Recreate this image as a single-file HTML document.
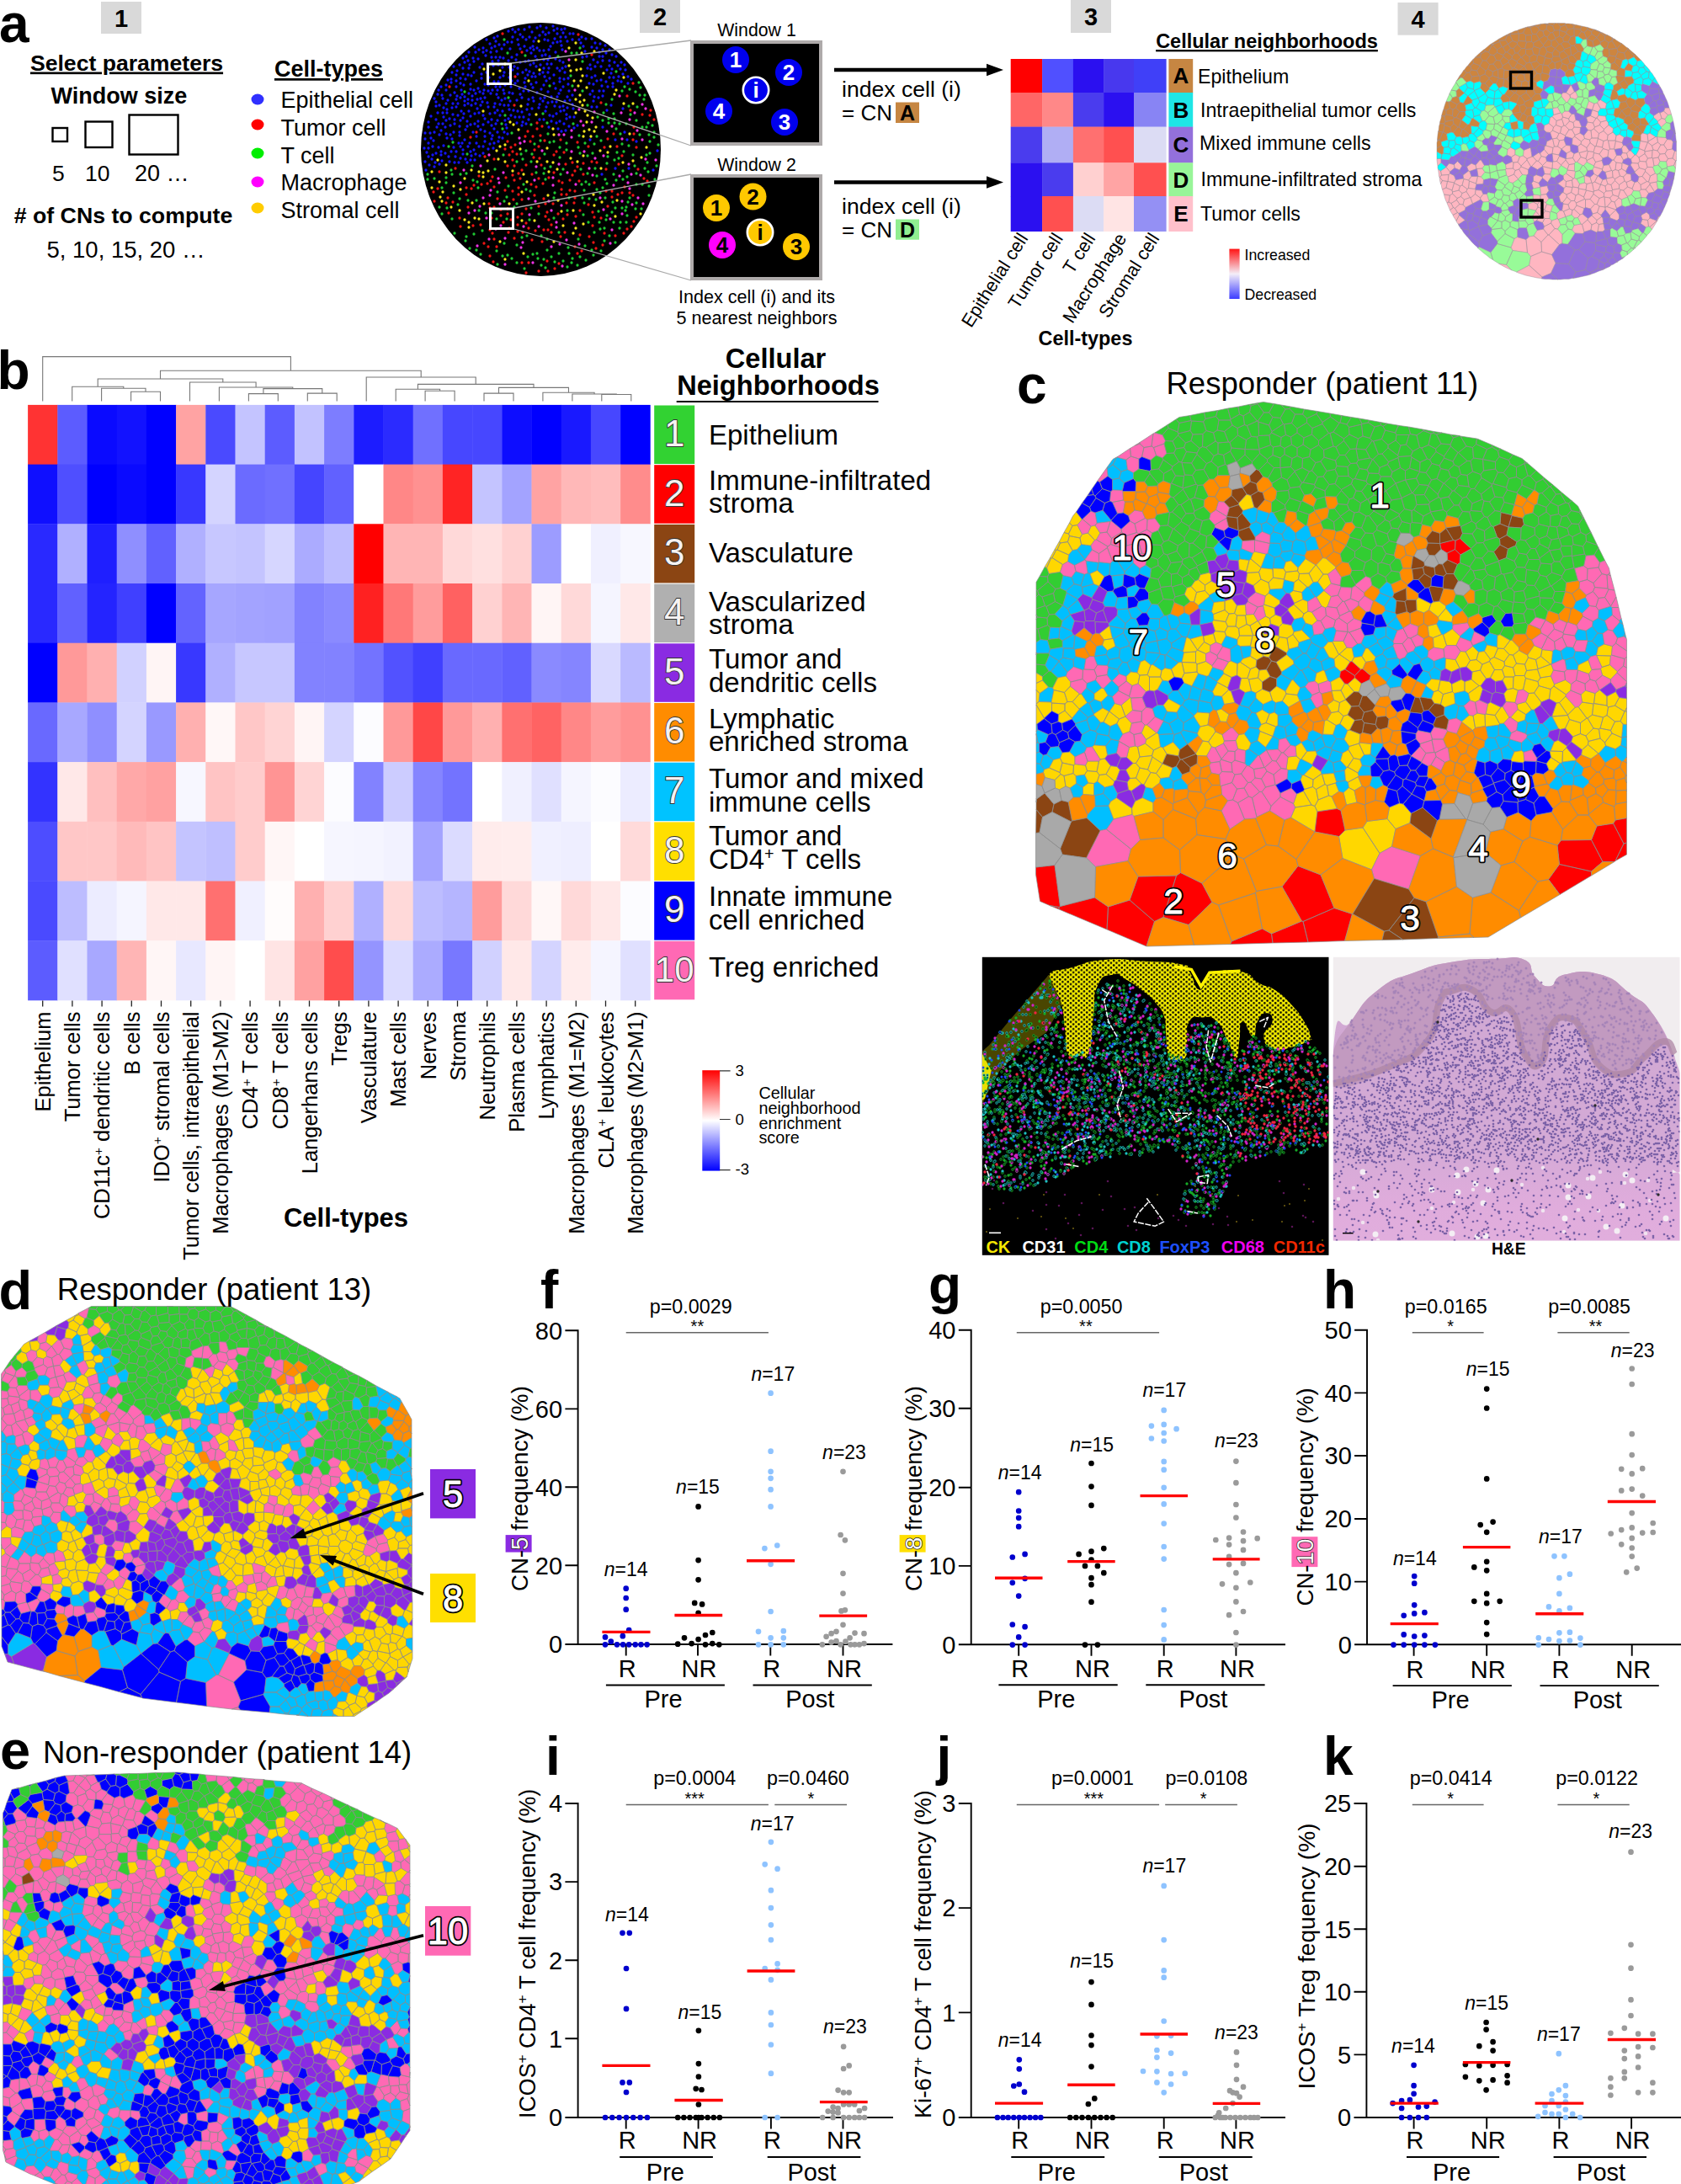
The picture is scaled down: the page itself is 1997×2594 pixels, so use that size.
<!DOCTYPE html>
<html lang="en"><head><meta charset="utf-8"><title>Figure</title>
<style>html,body{margin:0;padding:0;background:#fff}svg{display:block}text{font-family:"Liberation Sans", Arial, sans-serif}</style></head>
<body><svg width="1997" height="2594" viewBox="0 0 1997 2594">
<rect width="1997" height="2594" fill="#fff"/>
<text x="-1" y="50" font-size="64" font-weight="bold">a</text>
<rect x="120" y="2" width="48" height="38" fill="#d9d9d9"/>
<text x="144" y="31.5" font-size="29" text-anchor="middle" font-weight="bold">1</text>
<rect x="760" y="0" width="48" height="39" fill="#d9d9d9"/>
<text x="784" y="30" font-size="29" text-anchor="middle" font-weight="bold">2</text>
<rect x="1272" y="0" width="48" height="39" fill="#d9d9d9"/>
<text x="1296" y="30" font-size="29" text-anchor="middle" font-weight="bold">3</text>
<rect x="1660.5" y="3" width="48.1" height="38.7" fill="#d9d9d9"/>
<text x="1684.5" y="32.9" font-size="29" text-anchor="middle" font-weight="bold">4</text>
<text x="150.5" y="83.5" font-size="26.6" text-anchor="middle" font-weight="bold" text-decoration="underline">Select parameters</text>
<text x="141.5" y="123" font-size="27" text-anchor="middle" font-weight="bold">Window size</text>
<rect x="62.5" y="152" width="17.5" height="16" fill="none" stroke="#000" stroke-width="2.4"/>
<rect x="101.5" y="144.5" width="32" height="30.5" fill="none" stroke="#000" stroke-width="2.4"/>
<rect x="153.5" y="136.5" width="58" height="47" fill="none" stroke="#000" stroke-width="2.4"/>
<text x="62" y="215" font-size="26.5">5</text>
<text x="101" y="215" font-size="26.5">10</text>
<text x="160" y="215" font-size="27">20 …</text>
<text x="146.5" y="265" font-size="26.7" text-anchor="middle" font-weight="bold"># of CNs to compute</text>
<text x="149.5" y="306" font-size="27.5" text-anchor="middle">5, 10, 15, 20 …</text>
<text x="390.5" y="91" font-size="27" text-anchor="middle" font-weight="bold" text-decoration="underline">Cell-types</text>
<ellipse cx="306" cy="118" rx="7.5" ry="6.5" fill="#3030ff"/>
<text x="333.5" y="128" font-size="27">Epithelial cell</text>
<ellipse cx="306" cy="148" rx="7.5" ry="6.5" fill="#ff0000"/>
<text x="333.5" y="161" font-size="27">Tumor cell</text>
<ellipse cx="306" cy="182" rx="7.5" ry="6.5" fill="#00ee00"/>
<text x="333.5" y="193.5" font-size="27">T cell</text>
<ellipse cx="306" cy="216" rx="7.5" ry="6.5" fill="#ff00ff"/>
<text x="333.5" y="226" font-size="27">Macrophage</text>
<ellipse cx="306" cy="247" rx="7.5" ry="6.5" fill="#ffcc00"/>
<text x="333.5" y="258.5" font-size="27">Stromal cell</text>
<ellipse cx="642.5" cy="177.5" rx="142.5" ry="150.5" fill="#000"/>
<path d="M592 72h0M653 137h0M511 158h0M682 139h0M586 176h0M674 49h0M522 195h0M597 132h0M642 77h0M539 157h0M608 96h0M737 82h0M598 107h0M651 71h0M574 137h0M565 183h0M556 89h0M735 91h0M649 33h0M549 170h0M535 160h0M546 157h0M556 123h0M530 107h0M577 66h0M716 114h0M615 132h0M573 76h0M584 165h0M588 134h0M526 147h0M587 97h0M538 136h0M688 47h0M521 107h0M641 142h0M542 103h0M505 165h0M628 108h0M628 118h0M618 112h0M686 149h0M570 80h0M579 122h0M553 94h0M702 82h0M590 61h0M626 60h0M627 124h0M732 67h0M580 108h0M625 83h0M570 185h0M632 38h0M566 162h0M646 81h0M617 139h0M509 176h0M661 135h0M677 139h0M587 153h0M623 55h0M606 87h0M542 127h0M514 174h0M516 198h0M652 151h0M524 180h0M740 88h0M555 144h0M680 113h0M509 151h0M734 78h0M581 92h0M614 146h0M559 106h0M599 125h0M571 125h0M542 118h0M638 33h0M572 93h0M557 132h0M558 170h0M605 130h0M633 116h0M607 103h0M580 101h0M743 83h0M559 148h0M551 135h0M527 173h0M660 105h0M591 157h0M731 200h0M618 58h0M705 100h0M662 115h0M671 120h0M599 53h0M720 97h0M670 131h0M557 81h0M670 147h0M517 193h0M574 182h0M638 57h0M592 97h0M531 164h0M568 144h0M582 135h0M648 132h0M520 134h0M747 200h0M535 149h0M571 154h0M651 48h0M584 149h0M525 191h0M746 99h0M663 153h0M673 141h0M706 115h0M646 60h0M681 40h0M716 59h0M548 107h0M666 132h0M660 62h0M615 47h0M600 101h0M537 86h0M605 92h0M693 55h0M705 71h0M701 166h0M556 118h0M721 131h0M675 93h0M548 132h0M697 67h0M592 168h0M613 71h0M705 120h0M657 138h0M547 116h0M599 86h0M527 139h0M631 63h0M557 62h0M569 134h0M717 108h0M594 92h0M665 127h0M643 106h0M510 196h0M586 78h0M560 125h0M618 41h0M604 72h0M564 190h0M580 127h0M712 108h0M607 137h0M550 183h0M728 103h0M600 143h0M553 189h0M597 164h0M642 31h0M547 93h0M546 161h0M556 72h0M612 38h0M547 188h0M509 145h0M665 97h0M703 46h0M731 166h0M598 69h0M515 167h0M547 143h0M680 47h0M616 53h0M588 123h0M530 101h0M576 116h0M534 141h0M641 42h0M576 100h0M532 119h0M519 151h0M578 47h0M540 110h0M532 95h0M636 67h0M559 100h0M625 47h0M541 186h0M655 115h0M742 157h0M652 59h0M561 114h0M715 102h0M697 90h0M724 59h0M637 79h0M746 91h0M634 120h0M703 56h0M550 69h0M669 103h0M536 94h0M634 49h0M575 107h0M589 49h0M649 127h0M507 181h0M629 85h0M632 129h0M659 46h0M565 123h0M691 44h0M591 131h0M559 190h0M662 34h0M552 115h0M672 44h0M710 74h0M727 82h0M633 55h0M546 150h0M634 87h0M545 193h0M726 125h0M608 50h0M715 207h0M550 81h0M660 70h0M716 72h0M559 180h0M518 142h0M651 86h0M756 168h0M656 121h0M535 113h0M658 89h0M652 81h0M655 76h0M727 65h0M514 184h0M615 96h0M623 98h0M574 62h0M563 73h0M505 192h0M552 74h0M625 147h0M701 77h0M646 71h0M709 96h0M665 93h0M665 84h0M709 57h0M524 103h0M571 117h0M716 151h0M574 174h0M584 142h0M672 79h0M587 45h0M565 62h0M582 52h0M638 71h0M606 58h0M539 175h0M629 32h0M728 99h0M615 81h0M614 65h0M629 136h0M516 117h0M642 117h0M576 168h0M716 67h0M655 144h0M594 124h0M700 99h0M651 109h0M566 96h0M550 178h0M707 79h0M544 137h0M647 116h0M658 36h0M653 67h0M738 97h0M562 157h0M740 129h0M745 166h0M563 178h0M617 105h0M722 103h0M569 59h0M659 126h0M623 35h0M714 95h0M662 50h0M661 146h0M559 138h0M605 110h0M634 59h0M547 99h0M536 180h0M593 53h0M569 174h0M527 128h0M645 38h0M629 44h0M594 68h0M606 120h0M612 139h0M677 40h0M636 45h0M666 49h0M583 62h0M603 50h0M518 126h0M542 180h0M554 67h0M620 116h0M521 175h0M521 147h0M630 77h0M589 68h0M641 88h0M738 74h0M562 69h0M512 164h0M524 155h0M512 138h0M658 99h0M526 134h0M644 66h0M563 86h0M592 77h0M566 170h0M647 91h0M597 80h0M657 51h0M557 111h0M633 104h0M598 90h0M612 99h0M664 111h0M524 184h0M661 121h0M681 129h0M608 68h0M605 80h0M596 58h0M670 94h0M703 92h0M542 96h0M632 91h0M604 141h0M505 158h0M711 116h0M726 87h0M671 86h0M701 112h0M676 150h0M589 103h0M539 79h0M720 63h0M614 119h0M662 40h0M552 166h0M695 61h0M672 155h0M563 107h0M576 156h0M582 158h0M574 148h0M636 91h0M564 147h0M513 189h0M724 78h0M549 112h0M525 113h0M534 192h0M648 65h0M556 174h0M667 54h0M609 111h0M543 84h0M729 92h0M560 90h0M530 143h0M750 94h0M594 137h0M622 139h0M587 170h0M603 159h0M531 134h0M593 163h0M651 122h0M620 149h0M567 118h0M600 117h0M558 77h0M568 70h0M591 43h0M564 135h0M574 57h0M553 154h0M561 119h0M609 83h0M580 177h0M590 112h0M518 182h0M628 142h0M628 72h0M652 39h0M698 81h0M555 193h0M504 176h0M640 128h0M621 86h0M594 103h0M704 108h0M506 202h0M520 112h0M730 74h0M589 147h0M538 123h0M530 123h0M707 51h0M585 73h0M544 123h0M622 108h0M676 108h0M667 35h0M583 111h0M709 127h0M714 79h0M551 101h0M518 121h0M584 68h0M671 34h0M674 128h0M719 54h0M545 170h0M742 77h0M537 165h0M668 81h0M713 52h0M654 55h0M646 142h0M596 119h0M585 107h0M677 119h0M665 72h0M712 67h0M615 88h0M665 144h0M546 77h0M611 79h0M555 150h0M587 127h0M653 93h0M673 136h0M529 151h0M509 170h0M626 130h0M568 105h0M646 101h0M666 44h0M641 124h0M591 107h0M680 124h0M601 148h0M580 145h0M616 35h0M637 98h0M588 55h0M609 35h0M568 150h0M666 107h0M692 68h0M604 37h0M734 96h0M542 89h0M647 47h0M552 120h0M721 83h0M573 121h0M540 147h0M550 88h0M674 115h0M543 114h0M602 152h0M624 73h0M657 31h0M599 157h0M781 179h0M580 80h0M604 125h0M724 92h0M638 110h0M591 143h0M668 59h0M531 130h0M584 57h0M592 116h0M669 39h0M621 44h0M582 171h0M529 182h0M560 185h0M516 157h0M630 57h0M620 133h0M522 125h0M627 89h0M522 160h0M645 120h0M624 93h0M690 51h0M650 76h0M712 62h0M776 202h0M533 186h0M609 44h0M570 109h0M599 111h0M634 75h0M537 128h0M649 96h0M667 156h0M530 159h0M682 152h0M662 81h0M540 193h0M576 141h0M669 74h0M576 162h0M707 90h0M567 129h0M648 41h0M578 86h0M509 186h0M675 100h0M641 60h0M669 126h0M645 86h0M585 161h0M565 111h0M526 117h0M547 174h0M624 103h0M724 72h0M621 145h0M618 74h0M564 56h0M572 88h0M540 142h0M703 127h0M610 131h0M536 98h0M631 100h0M552 125h0M578 60h0M574 111h0M550 140h0M696 46h0" stroke="#1414ff" stroke-width="3.3" stroke-linecap="round" fill="none"/>
<path d="M621 276h0M745 114h0M763 136h0M601 211h0M652 211h0M612 172h0M652 261h0M772 137h0M646 236h0M709 193h0M748 229h0M635 178h0M611 125h0M647 167h0M595 256h0M605 271h0M684 257h0M586 311h0M612 91h0M554 223h0M670 181h0M616 223h0M671 276h0M682 241h0M597 40h0M727 227h0M556 246h0M752 166h0M741 277h0M614 183h0M722 165h0M583 215h0M604 276h0M618 212h0M581 242h0M689 250h0M720 201h0M752 99h0M700 281h0M580 293h0M683 203h0M620 237h0M562 268h0M739 229h0M591 236h0M749 131h0M703 65h0M673 231h0M603 197h0M686 169h0M595 249h0M753 159h0M587 222h0M584 259h0M625 248h0M642 161h0M541 200h0M651 273h0M582 273h0M735 195h0M538 240h0M718 277h0M637 222h0M554 231h0M603 168h0M645 218h0M616 231h0M683 227h0M686 301h0M609 227h0M752 232h0M560 224h0M758 201h0M641 188h0M691 298h0M706 217h0M636 274h0M661 180h0M731 280h0M532 235h0M686 198h0M571 267h0M689 279h0M720 227h0M605 184h0M566 157h0M742 222h0M688 215h0M722 245h0M598 264h0M704 252h0M765 212h0M704 268h0M677 226h0M632 207h0M625 265h0M579 218h0M587 246h0M683 235h0M727 234h0M607 175h0M769 215h0M627 156h0M650 252h0M533 253h0M600 177h0M640 174h0M585 210h0M673 241h0M620 202h0M620 312h0M658 205h0M733 174h0M625 324h0M674 255h0M559 163h0M643 196h0M634 187h0M659 319h0M666 166h0M582 247h0M609 208h0M620 254h0M515 228h0M569 209h0M603 248h0M714 259h0M699 174h0M729 159h0M635 232h0M750 269h0M655 267h0M522 204h0M658 184h0M520 224h0M640 212h0M611 214h0M663 254h0M705 288h0M582 304h0M576 186h0M603 254h0M644 150h0M664 313h0M664 215h0M693 207h0M615 258h0M714 122h0M587 189h0M739 185h0M530 241h0M624 162h0M734 231h0M534 103h0M572 219h0M609 180h0M625 196h0M648 257h0M699 243h0M677 214h0M706 258h0M753 151h0M600 226h0M668 217h0M669 260h0M703 192h0M680 208h0M745 272h0M633 162h0M609 190h0M650 310h0M672 195h0M590 293h0M546 259h0M753 263h0M667 225h0M628 271h0M687 41h0M657 242h0M646 273h0M638 146h0M547 269h0M610 237h0M615 267h0M648 242h0M777 142h0M683 293h0M616 206h0M718 175h0M516 239h0M655 276h0M773 131h0M680 193h0M620 62h0M640 245h0M708 295h0M666 281h0M638 153h0M585 277h0M756 258h0M716 291h0M756 175h0M563 220h0M615 275h0M667 231h0M630 168h0M611 197h0M575 289h0M640 322h0M693 194h0M644 287h0M587 284h0M607 261h0M628 312h0M611 283h0M632 285h0M651 322h0M631 219h0" stroke="#f01414" stroke-width="3.3" stroke-linecap="round" fill="none"/>
<path d="M679 312h0M588 201h0M771 232h0M533 174h0M614 312h0M760 160h0M659 311h0M544 243h0M727 252h0M719 213h0M692 235h0M566 297h0M590 260h0M614 291h0M638 301h0M577 253h0M756 143h0M651 159h0M680 102h0M765 118h0M678 90h0M721 256h0M688 161h0M732 85h0M563 278h0M637 205h0M710 139h0M755 248h0M728 240h0M669 201h0M530 211h0M706 171h0M653 169h0M599 239h0M699 264h0M622 219h0M540 277h0M547 207h0M760 113h0M698 206h0M604 221h0M731 288h0M752 184h0M530 217h0M747 173h0M633 302h0M777 157h0M539 229h0M531 247h0M650 146h0M655 305h0M772 182h0M631 192h0M711 251h0M647 183h0M740 203h0M720 124h0M590 298h0M658 168h0M771 160h0M679 63h0M556 238h0M650 297h0M744 264h0M689 182h0M721 218h0M782 172h0M597 304h0M516 212h0M621 189h0M714 167h0M698 125h0M567 216h0M689 305h0M692 73h0M761 104h0M658 259h0M525 254h0M694 241h0M608 158h0M704 182h0M522 246h0M676 235h0M768 151h0M732 153h0M552 109h0M696 309h0M687 175h0M659 229h0M603 303h0M690 201h0M729 135h0M737 264h0M568 223h0M736 271h0M603 63h0M743 250h0M673 170h0M573 274h0M630 227h0M756 206h0M747 126h0M732 214h0M695 170h0M687 284h0M693 255h0M739 247h0M646 308h0M696 216h0M778 213h0M729 264h0M719 235h0M508 207h0M602 260h0M689 57h0M724 280h0M746 240h0M597 153h0M709 225h0M625 179h0M646 206h0M608 307h0M730 190h0M727 118h0M566 238h0M708 237h0M596 147h0M692 108h0M759 98h0M648 318h0M733 181h0M525 223h0M537 207h0M736 147h0M665 187h0M611 246h0M664 301h0M713 229h0M680 307h0M762 248h0M599 47h0M624 66h0M706 276h0M650 284h0M770 146h0M748 106h0M703 297h0M602 234h0M643 315h0M771 221h0M675 294h0M716 223h0M722 186h0M741 180h0M756 219h0M640 254h0M713 272h0M666 207h0M663 67h0M756 241h0M620 282h0M654 198h0M739 108h0M777 163h0M754 197h0M698 185h0M681 147h0M721 194h0M538 169h0M700 236h0M645 135h0M707 200h0M604 116h0M614 192h0M558 295h0M569 250h0M629 261h0M729 207h0M712 264h0M775 149h0M643 280h0M626 280h0M744 246h0M555 183h0M631 247h0M705 303h0M686 315h0M766 200h0M766 113h0M546 236h0M694 226h0M674 250h0M591 228h0M536 202h0M537 260h0M571 302h0M562 214h0M664 276h0M584 253h0M731 247h0M745 256h0M554 206h0M647 200h0M740 213h0M685 63h0M757 127h0M772 168h0M717 134h0M674 317h0M619 183h0M763 151h0M755 109h0M714 298h0M591 314h0M639 307h0M769 193h0M709 209h0M723 146h0M739 171h0M716 143h0M748 235h0M669 310h0M554 281h0M768 184h0M627 305h0M695 292h0M631 148h0M648 213h0M780 197h0M730 146h0M599 289h0M745 210h0M763 219h0M614 242h0M718 286h0M770 204h0M623 319h0M653 102h0M508 213h0M598 184h0M749 136h0M709 162h0M600 137h0M720 261h0M723 141h0M658 235h0M742 103h0M700 219h0M665 175h0M635 171h0M691 219h0M625 225h0M673 178h0M737 159h0M744 147h0M676 301h0M718 271h0M642 167h0M553 286h0M730 141h0M632 183h0M561 197h0M735 188h0" stroke="#1ec832" stroke-width="3.3" stroke-linecap="round" fill="none"/>
<path d="M574 235h0M595 268h0M676 71h0M764 242h0M748 142h0M589 272h0M713 235h0M757 155h0M657 220h0M581 184h0M640 269h0M570 245h0M592 212h0M688 290h0M564 250h0M738 134h0M688 130h0M557 253h0M571 197h0M700 200h0M683 107h0M670 160h0M693 149h0M551 202h0M721 156h0M703 145h0M618 170h0M621 288h0M673 285h0M635 214h0M547 217h0M763 166h0M739 165h0M600 283h0M636 239h0M617 164h0M657 211h0M706 133h0M652 239h0M679 180h0M679 155h0M767 129h0M779 190h0M679 163h0M746 217h0M754 134h0M655 250h0M725 289h0M739 239h0M668 316h0M739 254h0M600 314h0M628 236h0M633 312h0M667 244h0M750 207h0M684 219h0M578 259h0M567 292h0M758 235h0M704 208h0M655 293h0M582 232h0M747 195h0M690 144h0M727 150h0M729 220h0M623 168h0M717 249h0M664 195h0M665 290h0M644 179h0M598 205h0M727 273h0M763 124h0M619 294h0M594 242h0M725 260h0M672 61h0M593 217h0M767 189h0M661 270h0M629 255h0M694 180h0M707 188h0M674 205h0M622 269h0M736 209h0M751 243h0M583 226h0M748 224h0M581 284h0M664 160h0M661 264h0M637 198h0M761 208h0M717 185h0M682 265h0M736 114h0" stroke="#f032e6" stroke-width="3.3" stroke-linecap="round" fill="none"/>
<path d="M694 156h0M600 192h0M569 204h0M530 196h0M658 160h0M663 238h0M574 210h0M575 82h0M560 202h0M606 145h0M691 63h0M640 49h0M684 118h0M650 192h0M684 51h0M525 239h0M702 162h0M722 181h0M539 221h0M717 87h0M594 84h0M547 225h0M687 102h0M752 191h0M730 112h0M676 78h0M609 203h0M748 159h0M622 301h0M693 185h0M695 132h0M684 134h0M523 234h0M685 83h0M725 174h0M628 96h0M694 119h0M574 205h0M650 176h0M704 140h0M690 96h0M600 172h0M600 76h0M569 260h0M557 270h0M706 244h0M530 205h0M681 250h0M669 268h0M689 121h0M616 154h0M619 126h0M590 179h0M697 145h0M651 232h0M520 190h0M698 137h0M622 207h0M678 84h0M605 242h0M586 88h0M580 203h0M620 228h0M693 162h0M552 212h0M594 287h0M657 193h0M741 123h0M682 96h0M762 187h0M697 104h0M546 250h0M700 154h0M513 223h0M626 216h0M732 107h0M714 200h0M741 92h0M761 254h0M684 71h0M686 192h0M678 188h0M708 151h0M513 204h0M667 251h0M690 82h0M574 132h0M713 179h0M752 123h0M706 61h0M637 136h0M610 148h0M689 113h0M684 271h0M692 90h0M676 57h0M561 241h0M638 192h0M552 261h0M768 175h0M592 189h0M526 228h0M658 287h0M579 191h0M731 257h0M692 125h0M564 259h0M705 231h0M657 153h0M681 277h0M575 242h0M715 240h0M740 193h0M706 156h0M693 266h0M594 174h0M652 204h0M641 83h0M662 201h0M618 177h0M522 216h0M557 264h0M536 246h0M635 262h0M600 308h0M733 238h0M620 262h0" stroke="#f5e61e" stroke-width="3.3" stroke-linecap="round" fill="none"/>
<rect x="579.5" y="76" width="27.0" height="23.5" fill="none" stroke="#fff" stroke-width="3"/>
<rect x="582.5" y="248" width="27.0" height="23.5" fill="none" stroke="#fff" stroke-width="3"/>
<path d="M608 75L821 48M608 100L821 173M611 247L821 207M611 272L821 333" stroke="#aaa" stroke-width="1.3" fill="none"/>
<rect x="822" y="50" width="153" height="121" fill="#000" stroke="#aeaaaa" stroke-width="4"/>
<text x="899" y="43" font-size="21.3" text-anchor="middle">Window 1</text>
<rect x="822" y="209" width="153" height="122" fill="#000" stroke="#aeaaaa" stroke-width="4"/>
<text x="899" y="203" font-size="21.3" text-anchor="middle">Window 2</text>
<circle cx="874" cy="71" r="16" fill="#0000ee"/><text x="874" y="80.3" font-size="26" text-anchor="middle" font-weight="bold" fill="#fff">1</text>
<circle cx="937" cy="86" r="16" fill="#0000ee"/><text x="937" y="95.3" font-size="26" text-anchor="middle" font-weight="bold" fill="#fff">2</text>
<circle cx="854" cy="132" r="16" fill="#0000ee"/><text x="854" y="141.3" font-size="26" text-anchor="middle" font-weight="bold" fill="#fff">4</text>
<circle cx="932" cy="145" r="16" fill="#0000ee"/><text x="932" y="154.3" font-size="26" text-anchor="middle" font-weight="bold" fill="#fff">3</text>
<circle cx="898" cy="107" r="15.2" fill="#0000ee" stroke="#fff" stroke-width="2.6"/><text x="898" y="116.3" font-size="26" text-anchor="middle" font-weight="bold" fill="#fff">i</text>
<circle cx="851" cy="247" r="16" fill="#ffc800"/><text x="851" y="256.3" font-size="26" text-anchor="middle" font-weight="bold" fill="#000">1</text>
<circle cx="894.5" cy="233.5" r="16" fill="#ffc800"/><text x="894.5" y="242.8" font-size="26" text-anchor="middle" font-weight="bold" fill="#000">2</text>
<circle cx="946" cy="293" r="16" fill="#ffc800"/><text x="946" y="302.3" font-size="26" text-anchor="middle" font-weight="bold" fill="#000">3</text>
<circle cx="858" cy="291" r="16" fill="#ff00ff"/><text x="858" y="300.3" font-size="26" text-anchor="middle" font-weight="bold" fill="#000">4</text>
<circle cx="903" cy="276" r="15.2" fill="#ffc800" stroke="#fff" stroke-width="2.6"/><text x="903" y="285.3" font-size="26" text-anchor="middle" font-weight="bold" fill="#000">i</text>
<text x="899" y="359.5" font-size="21.6" text-anchor="middle">Index cell (i) and its</text>
<text x="899" y="385" font-size="21.6" text-anchor="middle">5 nearest neighbors</text>
<path d="M991 83H1176" stroke="#000" stroke-width="4.4"/><path d="M1192 83L1172 75.8V90.2z"/>
<path d="M991 216.5H1176" stroke="#000" stroke-width="4.4"/><path d="M1192 216.5L1172 209.3V223.7z"/>
<text x="1000" y="115" font-size="26.6">index cell (i)</text>
<text x="1000" y="143" font-size="26">= CN</text>
<rect x="1064" y="121.5" width="28" height="24.5" fill="#c68642"/>
<text x="1078" y="142.5" font-size="25" text-anchor="middle" font-weight="bold">A</text>
<text x="1000" y="253.6" font-size="26.6">index cell (i)</text>
<text x="1000" y="281.5" font-size="26">= CN</text>
<rect x="1064" y="260.5" width="28" height="24.2" fill="#90ee90"/>
<text x="1078" y="281.5" font-size="25" text-anchor="middle" font-weight="bold">D</text>
<rect x="1200.7" y="70" width="37.7" height="40.3" fill="#ff0000"/>
<rect x="1238.1" y="70" width="37.1" height="40.3" fill="#5050ff"/>
<rect x="1274.9" y="70" width="36.5" height="40.3" fill="#2b10f0"/>
<rect x="1311.1" y="70" width="36.2" height="40.3" fill="#4838ee"/>
<rect x="1347" y="70" width="38.6" height="40.3" fill="#4040f8"/>
<rect x="1200.7" y="110" width="37.7" height="40.9" fill="#ff6666"/>
<rect x="1238.1" y="110" width="37.1" height="40.9" fill="#ff8888"/>
<rect x="1274.9" y="110" width="36.5" height="40.9" fill="#4a3cee"/>
<rect x="1311.1" y="110" width="36.2" height="40.9" fill="#2b10f0"/>
<rect x="1347" y="110" width="38.6" height="40.9" fill="#8884f4"/>
<rect x="1200.7" y="150.6" width="37.7" height="43" fill="#4a3cee"/>
<rect x="1238.1" y="150.6" width="37.1" height="43" fill="#b0aef4"/>
<rect x="1274.9" y="150.6" width="36.5" height="43" fill="#ff7070"/>
<rect x="1311.1" y="150.6" width="36.2" height="43" fill="#ff5050"/>
<rect x="1347" y="150.6" width="38.6" height="43" fill="#dcdcf4"/>
<rect x="1200.7" y="193.3" width="37.7" height="40" fill="#2b10f0"/>
<rect x="1238.1" y="193.3" width="37.1" height="40" fill="#4a3cee"/>
<rect x="1274.9" y="193.3" width="36.5" height="40" fill="#ffd0d0"/>
<rect x="1311.1" y="193.3" width="36.2" height="40" fill="#ffa4a4"/>
<rect x="1347" y="193.3" width="38.6" height="40" fill="#ff5050"/>
<rect x="1200.7" y="233" width="37.7" height="42" fill="#2b10f0"/>
<rect x="1238.1" y="233" width="37.1" height="42" fill="#ff5050"/>
<rect x="1274.9" y="233" width="36.5" height="42" fill="#dcdcf4"/>
<rect x="1311.1" y="233" width="36.2" height="42" fill="#ffe4e4"/>
<rect x="1347" y="233" width="38.6" height="42" fill="#9490f4"/>
<rect x="1388.4" y="70" width="28.8" height="40.3" fill="#c68642"/>
<text x="1402.8" y="99.3" font-size="26" text-anchor="middle" font-weight="bold">A</text>
<text x="1423" y="99.3" font-size="23.2">Epithelium</text>
<rect x="1388.4" y="110" width="28.8" height="40.9" fill="#1ee6e6"/>
<text x="1402.8" y="139.6" font-size="26" text-anchor="middle" font-weight="bold">B</text>
<text x="1426" y="139" font-size="23.2">Intraepithelial tumor cells</text>
<rect x="1388.4" y="150.6" width="28.8" height="43" fill="#9370db"/>
<text x="1402.8" y="181.2" font-size="26" text-anchor="middle" font-weight="bold">C</text>
<text x="1425" y="178" font-size="23.2">Mixed immune cells</text>
<rect x="1388.4" y="193.3" width="28.8" height="40" fill="#98f598"/>
<text x="1402.8" y="222.5" font-size="26" text-anchor="middle" font-weight="bold">D</text>
<text x="1426.5" y="220.5" font-size="23.2">Immune-infiltrated stroma</text>
<rect x="1388.4" y="233" width="28.8" height="42" fill="#ffc0cb"/>
<text x="1402.8" y="263.1" font-size="26" text-anchor="middle" font-weight="bold">E</text>
<text x="1426" y="262" font-size="23.2">Tumor cells</text>
<text x="1505" y="57" font-size="23.5" text-anchor="middle" font-weight="bold" text-decoration="underline">Cellular neighborhoods</text>
<text transform="translate(1222 283) rotate(-57.5)" font-size="21.8" text-anchor="end">Epithelial cell</text>
<text transform="translate(1263.5 283) rotate(-57.5)" font-size="21.8" text-anchor="end">Tumor cell</text>
<text transform="translate(1302 283) rotate(-57.5)" font-size="21.8" text-anchor="end">T cell</text>
<text transform="translate(1339 283) rotate(-57.5)" font-size="21.8" text-anchor="end">Macrophage</text>
<text transform="translate(1378 283) rotate(-57.5)" font-size="21.8" text-anchor="end">Stromal cell</text>
<text x="1289.5" y="410" font-size="23.4" text-anchor="middle" font-weight="bold">Cell-types</text>
<defs><linearGradient id="g1" x1="0" y1="0" x2="0" y2="1"><stop offset="0" stop-color="#ff1414"/><stop offset=".5" stop-color="#f4eef8"/><stop offset="1" stop-color="#3c3cff"/></linearGradient></defs>
<rect x="1460.4" y="295.6" width="12.2" height="59.4" fill="url(#g1)"/>
<text x="1478.6" y="308.8" font-size="17.7">Increased</text>
<text x="1478.6" y="356" font-size="17.7">Decreased</text>
<g transform="translate(1706 27) scale(0.5)" stroke="#9a8f9a" stroke-width="0.9" stroke-linejoin="round">
<path fill="#ffb6c1" d="M298 300l-9-6-8 0-3 3-2 14 16 3zM293 280l-6-6-10 2 4 18 8 0zM309 291l-5-13-11 2-4 14 9 6zM261 292l2-10 13-6 1 0 4 18-3 3zM293 317l-6 12 10 9 11-12 0-3zM257 301l1-8 3-1 17 5-2 14-9 2zM250 317l-7 12 10 10 10-10-2-9zM277 276l10-2 5-11-15-7-6 5 5 15zM308 323l0 3 8 11 13-2 2-4-6-10-16 2zM297 338l11-12 8 11-4 11-15-9zM309 291l-11 9 12 10 10-5-1-13zM293 280l-6-6 5-11 3-1 12 6 0 2-3 8zM316 254l-9 14-12-6 3-14 6-4 3 1zM277 256l-6 5-9-1-6-6 1-10 11-5 11 9zM250 317l-7 12-4-1-9-10 13-9 4 1zM277 256l15 7 3-1 3-14-13-5-6 5zM337 293l7-5 1-6-16-12-5 5-1 14zM253 341l-12 8-14-8 12-13 4 1 10 10zM324 275l-17-5 0-2 9-14 7 0 7 13-1 3zM310 310l-1 13 16-2 3-10-8-6zM358 297l8-12-1-7-12-3-8 7-1 6zM317 234l-10 11 9 9 7 0 5-6-2-11zM338 307l2 2 4 10-9 12-4 0-6-10 3-10zM342 262l-12 5-1 3 16 12 8-7-2-7zM358 331l-7 8-3 0-13-8 9-12 12 4 2 4zM340 309l4 10 12 4 5-18-2-1zM317 234l-10 11-3-1-5-15 2-5 14 4zM361 255l7 1 2 18-5 4-12-3-2-7zM208 303l15-6 2 1 3 20-12 5-9-7zM343 249l-15-1-5 6 7 13 12-5zM276 311l16 3 1 3-6 12-9 1zM277 331l-1 15 14 3 7-10 0-1-10-9-9 1zM366 285l-1-7 5-4 15 0 0 1-5 18-2 1zM338 307l2 2 19-5-1-7-14-9-7 5zM326 237l2 11 15 1 3-2-6-14-8-2zM358 331l17 9 4-9-6-11-15 7zM225 341l2 0 12-13-9-10-2 0-12 5 0 3zM361 255l7 1 7-4 2-4-4-10-13-2-5 11zM358 297l8-12 12 9-4 13-13-2-2-1zM358 327l15-7 2-11-1-2-13-2-5 18zM317 234l9 3 6-6-3-14-7 0-7 11zM385 274l-15 0-2-18 7-4 12 11zM396 322l-8-10-13-3-2 11 6 11 15-4zM408 318l2-15-13-4-9 13 8 10zM397 299l-2-3-15-3-2 1-4 13 1 2 13 3zM398 281l-13-6-5 18 15 3zM410 303l-13-4-2-3 3-15 9-3 2 2 4 20zM202 342l17 7 6-8-9-15-14 14zM394 327l-15 4-4 9 0 2 20 6 3-9zM326 370l-17-12 3-8 17 2 2 2-2 15zM407 278l1-11-10-10-11 6-2 11 0 1 13 6zM309 377l-6-5-1-9 7-5 17 12-3 4zM315 228l-14-4-2-8 7-6 9 0 7 7zM419 326l-11-8 2-15 3-3 10 0 1 1 5 14-7 11zM387 263l-12-11 2-4 12-5 10 10-1 4zM338 392l-13-2-2-16 3-4 3-1 5 2 7 12zM188 351l9-3 5-6 0-2-8-9-10 1-1 14zM253 341l5 18 13 1 5-13zM409 280l17 0 2-12-8-8-12 7-1 11zM299 229l5 15-6 4-13-5 1-10zM316 337l13-2 0 17-17-2 0-2zM324 391l-3 12-11 5-8-5 2-10 4-4zM309 377l-6-5-14 10 15 11 4-4zM199 318l8-2 9 7 0 3-14 14-8-9zM385 364l10-13 0-3-20-6-3 7 3 10 9 5zM195 371l10-10-8-13-9 3-3 9zM358 383l12-3-4-13-12-4-2 1 1 16zM277 331l-1 15 0 1-23-6 0-2 10-10zM417 351l-15 4-7-4 0-3 3-9 13-2zM377 378l7-14 1 0 11 9-5 11 0 1zM197 348l5-6 17 7 0 10-4 3-10-1zM377 378l7-14-9-5-9 8 4 13 1 1zM445 291l-4 7-17 3-1-1 4-19 15 4zM250 317l11 3 6-7-10-12-10 9zM389 243l10 10 11-10-1-6-4-5-14 4zM301 224l-2-8-3-2-17 5-3 4 10 10 13-4zM185 360l3-9-5-5-17 1-1 2 2 13 4 4zM181 330l3 2 10-1 5-13-11-5-9 6zM428 332l14 2 1-1 2-7-6-11-10 0-7 11zM445 291l6 1 8 12-6 6-10-1-2-11zM195 372l-13 9-9-3-2-12 14-6 10 11zM383 190l8 14-6 8-14-5 5-15zM371 381l-1-1-12 3-2 14 1 1 17 4 1-2zM417 351l-6-14 8-11 3 0 6 6-2 17-7 3zM265 379l9-13-3-6-13-1-6 7 1 3zM408 267l12-7 1-9-11-8-11 10-1 4zM244 381l-13-5 0-11 7-4 14 5 1 3zM168 314l2-13 7-5 11 6 0 11-9 6zM358 383l-2 14-17-3-1-2 3-9 12-3zM299 404l-7 9 4 13 5 1 10-13-1-6-8-5zM399 405l-13-8 5-12 0-1 11 4 2 12zM276 223l-5 2-3 14 11 9 6-5 1-10zM165 337l1 10 17-1 1-14-3-2zM386 185l-3 5 8 14 12 0 2-12-14-9zM355 420l11-1 8-12 0-5-17-4-6 16 2 5zM417 351l-15 4 4 15 14-3-1-15zM420 367l5 4 0 4-9 10-8-2-4-12 2-1zM357 225l3 11 13 2 7-11-13-6zM367 221l13 6 2-1 4-6-1-8-14-5zM426 349l7 2 8-4 1-13-14-2zM419 352l1 15 5 4 12-7-4-13-7-2zM437 364l-12 7 0 4 10 10 13-9-3-10zM231 394l-4-13 4-5 13 5 4 9-1 1zM376 192l-5 15-14-4 6-17zM456 321l-3-11-10-1-4 6 6 11zM442 285l5-13-11-7-8 3-2 12 1 1zM389 243l-12 5-4-10 7-11 2-1 9 10zM404 400l-2-12 6-5 8 2 3 12-1 2zM319 178l-1-6 11-8 3 0 5 12-5 6zM433 351l4 13 8 2 8-8-2-5-10-6zM418 399l1-2 16-3 3 3-5 16-13-4zM462 338l10 16 11-9-3-11-15-1zM249 409l13-2 6-8-4-12-16 3-1 1zM399 413l-11 4-14-10 0-5 1-2 11-3 13 8zM435 385l0 9-16 3-3-12 9-10zM399 413l0-8 5-5 14-1 2 10-7 7-13-2zM351 414l-13-7 1-13 17 3 1 1zM463 324l2 9 15 1 4-5-2-9-7-6-3 0zM338 392l-13-2-1 1-3 12 11 7 6-3 1-13zM448 376l4 3 3 11-10 8-7-1-3-3 0-9zM455 413l9-5 5-9-3-5-11-4-10 8zM391 236l-9-10 4-6 17 2 2 10zM248 423l13 4 7-9-6-11-13 2-1 1zM423 300l-10 0-4-20 17 0 1 1zM353 419l-20 9-4-5 3-13 6-3 13 7zM355 420l0 19-3 2-18-7-1-6 20-9zM475 314l8-15 12 5 1 2 0 5-14 9zM399 413l-11 4-6 14 6 5 14 2-2-24zM377 378l14 7-5 12-11 3-4-19zM241 431l1 7 16 6 5-13-2-4-13-4zM332 410l-3 13-8 0-10-9-1-6 11-5zM298 170l0 5 11 14 3 0 7-11-1-6-9-6-7 0zM110 346l-13 1-1 0-2-9 10-12 3 0 8 13zM329 164l-11 8-9-6 11-18 1 0zM483 299l-1-1 3-17 1 0 17 3-8 20zM456 321l7 3 9-10-9-10-4 0-6 6zM472 379l-6 15 3 5 14 1 4-4-1-11-7-8zM355 420l0 19 12 3 10-11-11-12zM434 416l7 4 1 14-13 7-5-15zM317 442l7 3 4-2 6-9-1-6-4-5-8 0-7 9zM352 441l-4 13-6 2-14-13 6-9zM497 349l5-6-3-13-15-1-4 5 3 11zM94 397l-1 10 12 9 7-9-4-9zM396 373l8-2 4 12-6 5-11-4zM472 356l0-2 11-9 14 4 0 4-7 12-8 1zM434 416l7 4 14-6 0-1-10-15-7-1-5 16zM231 426l-12 4 0 11 0 1 18 4 5-8-1-7zM259 447l-1-3 5-13 14 4-4 13-2 2zM366 419l11 12 5 0 6-14-14-10zM303 448l5 13-17 6-3-2-1-12 7-7 5 0zM445 366l3 10 4 3 12-5-1-14-10-2zM472 379l-6 15-11-4-3-11 12-5zM110 346l6 9-9 11-7-1-3-18zM270 465l1-15-12-3-6 10 5 8zM302 430l-1-3 10-13 10 9-7 9zM93 395l-16-2-3 2-2 6 9 14 1 1 11-9 1-10zM482 320l14-9 7 11-4 8-15-1zM413 416l4 8 7 2 10-10-1-3-13-4zM496 311l7 11 10-1 1-18-18 3zM479 377l7 8 15-8-11-12-8 1zM400 414l2 24 4-1 11-13-4-8zM303 448l5 13 14-5 2-11-7-3zM231 426l-1-15 2-3 16 2 0 13-7 8zM93 395l-16-2 2-17 16 6 1 2zM508 381l0 3-10 12-11 0-1-11 15-8 4 1zM273 476l9 13 7 1 7-10-5-13-3-2-13 5zM522 271l-18 11-2-17 6-3zM427 444l-21-7-4 1 0 6 11 14 14-13zM515 343l3-3-3-18-2-1-10 1-4 8 3 13zM504 282l-2-17-10-3-2 0-4 5 0 14 17 3zM296 214l-7-13-11 2-1 1 2 15zM388 436l-6-5-5 0-10 11 5 12 11-3zM513 292l3 10 10 2 8-14-7-6zM509 364l-12-11-7 12 11 12 4 1zM370 458l-9 7-1 3 10 12 11-5 1-6zM273 476l-16 8-4-9 5-10 12 0 5 5zM383 451l-11 3-2 4 12 11 11-8-1-4zM273 476l9 13-14 15-2 0-11-14 2-6zM525 360l1 16-2 2-16 3-3-3 4-14 12-6zM488 415l11 1 6-11-7-9-11 0-4 4zM82 416l-1-1-14 5-3 12 6 7 17-9zM496 306l-1-2 8-20 10 8 3 10-2 1zM59 413l8 7-3 12-8-1-7-10 1-4zM300 524l0-21-11-13-7-1-14 15 25 23zM524 378l3 16-8 7-11-17 0-3zM402 438l-14-2-5 15 9 6 10-13zM126 423l-1 2-13 1-6-6-1-4 7-9 9 0zM424 426l5 15-2 3-21-7 11-13zM522 271l-18 11-1 2 10 8 14-8-2-13zM253 457l-7 1-9-10 0-2 5-8 16 6 1 3zM441 347l1-13 1-1 15 6-7 14zM546 273l-21-2 2 13 7 6 7 0 8-13zM232 506l8-13 15-3 11 14-16 17zM107 366l-7-1-1 0-4 17 1 2 16-1 1-10zM515 322l-2-1 1-18 2-1 10 2 6 8-4 8zM70 439l-6-7-8-1-11 10 6 10 3 2 15-8zM536 227l-4-13-3-1-12 8 0 4 10 9zM325 390l-2-16-14 3-1 12 16 2zM549 277l-8 13 8 12 12-2 2-17-4-5zM324 445l4-2 14 13-5 7-8 1-7-8zM348 454l-6 2-5 7 7 15 3 1 13-11 1-3zM549 302l-8-12-7 0-8 14 6 8 12-1zM435 456l0 9-5 5-16-6-1-2 0-4 14-13zM547 237l-3-8-8-2-9 7 0 4 8 10zM105 416l-12-9-11 9 5 14 19-10zM233 473l-5-12 9-13 9 10-7 12zM567 305l-5 17-11 1-7-12 5-9 12-2zM303 448l14-6-3-10-12-2-3 16zM381 498l3-2 3-17-6-4-11 5-2 12zM518 340l-3-18 13-2 4 9-4 9zM96 347l-16 6-3-1-4-10 11-8 10 4zM521 358l-6-15-13 0-5 6 0 4 12 11zM551 323l-4 7-15-1-4-9 4-8 12-1zM562 322l7 6 0 1-4 10-16 3-2-12 4-7zM221 508l11-2 18 15 1 23-26 11-8-9-3-31zM393 461l3 2 2 14-11 2-6-4 1-6zM567 305l-5 17 7 6 2-1 0-2 0-10 0-10zM544 229l7-10-10-9-9 4 4 13zM396 496l5-4-3-14 0-1-11 2-3 17zM368 492l2-12-10-12-13 11 5 18zM214 515l-21-6-7 4-8 21 4 7 35 5zM505 405l13-3 1-1-11-17-10 12zM275 551l-24-7-1-23 16-17 2 0 25 23zM79 376l-2-2-11-3-4 15 12 9 3-2zM544 202l-3 8 10 9 8-1 0-1-3-10-2-5zM81 415l-14 5-8-7 3-8 10-4zM54 398l-15 4 0 4 11 11 9-4 3-8zM39 406l-6 4-3 16 6 3 13-8 1-4zM84 365l-7 9 2 2 16 6 4-17zM284 571l-9-20-24-7-26 11-4 21 31 28 21-9zM258 465l-5-8-7 1-7 12 14 5zM80 353l-3-1-13 10 1 8 1 1 11 3 7-9zM62 386l4-15-1-1-18 3-4 7 0 1 14 7zM30 426l3-16-14-2 1 5 3 9 3 6zM349 501l-19-1-7-8 5-11 16-3 3 1 5 18zM74 395l-12-9-5 2-3 10 8 7 10-4zM221 576l-30 16 4 2 9 3 9 3 9 2 9 2 9 2 9 1 2 1 1-4zM569 329l1 1 1-3-2 1zM167 575l-18-3 3 2 9 5 8 4 9 4 2 1zM57 388l-14-7-5 17 1 4 15-4zM38 398l-14-6-9 4 2 7 2 5 14 2 6-4 0-4zM41 439l-5-10-6-3-4 2 1 3 4 9 2 5zM569 329l-4 10 4 7 0-1 1-10 0-5zM43 381l-5 17-14-6 3-15 1 0 15 3zM487 459l3 8 13 2 5-5-1-8-7-6-11 6zM51 451l-6-10-4-2-8 6 2 4 5 8zM524 471l-16 14 5 6 5-8 5-8 2-3zM528 461l-4 9 0 1 1 1 3-6 5-8zM508 485l-3-1-2-15 5-5 16 6 0 1zM51 329l11 11-6 10-12-5-1-8zM43 380l-15-3 2-16 3-3 10 5 4 10zM490 467l13 2 2 15-6 2-13-9zM55 457l-1-4-3-2-11 6 0 1 5 8 3 5zM27 377l-12-2-4 8 1 1 2 10 1 2 9-4zM15 375l-6-8-1 0 1 8 2 8zM27 377l1 0 2-16-17 1-4 5 6 8zM44 345l-11 9-9-11 7-9 12 3zM24 343l9 11 0 4-3 3-17 1-2-10zM54 479l15-10-14-12-7 14 2 4 2 2zM9 367l4-5-2-10-6-4 1 7 1 10 1 2zM12 333l0-9 0-1-10 0 0 2 1 10 1 5zM49 421l-13 8 5 10 4 2 11-10z"/>
<path fill="#9370db" d="M267 313l9-2 2 19-1 1-14-2-2-9zM261 292l2-10-7-10-11 2-3 6 2 8 14 5zM276 276l-5-15-9-1-6 12 7 10zM309 291l-5-13 3-8 17 5-1 14-4 3zM247 310l-4-1-6-12 7-9 14 5-1 8zM310 310l-1 13-1 0-15-6-1-3 6-14zM223 297l-2-11 8-9 13 3 2 8-7 9-12 1zM319 292l4-3 14 4 1 14-10 4-8-6zM208 303l15-6-2-11-13-7-8 9 0 8zM343 249l-1 13 9 6 10-13-6-8-9 0zM245 274l11-2 6-12-6-6-14 3-1 2zM354 363l6-12 12-2 3 10-9 8zM411 337l-13 2-4-12 2-5 12-4 11 8zM256 254l-14 3-5-18 13-2 7 7zM346 247l-6-14 12-11 5 3 3 11-5 11zM225 341l2 0 14 8-3 12-7 4-12-6 0-10zM332 231l8 2 12-11-1-1-17-8-5 4zM322 217l-7-7 6-13 5 0 9 12-1 4-5 4zM253 341l-12 8-3 12 14 5 6-7zM303 372l-14 10-1 0-7-14 12-9 9 4zM228 318l-3-20 12-1 6 12-13 9zM227 381l4-5 0-11-12-6-4 3-3 21zM402 355l-7-4-10 13 11 9 8-2 2-1zM351 221l4-17 2-1 14 4-4 14-10 4-5-3zM288 382l-3 3-20 0 0-6 9-13 7 2zM229 397l-13 1-4-15 15-2 4 13zM165 337l16-7-2-11-11-5-8 5-2 11zM288 382l-3 3-1 12 15 7 3-1 2-10-15-11zM456 321l7 3 2 9-3 5-4 1-15-6 2-7zM445 291l6 1 13-8 2-4-2-6-11-4-6 2-5 13zM265 385l0-6-12-10-9 12 4 9 16-3zM386 185l-9-12 4-10 16 3 1 4-7 13zM451 353l7-14 4-1 10 16 0 2-9 4-10-2zM400 150l-13-4-9 6-1 5 4 6 16 3 4-8zM146 335l12-5 2-11-12-7-10 7-1 1zM463 360l1 14 8 5 7-2 3-11-10-10zM377 173l-15 4 1-16 14-4 4 6zM147 307l10-12-2-5-16 0-1 9zM125 275l3 9 9 2 9-13-1-1-14-5zM281 414l11-1 7-9-15-7-6 5zM193 417l-11 7 2 10 9 6 2-1 6-11-4-9zM232 408l-3-11-13 1-7 9 6 6 15-2zM299 446l-5 0-12-14 14-6 5 1 1 3zM139 406l-15-3 0-14 4-2 12 3 5 7zM137 320l1-1-13-13-7 15 9 5zM265 385l20 0-1 12-6 5-10-3-4-12zM281 414l11-1 4 13-14 6-5-14zM128 387l1-18-16 4-1 10 3 4 9 2zM127 326l-9-5-8 1-3 4 8 13 11 0 1-2zM171 444l6 9 5 1 3-1 8-13-9-6-12 4zM124 403l0-14-9-2-7 11 4 9 9 0zM124 304l1 1 13-6 1-9-2-4-9-2-7 8zM459 304l-8-12 13-8 6 12-7 8zM368 141l10 11 9-6-1-13-4-3-5 1zM140 390l-12-3 1-18 18 3 0 2zM341 158l-9 6-3 0-8-16 14-7zM281 165l17 5 4-4-4-16-16 0-2 2zM268 399l10 3 3 12-4 4-9 0-6-11zM302 166l7 0 11-18-1-1-18-1-3 4zM143 339l-16-2 0-11 10-6 9 15zM257 160l-3-1-7 10 4 12 12 0 5-12zM143 436l-5 8-12-1 0-17 16 7zM424 301l5 14 10 0 4-6-2-11zM125 306l0-1 13-6 9 8 1 5-10 7zM125 306l0-1-1-1-17 2 3 16 8-1zM307 126l-9 5-12-2 2-18 7-2 12 9zM107 326l3-4-3-16-6-5-9 15 12 10zM97 347l3 18-1 0-15 0-4-12 16-6zM355 439l12 3 5 12-2 4-9 7-13-11 4-13zM467 449l-7-15 2-2 8-3 14 6-2 7zM138 444l-12-1-6 4 8 15 3 0 9-11zM104 326l-12-10-2 1-8 9 2 8 10 4zM128 462l-5 7-17-7 5-15 9 0zM143 436l-5 8 2 7 10 3 5-3 2-4-3-8zM449 437l11-3 7 15 0 1-12 6-7-5zM107 442l-12-1-7 13 1 3 16 6 1-1 5-15zM257 484l-2 6-15 3-9-17 2-3 6-3 14 5zM115 387l-7 11-14-1-1-2 3-11 16-1zM112 289l-3-8 8-7 8 1 3 9-7 8zM193 440l-8 13 12 9 7-7-1-10-8-6zM195 439l8 6 16-4 0-11-3-2-15 0zM280 152l2-2 4-21-16-2-5 10 8 12zM123 479l9 9 1 3-2 8-20 7-10-22zM146 525l0-6-15-20-20 7-9 15 1 12 27 13zM499 416l4 5 10 3 8-16-3-6-13 3zM270 127l16 2 2-18-4-2-12 2-4 12zM429 441l-2 3 0 1 8 11 13-5 1-14-7-3zM89 457l-3 12 14 9 5-15zM70 439l17-9 8 11-7 13-12-2-7-7zM73 342l-6-3 3-17 12 4 2 8zM106 462l17 7 0 10-22 5-1-6 5-15zM101 301l-9 15-2 1-14-12 2-3 14-8 9 6zM106 420l-19 10 8 11 12 1 5-16zM90 317l-8 9-12-4 6-17zM56 308l4-4 16 1-6 17-9-2-6-12zM282 150l4-21 12 2 3 15-3 4zM197 462l0 9-1 2-15-2 1-17 3-1zM398 477l0 1 12-2 4-12-1-2-17 1zM546 273l0-15 11-5 8 4 1 5-7 16-10-1zM491 145l16 5 1 6-5 13-2 1-13-9 0-13zM512 173l-9-4-2 1-7 10 3 12 8 4 12-11zM69 445l-15 8 1 4 14 12 1 1 6-18zM418 487l-8-11 4-12 16 6 0 3zM193 491l0 18 21 6 7-7-6-21-18 0zM100 478l-14-9-11 4 2 19 2 2 22-10zM571 305l0-10 0-10 0-2-8 0-2 17 6 5zM67 339l-5 1-11-11 10-9 9 2zM509 203l-2 11 10 7 12-8-5-12zM563 283l8 0-1-7-1-10 0-3-3-1-7 16zM501 442l-5-6 7-15 10 3 2 2-3 12zM515 426l-2-2 8-16 14 6 2 6-3 6-5 3zM527 394l-8 7-1 1 3 6 14 6 6-13-3-6zM556 239l1 14 8 4 3-1-2-10-2-10-1-3zM522 186l-5-1-12 11 4 7 15-2 2-3zM435 456l0 9 14 4 5-3 1-10-7-5zM77 352l-13 10-8-8 0-4 6-10 5-1 6 3zM380 519l1-21-13-6-16 5-3 4 5 19 24 3zM414 508l0-17-13 1-5 4 8 17 2 1zM526 198l-2 3 5 12 3 1 9-4 3-8-4-8zM79 503l-6 4 6 7 6 7 7 7 7 6 0 1 4-2-1-12zM512 438l3-12 14 3-2 12-8 4zM541 387l13-1 2-13-9-5-1 0-8 10zM54 479l1 4 4 6 18 3-2-19-5-3-1-1zM522 186l9-5 10 7-1 6-14 4zM402 444l11 14 0 4-17 1-3-2-1-4zM440 485l-10-12 0-3 5-5 14 4-2 14-3 2zM531 168l0 13 10 7 7-4-2-4-4-9-1-1zM565 257l1 5 3 1-1-7zM79 494l0 9 23 18 9-15-10-22zM530 167l-18 6-9-4 5-13 21 2zM467 450l-12 6-1 10 13 8 1-1 5-13zM537 420l13 0 3-7 1-3-2-7-11-2-6 13zM449 469l-2 14 16 2 4-11-13-8zM537 420l-3 6 9 12 3-7 4-9 0-2zM418 488l-4 3-13 1-3-14 12-2 8 11zM440 485l-10-12-12 14 0 1 12 7zM315 573l15-33-17-14-13-2-7 3-18 24 9 20zM556 373l-9-5 5-16 15 4-3 14zM541 401l11 2 6-7 1-2 0-1-5-7-13 1-3 8zM467 449l15-7 7 14-2 3-14 1-6-10zM541 188l-1 6 4 8 10 0-1-4-3-9-2-5zM567 356l-3 14 1 1 1-6zM330 540l-17-14 17-26 19 1 5 19-15 19zM514 139l-7 11 1 6 21 2 3-6-2-4zM380 519l24-6-8-17-12 0-3 2zM404 532l5-5-3-13-2-1-24 6-2 4 1 4zM552 403l2 7 2-7 2-7zM65 370l-18 3-4-10 13-9 8 8zM54 479l-2-2 3 6zM430 510l-16-2-8 6 3 13 13 4 9-7zM529 158l1 9 1 1 10 2-3-8-5-9-1-1zM379 541l-8 14-10 4-22-20 15-19 24 3 1 4zM554 386l5 7 3-9 2-9 1-4-1-1-8 3zM40 318l11 11-8 8-12-3-1-8 6-9zM332 592l23-5 6-28-22-20-9 1-15 33zM522 186l-5-1-5-12 18-6 1 1 0 13zM473 460l-5 13 16 5 2-1 4-10-3-8zM489 456l11-6 1-8-5-6-11-2-1 1-2 7zM450 501l-6-16 3-2 16 2 3 8-1 4-3 2zM273 595l-21 9-1 4 8 1 9 0 9 1 10 0 2 0zM257 160l-3-1-1-1 3-18 9-3 8 12zM501 442l11-4 7 7-1 6-11 5-7-6zM421 550l3-4-2-15-13-4-5 5-1 12zM507 456l1 8 16 6 4-9-10-10zM468 473l-1 1-4 11 3 8 14-4 4-11zM442 540l-1-12-10-4-9 7 2 15 13 1zM365 594l-10-7-23 5-6 15 7-1 9-2 9-2 9-2 7-2zM430 568l-10-12-11 8-1 3 8 9 5-2 8-5 1 0zM421 550l-18-6-3 3-1 7 10 10 11-8zM59 489l2 2 5 8 6 7 1 1 6-4 0-9-2-2zM400 547l-21-6 0-14 25 5-1 12zM315 573l-31-2-11 24 16 15 7 0 9-1 10 0 9-2 2 0 6-15zM527 441l-8 4-1 6 10 10 5-3 5-9zM365 594l2 4 2-1 9-3 9-4 9-3 2-1-14-2zM44 345l12 5 0 4-13 9-10-5 0-4zM24 343l7-9-1-8-18-2 0 9zM40 318l11 11 10-9-6-12zM384 584l-19 10-10-7 6-28 10-4 16 9 1 2zM442 558l-5-11-13-1-3 4-1 6 10 12 2-1 5-3 5-3zM430 568l0 1 2-2zM408 567l-7 5-1 13 4-2 9-4 3-3zM76 452l-6 18 5 3 11-4 3-12-1-3zM490 500l-10-11 4-11 2-1 13 9-6 13zM442 558l0 3 3-2 4-4zM534 426l-5 3-2 12 11 8 4-9 1-2zM400 547l-21-6-8 14 16 9 12-10zM401 572l-13-6-4 18 14 2 2-1zM409 564l-1 3-7 5-13-6-1-2 12-10z"/>
<path fill="#98fb98" d="M329 335l2-4 4 0 13 8-7 12-10 3-2-2zM334 371l-5-2 2-15 10-3 11 13zM372 349l3-7 0-2-17-9-7 8 9 12zM297 339l15 9 0 2-3 8-7 5-9-4-3-10zM276 346l0 1-5 13 3 6 7 2 12-9-3-10zM188 313l0-11 12-6 8 7-1 13-8 2zM354 363l6-12-9-12-3 0-7 12 11 13zM306 210l-3-15 6-6 3 0 9 8-6 13zM299 216l7-6-3-15-10 0-4 6 7 13zM351 221l4-17-9-4-11 9-1 4zM184 273l0 8 16 7 8-9-1-5-5-6-16 4zM353 380l-1-16-18 7 7 12zM198 393l7-10-10-11-13 9 3 7zM171 366l-4-4-17 6-3 4 0 2 17 12 9-8zM143 339l2 12 20-2 1-2-1-10-7-7-12 5zM195 372l10 11 7 0 3-21-10-1-10 10zM179 401l6-13-3-7-9-3-9 8-1 4zM143 339l2 12-17 6-2-18 1-2zM352 179l-4-3-11 0-5 6 1 8 11 4zM168 267l-1 1-5 11 16 10 6-8 0-8zM199 398l-1-5 7-10 7 0 4 15-7 9zM319 178l13 4 1 8-7 7-5 0-9-8zM172 255l-12-7-2 1-6 12 15 7 1-1zM278 203l11-2 4-6-6-9-6-1-6 3zM368 141l10 11-1 5-14 4-7-6 0-9 5-4zM150 368l-5-17 20-2 2 13zM199 398l-12 8 6 11 4 2 12-12zM160 319l-12-7-1-5 10-12 13 6-2 13zM180 404l-6 7-14-2-4-11 7-8 16 11zM155 290l3-9 4-2 16 10-1 7-7 5-13-6zM182 216l1 0-3-7-7-4-10 1-8 11 3 5 17 1zM155 290l3-9-12-8-9 13 2 4zM363 186l-6 17-2 1-9-4-2-6 8-15 8 0zM386 185l-3 5-7 2-13-6-3-7 2-2 15-4zM145 272l1 1 12 8 4-2 5-11-15-7-1 0zM232 408l-3-11 2-3 16-3 2 18-1 1zM363 161l-1 16-2 2-8 0-4-3 0-16 8-5zM129 369l-1-12 17-6 5 17-3 4zM151 261l1 0 6-12-12-9-6 0-1 1-2 11zM293 195l10 0 6-6-11-14-11 11zM176 237l-11 1-7-9 0-7 17 1zM131 267l14 5 6-11-14-9-7 6zM193 417l-11 7-7-3-1-10 6-7 7 2zM158 222l0 7-12 11-6 0-4-16 13-9 6 2zM278 203l-3-15-6 0-11 14 2 3 17-1zM110 346l6 9 12 2-2-18-11 0zM116 233l10-12 10 3 4 16-1 1-18-1zM126 221l10 3 13-9-8-15-1-1-17 15zM156 398l-11-1-5-7 7-16 17 12-1 4zM129 369l-16 4-6-7 9-11 12 2zM275 188l6-3-4-17-9 1-5 12 6 7zM175 421l-10 8 7 9 12-4-2-10zM174 411l1 10-10 8-4-1-6-9 5-10zM118 254l3-14 18 1-2 11-7 6zM155 419l6 9-7 11-11-3-1-3 6-13zM281 165l17 5 0 5-11 11-6-1-4-17zM231 426l-12 4-3-2-1-15 15-2zM400 150l-13-4-1-13 12-4 7 14zM160 409l-5 10-7 1-9-6 0-8 6-9 11 1zM154 439l3 8 14-3 1-6-7-9-4-1zM282 432l12 14-7 7-14-5 4-13zM148 420l-6 13-16-7-1-1 1-2 13-9zM341 158l-9 6 5 12 11 0 0-16zM155 451l10 10-1 8-8 4-9-3 3-16zM117 274l-6-11 1-6 6-3 12 4 1 9-6 8zM209 407l6 6 1 15-15 0-4-9zM177 453l5 1-1 17-5 4-12-6 1-8zM139 406l-15-3-3 4 5 16 13-9zM356 155l-8 5-7-2-6-17 6-2 15 7zM176 475l0 9 17 7 4-4-1-14-15-2zM469 399l14 1 5 15-14 3-10-10zM364 120l13 11-9 10-7 1-4-17zM116 233l10-12-3-7-8-6-7 2-4 9 6 14zM275 470l13-5-1-12-14-5-2 2-1 15zM199 398l-1-5-13-5-6 13 1 3 7 2zM441 420l1 14 7 3 11-3 2-2-7-18zM396 116l-12-1-2 15 4 3 12-4 3-5zM455 413l9-5 10 10-4 11-8 3-7-18zM368 111l-4 9 13 11 5-1 2-15-2-3zM401 124l-3 5 7 14 7-1 6-13-8-7zM228 461l9-13 0-2-18-4-1 15zM131 462l16 8-15 18-9-9 0-10 5-7zM488 415l11 1 4 5-7 15-11-2zM418 129l-6 13 10 7 10-6-5-15zM176 475l0 9-12 11-8-7 0-15 8-4zM101 301l6 5 17-2-3-12-9-3-11 11zM160 248l5-10-7-9-12 11 12 9zM410 122l8 7 9-1 3-3 0-11-15-4zM204 455l10 5-2 10-15 1 0-9zM231 476l-12 4-7-10 2-10 4-3 10 4 5 12zM101 300l-9-6-1-9 7-7 11 3 3 8zM308 461l-17 6 5 13 12-1 4-8zM396 116l4-10 15 2 0 2-5 12-9 2zM115 208l3-12 19-1 3 4-17 15zM164 501l-18 18-15-20 2-8 23-3 8 7zM221 508l-6-21 4-7 12-4 9 17-8 13zM176 484l-12 11 0 6 22 12 7-4 0-18zM126 443l-6 4-9 0-4-5 5-16 13-1 1 1zM324 472l-12-1-4 8 6 11 9 2 5-11zM308 461l4 10 12 1 5-8-7-8zM146 525l0-6 18-18 22 12-8 21zM383 89l5 8-6 15-14-1-2-4 2-9 13-9zM525 360l6-2 6-10-9-10-10 2-3 3 6 15zM289 490l11 13 14-13-6-11-12 1zM525 360l6-2 15 10-8 10-12-2zM546 258l-11-7 0-3 12-11 9 2 1 14zM196 473l1-2 15-1 7 10-4 7-18 0zM531 358l6-10 11-3 4 7-5 16-1 0zM60 304l16 1 2-3-6-14-8-1-5 4zM182 541l-15 34 13 13 6 2 5 2 30-16 4-21-8-9zM528 338l9 10 11-3 1-3-2-12-15-1zM346 200l-11 9-9-12 7-7 11 4zM400 106l-4-7 11-9 9 8-1 10zM147 470l-15 18 1 3 23-3 0-15zM563 233l-1-6-3-9-8 1-7 10 3 8 9 2zM203 445l16-4 0 1-1 15-4 3-10-5zM546 273l-21-2 3-13 7-7 11 7zM117 274l-8 7-11-3-1-5 14-10zM167 575l15-34-4-7-32-9-16 21 5 17 1 1 8 5 5 3zM383 89l5 8 8 2 11-9 0-7-10-4zM396 116l-12-1-2-3 6-15 8 2 4 7zM359 55l-8 7-2 6 13 8 3-1 7-17zM300 524l0-21 14-13 9 2 7 8-17 26zM526 376l12 2 3 9-3 8-11-1-3-16zM430 510l-16-2 0-17 4-3 12 7 3 12zM488 415l-3 19-1 1-14-6 4-11zM150 454l-3 16-16-8 9-11zM358 39l-9 1-6 10 8 12 8-7zM383 89l14-10-2-11-11 0-7 13 4 8zM565 339l-16 3-1 3 4 7 15 4 1-1 1-9zM446 505l-13 2-3 3 1 14 10 4 12-5zM446 505l-13 2-3-12 10-10 4 0 6 16zM32 168l-1 3-4 9-3 7 6 1 5-2 4-8zM157 447l14-3 6 9-12 8-10-10zM384 68l-8-11 14-6 9 10-4 7zM446 505l7 18 2 1 9-10-2-15-12 2zM462 499l3-2 18 11-1 8-4 2-14-4zM455 524l9 11 4 1 2-2 8-16-14-4zM482 516l-4 2-8 16 4 1 0-1 7-6 7-7zM103 533l-4 2 7 6 7 6 8 6 7 6 7 4-5-17zM483 508l-1 8 6 5 6-7 7-8 0-1-8-6-3 1zM277 418l5 14-5 3-14-4-2-4 7-9zM39 178l10-3-1-13-12-2-1 2-3 6zM55 153l16-9 1-3-9-10-4-1-11 9-1 2zM48 162l7-6 0-3-8-12-2 4-5 8-4 7zM470 534l-2 2 1 3 5-4zM505 484l-6 2-6 13 8 6 6-6 6-8-5-6zM337 463l7 15-16 3-4-9 5-8zM377 81l-12-6 7-17 3-1 1 0 8 11zM490 500l-10-11-14 4-1 4 18 11zM442 540l-5 7 5 11 7-3 3-2 3-2-1-7zM454 544l10-9-9-11-2-1-12 5 1 12zM468 536l-4-1-10 9 1 7 5-4 7-6 2-2z"/>
<path fill="#00ffff" d="M229 277l-8 9-13-7-1-5 17-11zM245 274l-4-15-16 3-1 1 5 14 13 3zM225 262l-5-8 5-11 9-5 3 1 5 18-1 2zM225 262l-5-8-13-2-5 2 0 14 5 6 17-11zM185 254l10-3 7 3 0 14-16 4zM195 232l2 0 11 4-1 16-5 2-7-3-2-17zM420 260l8 8 8-3 4-10-7-9-1 0-11 5zM200 296l0-8-16-7-6 8-1 7 11 6zM227 202l5-3 10 5 0 14-10 6-6-4zM257 244l-7-7 3-14 8-3 10 5-3 14zM409 237l17-9 6 18-11 5-11-8zM253 223l-11-5-10 6 2 14 3 1 13-2zM195 232l-13-16-7 7 1 14 1 1 16-4zM279 219l-2-15-17 1 1 15 10 5 5-2zM260 205l1 15-8 3-11-5 0-14 12-3 4 1zM407 217l-4 5 2 10 4 5 17-9 1-3-5-6zM232 199l10 5 12-3-4-18-18 5zM185 254l1 18-2 1-16-6 4-12 7-4zM463 304l7-8 12 2 1 1-8 15-3 0zM391 183l14 9 11-8-2-5-16-9zM405 206l-2-2 2-12 11-8 1 0 6 19zM405 206l-2-2-12 0-6 8 1 8 17 2 4-5zM446 230l1 7-14 9-1 0-6-18 1-3 5-1zM440 255l13 0 0 15-6 2-11-7zM155 217l-6-2-8-15 16-6 6 12zM423 203l-6-19 13-3 8 8-4 13-9 2zM405 206l18-3 2 1-3 15-15-2zM469 258l-14-6-2 3 0 15 11 4 6-10zM357 125l-7-2-9 16 15 7 5-4zM447 237l-14 9 7 9 13 0 2-3 1-9zM258 202l-4-1-4-18 1-2 12 0 6 7zM192 194l-1-3-16-5-2 1 0 18 7 4zM419 160l-5 19-16-9-1-4 4-8zM341 139l9-16-5-5-15 4-2 4 7 15zM464 284l2-4 19 1-3 17-12-2zM345 108l-14-6-6 10 5 10 15-4zM368 111l-4 9-7 5-7-2-5-5 0-10 5-4 16 3zM281 165l-1-13-7-3-16 11 11 9 9-1zM335 141l-14 7-1 0-1-1-6-18 15-3zM112 257l-10-7-1-3 2-9 7-5 6 0 5 7-3 14zM313 129l6 18-18-1-3-15 9-5zM421 159l1-10-10-7-7 1-5 7 1 8 18 2zM176 237l-11 1-5 10 12 7 7-4-2-13zM138 181l-1 14 3 4 1 1 16-6 2-5-6-10zM112 257l-10-7-13 14 8 9 14-10zM508 262l-6 3-10-3 8-18 5-2 6 4 0 2zM138 181l-15-4-7 15 2 4 19-1zM527 234l-10-9-12 15 0 2 6 4 16-8zM366 107l-16-3-1-12 9-3 10 9zM110 233l-6-14-14 4-2 4 15 11zM349 68l-3 1-4 19 7 4 9-3 4-13zM238 142l1 8 14 8 3-18-7-4zM486 208l14 9-4 9-11 2-5-3 1-12zM98 278l-7 7-11-5-3-10 2-5 5-2 5 1 8 9zM477 165l11-4 13 9-7 10-14 0zM78 302l-6-14 8-8 11 5 1 9zM522 271l-14-9 3-14 17 10-3 13zM108 210l-13-8 9-14 12 4 2 4-3 12zM138 181l2-18 8-5 10 13-5 8zM477 165l3 15-6 4-13-6 6-13 7-2zM467 165l-13-10-5 3-1 12 7 9 6-1zM500 217l7-3 10 7 0 4-12 15-9-14zM486 208l14 9 7-3 2-11-4-7-8-4-10 10zM535 248l-8-10-16 8 0 2 17 10 7-7zM101 247l-18-2 1 18 5 1 13-14zM117 167l0 1 6 9 15 4 2-18-14-5zM126 155l10-11 6 0 7 11-1 3-8 5-14-5zM87 207l-16 1-2 3 1 8 15 9 3-1 2-4zM108 210l-13-8-3 0-5 5 3 16 14-4zM474 163l-1-17-4-3-12 6-3 6 13 10zM477 165l11-4 0-13-15-2 1 17zM56 308l4-4-1-13-12-3-5 9zM47 288l-3-9 4-8 9-1 5 3 2 14-5 4zM158 171l5-1 9-14-13-5-10 4-1 3zM345 108l-14-6-1-4 5-9 7-1 7 4 1 12zM105 155l-14 6 0 1 9 17 17-11 0-1zM487 128l5 7-1 10-3 3-15-2-4-3 1-7zM163 206l-6-12 2-5 14-2 0 18zM491 145l16 5 7-11-9-8-13 4zM381 89l-13 9-10-9 4-13 3-1 12 6zM92 202l-7-12-16 6 2 12 16-1zM429 163l13-8 7 3-1 12-15 4zM70 219l15 9-6 13-4 1-14-11zM465 128l5 8 17-8 0-3-7-8-13 2zM438 107l9 3 10-14-1-8-5-2-8 3zM464 114l4-11 8-3 7 7-3 10-13 2zM100 179l-14 5-10-10 15-12zM487 128l5 7 13-4 1-14-6-1-13 9zM487 125l13-9-7-10-10 1-3 10zM506 117l-1 14 9 8 6-8-2-3-5-8-4-4zM448 128l1-16 15 2 3 5-2 9-16 1zM108 144l-4-5-14 4-1 15 2 3 14-6zM493 106l7 10 6 1 3-1-2-4-6-7-5-5zM456 88l14-7 8 10-2 9-8 3-11-7zM117 168l-17 11 4 9 12 4 7-15zM64 287l-2-14 15-3 3 10-8 8zM57 189l-3-11 13-11 8 7-10 17zM40 318l15-10 1 0-14-11-6 3-3 12 3 5zM89 158l-14-4-8 13 8 7 1 0 15-12 0-1zM478 91l-2 9 7 7 10-1 3-6-2-3-6-7-1-1zM42 297l5-9-3-9-13 1-2 15 7 5zM36 260l-11 4 2 14 4 2 13-1 4-8-7-10zM67 167l-12-11 0-3 16-9 4 10zM89 158l-14-4-4-10 1-3 10-3 8 5zM36 317l-6 9-18-2 0-1 2-10 3-3 16 2zM514 139l16 9-2-3-5-9-3-5zM337 32l-6 1 1 17 11 0 6-10zM33 312l-16-2 1-14 11-1 7 5zM92 202l-7-12 1-6 14-5 4 9-9 14zM31 280l-4-2-15 5 1 8 5 5 11-1zM2 306l0 9 0 8 10 0 2-10zM11 352l13-9-12-10-8 7 0 5 1 3z"/>
<path fill="#cd853f" d="M214 233l11 10-5 11-13-2 1-16zM214 233l11 10 9-5-2-14-6-4-9 2zM205 216l3 0 9 6-3 11-6 3-11-4zM193 234l2 17-10 3-6-3-2-13zM422 219l5 6 5-1 9-15-7-7-9 2zM216 202l-7-8 2-6 15-7 6 7 0 11-5 3zM208 216l8-14 11 0-1 18-9 2zM421 159l8 4 4 11-3 7-13 3-1 0-2-5 5-19zM464 209l-4 11-8 2-11-13 16-9 5 3zM192 194l-12 15 3 7 17-4-2-15zM195 232l2 0 8-16-5-4-17 4-1 0zM451 187l6 13-16 9-7-7 4-13zM192 194l-1-3 7-17 3 0 10 14-2 6-11 3zM486 267l0 14-1 0-19-1-2-6 6-10zM486 208l-5 5-17-4-2-6 11-10 14 9zM446 230l1 7 9 6 11-6 1-7-8-10-8 2zM462 203l-5-3-6-13 4-8 6-1 13 6-1 9zM211 188l15-7 0-1-12-14-13 8zM198 197l11-3 7 8-8 14-3 0-5-4zM232 188l-6-7 0-1 10-11 11 0 4 12-1 2zM480 225l-12 5-1 7 10 10 2 0 7-5-1-14zM189 167l9 7 3 0 13-8 1-5-13-8-9 4zM219 156l12 2 5 11-10 11-12-14 1-5zM158 171l5-1 12 9 0 7-2 1-14 2-6-10zM464 209l-4 11 8 10 12-5 1-12zM487 202l10-10-3-12-14 0-6 4-1 9zM186 167l-11 12 0 7 16 5 7-17-9-7zM485 228l1 14 14 2 5-2 0-2-9-14zM456 243l-1 9 14 6 8-11-10-10zM479 247l11 15-4 5-16-3-1-6 8-11zM430 181l8 8 13-2 4-8-7-9-15 4zM247 169l-11 0-5-11 8-8 14 8 1 1zM227 135l-8 5 0 16 12 2 8-8-1-8zM163 170l12 9 11-12-13-11-1 0zM421 159l8 4 13-8-7-11-3-1-10 6zM479 247l11 15 2 0 8-18-14-2zM220 117l-3-1-8 7 3 14 7 3 8-5 1-1zM325 77l13-9 8 1-4 19-7 1zM249 136l7 4 9-3 5-10-2-4-16-4-4 3zM103 238l-15-11-3 1-6 13 4 4 18 2zM446 230l-14-6 9-15 11 13zM438 107l9 3 2 2-1 16-18-3 0-11 7-7zM447 135l10 14-3 6-5 3-7-3-7-11zM84 263l-5 2-14-12 10-11 4-1 4 4zM449 129l-2 6 10 14 12-6 1-7-5-8zM116 144l10 11 0 3-9 9-12-12 3-11zM318 95l12 3 5-9-10-12-4 0-6 3-1 1zM228 134l-1 1 11 7 11-6-1-14-8-2zM62 273l-5-3 5-17 3 0 14 12-2 5zM328 126l-15 3-6-3 0-8 7-7 11 1 5 10zM319 58l2 19 4 0 13-9-10-14-7 1zM186 167l-13-11 4-11 9-2 7 14-4 10zM232 111l-12 6-3-1-7-13 5-7 7-2 3 1zM159 151l3-17 6 0 9 11-4 11-1 0zM61 231l-1 0-6 17 8 5 3 0 10-11zM48 225l12 6 1 0 9-12-1-8-13 0zM318 95l12 3 1 4-6 10-11-1-2-10zM116 144l10-11 0-2-10-9-12 5 0 12 4 5zM437 107l-7 7-15-4 0-2 1-10 8-4zM312 101l2 10-7 7-12-9 5-12zM149 155l10-4 3-17-2-1-11-1-7 12zM192 135l12 5 8-3-3-14-11-3-7 10zM428 84l-1-4-15-2-5 5 0 7 9 8 8-4zM136 144l6 0 7-12-1-1-14-5-8 5 0 2zM293 80l5 9 16-8 1-1-12-13-9 4zM160 133l2-21 15 2 2 10-11 10-6 0zM252 119l2-19 1 0 11 2 6 9-4 12zM282 95l15-5 3 7-5 12-7 2-4-2zM219 156l0-16-7-3-8 3-2 13 13 8zM104 127l-2-1-17 2-3 10 8 5 14-4zM160 133l2-21-5-4-10 3 1 20 1 1zM56 211l13 0 2-3-2-12-4-5-8-2-7 5-3 8zM247 99l7 1-2 19-4 3-8-2-6-9zM123 110l12 6 11-5-10-13-9 1zM448 128l-18-3-3 3 5 15 3 1 12-9 2-6zM293 80l5 9-1 1-15 5-6-3-1-6 3-6zM179 124l12 6 7-10-1-6-11-7-5 1-4 6zM47 202l3-8-15-8-5 2 3 15 7 3zM349 68l-3 1-8-1-10-14 4-4 11 0 8 12zM177 114l4-6-9-14-14 8-1 6 5 4zM209 103l1 0 7 13-8 7-11-3-1-6zM157 108l1-6-6-12-9-1-7 9 10 13 1 0zM303 45l11 1 7 9-2 3-14 5-8-13zM438 107l5-18-15-5-4 10 13 13zM116 122l2-8 5-4 12 6-1 10-8 5zM43 226l5-1 12 6-6 17-2 0-10-8-2-9zM293 80l-15 0-2-8 7-11 11 10zM179 124l12 6 1 5-6 8-9 2-9-11zM428 84l-1-4 5-11 15 3 4 14-8 3zM173 90l-1 4-14 8-6-12 8-10zM160 77l-15-6-8 6 6 12 9 1 8-10zM209 103l1 0 5-7-12-14-1 0-10 10 1 3zM180 85l12 7 1 3-7 12-5 1-9-14 1-4zM181 79l-12-9-4 0-5 7 0 3 13 10 7-5zM432 69l-5 11-15-2-1-15 18-2 1 0zM305 63l-2 4 12 13 6-3-2-19zM116 122l2-8-14-11-7 11 5 12 2 1zM397 79l10 4 5-5-1-15-5-3-7 1-4 7zM181 79l7-7 6 0 8 10-10 10-12-7zM455 63l15 15 0 3-14 7-5-2-4-14zM382 35l-12-8-12 11 14 6zM50 194l-15-8 4-8 10-3 5 3 3 11zM411 63l18-2-11-18-8 4-4 13zM119 90l10-14 8 1 6 12-7 9-9 1zM470 78l3-3-6-5-7-6-4-4-1 3zM276 92l-1-6-16-3-4 17 11 2zM391 23l-14-7-1 0-7 5 1 6 12 8zM298 89l16-8 4 14-6 6-12-4-3-7zM294 71l9-4 2-4-8-13-5 1-9 10zM52 248l2 0 8 5-5 17-9 1-7-10zM43 226l-4-5-15-3-4 4 2 13 18-4zM104 103l0-1 7-12 8 0 8 9-4 11-5 4zM447 72l8-9 1-3-4-2-7-6-4-3-11 12 2 8zM165 70l-6-12 12-8 6 10-8 10zM116 144l10-11 10 11-10 11zM283 61l-9-6-14 4 4 10 12 3zM239 91l2-13-9-3-10 6 0 13 3 1zM209 103l-16-8-7 12 11 7zM193 157l9-4 2-13-12-5-6 8zM449 112l-2-2 10-14 11 7-4 11zM470 78l0 3 8 10 9-2-6-6-7-7-1-1zM43 226l5-1 8-14-9-9-7 4-1 15zM232 111l-12 6 8 17 12-14-6-9zM67 167l-13 11-5-3-1-13 7-6zM24 208l9-5-3-15-6-1-1 2-3 9-2 7zM202 82l-8-10 9-11 8 0 2 2 0 11-10 8zM193 47l3-4 17 1 2 2-4 15-8 0-10-10zM27 278l-15 5-4-4 8-19 1 0 8 4zM321 55l7-1 4-4-1-17-3-2-8 2-6 13zM358 38l-6-15 8-7 9 5 1 6zM239 91l2-13 3-2 14 5 1 2-4 17-1 0-7-1zM36 260l-11 4-8-4 3-17 14 5zM9 239l-2 7-1 10-1 2 11 2 1 0 3-17-1-3zM159 58l12-8-6-9-14 2 0 2 5 12zM390 51l9 10 7-1 4-13-9-6-10 5zM283 61l9-10-9-12-9 4 0 12zM419 40l-1 3 11 18 1 0 11-12-4-2-8-5-4-3zM419 40l6-1-4-2-3-2zM264 34l2 5 8 4 9-4 1-2-7-14-5 1zM227 29l0 16-12 1-2-2 0-14zM390 51l-14 6-1 0-3-13 10-9 9 11zM391 46l10-5 0-9-10-9-9 12zM97 114l-13-2-5 6 6 10 17-2zM72 141l-9-10 10-12 6-1 6 10-3 10zM358 38l-6-15-7-2-8 11 12 8 9-1zM20 222l4-4 0-10-6-3-1 2-3 10-1 4zM239 91l-14 4 7 16 2 0 13-12zM84 112l-2-9-6-2-4 4-5 7 6 7 6-1zM59 130l4 1 10-12-6-7-1 0-5 8-5 6zM401 32l0 9 9 6 8-4 1-3-1-5-5-3-6-3zM337 32l-6 1-3-2 0-17 15 2 2 5zM264 34l2 5-11 14-10-13 0-1 12-8zM391 23l10 9 6-3-3-1-8-4-5-2zM232 75l-4-13 4-6 15 5-3 15-3 2zM184 61l9-10 10 10-9 11-6 0zM104 103l0-1-15-6-7 7 2 9 13 2zM119 90l10-14-4-6-8-2-10 6-2 8 6 8zM222 81l-9-7-10 8 12 14 7-2zM40 231l2 9-8 8-14-5-1-3 3-5zM313 16l14-3 1-4-5-6-8-1-6 0-2 3zM303 45l-2-9 9-10 10 7-6 13zM89 96l-1-9-3 3-6 7-3 4 6 2zM8 279l8-19-11-2-1 8-1 10 3 3zM213 63l15-1 4-6-1-8-4-3-12 1-4 15zM39 221l1-15-7-3-9 5 0 10zM13 221l-1 6-3 9 0 3 10 1 3-5-2-13zM165 70l-6-12-3-1-11 7 0 7 15 6zM59 130l-3-4-1 2-5 8-2 3zM375 57l-3 1-13-3-1-16 0-1 14 6zM255 56l5 3 4 10-6 12-14-5 3-15zM145 64l-12-12-8 18 4 6 8 1 8-6zM391 23l0-1-4-2-9-3-1-1zM69 196l-4-5 10-17 1 0 10 10-1 6zM278 80l-3 6-16-3-1-2 6-12 12 3zM343 16l2 5 7 2 8-7 0-5-9-2-5-1zM117 68l8 2 8-18-2-2-3 2-7 6-6 5zM360 16l9 5 7-5-7-2-9-3zM255 53l11-14 8 4 0 12-14 4-5-3zM328 9l4-4-8-2-1 0zM231 48l-4-3 0-16 2-2 9 0 7 12 0 1zM276 92l-10 10 6 9 12-2-2-14zM181 79l7-7-4-11-7-1-8 10zM42 240l-8 8 2 12 5 1 11-13zM255 53l-10-13-14 8 1 8 15 5 8-5zM232 75l-4-13-15 1 0 11 9 7zM105 82l2-8-2-3-6 5-6 6zM13 291l-1-8-4-4-2 0-3 2-1 4 0 10 0 3zM293 18l-12 0-4 5 7 14 9-5zM17 310l1-14-5-5-11 7 0 7 0 1 12 7zM145 64l-12-12 18-7 5 12zM257 31l-12 8-7-12 7-10 9 3zM272 24l5-1 4-5-4-11-12-3-1 1-2 10zM234 7l-10 5 5 15 9 0 7-10-2-6zM133 52l18-7 0-2-1-5-6 4-8 5-5 3zM177 60l-6-10 11-7 11 4 0 4-9 10zM169 30l-2-1-6 3-9 5-2 1 1 5 14-2zM328 9l-1 4 1 1 15 2 3-8-4-1-9-2-1 0zM264 5l-6-3-9 1-6 8 2 6 9 3 8-5zM207 24l6 6 14-1 2-2-5-15-7-2-4 1zM89 96l15 6 7-12-6-8-12 0-1 1-4 4zM193 47l3-4 1-17-1 0-19 1-1 2 6 14zM213 30l-6-6-10 2-1 17 17 1zM234 7l9 4 6-8-9 2-6 1zM296 10l-3 8 16 5 4-7-6-11zM309 23l4-7 14-3 1 1 0 17-8 2-10-7zM196 26l1 0 10-2 6-13-9 3-9 3-1 1zM264 34l8-10-10-9-8 5 3 11zM303 45l-2-9-8-4-9 5-1 2 9 12 5-1zM182 43l-6-14-7 1-4 11 6 9zM264 5l1-1 1-2-7 0-1 0zM117 68l-2-5-2 1-7 6-1 1 2 3zM277 7l4 11 12 0 3-8-6-9-3 0-4 0zM169 30l7-1 1-2 0-3-8 4-2 1zM177 27l19-1-2-8-8 2-8 4-1 0zM6 279l-3-3 0 5zM224 12l10-5 0-1-3 1-9 2-5 1zM265 4l12 3 6-6-6 0-9 0-2 1zM296 10l11-5 2-3-4-1-9 0-6 0zM309 23l-16-5 0 14 8 4 9-10zM148 131l-1-20-1 0-11 5-1 10z"/>
</g>
<rect x="1794.5" y="85.5" width="25.0" height="19.5" fill="none" stroke="#000" stroke-width="3.4"/>
<rect x="1807" y="238" width="25" height="20" fill="none" stroke="#000" stroke-width="3.4"/>
<text x="-3.5" y="462" font-size="64" font-weight="bold">b</text>
<rect x="33.1" y="480.9" width="35.6" height="71.1" fill="#ff3333"/>
<rect x="68.3" y="480.9" width="35.6" height="71.1" fill="#5c5cff"/>
<rect x="103.5" y="480.9" width="35.6" height="71.1" fill="#0a0aff"/>
<rect x="138.7" y="480.9" width="35.6" height="71.1" fill="#1212ff"/>
<rect x="173.9" y="480.9" width="35.6" height="71.1" fill="#0000ff"/>
<rect x="209.1" y="480.9" width="35.6" height="71.1" fill="#ffa3a3"/>
<rect x="244.3" y="480.9" width="35.6" height="71.1" fill="#4a4aff"/>
<rect x="279.5" y="480.9" width="35.6" height="71.1" fill="#c4c4ff"/>
<rect x="314.7" y="480.9" width="35.6" height="71.1" fill="#5c5cff"/>
<rect x="349.9" y="480.9" width="35.6" height="71.1" fill="#c2c2ff"/>
<rect x="385.1" y="480.9" width="35.6" height="71.1" fill="#7d7dff"/>
<rect x="420.3" y="480.9" width="35.6" height="71.1" fill="#1c1cff"/>
<rect x="455.5" y="480.9" width="35.6" height="71.1" fill="#2b2bff"/>
<rect x="490.7" y="480.9" width="35.6" height="71.1" fill="#7070ff"/>
<rect x="525.9" y="480.9" width="35.6" height="71.1" fill="#4747ff"/>
<rect x="561.1" y="480.9" width="35.6" height="71.1" fill="#4747ff"/>
<rect x="596.3" y="480.9" width="35.6" height="71.1" fill="#0d0dff"/>
<rect x="631.5" y="480.9" width="35.6" height="71.1" fill="#0000ff"/>
<rect x="666.7" y="480.9" width="35.6" height="71.1" fill="#1919ff"/>
<rect x="701.9" y="480.9" width="35.6" height="71.1" fill="#4747ff"/>
<rect x="737.1" y="480.9" width="35.6" height="71.1" fill="#0000ff"/>
<rect x="33.1" y="551.6" width="35.6" height="71.1" fill="#0f0fff"/>
<rect x="68.3" y="551.6" width="35.6" height="71.1" fill="#4f4fff"/>
<rect x="103.5" y="551.6" width="35.6" height="71.1" fill="#0000ff"/>
<rect x="138.7" y="551.6" width="35.6" height="71.1" fill="#0a0aff"/>
<rect x="173.9" y="551.6" width="35.6" height="71.1" fill="#0000ff"/>
<rect x="209.1" y="551.6" width="35.6" height="71.1" fill="#3838ff"/>
<rect x="244.3" y="551.6" width="35.6" height="71.1" fill="#d4d4ff"/>
<rect x="279.5" y="551.6" width="35.6" height="71.1" fill="#6b6bff"/>
<rect x="314.7" y="551.6" width="35.6" height="71.1" fill="#7070ff"/>
<rect x="349.9" y="551.6" width="35.6" height="71.1" fill="#4545ff"/>
<rect x="385.1" y="551.6" width="35.6" height="71.1" fill="#6161ff"/>
<rect x="420.3" y="551.6" width="35.6" height="71.1" fill="#ffffff"/>
<rect x="455.5" y="551.6" width="35.6" height="71.1" fill="#ff8787"/>
<rect x="490.7" y="551.6" width="35.6" height="71.1" fill="#ff9191"/>
<rect x="525.9" y="551.6" width="35.6" height="71.1" fill="#ff2424"/>
<rect x="561.1" y="551.6" width="35.6" height="71.1" fill="#c4c4ff"/>
<rect x="596.3" y="551.6" width="35.6" height="71.1" fill="#a3a3ff"/>
<rect x="631.5" y="551.6" width="35.6" height="71.1" fill="#ffa3a3"/>
<rect x="666.7" y="551.6" width="35.6" height="71.1" fill="#ffb8b8"/>
<rect x="701.9" y="551.6" width="35.6" height="71.1" fill="#ffbdbd"/>
<rect x="737.1" y="551.6" width="35.6" height="71.1" fill="#ff8c8c"/>
<rect x="33.1" y="622.3" width="35.6" height="71.1" fill="#2929ff"/>
<rect x="68.3" y="622.3" width="35.6" height="71.1" fill="#b0b0ff"/>
<rect x="103.5" y="622.3" width="35.6" height="71.1" fill="#1f1fff"/>
<rect x="138.7" y="622.3" width="35.6" height="71.1" fill="#8f8fff"/>
<rect x="173.9" y="622.3" width="35.6" height="71.1" fill="#6161ff"/>
<rect x="209.1" y="622.3" width="35.6" height="71.1" fill="#b0b0ff"/>
<rect x="244.3" y="622.3" width="35.6" height="71.1" fill="#c7c7ff"/>
<rect x="279.5" y="622.3" width="35.6" height="71.1" fill="#c4c4ff"/>
<rect x="314.7" y="622.3" width="35.6" height="71.1" fill="#d6d6ff"/>
<rect x="349.9" y="622.3" width="35.6" height="71.1" fill="#ababff"/>
<rect x="385.1" y="622.3" width="35.6" height="71.1" fill="#bdbdff"/>
<rect x="420.3" y="622.3" width="35.6" height="71.1" fill="#ff0000"/>
<rect x="455.5" y="622.3" width="35.6" height="71.1" fill="#ffb5b5"/>
<rect x="490.7" y="622.3" width="35.6" height="71.1" fill="#ffb5b5"/>
<rect x="525.9" y="622.3" width="35.6" height="71.1" fill="#ffd9d9"/>
<rect x="561.1" y="622.3" width="35.6" height="71.1" fill="#ffe0e0"/>
<rect x="596.3" y="622.3" width="35.6" height="71.1" fill="#ffd1d1"/>
<rect x="631.5" y="622.3" width="35.6" height="71.1" fill="#9c9cff"/>
<rect x="666.7" y="622.3" width="35.6" height="71.1" fill="#ffffff"/>
<rect x="701.9" y="622.3" width="35.6" height="71.1" fill="#f0f0ff"/>
<rect x="737.1" y="622.3" width="35.6" height="71.1" fill="#f7f7ff"/>
<rect x="33.1" y="693" width="35.6" height="71.1" fill="#2929ff"/>
<rect x="68.3" y="693" width="35.6" height="71.1" fill="#6161ff"/>
<rect x="103.5" y="693" width="35.6" height="71.1" fill="#2424ff"/>
<rect x="138.7" y="693" width="35.6" height="71.1" fill="#4040ff"/>
<rect x="173.9" y="693" width="35.6" height="71.1" fill="#0000ff"/>
<rect x="209.1" y="693" width="35.6" height="71.1" fill="#6363ff"/>
<rect x="244.3" y="693" width="35.6" height="71.1" fill="#a6a6ff"/>
<rect x="279.5" y="693" width="35.6" height="71.1" fill="#a3a3ff"/>
<rect x="314.7" y="693" width="35.6" height="71.1" fill="#a1a1ff"/>
<rect x="349.9" y="693" width="35.6" height="71.1" fill="#8282ff"/>
<rect x="385.1" y="693" width="35.6" height="71.1" fill="#8a8aff"/>
<rect x="420.3" y="693" width="35.6" height="71.1" fill="#ff2121"/>
<rect x="455.5" y="693" width="35.6" height="71.1" fill="#ff7878"/>
<rect x="490.7" y="693" width="35.6" height="71.1" fill="#ff9c9c"/>
<rect x="525.9" y="693" width="35.6" height="71.1" fill="#ff6161"/>
<rect x="561.1" y="693" width="35.6" height="71.1" fill="#ffd1d1"/>
<rect x="596.3" y="693" width="35.6" height="71.1" fill="#ffb5b5"/>
<rect x="631.5" y="693" width="35.6" height="71.1" fill="#fff5f5"/>
<rect x="666.7" y="693" width="35.6" height="71.1" fill="#ffd9d9"/>
<rect x="701.9" y="693" width="35.6" height="71.1" fill="#f5f5ff"/>
<rect x="737.1" y="693" width="35.6" height="71.1" fill="#ffe8e8"/>
<rect x="33.1" y="763.7" width="35.6" height="71.1" fill="#0000ff"/>
<rect x="68.3" y="763.7" width="35.6" height="71.1" fill="#ff9999"/>
<rect x="103.5" y="763.7" width="35.6" height="71.1" fill="#ffb0b0"/>
<rect x="138.7" y="763.7" width="35.6" height="71.1" fill="#d1d1ff"/>
<rect x="173.9" y="763.7" width="35.6" height="71.1" fill="#fff5f5"/>
<rect x="209.1" y="763.7" width="35.6" height="71.1" fill="#3838ff"/>
<rect x="244.3" y="763.7" width="35.6" height="71.1" fill="#b0b0ff"/>
<rect x="279.5" y="763.7" width="35.6" height="71.1" fill="#c7c7ff"/>
<rect x="314.7" y="763.7" width="35.6" height="71.1" fill="#c7c7ff"/>
<rect x="349.9" y="763.7" width="35.6" height="71.1" fill="#8282ff"/>
<rect x="385.1" y="763.7" width="35.6" height="71.1" fill="#8282ff"/>
<rect x="420.3" y="763.7" width="35.6" height="71.1" fill="#7373ff"/>
<rect x="455.5" y="763.7" width="35.6" height="71.1" fill="#5252ff"/>
<rect x="490.7" y="763.7" width="35.6" height="71.1" fill="#4040ff"/>
<rect x="525.9" y="763.7" width="35.6" height="71.1" fill="#6969ff"/>
<rect x="561.1" y="763.7" width="35.6" height="71.1" fill="#6969ff"/>
<rect x="596.3" y="763.7" width="35.6" height="71.1" fill="#6161ff"/>
<rect x="631.5" y="763.7" width="35.6" height="71.1" fill="#8a8aff"/>
<rect x="666.7" y="763.7" width="35.6" height="71.1" fill="#8585ff"/>
<rect x="701.9" y="763.7" width="35.6" height="71.1" fill="#d9d9ff"/>
<rect x="737.1" y="763.7" width="35.6" height="71.1" fill="#babaff"/>
<rect x="33.1" y="834.4" width="35.6" height="71.1" fill="#6969ff"/>
<rect x="68.3" y="834.4" width="35.6" height="71.1" fill="#a8a8ff"/>
<rect x="103.5" y="834.4" width="35.6" height="71.1" fill="#8f8fff"/>
<rect x="138.7" y="834.4" width="35.6" height="71.1" fill="#d4d4ff"/>
<rect x="173.9" y="834.4" width="35.6" height="71.1" fill="#9999ff"/>
<rect x="209.1" y="834.4" width="35.6" height="71.1" fill="#ffb0b0"/>
<rect x="244.3" y="834.4" width="35.6" height="71.1" fill="#fff7f7"/>
<rect x="279.5" y="834.4" width="35.6" height="71.1" fill="#ffc7c7"/>
<rect x="314.7" y="834.4" width="35.6" height="71.1" fill="#ffd4d4"/>
<rect x="349.9" y="834.4" width="35.6" height="71.1" fill="#fff5f5"/>
<rect x="385.1" y="834.4" width="35.6" height="71.1" fill="#d4d4ff"/>
<rect x="420.3" y="834.4" width="35.6" height="71.1" fill="#fcfcff"/>
<rect x="455.5" y="834.4" width="35.6" height="71.1" fill="#ff9999"/>
<rect x="490.7" y="834.4" width="35.6" height="71.1" fill="#ff4747"/>
<rect x="525.9" y="834.4" width="35.6" height="71.1" fill="#ff9999"/>
<rect x="561.1" y="834.4" width="35.6" height="71.1" fill="#ffb0b0"/>
<rect x="596.3" y="834.4" width="35.6" height="71.1" fill="#ff7070"/>
<rect x="631.5" y="834.4" width="35.6" height="71.1" fill="#ff6363"/>
<rect x="666.7" y="834.4" width="35.6" height="71.1" fill="#ff8787"/>
<rect x="701.9" y="834.4" width="35.6" height="71.1" fill="#ff9c9c"/>
<rect x="737.1" y="834.4" width="35.6" height="71.1" fill="#ff9191"/>
<rect x="33.1" y="905.1" width="35.6" height="71.1" fill="#3333ff"/>
<rect x="68.3" y="905.1" width="35.6" height="71.1" fill="#ffe8e8"/>
<rect x="103.5" y="905.1" width="35.6" height="71.1" fill="#ffbfbf"/>
<rect x="138.7" y="905.1" width="35.6" height="71.1" fill="#ffa8a8"/>
<rect x="173.9" y="905.1" width="35.6" height="71.1" fill="#ffa1a1"/>
<rect x="209.1" y="905.1" width="35.6" height="71.1" fill="#f7f7ff"/>
<rect x="244.3" y="905.1" width="35.6" height="71.1" fill="#ffc4c4"/>
<rect x="279.5" y="905.1" width="35.6" height="71.1" fill="#ffcccc"/>
<rect x="314.7" y="905.1" width="35.6" height="71.1" fill="#ff9494"/>
<rect x="349.9" y="905.1" width="35.6" height="71.1" fill="#ffd4d4"/>
<rect x="385.1" y="905.1" width="35.6" height="71.1" fill="#fcfcff"/>
<rect x="420.3" y="905.1" width="35.6" height="71.1" fill="#8282ff"/>
<rect x="455.5" y="905.1" width="35.6" height="71.1" fill="#ccccff"/>
<rect x="490.7" y="905.1" width="35.6" height="71.1" fill="#8585ff"/>
<rect x="525.9" y="905.1" width="35.6" height="71.1" fill="#7373ff"/>
<rect x="561.1" y="905.1" width="35.6" height="71.1" fill="#ffffff"/>
<rect x="596.3" y="905.1" width="35.6" height="71.1" fill="#f0f0ff"/>
<rect x="631.5" y="905.1" width="35.6" height="71.1" fill="#e0e0ff"/>
<rect x="666.7" y="905.1" width="35.6" height="71.1" fill="#f5f5ff"/>
<rect x="701.9" y="905.1" width="35.6" height="71.1" fill="#fcfcff"/>
<rect x="737.1" y="905.1" width="35.6" height="71.1" fill="#ececff"/>
<rect x="33.1" y="975.8" width="35.6" height="71.1" fill="#4d4dff"/>
<rect x="68.3" y="975.8" width="35.6" height="71.1" fill="#ffc7c7"/>
<rect x="103.5" y="975.8" width="35.6" height="71.1" fill="#ffc7c7"/>
<rect x="138.7" y="975.8" width="35.6" height="71.1" fill="#ffbaba"/>
<rect x="173.9" y="975.8" width="35.6" height="71.1" fill="#ffc4c4"/>
<rect x="209.1" y="975.8" width="35.6" height="71.1" fill="#c4c4ff"/>
<rect x="244.3" y="975.8" width="35.6" height="71.1" fill="#bfbfff"/>
<rect x="279.5" y="975.8" width="35.6" height="71.1" fill="#ffcccc"/>
<rect x="314.7" y="975.8" width="35.6" height="71.1" fill="#fff6f6"/>
<rect x="349.9" y="975.8" width="35.6" height="71.1" fill="#ffffff"/>
<rect x="385.1" y="975.8" width="35.6" height="71.1" fill="#f6f6ff"/>
<rect x="420.3" y="975.8" width="35.6" height="71.1" fill="#f5f5ff"/>
<rect x="455.5" y="975.8" width="35.6" height="71.1" fill="#f2f2ff"/>
<rect x="490.7" y="975.8" width="35.6" height="71.1" fill="#a3a3ff"/>
<rect x="525.9" y="975.8" width="35.6" height="71.1" fill="#dbdbff"/>
<rect x="561.1" y="975.8" width="35.6" height="71.1" fill="#ffecec"/>
<rect x="596.3" y="975.8" width="35.6" height="71.1" fill="#ffeded"/>
<rect x="631.5" y="975.8" width="35.6" height="71.1" fill="#f0f0ff"/>
<rect x="666.7" y="975.8" width="35.6" height="71.1" fill="#eeeeff"/>
<rect x="701.9" y="975.8" width="35.6" height="71.1" fill="#ffffff"/>
<rect x="737.1" y="975.8" width="35.6" height="71.1" fill="#ffdada"/>
<rect x="33.1" y="1046.5" width="35.6" height="71.1" fill="#4a4aff"/>
<rect x="68.3" y="1046.5" width="35.6" height="71.1" fill="#bdbdff"/>
<rect x="103.5" y="1046.5" width="35.6" height="71.1" fill="#ececff"/>
<rect x="138.7" y="1046.5" width="35.6" height="71.1" fill="#f5f5ff"/>
<rect x="173.9" y="1046.5" width="35.6" height="71.1" fill="#ffe8e8"/>
<rect x="209.1" y="1046.5" width="35.6" height="71.1" fill="#ffe8e8"/>
<rect x="244.3" y="1046.5" width="35.6" height="71.1" fill="#ff7070"/>
<rect x="279.5" y="1046.5" width="35.6" height="71.1" fill="#f0f0ff"/>
<rect x="314.7" y="1046.5" width="35.6" height="71.1" fill="#fffcfc"/>
<rect x="349.9" y="1046.5" width="35.6" height="71.1" fill="#ffb0b0"/>
<rect x="385.1" y="1046.5" width="35.6" height="71.1" fill="#ffd1d1"/>
<rect x="420.3" y="1046.5" width="35.6" height="71.1" fill="#b0b0ff"/>
<rect x="455.5" y="1046.5" width="35.6" height="71.1" fill="#ffd9d9"/>
<rect x="490.7" y="1046.5" width="35.6" height="71.1" fill="#bdbdff"/>
<rect x="525.9" y="1046.5" width="35.6" height="71.1" fill="#b5b5ff"/>
<rect x="561.1" y="1046.5" width="35.6" height="71.1" fill="#ff9c9c"/>
<rect x="596.3" y="1046.5" width="35.6" height="71.1" fill="#ffd9d9"/>
<rect x="631.5" y="1046.5" width="35.6" height="71.1" fill="#fff7f7"/>
<rect x="666.7" y="1046.5" width="35.6" height="71.1" fill="#ffd9d9"/>
<rect x="701.9" y="1046.5" width="35.6" height="71.1" fill="#ffe8e8"/>
<rect x="737.1" y="1046.5" width="35.6" height="71.1" fill="#fcfcff"/>
<rect x="33.1" y="1117.2" width="35.6" height="71.1" fill="#5c5cff"/>
<rect x="68.3" y="1117.2" width="35.6" height="71.1" fill="#e0e0ff"/>
<rect x="103.5" y="1117.2" width="35.6" height="71.1" fill="#a8a8ff"/>
<rect x="138.7" y="1117.2" width="35.6" height="71.1" fill="#ffb5b5"/>
<rect x="173.9" y="1117.2" width="35.6" height="71.1" fill="#fff6f6"/>
<rect x="209.1" y="1117.2" width="35.6" height="71.1" fill="#e8e8ff"/>
<rect x="244.3" y="1117.2" width="35.6" height="71.1" fill="#fff5f5"/>
<rect x="279.5" y="1117.2" width="35.6" height="71.1" fill="#ffffff"/>
<rect x="314.7" y="1117.2" width="35.6" height="71.1" fill="#ffe4e4"/>
<rect x="349.9" y="1117.2" width="35.6" height="71.1" fill="#ffa1a1"/>
<rect x="385.1" y="1117.2" width="35.6" height="71.1" fill="#ff4d4d"/>
<rect x="420.3" y="1117.2" width="35.6" height="71.1" fill="#9494ff"/>
<rect x="455.5" y="1117.2" width="35.6" height="71.1" fill="#dbdbff"/>
<rect x="490.7" y="1117.2" width="35.6" height="71.1" fill="#ababff"/>
<rect x="525.9" y="1117.2" width="35.6" height="71.1" fill="#7878ff"/>
<rect x="561.1" y="1117.2" width="35.6" height="71.1" fill="#d1d1ff"/>
<rect x="596.3" y="1117.2" width="35.6" height="71.1" fill="#ffe8e8"/>
<rect x="631.5" y="1117.2" width="35.6" height="71.1" fill="#d4d4ff"/>
<rect x="666.7" y="1117.2" width="35.6" height="71.1" fill="#ffecec"/>
<rect x="701.9" y="1117.2" width="35.6" height="71.1" fill="#f5f5ff"/>
<rect x="737.1" y="1117.2" width="35.6" height="71.1" fill="#e0e0ff"/>
<rect x="777.2" y="481.5" width="48" height="69.5" fill="#32d232"/>
<text x="801.2" y="529.8" font-size="44" text-anchor="middle" fill="#f6f2f2" stroke="#333" stroke-width="1.8" paint-order="stroke" stroke-linejoin="round">1</text>
<rect x="777.2" y="552.2" width="48" height="69.5" fill="#ff0000"/>
<text x="801.2" y="600.5" font-size="44" text-anchor="middle" fill="#f6f2f2" stroke="#333" stroke-width="1.8" paint-order="stroke" stroke-linejoin="round">2</text>
<rect x="777.2" y="622.9" width="48" height="69.5" fill="#8b4513"/>
<text x="801.2" y="671.1" font-size="44" text-anchor="middle" fill="#f6f2f2" stroke="#333" stroke-width="1.8" paint-order="stroke" stroke-linejoin="round">3</text>
<rect x="777.2" y="693.6" width="48" height="69.5" fill="#b0b0b0"/>
<text x="801.2" y="741.9" font-size="44" text-anchor="middle" fill="#f6f2f2" stroke="#333" stroke-width="1.8" paint-order="stroke" stroke-linejoin="round">4</text>
<rect x="777.2" y="764.3" width="48" height="69.5" fill="#8a2be2"/>
<text x="801.2" y="812.6" font-size="44" text-anchor="middle" fill="#f6f2f2" stroke="#333" stroke-width="1.8" paint-order="stroke" stroke-linejoin="round">5</text>
<rect x="777.2" y="835" width="48" height="69.5" fill="#ff8c00"/>
<text x="801.2" y="883.2" font-size="44" text-anchor="middle" fill="#f6f2f2" stroke="#333" stroke-width="1.8" paint-order="stroke" stroke-linejoin="round">6</text>
<rect x="777.2" y="905.7" width="48" height="69.5" fill="#00c3ff"/>
<text x="801.2" y="954" font-size="44" text-anchor="middle" fill="#f6f2f2" stroke="#333" stroke-width="1.8" paint-order="stroke" stroke-linejoin="round">7</text>
<rect x="777.2" y="976.4" width="48" height="69.5" fill="#ffdf00"/>
<text x="801.2" y="1024.7" font-size="44" text-anchor="middle" fill="#f6f2f2" stroke="#333" stroke-width="1.8" paint-order="stroke" stroke-linejoin="round">8</text>
<rect x="777.2" y="1047.1" width="48" height="69.5" fill="#0000ff"/>
<text x="801.2" y="1095.3" font-size="44" text-anchor="middle" fill="#f6f2f2" stroke="#333" stroke-width="1.8" paint-order="stroke" stroke-linejoin="round">9</text>
<rect x="777.2" y="1117.8" width="48" height="69.5" fill="#ff69b4"/>
<text x="801.2" y="1166" font-size="42" text-anchor="middle" fill="#f6f2f2" stroke="#333" stroke-width="1.8" paint-order="stroke" stroke-linejoin="round">10</text>
<path d="M50.7 1188.6v7M85.9 1188.6v7M121.1 1188.6v7M156.3 1188.6v7M191.5 1188.6v7M226.7 1188.6v7M261.9 1188.6v7M297.1 1188.6v7M332.3 1188.6v7M367.5 1188.6v7M402.7 1188.6v7M437.9 1188.6v7M473.1 1188.6v7M508.3 1188.6v7M543.5 1188.6v7M578.7 1188.6v7M613.9 1188.6v7M649.1 1188.6v7M684.3 1188.6v7M719.5 1188.6v7M754.7 1188.6v7" stroke="#222" stroke-width="1.3"/>
<text transform="translate(59.9 1201.5) rotate(-90)" font-size="25.5" text-anchor="end">Epithelium</text>
<text transform="translate(95.1 1201.5) rotate(-90)" font-size="25.5" text-anchor="end">Tumor cells</text>
<text transform="translate(130.3 1201.5) rotate(-90)" font-size="25.5" text-anchor="end">CD11c<tspan dy="-8.7" font-size="15.3">+</tspan><tspan dy="8.7"> dendritic cells</tspan></text>
<text transform="translate(165.5 1201.5) rotate(-90)" font-size="25.5" text-anchor="end">B cells</text>
<text transform="translate(200.7 1201.5) rotate(-90)" font-size="25.5" text-anchor="end">IDO<tspan dy="-8.7" font-size="15.3">+</tspan><tspan dy="8.7"> stromal cells</tspan></text>
<text transform="translate(235.9 1201.5) rotate(-90)" font-size="25.5" text-anchor="end">Tumor cells, intraepithelial</text>
<text transform="translate(271.1 1201.5) rotate(-90)" font-size="25.5" text-anchor="end">Macrophages (M1&gt;M2)</text>
<text transform="translate(306.3 1201.5) rotate(-90)" font-size="25.5" text-anchor="end">CD4<tspan dy="-8.7" font-size="15.3">+</tspan><tspan dy="8.7"> T cells</tspan></text>
<text transform="translate(341.5 1201.5) rotate(-90)" font-size="25.5" text-anchor="end">CD8<tspan dy="-8.7" font-size="15.3">+</tspan><tspan dy="8.7"> T cells</tspan></text>
<text transform="translate(376.7 1201.5) rotate(-90)" font-size="25.5" text-anchor="end">Langerhans cells</text>
<text transform="translate(411.9 1201.5) rotate(-90)" font-size="25.5" text-anchor="end">Tregs</text>
<text transform="translate(447.1 1201.5) rotate(-90)" font-size="25.5" text-anchor="end">Vasculature</text>
<text transform="translate(482.3 1201.5) rotate(-90)" font-size="25.5" text-anchor="end">Mast cells</text>
<text transform="translate(517.5 1201.5) rotate(-90)" font-size="25.5" text-anchor="end">Nerves</text>
<text transform="translate(552.7 1201.5) rotate(-90)" font-size="25.5" text-anchor="end">Stroma</text>
<text transform="translate(587.9 1201.5) rotate(-90)" font-size="25.5" text-anchor="end">Neutrophils</text>
<text transform="translate(623.1 1201.5) rotate(-90)" font-size="25.5" text-anchor="end">Plasma cells</text>
<text transform="translate(658.3 1201.5) rotate(-90)" font-size="25.5" text-anchor="end">Lymphatics</text>
<text transform="translate(693.5 1201.5) rotate(-90)" font-size="25.5" text-anchor="end">Macrophages (M1=M2)</text>
<text transform="translate(728.7 1201.5) rotate(-90)" font-size="25.5" text-anchor="end">CLA<tspan dy="-8.7" font-size="15.3">+</tspan><tspan dy="8.7"> leukocytes</tspan></text>
<text transform="translate(763.9 1201.5) rotate(-90)" font-size="25.5" text-anchor="end">Macrophages (M2&gt;M1)</text>
<text x="411" y="1457" font-size="31" text-anchor="middle" font-weight="bold">Cell-types</text>
<path d="M155.6 476.6V465.2H190.5V476.6M120.6 476.6V461.2H173V465.2M85.7 476.6V459.3H146.8V461.2M295.4 476.6V467.6H330.3V476.6M365.3 476.6V467.1H400.2V476.6M312.9 467.6V461.6H382.8V467.1M260.4 476.6V460H347.8V461.6M225.5 476.6V454H304.1V460M116.2 459.3V450H264.8V454M505.1 476.6V464.3H540.1V476.6M470.2 476.6V462.3H522.6V464.3M575 476.6V467.1H610V476.6M714.8 476.6V468.5H749.8V476.6M679.9 476.6V468H732.3V468.5M644.9 476.6V466.2H706.1V468M592.5 467.1V460.4H675.5V466.2M496.4 462.3V456.4H634V460.4M435.2 476.6V448H565.2V456.4M190.5 450V440.2H500.2V448M50.7 476.6V423.6H345.4V440.2" stroke="#777" stroke-width="1.1" fill="none"/>
<text x="921.5" y="436.6" font-size="32.6" text-anchor="middle" font-weight="bold">Cellular</text>
<text x="924.5" y="468.6" font-size="32.6" text-anchor="middle" font-weight="bold">Neighborhoods</text>
<path d="M803.7 477H1043.5" stroke="#000" stroke-width="2.2"/>
<text x="842" y="528.3" font-size="33">Epithelium</text>
<text x="842" y="582" font-size="33">Immune-infiltrated</text>
<text x="842" y="609.4" font-size="33">stroma</text>
<text x="842" y="667.5" font-size="33">Vasculature</text>
<text x="842" y="726" font-size="33">Vascularized</text>
<text x="842" y="753.4" font-size="33">stroma</text>
<text x="842" y="794" font-size="33">Tumor and</text>
<text x="842" y="822" font-size="33">dendritic cells</text>
<text x="842" y="864.7" font-size="33">Lymphatic</text>
<text x="842" y="892.4" font-size="33">enriched stroma</text>
<text x="842" y="936" font-size="33">Tumor and mixed</text>
<text x="842" y="963.6" font-size="33">immune cells</text>
<text x="842" y="1004" font-size="33">Tumor and</text>
<text x="842" y="1032" font-size="33">CD4<tspan dy="-11.2" font-size="19.8">+</tspan><tspan dy="11.2"> T cells</tspan></text>
<text x="842" y="1076" font-size="33">Innate immune</text>
<text x="842" y="1103.6" font-size="33">cell enriched</text>
<text x="842" y="1160" font-size="33">Treg enriched</text>
<defs><linearGradient id="g2" x1="0" y1="0" x2="0" y2="1"><stop offset="0" stop-color="#ff0000"/><stop offset=".5" stop-color="#ffffff"/><stop offset="1" stop-color="#0000ff"/></linearGradient></defs>
<rect x="834.3" y="1271.2" width="20.9" height="119.4" fill="url(#g2)"/>
<path d="M855 1271.9h12.6M855 1329.5h12.6M855 1389.7h12.6" stroke="#333" stroke-width="1.2"/>
<text x="873.5" y="1277.5" font-size="18.5">3</text>
<text x="873.5" y="1335.5" font-size="18.5">0</text>
<text x="873.5" y="1394.6" font-size="18.5">-3</text>
<text x="901.4" y="1305.2" font-size="19.8">Cellular</text>
<text x="901.4" y="1323.3" font-size="19.8">neighborhood</text>
<text x="901.4" y="1341.2" font-size="19.8">enrichment</text>
<text x="901.4" y="1358.2" font-size="19.8">score</text>
<g transform="translate(1230 477) scale(0.5)" stroke="#8c8c8c" stroke-width="1.4" stroke-linejoin="round">
<path fill="#00bfff" d="M701 666l22-12 2-13-13-12-25 11 8 23zM710 611l-12-4-19 11 5 20 3 2 25-11zM653 563l9-9 20-3 14 20-11 13-7 1-22-13zM709 535l6 9-7 25-2 2-10 0-14-20 6-11zM648 630l20 15 16-7-5-20-15-8-9 2zM785 586l-11-12-9 1-13 10 5 23 19-3zM655 612l9-2 14-25-22-13-13 26zM785 586l-11-12 8-18 21-3 10 14 0 5-23 14zM808 607l17-8 3-8-15-19-23 14zM626 572l27-9 3 9-13 26-7 0-12-16zM805 615l9 21 18-6 4-18-11-13-17 8zM633 543l9-17 16 5 4 23-9 9zM664 610l15 8 19-11-13-23-7 1zM649 440l11-11 11-1 15 20 0 1-18 16-3-1zM613 616l23-18 7 0 12 14-7 18-15 8-4 0-15-15zM848 648l-1-9-15-9-18 6-4 8 24 22zM813 567l20-10 0-22-25 2-5 16zM868 677l5-18-25-11-14 18 0 4 9 11zM813 572l15 19 22-11 2-5-2-5-17-13-20 10zM633 638l16 29 15-3 4-19-20-15zM614 547l-6-16 7-14 20-5 7 14-9 17zM633 638l16 29-8 10-12 3-17-19 17-23zM628 711l-6-14 7-17 12-3 17 20-4 8-25 7zM645 440l-12 13 2 17 12 5 18-11-16-24zM847 639l18-16 1-11-5-3-25 3-4 18zM835 533l25 11-10 26-17-13 0-22zM823 505l12 27 23-21 0-5-3-4-24-6zM829 487l-23-14 12-19 26 11zM715 801l19 1 8-21-18-16-10 4-7 22zM861 609l-11-29-22 11-3 8 11 13zM629 712l25-7 13 22-22 14-7-4zM646 802l14 7 20-14 2-4-23-11-10 6zM866 612l12-5 21 19-15 22-19-25zM715 801l-12 22 2 4 25 8 14-8 2-8-12-17zM844 465l5-1 3-8-7-22-10-6-18 18 1 8zM826 813l0 5-18 28-12-8 2-25 4-3 23 2zM667 832l22-13 14 4 2 4-8 24-2 1-26-13zM913 622l5-9-20-21-14 5-6 10 21 19zM715 801l-12 22-14-4-9-24 2-4 1-1 24 1zM809 849l-1-3-12-8-15 1-10 11 5 14 20 3 12-11zM665 830l-5-21-14-7-14 7 0 1 13 21zM587 444l-30 2-3 9 27 18 15-18zM620 790l-23 5-4-21 17-14 15 14zM614 623l-29 19-1 6 25 14 3-1 17-23zM705 827l-8 24 10 7 18-5 5-18zM587 444l4-21 24 6-2 20-9 7-8-1zM921 639l-8-17 5-9 14-7 15 10 1 14-13 13zM584 648l25 14-15 26-21-12 0-18zM593 774l-17-5 0-24 26-3 8 8 0 10zM681 885l28-2 2-3-4-22-10-7-2 1-17 26 2 6zM632 809l0 1-14 9-12-3-11-17 2-4 23-5zM829 487l2 9 24 6 3-29-9-9-5 1zM624 582l12 16-23 18-16-15 0-4 5-9zM932 606l2-14-14-14-17 5-5 9 20 21zM548 362l4-2 16 10-3 26-1 2-28-3 0-1zM928 673l13-14-6-16-14-4-16 23 1 2zM835 533l0-1 23-21 16 27 0 1-14 5zM645 355l-5-22 16-13 9 2 9 29zM947 616l25-9 3 3-1 24-10 6-16-10zM612 333l-3 21 5 7 26 5 5-11-5-22-20-6zM707 858l18-5 15 16-5 7-24 4zM965 553l4 1 22-14 1-10-2-6-32-5-5 9zM597 795l-4-21-17-5-5 3-7 23 15 8 16-4zM624 395l18-22-2-7-26-5-7 17zM935 643l13-13 16 10-3 21-20-2zM916 702l12-27 19 14-6 17zM549 828l28-2 2-23-15-8-17 26zM665 830l-5-21 20-14 9 24-22 13zM590 328l-9 9 5 20 23-3 3-21zM590 328l-9 9-24-1 1-19 7-8 21 6zM568 370l-16-10 5-23 0-1 24 1 5 20-6 10zM797 888l-1-21-20-3-10 18 2 7zM632 849l-3 1-9 24 14 14 4-1 21-22-1-3zM827 911l-18 10-15-9 6-21 18 0zM721 926l11 3 13-12-2-13-6-4-22 3-2 3zM618 312l23-18 4 0 4 3 7 23-16 13-20-6zM634 888l-4 11-21 9-11-12 2-21 20-1zM566 298l-1 11-7 8-19-8-2-18 12-5zM590 328l22 5 8-6-2-15-15-16-4 0-13 19zM586 315l-21-6 1-11 12-12 13 1 8 9zM590 397l-25-1 3-26 12-3 15 14zM971 744l1-18 25-9 9 6-6 29-18 4zM595 381l-15-14 6-10 23-3 5 7-7 17zM484 354l2 20-4 4-22-2-6-15 3-7 4-2zM496 789l16 23 16-7 6-22-3-6-23-3zM487 581l6 30 18-6 3-21-3-4zM1015 495l0 1-23 15-17-20 0-6 18-10zM563 709l8 6-3 23-12 4-17-10 2-13zM1029 693l4 17-15 13-12 0-9-6-2-24 25-6zM487 581l6 30-6 8-7 4-16-7-1-28 17-11zM480 565l-27-9-11 21 3 5 18 6 17-11zM498 691l15-4 11 5 0 12-17 23-21-6zM602 742l-26 3-8-7 3-23 16-4 15 15zM549 828l-17 13-3 0-22-16 5-13 16-7 19 16zM1043 546l-8 24-26-10 0-3 23-21 8 4zM499 829l-1 30 4 6 6 1 21-25-22-16zM454 361l3-7-21-21-13 15 9 19zM484 354l-23-2 6-26 15-8 10 13-2 18zM517 360l-27-11-6 5 2 20 22 3 4-3zM450 474l-26 3-11-14 0-3 24-14 14 27zM556 265l-28-9-4 29 13 6 12-5zM508 774l23 3 6-10-13-27-10-2-12 21zM486 721l21 6 7 11-12 21-18-4-8-16 8-18zM524 285l-12 6-21-26 2-6 27-8 7 3 1 2zM388 491l-1-7 26-21 11 14-5 22-27-5zM566 264l12 22-12 12-17-12 7-21 5-3zM507 727l7 11 10 2 15-8 2-13-17-15zM392 494l27 5 4 6 1 14-4 5-29 6zM443 700l-18-2-8 18 6 16 7 2 12-4 7-11zM391 530l6 26-29 8-8-4 11-30zM1080 853l0-22-14-11-13 7-7 22 4 4 18 5zM508 298l4-7 12-6 13 6 2 18-17 13zM1079 549l19 6-1 28-24-5-6-11 1-8zM414 740l-29-2 3-27 1-1 28 6 6 16zM366 507l-12-6-15 10 5 15 26 3zM370 529l-26-3-10 14 14 18 11 2 1 0 11-30zM421 631l-10 20 21 14 16-19-2-7zM352 763l25-15 15 24-7 16-34-8zM352 763l-1 17-6 6-15 5-2-2-10-24 21-14zM328 903l-1 16 3 4 32-3 0-9-15-16zM371 675l-7 31 24 5 1-1 6-25-23-10zM353 596l-5 23-8 1-29-19 13-17 27 9zM339 511l-18-7-9 4 10 32 12 0 10-14zM353 668l-14 18 16 24 9-4 7-31zM297 600l-1-2-7-30 1 0 22-5 11 11 1 10-13 17-3 1zM352 763l25-15 0-2-28-25-4 1-9 16 3 13zM1198 765l-13-33-6 0-14 11-2 13 6 8zM295 906l12 15 20-2 1-16-10-11-21 3zM1068 806l7-8 17 1 10 24-22 8-14-11zM421 689l12-22-1-2-21-14-4 1-7 30zM715 903l22-3-2-24-24 4-2 3zM425 698l-8 18-28-6 6-25 5-3 21 7zM364 706l24 5-3 27-8 8-28-25 6-11zM1128 802l-1-3-27-6-8 6 10 24 4 2 17-9zM257 560l6 14 26-6 1 0-6-23-12-3zM139 935l2 1 20-5 4-15-18-14-8 5zM303 758l10-22 23 2 3 13-21 14-14-6zM296 598l-7-30-26 6-4 11 5 10zM1070 772l5 26 17 1 8-6 1-25zM387 646l20 6-7 30-5 3-23-10zM297 600l-1-2-32-3-4 19 14 12 5-1zM262 916l-8 25 26 12 7-10-9-24zM271 419l-24-10 1-13 14-8 13 9-2 21zM1127 799l-27-6 1-25 2-3 10-1 18 23zM315 546l-3 17 11 11 25-16-14-18-12 0zM1053 595l14-2 6-15-6-11-28 12 0 2zM260 614l-10 4-19-9-1-22 29-2 5 10zM355 710l-6 11-4 1-29-16-1-8 11-11 13-1zM315 546l-20-9-11 8 6 23 22-5zM1080 853l0-22 22-8 4 2 5 24-13 12zM308 602l3-1 29 19-17 16-15-3zM315 546l-20-9 0-21 11-8 6 0 10 32zM326 687l-11 11-25-14 12-22 14 2zM267 531l5 11 12 3 11-8 0-21-23-1zM195 931l-10-20-20 5-4 15 18 19 14-9zM1167 798l1-5 23-8 12 18-3 9-15 4zM348 558l11 2-8 33-27-9-1-10zM1138 832l-8 19-19-2-5-24 17-9zM345 786l16 28 1 0 25-20-2-6-34-8zM1165 789l-22-8 3-19 17-6 6 8zM212 410l0-6 21-21 15 13-1 13-11 9zM1013 760l18-15-13-22-12 0-6 29zM124 981l-2 8 32 30 15-3 17-24-12-32-32 1zM330 791l-3 18 16 18 18-13-16-28zM1235 588l13 4 5 20-27 12 3-32zM244 554l-21 20-1 6 8 7 29-2 4-11-6-14zM1155 810l-27-8-5 14 15 16 17-3zM207 619l11 1 13-11-1-22-8-7-21 7-2 21zM349 886l-2 9-19 8-10-11 8-22 9-4zM214 527l-2 12 28 5 6-12-7-16-11-2zM304 759l14 6 10 24-35 2-4-4zM297 600l-18 25 21 14 8-6 0-31zM264 502l8 13 23 1 11-8-15-26-15-1zM242 644l-15-2-9-22 13-11 19 9zM328 789l-35 2 4 29 6 2 24-13 3-18zM1198 765l-29-1-4 25 3 4 23-8zM212 410l0-6-17-26-12 1-5 5-2 27 5 3 29-3zM278 729l12-8 14 0 9 15-10 22-19-9zM220 492l21-5 13 15-15 14-11-2zM201 587l-11-6-5-17 24-15 14 25-1 6zM1258 614l-5-2-5-20 14-10 16 2 5 9-4 14zM264 502l12-21-7-12-24 6-4 12 13 15zM246 532l-6 12 4 10 13 6 15-18-5-11zM97 907l16 9 13-10-9-20-21 3zM1222 831l-8-2-14-17 3-9 15-8 15 13-9 22zM176 533l7 30 2 1 24-15 2-9zM1198 765l7 0 16 18-3 12-15 8-12-18zM194 508l20 19 14-13-8-22-25 2zM195 636l4 11 17 6 11-11-9-22-11-1zM212 404l-17-26 19-19 18 11 1 13zM1155 810l0 19 5 4 20-6 5-11-18-18zM1227 748l-4 0-18 17 16 18 22-6-15-29zM176 613l-8-12 3-10 19-10 11 6-2 21zM171 627l-24-1-8-21 1 0 28-4 8 12zM19 881l2-7-9-13-10-2 0 26zM141 936l20-5 18 19-5 10-32 1zM195 494l-5-6 5-22 24-3 0 1 1 28zM82 918l8 22 16 0 7-7 0-17-16-9zM19 840l-10-8-7 3 0 24 10 2zM168 601l3-10-12-13-14 3-5 24zM1238 890l-18 20 3 8 19 6 12-13-6-18zM194 508l-20 19 1 6 1 0 35 7 1-1 2-12zM147 789l-4-6 12-21 7-1 16 10-4 23zM240 544l4 10-21 20-14-25 2-9 1-1zM219 464l0-1-2-20 22-8 9 8-13 20zM173 631l22 5 12-17-8-11-23 5-5 14zM12 861l7-21 8-2 16 13-10 19-12 4zM1311 567l-26 0-4-11 8-16 19 4zM190 488l-25-1-5-9 11-27 13-1 11 16zM180 802l18 4 10-16-14-26-16 7-4 23zM1311 567l-3-23 15-10 13 16-13 19-11 0zM180 663l-18 18 10 17 11 3 15-14 0-9-15-15zM1323 534l1-12 13-8 16 7 8 21-13 9-12-1zM1258 614l4 23 26 0 2-11-11-19zM140 816l-5 4-13 2-15-16 4-15 19-11 13 3 4 6zM180 802l18 4 1 1-6 28-22 5-4-22zM1278 490l21 13 18-18-10-20-23 10zM1248 893l14-12 12 2 6 8-2 19-3 2-21-1zM143 783l12-21-16-18-14 6-3 6 8 24zM94 844l-13-12 13-24 13-2 15 16-5 11zM189 717l-6-16-11-3-16 15 4 15 15 8 1 0zM1370 489l-3-3-29 9-1 19 16 7 18-14zM140 816l27 2 13-16-6-8-27-5zM124 407l6 2 9 24-28 8-3-4 9-27zM125 750l-21-19-17 21 0 2 8 11 27-9zM150 382l1-1 27 3-2 27-12 5-17-15zM210 411l-29 3 6 31 21-8zM1250 858l12 23 12 2 11-29-1-2-32 4zM1323 569l14 15 15-8-4-25-12-1zM1315 906l-14 13-23-9 2-19 18-4 17 13zM173 631l-3 18 10 14 3 0 16-16-4-11zM1388 524l-17 20 12 18 15-4 3-7-5-22zM56 562l2-25 3-3 25 11 4 8-26 15zM111 441l2 16 21 9 17-28-12-5zM108 437l-16-4-19 17 1 4 27 15 12-12-2-16zM92 433l-19 17-14-7 7-30 20 4zM1312 569l-6 25 13 12 14-4 4-18-14-15zM55 819l9 15-5 13-16 4-16-13 9-17zM101 471l15 25-33 10-6-14zM1279 607l4-14 23 1 13 12-5 8-24 12zM140 707l0-13-19-14-12 14 14 21 5 1zM65 484l12 8 6 14-19 15-18-16zM139 742l0 2-14 6-21-19 0-1 19-15 5 1zM120 378l30 4-3 19-17 8-6-2zM199 182l5-16 15-5 14 8 0 14-22 10zM117 584l6-15-29-14-3 31 3 3zM96 403l-10 14 6 16 16 4 9-27zM5 779l-1-13-2-1 0 19zM2 811l0 24 7-3 0-20-3-2zM130 780l-19 11-16-22 0-4 27-9zM143 661l-21 8-1 11 19 14 18-14zM120 611l-4 25-3 2-22-8-1-17 6-8zM156 713l-16-6-12 9 11 26 21-14zM1355 817l-17 19 16 22 25-16-1-17zM86 545l7-24-10-15-19 15-3 13zM132 342l-23-3-10 12 19 24 17-23zM118 376l0-1-19-24-11 2-9 11-2 16 16 9zM1280 891l18-4 5-17-18-16-11 29zM1391 816l14 7 0-27-12 2zM6 810l3 2 15-3 7-18-26-12-3 5 0 5zM76 643l-20-26 0-1 9-8 25 5 1 17zM96 605l-6 8-25-5 2-22 24 0 3 3zM1238 890l-7-13 15-18 4-1 12 23-14 12zM64 568l0 15 3 3 24 0 3-31-4-2zM1398 558l6 4-3-11zM199 182l12 11-4 18-24-1 0-25zM76 643l-3 9-20 4-16-15 19-24zM65 484l12 8 24-21 0-2-27-15zM1391 816l-13 9 1 17 14 13 4-1 8-10 0-21zM56 616l-23-14-1-4 3-10 29-5 3 3-2 22zM1388 524l8 5-4-14-5 5zM8 713l2-20 21-15 10 2 3 5-6 29zM219 161l-3-23-22-6-2 2-8 16 20 16zM199 182l5-16-20-16-14 9 2 18 11 8zM56 562l-25 3 4-29 23 1zM12 565l-10 7 0 24 1 2 29 0 3-10-6-21zM184 150l8-16-1-1-7 4-15 21 1 1zM180 282l0 1-2 2-32 4-4-25 18-6zM56 617l-19 24-5-1-9-14 10-24 23 14zM6 810l-4-21 0 22zM1396 766l-3 32 12-2 0-29z"/>
<path fill="#ffd700" d="M721 601l-11 10 2 18 13 12 11-5 12-18-26-18zM696 571l-11 13 13 23 12 4 11-10-15-30zM664 664l8 7 23-8-8-23-3-2-16 7zM785 619l-7 16-5 1-21-19 5-9 19-3zM722 600l18-16 12 1 5 23-5 9-4 1zM708 569l-2 2 15 30 1-1 18-16-8-15zM726 686l-22 1-3-21 22-12 12 16zM769 690l6-20-16-14-17 15 15 18zM737 708l-14 7-14-6-5-21 0-1 22-1 11 21zM805 615l-20 4-9-14 9-19 5 0 18 21zM757 689l-15-18-7-1-9 16 11 21zM751 724l-9 20-10 3-12-11 3-21 14-7zM670 520l-12 11-16-5-7-14 3-8 10-6 9 2zM720 736l-17 3-10-18 16-12 14 6zM600 496l0-4 14-10 24 22-3 8-20 5zM689 490l5-3 9-24-17-14-18 16 12 21zM612 553l2-6 19-4 20 20-27 9zM732 747l-8 18 18 16 5-1 12-23-17-13zM645 440l-20-18 2-13 23-1 10 21-11 11zM612 553l14 19-2 10-22 6-4-26zM612 553l2-6-6-16-21-4-8 8-1 21 2 3 18 3zM686 448l-15-20 13-18 11 0 8 22zM732 747l-8 18-10 4-21-13 10-17 17-3zM734 802l12 17 23-7 1-2 2-20-25-10-5 1zM707 791l-24-1 4-32 6-2 21 13zM584 511l-14-5-13 9 2 13 20 7 8-8zM660 429l11-1 13-18-17-22-1 0-16 20zM769 812l12 27-10 11-15-3-12-20 2-8zM581 473l0 7-13 10-25-8 3-20 8-7zM744 827l12 20-14 21-2 1-15-16 5-18zM598 562l-18-3-10 22 27 16 5-9zM683 371l7 1 24 21-1 3-18 14-11 0-17-22zM609 662l-15 26 2 6 26 3 7-17-17-19zM633 453l-20-4-9 7 11 23 20-9zM665 830l-20 1-13 18 26 13 11-23-2-7zM540 555l-23 0-7-23 18-11 1 0 15 24-1 6zM635 470l-20 9-1 3 24 22 10-6-1-23zM624 395l18-22 24 15-16 20-23 1-4-7zM590 397l-25-1-1 2 1 20 26 4 4-17zM768 889l-2-7-24-14-2 1-5 7 2 24 6 4 24-13zM645 440l-20-18-10 7-2 20 20 4zM540 555l3 15 24 12 3-1 10-22-2-3-35-5zM563 709l8 6 16-4 9-17-2-6-21-12-16 14zM770 810l28 3-2 25-15 1-12-27zM536 395l-5 10 5 17 18 8 11-12-1-20zM590 397l5-16 12-3 17 17-1 7-28 3zM906 496l17 6 12-7 5-15-30-15-5 6zM645 831l-13-21-14 9 2 23 9 8 3-1zM587 444l4-21 0-1-26-4-11 12 3 16zM564 795l-30-12-3-6 6-10 11-4 23 9zM554 455l-8 7-23-9-5-16 18-15 18 8 3 16zM572 619l13 23 29-19-1-7-16-15zM557 515l2 13-15 17-15-24 18-11zM595 405l-4 17 0 1 24 6 10-7 2-13-4-7zM568 490l2 16-13 9-10-5-6-25 2-3zM567 582l-12 26-13-3-8-19 9-16zM514 584l-3 21 15 9 16-9-8-19zM940 480l-5 15 22 17 18-21 0-6-15-11-15 2zM776 913l-18 11-13-7-2-13 24-13zM485 556l-2-17 19-10 8 3 7 23-1 1zM600 844l-4 29 4 2 20-1 9-24-9-8zM928 673l13-14 20 2 1 1-5 24-10 3-19-14zM756 847l-14 21 24 14 10-18-5-14zM540 555l-23 0-1 1-5 24 3 4 20 2 9-16zM945 561l20-8-12-25-21 5 3 24zM628 711l-6-14-26-3-9 17 15 15zM969 554l22-14 18 17 0 3-9 19-23 0zM485 556l31 0-5 24-24 1-7-4 0-12zM500 429l3-22 28-2 5 17-18 15zM529 656l-22 4 6 27 11 5 15-9 0-17zM473 503l6-19-12-16-16 5-1 1 0 21 10 9zM945 561l1 23 24 4 7-9-8-25-4-1zM502 529l-3-21-20 0-3 26 7 5zM529 656l-22 4-3-3 7-22 13-5 8 8zM948 717l15 2 6-24-12-9-10 3-6 17zM957 686l5-24 21 3 6 6 2 18-22 6zM693 912l-5-3-7-24 28-2 6 20-2 3zM498 691l15-4-6-27-3-3-15 0-5 25zM963 719l6-24 22-6 4 4 2 24-25 9zM958 519l-1-7 18-21 17 20-2 13zM680 884l-2-6-19-13-21 22 22 11zM517 360l-5 14 24 20 12-32-27-6zM485 556l-2-17-7-5-19 0-7 13 3 9 27 9zM989 671l2 18 4 4 25-6 0-22-8-5zM697 936l-4-24 20-6 8 20-17 12zM501 404l7-27-22-3-4 4 2 21zM536 394l0 1-5 10-28 2-2-3 7-27 4-3zM459 618l-13 21 2 7 18 9 13-5 1-27-16-7zM659 915l-20 6-9-22 4-11 4-1 22 11zM1008 633l-19 9-15-8 1-24 23 3zM571 772l-23-9 8-21 12-4 8 7 0 24zM460 504l-10-9-27 10 1 14 28 4zM524 692l15-9 18 7 6 19-22 10-17-15zM501 506l-2 2 3 21 8 3 18-11-9-16zM450 547l-23-2-4 6 6 21 13 5 11-21zM537 767l11-4 8-21-17-10-15 8zM547 821l-19-16 6-22 30 12zM732 929l7 29 25-6-6-28-13-7zM511 635l-7 22-15 0-10-7 1-27 7-4zM659 915l-20 6-2 4 19 33 8 3 8-15-5-25zM496 789l16 23-5 13-8 4-18-4-5-20 7-14zM697 936l-25 10-8 15 6 13 47-7-13-29zM457 534l-7 13-23-2-7-21 4-5 28 4zM697 936l-25 10-5-25 21-12 5 3zM1013 760l18-15 9 1 5 29-6 6-26-20zM465 688l-6-3-16 15 6 19 25-4zM423 505l27-10 0-21-26 3-5 22zM1054 675l-25 18 4 17 12 4 10-5 8-26-5-8zM529 656l3-18 17-2 9 17-19 13zM479 508l-3 26-19 0-5-11 8-19 13-1zM405 599l10-5 1-15-15-8-16 19zM736 1018l42-6 40 61-19 39-69-27-9-52zM387 423l16 13 15-10-1-16-4-4-21 5zM1033 615l-9 15-16 3-10-20 12-20 12 1zM403 436l15-10 21 12-2 8-24 14-10-11zM1036 660l-16 5 0 22 9 6 25-18zM526 614l-2 16-13 5-24-16 6-8 18-6zM865 954l9 2 19 22-3 23-34 14-20-24 5-27zM457 680l9-25-18-9-16 19 1 2zM617 964l-10 24 57 34 6-48-6-13-8-3zM613 955l8-23 16-7 19 33-39 6zM1038 642l-2 18 18 15 4 0 13-17-14-20zM387 484l26-21 0-3-10-11-20 4-6 23zM1033 615l-11-21 17-13 14 14-5 18zM427 822l20-10 2-6-5-15-16-7-17 24 8 12zM443 700l-18-2-4-9 12-22 24 13 2 5zM387 423l16 13 0 13-20 4-13-14 9-13zM499 482l-20 2-6 19 6 5 20 0 2-2zM502 220l-19 21 0 4 10 14 27-8-8-28zM1048 613l14 11 17-7 2-5-14-19-14 2zM1090 607l9-21 14 1 13 14-12 17zM419 820l-12 22-22-1-4-4 0-1 17-30 13 2zM1067 593l6-15 24 5 2 3-9 21-9 5zM1079 617l12 20-10 19-10 2-14-20 5-14zM1113 587l15-20 4-1 17 18 0 7-14 11-9-1zM399 557l2 14-16 19-17-26 29-8zM1033 615l-9 15 14 12 19-4 5-14-14-11zM411 808l-13-2-11-12-2-6 7-16 18-4 14 7 4 9zM385 590l-17-26-8-4-1 0-8 33 2 3 28-2zM788 997l48-6 20 24-9 42-29 16-40-61zM1040 746l10-6 18 3 1 28-24 4zM1075 718l6-4 25 12-14 19-22-3zM1079 617l12 20 18 0 6-10-1-9-24-11-9 5zM1149 591l20 11 2 6-8 16-20-2-8-20zM381 620l0-26 4-4 20 9 0 18-21 7zM1091 637l-10 19 12 9 17-3 5-8-6-17zM381 620l-33-1 5-23 28-2zM1109 637l6 17 21 0 4-3-5-19-20-5zM1121 684l14-3 12 5-7 29-22-2-5-19zM1092 745l11 20 10-1 13-14-16-26-4 2zM399 557l24-6 6 21-13 7-15-8zM410 768l-18 4-15-24 0-2 8-8 29 2zM1115 654l-5 8 11 22 14-3 1-27zM384 624l0 18 3 4 20 6 4-1 10-20-1-4-15-10zM1179 732l-14-19-21 6 2 12 19 12zM381 620l-33-1 6 26 30-3 0-18zM681 885l7 24-21 12-8-6 1-17 20-14zM1165 743l-19-12-17 19 17 12 17-6zM193 941l-14 9-5 10 12 32 44-11-1-15zM1070 742l22 3 11 20-2 3-31 4-1-1-1-28zM274 881l-16 29 4 6 16 3 17-13 2-11-10-12zM326 870l-8 22-21 3-10-12 15-23zM1196 675l-11 17-13 1-13-9 6-27 29 8zM368 475l-14-17 6-16 10-3 13 14-6 23zM345 722l-29-16-12 15 9 15 23 2zM1200 656l-7-20-26 3-5 12 3 6 29 8zM348 657l-18-3-7-18 17-16 8-1 6 26zM348 657l5 11 18 7 1 0 15-29-3-4-30 3zM1140 651l22 0 3 6-6 27-12 2-12-5 1-27zM1098 555l-1 28 2 3 14 1 15-20-24-14zM1143 622l-8 10 5 19 22 0 5-12-4-15zM1179 732l-14-19 7-20 13-1 17 22-2 7-15 11zM300 639l-3 15 5 8 14 2 14-10-7-18-15-3zM1204 589l-3 16-12 8-18-5-2-6 16-23 18 8zM1224 683l-3 23-19 8-17-22 11-17zM300 639l-3 15-26 0-5-5 8-23 5-1zM254 941l26 12 0 21-46 11-4-4-1-15 8-17zM1225 652l6-14-5-14-2 0-30 11-1 1 7 20zM1114 618l12-17 9 1 8 20-8 10-20-5zM1171 608l18 5 5 22-1 1-26 3-4-15zM248 650l-4 20 19 19 8-3 0-32-5-5zM303 822l9 15 28 5 3-15-16-18zM260 614l-10 4-8 26 6 6 18-1 8-23zM1229 592l-3 32-2 0-23-19 3-16zM1155 829l-17 3-8 19 2 4 27 3 3-4-2-21zM290 684l12-22-5-8-26 0 0 32 11 2zM188 902l-20-17-16 2-5 15 18 14 20-5zM274 881l-16 29-6-2-13-14 9-24 19 4zM288 787l-25 16-2 9 20 16 16-8-4-29-4-4zM126 906l13 1 8-5 5-15-6-8-23-2-6 9zM303 822l9 15-10 23-24-16-1-3 4-13 16-8zM1232 676l-8 7-3 23 17 10 7-1 15-15 1-4zM1260 700l-15 15 20 29 18-18zM96 889l21-3 6-9-4-13-25-3-3 3-1 19zM224 784l-16 6-14-26 5-10 15-6 15 16zM439 760l15 1 6-18-18-13-12 4zM248 844l29-3 4-13-20-16-18 8zM239 859l9 11 19 4 11-30-1-3-29 3zM239 859l9-15-5-24-6-2-14 3-6 24 15 14zM225 895l-7 9 3 18 7 3 24-17-13-14zM239 859l9 11-9 24-14 1-10-20 17-16zM274 881l13 2 15-23-24-16-11 30zM179 865l-11 20 20 17 4-3 9-24-7-8zM1232 676l-8 7-28-8-2-10 6-9 25-4 8 19zM1259 776l-12 3-4-2-15-29 37-3 4 10zM1272 686l-11 10-29-20 1-5 26-10 14 10zM265 768l23 19-25 16-11-16 8-19zM179 865l-11 20-16 2-6-8 5-25 3-4 11-2zM171 591l19-10-5-17-2-1-20 3-4 12zM1201 605l-12 8 5 22 30-11zM1295 789l-18 7-18-20 10-21 26 8zM82 918l15-11-1-18-6-6-22 6 4 25zM204 721l21-18 2 1 4 29-17 15zM19 881l2-7 12-4 25 11 2 4-14 14-23-6zM119 864l4 13 23 2 5-25-27 0zM176 736l-1 0-13 25 16 10 16-7 5-10zM1307 686l23 7-3 24-1 1-27-4-3-18zM113 916l13-10 13 1 0 28-26-2zM1312 752l11-8 3-26-27-4-9 11 20 27zM242 644l-15-2-11 11 0 11 14 11 14-5 4-20zM1310 752l-20-27-7 1-18 18 0 1 4 10 26 8zM68 889l-8-4-2-4 6-23 27 6-1 19zM1308 794l6 13-1 8-14 12-26-19 4-12 18-7zM175 533l-23 18 11 15 20-3-7-30zM204 721l10 27-15 6-23-18 13-19zM140 816l-5 4 19 30 11-2 6-8-4-22zM94 844l-13-12-17 2-5 13 5 11 27 6 3-3zM72 914l-15 8-10-4-1-19 14-14 8 4zM33 870l25 11 6-23-5-11-16 4zM1245 715l20 29 0 1-37 3-1 0 11-32zM1312 752l14 24-18 18-13-5 0-26 15-11zM1224 830l9-22 9-4 21 14-1 4-9 9zM147 401l17 15-12 22-1 0-12-5-9-24zM104 730l19-15-14-21-4 0-17 19zM1322 637l-8-23-24 12-2 11 1 1 26 9zM1252 856l32-4 1-2-23-28-9 9zM1367 604l2-2 2-21-19-5-15 8-4 18 0 1zM1220 875l11 2 15-18-21-14-11 15zM1313 815l-14 12-2 12 23 10 18-13zM1327 717l31 5 0-22-17-15-1 0-10 8zM1347 650l20 10 15-16 1-3-18-16-19 6-3 4zM1349 750l-26-6 3-26 1-1 31 5 3 4-3 19zM156 713l16-15-10-17-4-1-18 14 0 13zM1367 604l-34-1 13 28 19-6zM160 728l15 8-13 25-7 1-16-18 0-2zM1308 794l6 13 28-7-3-22-13-2zM52 352l27 12-2 16-12 7-25-16 9-18zM1312 752l11-8 26 6-7 26-3 2-13-2zM1314 807l-1 8 25 21 17-19-2-7-11-10zM27 395l10-23-2-1-13 22zM1390 759l10-23-23-14-16 4-3 19 19 15zM73 652l-20 4-12 24 3 5 25 6 14-15 1-10zM1396 766l-3 32-23-10-3-7 10-21 13-1zM104 730l0 1-17 21-17-18 0-16 6-5 12 0zM4 766l17-13 0-1-19-32 0 45zM109 339l-3-15-25-5-4 14 11 20 11-2zM88 713l-12 0-7-22 14-15 22 18zM52 352l27 12 9-11-11-20-18 3zM37 372l-10 23 5 14 27-4 6-18-25-16zM21 752l18-17 0-19-1-2-30-1-6 5 0 2zM1370 788l-17 22-11-10-3-22 3-2 25 5zM1250 858l-4 1-21-14-3-14 2-1 29 1-1 25zM142 294l12 18-9 16-4 1-16-17 7-16zM1367 781l-25-5 7-26 9-5 19 15zM37 372l3-1 9-18-3-2-11 20zM1370 788l-17 22 2 7 23 8 13-9 2-18zM141 329l-16-17-14 3-5 9 3 15 23 3zM76 713l-7-22-25-6-6 29 1 2 31 2zM1404 705l1 2 0-4zM70 718l-31-2 0 19 16 8 15-9zM79 314l9-19-7-7-13 23zM1361 726l16-4 10-19-8-14-21 11 0 22zM49 353l3-1 7-16-2-4-11 19zM1405 767l0-30-4-2-1 1-10 23 6 7zM1404 705l-17-2-10 19 23 14 1-1 4-8 0-20zM17 662l0-9-15-9 0 25zM1401 735l4 2 0-10zM8 713l2-20-8-8 0 33zM10 693l21-15-14-16-15 7 0 16zM88 295l12-2 11-13-14-18-8 10-8 16zM87 752l0 2-24 10-9-4 1-17 15-9zM59 336l18-3 4-14-2-5-11-3-11 21zM88 295l12-2 11 22-5 9-25-5-2-5z"/>
<path fill="#ff0000" d="M742 671l17-15 0-5-23-15-11 5-2 13 12 16zM775 670l19-9 3-10-19-16-5 1-14 15 0 5zM736 636l23 15 14-15-21-19-4 1zM993 329l-32 8 3 14 14 9 19-9 1-21zM997 351l13 13-1 19-6 4-24-11-1-16zM726 971l10 47-15 15-57-11 6-48 47-7zM998 330l11-5 26 24 0 1-25 14-13-13zM561 1264l3 22 84-2-12-49-3-1zM586 1152l47 82 3 1 74-32-32-79-54-21zM753 1217l-43-14-74 32 12 49 87-3zM56 1201l3-2-13-98-45 5 0 17 10 64 23 10zM173 1200l-32-22-82 21-3 2 0 5 114 48zM170 1254l94 40 19-59-59-51-51 16zM561 1264l-22-12-73 30-3 7 101-3zM56 1201l-22-4 22 9zM345 1119l51 25 24 45-56 54-60-18 31-99zM244 1128l-20 56 59 51 21-10 31-99zM1321 1116l-76-17-26 36 27 36 75-45zM1378 1091l27-15 0-28-7 2zM1249 1042l-9 12 5 45 76 17 27-23-27-52zM1398 1050l-25-48-39 6-13 33 27 52 28 0 2-2zM1378 994l-5 8 25 48 7-2 0-59z"/>
<path fill="#ff69b4" d="M680 694l24-6 0-1-3-21-6-3-23 8 3 19zM713 519l8-5 20 14 1 19-27-3-6-9zM732 569l8 15 12 1 13-10-19-27-4-1zM678 521l10 19 21-5 4-16-22-11zM678 521l10 19-6 11-20 3-4-23 12-11zM721 514l20 14 16-13-7-16-4-1-23 11zM657 500l-9-2-1-23 18-11 3 1 12 21zM774 574l8-18-9-18-27 10 19 27zM742 547l-1-19 16-13 17 6 2 5-3 12-27 10zM691 508l22 11 8-5 2-5-7-19-22-3-5 3zM716 490l14-16 4 1 12 23-23 11zM694 487l9-24 16-3 11 14-14 16zM719 460l7-20 26 2-3 26-15 7-4-1zM768 484l-18 15-4-1-12-23 15-7 19 8zM760 437l21 17 1 7-14 15-19-8 3-26zM678 521l13-13-2-18-9-4-23 14 13 20zM649 667l-8 10 17 20 17-7-3-19-8-7zM719 460l7-20-2-3-21-5-17 16 0 1 17 14zM768 484l18 16 9-2 8-24-21-13-14 15zM715 544l27 3-10 22-24 0zM680 694l4 25-14 9-3-1-13-22 4-8 17-7zM866 612l12-5 6-10-12-22-20 0-2 5 11 29zM724 437l3-20-14-21-18 14 8 22zM528 488l13-3 6 25-18 11-1 0-9-16zM910 534l-2 19-16 9-7-1-11-22 0-1 17-11zM860 544l14-5 11 22-13 14-20 0-2-5zM761 434l24-19 11 4 4 17-19 18-21-17zM903 583l-5 9-14 5-12-22 13-14 7 1zM505 468l0 7 23 13 13-3 2-3 3-20-23-9zM914 813l28-9 1-2-4-15-30-6-5 8 0 12zM914 819l14 16 20-2-6-29-28 9zM606 816l-17 18-4 0-8-8 2-23 16-4zM946 584l-12 8-2 14 15 10 25-9-2-19zM948 833l-6-29 1-2 26 0 8 19-27 13zM947 773l-8 14 4 15 26 0 10-19-2-4zM920 578l-17 5-11-21 16-9 15 10zM505 475l23 13-9 17-18 1-2-24zM914 819l14 16-11 21-24-14 0-1zM522 329l0-7 17-13 19 8-1 19 0 1zM950 834l27-13 4 2 4 29-12 5-21-14zM992 530l35-5 5 11-23 21-18-17zM948 833l-20 2-11 21 1 2 15 8 7-3 12-20-2-9zM977 579l23 0 10 14-12 20-23-3-3-3-2-19zM521 356l0-27 1 0 35 8-5 23-4 2zM589 834l-4 0-13 20 12 17 12 2 4-29zM549 828l14 25 9 1 13-20-8-8zM982 756l18-4 13 8 0 1-12 28-22-6-2-4zM544 869l-12-28 17-13 14 25-18 16zM433 609l26 9 5-2-1-28-18-6-13 21zM502 865l-13 19-15 2-6-6-2-22 8-6 24 7zM545 869l18-16 9 1 12 17-18 15-16-8zM596 873l4 2-2 21-27 15-1-1-4-24 18-15zM447 812l11 18 16 1 7-6-5-20-27 1zM613 955l-31-16 0-9 26-12 13 14zM517 360l-27-11 2-18 29-2 0 27zM416 579l13-7 13 5 3 5-13 21-17-9zM519 873l-11-7-6-1-13 19 16 21 7-1 10-10zM818 1073l-19 39 6 21 82 25 28-79-68-22zM489 884l-15 2-7 19 12 15 17-2 9-13zM1033 710l12 4 5 26-10 6-9-1-13-22zM1022 594l-12-1-10-14 9-19 26 10 4 9 0 2zM444 791l20-16 5 0 14 16-7 14-27 1zM443 879l25 1-2-22-25-8-3 5zM443 879l25 1 6 6-7 19-26 8-2-2-2-25zM1043 546l-8 24 4 9 28-12 1-8zM613 955l-31-16-22 22-3 11 35 22 15-6 10-24zM441 913l2 20 14 15 12-2 10-26-12-15zM533 927l-18 14-8-3-11-20 9-13 7-1zM474 831l0 21 24 7 1-30-18-4zM618 819l2 23-20 2-11-10 17-18zM544 869l-12-28-3 0-21 25 11 7zM507 938l-26 15-12-7 10-26 17-2zM940 863l24 14 9-20-21-14zM544 869l-25 4 3 21 15 2 13-18-5-9zM481 953l-12-7-12 2-15 24 20 44 35-24zM454 277l1-4-26-16-13 9-3 13 13 14zM537 896l10 20-9 11-5 0-21-23 10-10zM538 927l22 34 22-22 0-9-11-19-1-1-23 6zM443 879l-5-24-21 3-4 6 5 18 19 4zM405 617l15 10 13-18-1-6-17-9-10 5zM533 927l-18 14 11 46 31-15 3-11-22-34zM1144 719l-4-4-22-2-8 11 16 26 3 0 17-19zM455 273l-26-16 6-20 13 1 13 14zM433 609l-13 18 1 4 25 8 13-21zM427 822l15 27-1 1-3 5-21 3-10-16 12-22zM550 878l16 8 4 24-23 6-10-20zM1045 714l5 26 18 3 2-1 5-24-20-9zM1143 781l3-19-17-12-3 0-13 14 18 23zM1144 719l-4-4 7-29 12-2 13 9-7 20zM427 822l15 27 16-19-11-18zM442 849l-1 1 25 8 8-6 0-21-16-1zM507 938l-26 15 16 39 26-2 3-3-11-46zM1203 587l-18-8-6-13 23-16 15 8 0 1zM1155 810l-27-8-1-3 4-12 12-6 22 8 3 4-1 5zM459 298l-11 9-22-8 0-6 28-16zM248 396l14-8 4-22-2-3-11-3-21 10 1 13zM284 749l19 9 1 1-15 28-1 0-23-19zM169 1016l58 47 22-22-15-56-4-4-44 11zM1233 671l-8-19 6-14 26 4 2 19zM253 360l11 3 15-23-6-9-24-3-3 7zM1233 540l-3-11-18-10-12 22 2 9 15 8zM154 1019l-33 65 22 21 77-14 7-28-58-47zM253 736l-1 24 8 8 5 0 19-19-6-20-15-3zM252 760l-23 4-5 20 10 7 18-4 8-19zM234 791l3 27-14 3-24-14-1-1 10-16 16-6zM252 787l-18 4 3 27 6 2 18-8 2-9zM1258 614l-5-2-27 12 5 14 26 4 5-5zM253 736l-22-3-17 15 15 16 23-4zM277 312l15-6 5-11-13-18-18 3-1 24zM1311 567l-26 0-7 17 5 9 23 1 6-25zM135 820l-13 2-5 11 7 21 27 0 3-4zM1235 588l13 4 14-10-10-23-19 11zM1212 518l-23-6-16 17 27 12 12-22zM1273 671l-14-10-2-19 5-5 26 0 1 1-4 24zM1272 686l24 10 11-10-1-16-21-8-12 9zM172 344l7-5 33 11 2 9-19 19-12 1-12-32zM214 359l18 11 21-10-7-25-29 7-5 8zM277 312l-4 19-24-3-4-14 20-10zM1308 366l-5 24 9 7 26-3 3-12-13-18zM241 311l4 3 4 14-3 7-29 7-2-23zM1326 431l20-22-8-15-26 3-1 26zM236 290l25-13 5 3-1 24-20 10-4-3zM1254 549l9-24 3-1 20 7 3 9-8 16-26-4zM204 721l21-18-2-3-25-13-15 14 6 16zM173 631l-3 18-24 4-6-16 7-11 24 1zM253 736l-22-3-4-29 27-1 9 23zM230 675l-7 25 2 3 2 1 27-1 9-14-19-19zM1329 441l-4 10-16 9-17-17 1-15 18-5 15 8zM1303 390l9 7-1 26-18 5-4-3-8-29zM147 626l-7 11-24-1 4-25 9-6 10 0zM217 845l-14 1-10-11 6-28 24 14zM1233 570l19-11 3-7-1-3-21-9-16 18 0 1zM1307 686l23 7 10-8-9-21-13-4-12 10zM1308 544l-19-4-3-9 15-21 23 12-1 12zM1272 686l-11 10-1 4 23 26 7-1 9-11-3-18zM1331 664l16-14-4-15-21 2-7 10 3 13zM94 844l23-11 7 21-5 10-25-3zM183 663l15 15 18-14 0-11-17-6zM1332 487l6 8-1 19-13 8-23-12-2-7 18-18zM205 310l10 9 26-8-5-21-11-6-21 19zM236 258l-15 13 4 13 11 6 25-13-7-16zM1325 451l13 16-6 20-15-2-10-20 2-5zM1306 670l12-10-3-13-26-9-4 24zM1353 465l14 21-29 9-6-8 6-20zM1255 552l26 4 4 11-7 17-16-2-10-23zM1254 549l9-24-18-8-15 12 3 11zM1387 520l1 4-17 20-10-2-8-21 18-14zM1329 441l31 3-2-32-12-3-20 22zM1329 441l31 3 2 2-9 19-15 2-13-16zM140 637l6 16-3 8-21 8-10-10 1-21 3-2zM1362 446l-9 19 14 21 13-22-4-16zM1341 382l-3 12 8 15 12 3 3-1 4-5-2-10-10-19zM1235 588l-2-18-16-11-14 28 1 2 25 3zM1370 489l1 18 16 13 5-5-6-26zM1371 544l-10-2-13 9 4 25 19 5 8-7 4-12zM171 347l12 32-5 5-27-3 0-20zM1379 574l-8 7-2 21 31 9 5-5 0-14zM1358 412l2 32 2 2 14 2-9-34-6-3zM209 234l-26 5 12 27 14-2 4-26zM230 675l-14-11-18 14 0 9 25 13zM1361 411l6 3-2-8zM1367 667l0-7-20-10-16 14 9 21 1 0zM1180 827l12 20-1 7-1 1-28-1-2-21zM120 378l30 4 1-1 0-20-16-9-17 23 0 1zM180 663l-18 18-4-1-15-19 3-8 24-4zM1322 637l-8-23 5-8 14-4 0 1 13 28-3 4zM212 350l5-8-2-23-10-9-24 15-2 14zM1400 611l-31-9-2 2-2 21 18 16 14-13zM145 328l27 16-1 3-20 14-16-9-3-10 9-13zM276 106l-18 3-5 22 21 8 13-11-6-19zM109 694l12-14 1-11-10-10-28 7-1 10 22 18zM1402 675l3-8 0-2-23-21-15 16 0 7 13 17zM96 403l-10 14-20-4-7-8 6-18 12-7 16 9zM302 134l-15-6-6-19 25-9 6 23zM1397 628l8 4 0-26-5 5zM76 643l-3 9 11 14 28-7 1-21-22-8zM1398 558l-15 4-4 12 26 18 0-27-1-3zM248 100l10 9 18-3 4-30-32 21zM227 130l19 6 7-5 5-22-10-9-11 4-12 7zM120 378l4 29-7 3-21-7-3-14 25-13zM194 132l22 6 11-8-2-19-30 20zM248 100l0-3-11 7zM145 328l9-16 16-2 11 15-2 14-7 5zM1397 628l-14 13-1 3 23 21 0-33zM183 210l-4 4-2 22 6 3 26-5-1-21-1-2zM178 285l-8 25 11 15 24-15-1-7-24-20zM132 296l-7 16-14 3-11-22 11-13 1-1zM233 169l13-9 0-24-19-6-11 8 3 23zM142 294l12 18 16-2 8-25-32 4zM1367 486l3 3 16 0-6-25zM172 177l-2-18-1-1-22 31 6 2zM192 134l2-2 1-1-4 2zM142 294l-10 2-20-17 20-19 10 4 4 25zM276 106l5 3 25-9 3-7-7-14-18-5-4 2z"/>
<path fill="#ff8c00" d="M805 615l9 21-4 8-13 7-19-16 7-16zM806 681l-12-20 3-10 13-7 24 22 0 4zM680 694l4 25 9 2 16-12-5-21zM768 484l18 16-12 21-17-6-7-16zM684 719l-14 9 14 29 3 1 6-2 10-17-10-18zM770 810l28 3 4-3-4-19-21-5-5 4zM826 813l16-6 7-25-12-8-17 5 5 33zM829 487l2 9-8 9-15 2-13-9 8-24 3-1zM806 473l-3 1-21-13-1-7 19-18 17 10 1 8zM659 780l2-18 23-5 3 1-4 32-1 1zM842 807l18 9 11-5-2-28-1-2-19 1zM826 813l0 5 18 23 10-2 6-23-18-9zM890 503l1 24-17 11-16-27 0-5 25-7zM890 503l1 24 19 7 13-7 0-25-17-6zM953 528l5-9-1-7-22-17-12 7 0 25 9 6zM625 774l-15-14 0-10 28-13 7 4 4 12-18 20zM628 711l-26 15 0 16 8 8 28-13-9-25zM667 727l-22 14 4 12 12 9 23-5-14-29zM833 747l-21 2-11-16 7-11 25 5zM839 699l-20 2-12 19 1 2 25 5 11-9 2-7zM880 693l12 1 14-30-1-2-21-12-11 9-5 18zM825 812l-23-2-4-19 15-15 7 3zM837 774l3-20 16-6 16 17-4 16-19 1zM882 471l-1-28 3-5 26 18 0 9-5 6zM748 411l4-10-8-18-15-2-15 12-1 3 14 21zM935 557l-12 6-15-10 2-19 13-7 9 6zM632 809l-12-19 5-16 6-1 18 13-3 16zM729 381l-15 12-24-21 19-16 15 6zM913 704l3-2 12-27 0-2-22-9-14 30 10 8zM640 366l2 7 24 15 1 0 16-17-7-19-2-1-29 4zM884 435l14-12-3-25-2-2-20 0-8 9 4 18zM891 738l-6 19-13 8-16-17 4-10 18-8 12 5zM876 343l-17-6-7 28 4 7 11 3 14-11zM676 352l25-19 2 0 6 23-19 16-7-1zM881 443l-29 13-7-22 24-11 15 12 0 3zM881 364l-14 11 6 21 20 0 4-28zM876 343l5 21 16 4 3-1 7-14-11-23zM747 322l-9 20-28-15 4-18 14-3 18 11zM827 911l-18 10-1 26 21 4 9-32-2-4zM888 837l-28 6-6-4 6-23 11-5 9 3zM674 351l-9-29 12-4 24 15-25 19zM649 297l29-10 6 15-7 16-12 4-9-2zM784 917l1 39 23-9 1-26-15-9zM945 561l1 23-12 8-14-14 3-15 12-6zM649 786l10-6 2-18-12-9-18 20zM919 292l-7 26 16 7 15-18-3-10zM860 738l-16-20-11 9 0 20 7 7 16-6zM599 296l-8-9 7-28 22 4 1 16-18 17zM999 458l-6 17-18 10-15-11 10-30 24 3zM896 330l3-8 13-4 16 7 5 11-5 13-21 4zM977 821l4 2 17-5 11-14-1-6-7-9-22-6-10 19zM981 823l17-5 13 20-10 19-3 1-13-6zM784 917l10-5 6-21-3-3-29 1-1 2 9 22zM746 317l15-19-9-12-15 2-9 18zM784 917l1 39-2 2-19-6-6-28 18-11zM603 296l18-17 20 15-23 18zM496 789l12-15-6-15-18-4-15 20 14 16zM704 938l13 29 9 4 13-13-7-29-11-3zM726 971l10 47 42-6 10-15-5-39-19-6-25 6zM933 866l-2 24 3 4 7 1 23-14 0-4-24-14zM679 284l15-8 4-20-5-5-30 7 0 2zM698 256l13-2 8-11-4-17-26-1-1 1 5 25zM645 294l5-26 13-8 16 24-1 3-29 10zM924 948l5-22 22-5 12 26zM829 951l-21-4-23 9-2 2 5 39 48-6 5-27zM973 857l-9 20 0 4 12 10 17-4 5-29-13-6zM941 895l13 19 18-6 4-17-12-10zM1001 857l17 7 6 15-15 18-16-10 5-29zM1009 804l20 12-6 19-12 3-13-20zM1013 761l26 20-31 17-7-9zM469 775l-5 0-10-14 6-18 16-4 8 16zM940 297l3 10 18 6 15-12 0-1-5-15-22-3zM710 327l-7 6-2 0-24-15 7-16 27 3 3 4zM428 784l-4-9 15-15 15 1 10 14-20 16zM738 342l-14 20-15-6-6-23 7-6zM972 908l12 15 17 2 8-26 0-2-16-10-17 4zM424 775l15-15-9-26-7-2-9 8-4 28zM992 530l35-5 1-11-13-18-23 15-2 13zM474 715l-25 4-7 11 18 13 16-4 8-18zM1044 479l-16 1-11-19 17-16 10 5zM955 995l5-3 62-1 4 1 0 1-33 89-48-20-5-24zM1039 781l5 15 24 10 7-8-5-26-1-1-24 4zM620 1087l44-65 57 11 9 52-52 39-54-21zM1038 849l8 0 4 4-8 29-18-3-6-15zM984 923l17 2 3 4-8 26-29 1-4-9zM495 1086l30 77 61-11 38-49-4-16-43-31-28-3zM388 491l-1-7-10-8-9-1-15 12 1 14 12 6zM1009 804l20 12 5-1 10-19-5-15-31 17zM1040 540l-8-4-5-11 1-11 25-11 9 10 0 11zM1050 892l-8-10-18-3-15 18 0 2 26 9zM472 1077l-76 67-51-25-2-54 41-36 68 10zM890 1001l-34 14-9 42 68 22 30-17-5-24zM1050 892l-15 16 1 22 27-9 1-3-12-25zM915 1079l30-17 48 20 1 1 7 69-73 36-28-9-13-21zM523 990l26 63 28 3 15-62-35-22-31 15zM976 300l33-5-4-18-27-7-7 15zM495 1086l30 77-2 4-88 29-15-7-24-45 76-67zM1035 908l-26-9-8 26 3 4 28 8 4-7zM1063 921l11 20-2 8-33 6-7-18 4-7zM462 1016l-20-44-40-8-15 14-6 13 3 38 68 10zM561 262l0-23-16-6-18 21 1 2 28 9zM387 794l-25 20 19 22 17-30zM405 947l-3 17 40 8 15-24-14-15zM1011 838l-10 19 17 7 20-15-15-14zM401 934l-7-6-30-3-3 16 26 37 15-14 3-17zM951 921l3-7 18-6 12 15-21 24zM1034 815l19 12 13-7 2-14-24-10zM327 969l-23 24 0 43 39 29 41-36-3-38zM1029 816l5-1 19 12-7 22-8 0-15-14zM525 1163l-2 4 16 85 22 12 72-30-47-82zM563 201l-23 15 5 17 16 6 10-8 3-18zM607 988l57 34-44 65-43-31 15-62zM497 992l-35 24-10 23 20 38 23 9 54-33-26-63zM441 913l2 20-38 14-4-13 19-23 19 0zM234 985l15 56 55-5 0-43-24-19zM413 864l-19 6-4 24 17 1 11-13zM287 943l-7 10 0 21 24 19 23-24 0-13-27-16zM678 1124l32 79 43 14 1 0 51-84-6-21-69-27zM1149 591l20 11 16-23-6-13-8-3-22 21zM390 894l17 1 13 16-19 23-7-6zM329 953l32-12 26 37-6 13-54-22 0-13zM1149 584l22-21-6-11-26 0-7 14zM390 894l4 34-30-3-2-5 0-9 20-17zM435 1196l31 86 73-30-16-85zM437 886l2 25-19 0-13-16 11-13zM330 923l-1 30 32-12 3-16-2-5zM339 511l-18-7 9-27 23 10 1 14zM220 1091l24 37 91-2 10-7-2-54-39-29-55 5-22 22zM429 257l6-20-8-11-16-1-10 9-1 15 16 17zM382 894l-20 17-15-16 2-9 18-7zM300 940l27 16 2-3 1-30-3-4-20 2zM634 236l27 14 7-18-13-13-16 3zM1138 245l19 6 6 18-5 8-26-6-1-2zM417 858l-10-16-22-1-1 19 10 10 19-6zM1138 1093l20-49-46-29-31 7-12 49 37 31zM364 1243l13 48 86-2 3-7-31-86-15-7zM264 1294l1 0 112-3-13-48-60-18-21 10zM220 1091l24 37-20 56-51 16-32-22 2-73zM563 201l-1-7-9-12-12-4-16 17 4 18 11 3zM448 238l-13-1-8-11 11-21 21-2 8 6-1 14zM1032 1264l-75 8-2 3 87-2zM1138 245l19 6 11-16-1-4-22-13zM390 894l4-24-10-10-16 9-1 10 15 15zM113 933l26 2 2 1 1 25-18 20-18-41zM1171 563l8 3 23-16-2-9-27-12-3 1-5 22zM1168 235l18 11-4 18-19 5-6-18zM1178 996l-3 38-17 10-46-29 8-28 27-11zM424 184l14 21 21-2 4-26-2-2-28 0zM90 940l-12 11 9 45 35-7 2-8-18-41zM753 1217l-18 64 89-2 5-21-75-41zM295 906l12 15-7 19-13 3-9-24zM1001 1152l38 26-7 86-75 8-29-84zM1138 1093l56 47-45 69-67-43 24-64zM1149 1209l-67-43-43 12-7 86 10 9 34-1 77-46zM1185 916l1-2 30-6 4 2 3 8-13 20-13 0zM1219 1135l-25 5-45 69 4 17 93-55zM424 184l14 21-11 21-16-1-13-27 15-14zM1167 231l17-20 2-1 11 8-5 25-6 3-18-11zM486 169l23 7 2 14-18 14-9-32zM1240 1054l5 45-26 36-25 5-56-47 20-49 17-10zM1242 924l8 26-20 17-20-29 13-20zM1227 975l-37 7-12 14-3 38 65 20 9-12 4-26zM1218 498l-6 20 0 1 18 10 15-12-2-12-22-8zM16 914l7-21-4-12-17 4 0 24zM1269 951l20 31-36 34-26-41 3-8 20-17zM145 581l-15-15 6-12 7-4 9 1 11 15-4 12zM1293 428l-4-3-28 5-2 21 16 5 17-13zM322 226l-14 16-12-2-7-20 3-5 26 5zM139 605l-10 0-12-21 6-15 7-3 15 15-5 24zM1238 890l-7-13-11-2-13 10 9 23 4 2zM1314 982l-25 0-36 34-4 26 72-1 13-33zM1254 911l21 1-4 35-2 4-19-1-8-26zM1216 908l-9-23-18-3-9 7 6 25zM1273 491l-7 33-3 1-18-8-2-12 16-17zM1273 491l-7 33 20 7 15-21-2-7-21-13zM1251 479l8 9 14 3 5-1 6-15-9-19-16-5zM1348 1093l-27 23 0 10 55-33zM123 569l-29-14 22-18 20 17-6 12zM1271 947l4-35 3-2 23 9 1 15zM1292 443l-17 13 9 19 23-10 2-5zM254 261l7 16 5 3 18-3 4-8-3-17-20-10-1 1zM239 215l22-1 9 13-5 15-1 1-26-12zM232 238l4 20-15 13-12-7 4-26zM292 215l-2-15-23 1-6 13 9 13 19-7zM1314 982l-25 0-20-31 2-4 31-13 9 8 4 38zM1319 866l-16 4-18-16-1-2 1-2 12-11 23 10zM1314 982l20 26 39-6 5-8-3-32-26-10-34 28zM1405 989l0-38-26 5-4 6 3 32zM1361 922l-11-15 1-10 23-3 6 6-1 23zM1347 941l-15-10-1-13 19-11 11 15zM129 605l-12-21-23 5 2 16 24 6zM1315 906l-14 13 1 15 9 8 21-11-1-13zM322 195l-18-7-12 7-2 5 2 15 26 5zM1334 880l-19 20 0 6 16 12 19-11 1-10-11-17zM1334 880l-19 20-17-13 5-17 16-4zM1403 923l2-2 0-15-5-12-20 6-1 23 1 1zM1353 864l22 11-1 19-23 3-11-17zM1403 923l2 3 0-5zM1405 951l0-25-2-3-23 1-1 32zM1338 836l-18 13-1 17 15 14 6 0 13-16 1-6zM308 242l10 21-30 6-3-17 11-12zM238 213l1-23 20 0 8 11-6 13-22 1zM289 220l7 20-11 12-20-10 5-15zM1354 858l25-16 14 13-4 13-14 7-22-11zM1389 868l14 20 2 0 0-30-8-4-4 1zM238 213l-30 0 1 21 4 4 19 0 6-7 1-16zM1405 858l0-14-8 10zM1403 888l-3 6 5 12 0-18zM232 238l4 20 18 3 10-18-26-12zM1315 980l-4-38 21-11 15 10 2 11zM1375 962l4-6 1-32-1-1-18-1-14 19 2 11zM1375 875l-1 19 6 6 20-6 3-6-14-20z"/>
<path fill="#8b4513" d="M769 690l-12-1-20 18 0 1 14 16 18-1 8-24zM769 723l12 15-5 17-17 2-17-13 9-20zM777 699l10 0 20 21 1 2-7 11-20 5-12-15zM808 767l-27-4-5-8 5-17 20-5 11 16zM747 780l12-23 17-2 5 8-4 23-5 4zM808 767l-27-4-4 23 21 5 15-15zM820 779l-7-3-5-9 4-18 21-2 7 7-3 20zM890 503l16-7-1-25-23 0-4 4 5 24zM883 499l-25 7-3-4 3-29 20 2zM882 471l-1-28-29 13-3 8 9 9 20 2zM561 616l-12 20 9 17 15 5 11-10 1-6-13-23zM935 442l5-4 1-19-17-10-14 14 16 20zM921 394l3 15-14 14-12 0-3-25zM570 581l27 16 0 4-25 18-11-3-6-8 12-26zM950 411l20 4 7-6-10-23-9-1-10 9zM1003 387l-9 22-17 0-10-23 12-10zM539 666l0 17 18 7 16-14 0-18-15-5zM913 704l10 31-5 6-27-3-1-3 12-33zM961 337l-28-1-5 13 7 16 14 1 15-15zM913 704l3-2 25 4 7 11-14 16-11 2zM948 717l15 2 9 7-1 18-19 7-18-18zM561 616l-12 20-17 2-8-8 2-16 16-9 13 3zM961 313l0 24-28-1-5-11 15-18zM994 447l-24-3-2-2 2-27 7-6 17 0 11 17zM952 751l19-7 11 12-5 23-30-6-2-6zM925 389l23 5 2 17-9 8-17-10-3-15zM935 442l5-4 28 4 2 2-10 30-15 2zM492 331l29-2 1 0 0-7-14-24-25 9-1 11zM900 367l24 14 1 8-4 5-26 4-2-2 4-28zM893 978l27-14 35 31-15 43-50-37zM483 307l-1-1-2-30 11-11 21 26-4 7zM976 301l17 28-32 8 0-24zM976 300l33-5 2 2 4 16-6 12-11 5-5-1-17-28zM459 298l23 8-2-30-25-3-1 4zM492 204l-25 5-1 14 17 18 19-21zM362 814l-1 0-18 13-3 15 4 8 4 0 33-13 0-1zM493 204l-1 0 10 16 10 3 17-10-4-18-14-5zM455 273l6-21 22-7 10 14-2 6-11 11zM483 241l-17-18-18 15 13 14 22-7zM368 869l-20-19 33-13 4 4-1 19zM540 216l-11-3-17 10 8 28 7 3 18-21zM805 1133l-51 84 75 41 11-2 60-77-13-21zM840 1256l-11 2-5 21 49-1zM1097 322l-9-25 16-7 20 8-4 19-17 9zM1132 271l-8 27 30 2 7-8-3-15zM1104 340l-1-14 17-9 24 16-3 9-18 8zM1106 263l-2 27 20 8 8-27-1-2zM344 850l-4-8-28-5-10 23 24 10 9-4zM87 996l-2 2-26 64 5 14 57 8 33-65-32-30zM1101 378l18-7 4-21-19-10-15 17zM368 869l-20-19-4 0-9 16 14 20 18-7zM509 176l16-15 6 2 10 15-16 17-14-5zM840 1256l33 22 82-3 2-3-29-84-28-9zM2 943l0 9 1-8zM10 1024l7-37-15-18-1 56zM44 956l-22-26-19 14-1 8 0 17 15 18 23-12zM78 951l9 45-2 2-45-23 4-19 18-9z"/>
<path fill="#a9a9a9" d="M769 690l6-20 19-9 12 20 0 2-19 16-10 0zM806 683l-19 16 20 21 12-19zM839 699l-20 2-13-18 0-2 28-11 9 11zM870 707l-24 4-7-12 4-18 25-4 12 16zM907 353l21-4 7 16-11 16-24-14zM876 343l-17-6-2-2 11-23 22 1 9 9-3 8zM964 351l-15 15 9 19 9 1 12-10-1-16zM935 365l14 1 9 19-10 9-23-5-1-8zM999 458l18 3 17-16-3-9-19-10-7 0-11 21zM1032 937l-28-8-8 26 26 36 4 1 13-37zM960 992l62-1-26-36-29 1zM1039 955l-13 37 0 1 38 11 21-39-13-16zM1104 963l-19 2-21 39 17 18 31-7 8-28zM1081 1022l-17-18-38-11-33 89 1 1 75-12zM484 172l-21 5-4 26 8 6 25-5 1 0zM487 158l-1 11 23 7 16-15-10-14zM455 151l6 24 2 2 21-5 2-3 1-11-8-15-2-1zM1106 1102l-37-31-75 12 7 69 38 26 43-12zM121 1084l22 21-2 73-82 21-13-98 18-25zM46 1101l18-25-5-14-49-38-9 1 0 81zM85 998l-45-23-23 12-7 37 49 38zM82 918l8 22-12 11-16-4-5-25 15-8zM3 944l19-14-6-16-14-5 0 34zM23 893l23 6 1 19-25 12-6-16zM57 922l-10-4-25 12 22 26 18-9z"/>
<path fill="#0000ff" d="M808 507l-4 24-28-5-2-5 12-21 9-2zM782 556l-9-18 3-12 28 5 4 6-5 16zM823 505l12 27 0 1-2 2-25 2-4-6 4-24zM848 648l-1-9 18-16 19 25 0 2-11 9zM921 639l-8-17-14 4-15 22 0 2 21 12zM904 801l0-12-35-6 2 28 9 3zM809 849l29-1 3 27-14 3-19-22zM914 819l-21 22-5-4-8-23 24-13 10 12zM910 465l30 15 5-4-10-34-9 1-16 13zM809 849l-1-3 18-28 18 23-6 7zM854 839l-10 2-6 7 3 27 12 5 12-15-5-22zM910 456l16-13-16-20-12 0-14 12 0 3zM902 702l-10-8-12-1-10 14 8 23 12 5zM870 707l8 23-18 8-16-20 2-7zM885 757l24 18 0 6-5 8-35-6-1-2 4-16zM945 767l2 6-8 14-30-6 0-6 11-18zM884 864l-19 1-12 15 3 7 18 11 6-2 12-20zM841 875l12 5 3 7-20 28-9-4-9-20 9-13zM874 898l-2 15-13 12-21-6-2-4 20-28zM838 919l-9 32 12 13 24-10-6-29zM891 738l-6 19 24 18 11-18-2-16zM808 856l-12 11 1 21 3 3 18 0 9-13zM888 837l-28 6 5 22 19-1 9-22 0-1zM923 735l11-2 18 18-7 16-25-10-2-16zM880 896l23 9 2 7-11 20-22-19 2-15zM918 858l-15 18-11 0-8-12 9-22 24 14zM931 890l3 4-10 22-19-4-2-7 9-15zM893 978l-19-22 20-24 30 16-4 16zM941 419l-1 19 28 4 2-27-20-4zM918 858l-15 18 9 14 19 0 2-24zM903 876l9 14-9 15-23-9 12-20zM894 932l11-20 19 4 5 10-5 22zM608 918l-26 12-11-19 27-15 11 12zM630 899l-21 9-1 10 13 14 16-7 2-4zM955 995l5-3 7-36-4-9-39 1-4 16zM859 925l13-12 22 19-20 24-9-2zM461 352l-4 2-21-21 15-12 16 5zM1069 886l-17 7-2-1-8-10 8-29 18 5zM1043 546l25 13 11-10-1-10-16-15-22 16zM482 318l1-11-1-1-23-8-11 9 3 14 16 5zM426 299l-8 16 18 18 15-12-3-14zM1062 524l0-11 23-7 10 15-17 18zM1082 890l7 16 0 1-25 11-12-25 17-7zM941 895l13 19-3 7-22 5-5-10 10-22zM1110 934l-14-7-7-20 0-1 26-8 15 16zM1110 934l-14-7-22 14-2 8 13 16 19-2 8-14zM1148 950l-11-35-7-1-20 20 2 15 34 3zM1146 952l1 24-27 11-16-24 8-14zM1082 890l17-20-1-9-18-8-12 5 1 28zM1096 927l-22 14-11-20 1-3 25-11zM1082 890l7 16 26-8 1-15-17-13zM1105 522l12-19 15-1 1 0 4 26-4 7-20 0zM348 657l-18-3-14 10 10 23 13-1 14-18zM1099 870l17 13 14-7 2-21-2-4-19-2-13 12zM1137 915l8-5 9-21-24-13-14 7-1 15 15 16zM248 443l12 1 11-25-24-10-11 9 3 17zM264 502l8 13-5 16-21 1-7-16 15-14zM1170 923l-25-13-8 5 11 35 17-5zM269 469l0-15-9-10-12-1-13 20 10 12zM1154 889l-24-13 2-21 27 3 1 27zM1185 916l1-2-6-25-20-4-6 4-9 21 25 13zM1160 885l20 4 9-7 1-27-28-1-3 4zM1165 945l-17 5-2 2 1 24 31 20 12-14-6-28zM241 487l-21 5-1-28 16-1 10 12zM1180 827l12 20 22-18-14-17-15 4zM217 443l-9-6 2-26 2-1 24 8 3 17zM219 463l-2-20-9-6-21 8-3 5 11 16zM1185 916l12 22-13 16-19-9 5-22zM1184 954l6 28 37-7 3-8-20-29-13 0zM184 450l3-5-6-31-5-3-12 5-12 22 19 13zM1214 860l11-15-3-14-8-2-22 18-1 7zM211 193l22-10 6 7-1 23-30 0-1-2zM9 812l0 20 10 8 8-2 9-17-12-12zM94 808l-13 24-17 2-9-15 2-9 23-10zM180 282l0 1 24 20 21-19-4-13-12-7-14 2zM1220 875l-13 10-18-3 1-27 1-1 23 6zM94 808l-14-8-3-14 18-17 16 22-4 15zM5 779l-1-13 17-13 17 13 2 21-9 4zM271 165l4-3-1-23-21-8-7 5 0 24zM63 764l2 16-17 11-8-4-2-21 16-6zM77 786l-12-6-17 11 9 19 23-10zM95 769l0-4-8-11-24 10 2 16 12 6zM54 760l-16 6-17-13 0-1 18-17 16 8zM177 236l-12 5-5 17 20 24 15-16-12-27zM24 809l12 12 19-2 2-9-9-19-8-4-9 4zM160 258l-18 6-10-4-3-9 15-22 21 12zM183 185l-11-8-19 14 6 16 20 7 4-4zM177 236l-12 5-21-12-2-5 17-17 20 7zM153 191l-6-2-13 19 4 13 4 3 17-17zM138 221l-4-13-10 15zM111 280l1-1 20-19-3-9-18-10-14 21zM142 224l-4-3-14 2-13 18 18 10 15-22z"/>
<path fill="#8a2be2" d="M543 551l1-6 15-17 20 7-1 21zM596 455l8 1 11 23-1 3-14 10-19-12 0-7zM584 511l-14-5-2-16 13-10 19 12 0 4zM584 511l3 16 21 4 7-14-15-21zM669 839l26 13-17 26-19-13-1-3zM491 456l6-25 3-2 18 8 5 16-18 15zM491 456l-19 4-10-27 7-6 28 4zM491 456l-19 4-5 8 12 16 20-2 6-7 0-7zM500 429l3-22-2-3-17-5-14 7-1 21 28 4zM962 662l21 3 6-23-15-8-10 6-3 21zM484 399l-2-21-22-2-7 19 17 11zM484 682l5-25-10-7-13 5-9 25 2 5 6 3zM469 427l-7 6-16 1-7-32 3-4 11-3 17 11zM460 376l-7 19-11 3-16-22 6-9 22-6zM426 376l-18 3 5 27 4 4 22-8 3-4zM1024 630l14 12-2 18-16 5-8-5-4-27zM462 433l10 27-5 8-16 5-14-27 2-8 7-4zM399 557l24-6 4-6-7-21-29 6 6 26zM1055 709l20 9 6-4 5-20-23-11zM983 665l6-23 19-9 4 27-23 11zM1071 658l10-2 12 9 0 25-7 4-23-11-5-8zM388 491l-22 16 4 22 1 1 20 0 1-36zM498 691l-12 30-2 0-10-6-9-27 19-6zM446 434l-7 4-21-12-1-16 22-8zM1081 714l5-20 7-4 20 4 5 19-8 11-4 2zM1110 662l11 22-8 10-20-4 0-25zM304 721l-14 0-8-33 8-4 25 14 1 8zM262 916l-8 25-17 8-9-24 24-17 6 2zM1238 716l-17-10-19 8-2 7 23 27 4 0zM237 949l-8 17-36-25 2-10 26-9 7 3zM215 875l-14 0-9 24 26 5 7-9zM1198 765l-13-33 15-11 23 27-18 17zM218 904l3 18-26 9-10-20 3-9 4-3zM263 726l-9-23 9-14 8-3 11 2 8 33-12 8zM193 835l-22 5-6 8 14 17 15 2 9-21zM232 859l-17 16-14 0-7-8 9-21 14-1zM175 533l-23 18-9-1-1-27 29 1 3 3zM194 508l-20 19-3-3-10-29 4-8 25 1 5 6zM1273 808l4-12-18-20-12 3-5 25 21 14zM142 523l1 27-7 4-20-17 0-13 3-3 21 0zM90 553l4 2 22-18 0-13-23-3-7 24zM1297 839l2-12-26-19-10 10-1 4 23 28zM140 521l-21 0-3-25 11-5 18 11zM165 487l-5-9-24-8-9 21 18 11 16-7zM101 469l12-12 21 9 2 4-9 21-11 5-15-25zM160 478l-24-8-2-4 17-28 1 0 19 13zM161 495l-16 7-5 19 2 2 29 1zM116 524l-23-3-10-15 33-10 3 25zM1380 684l-13-17-26 18 17 15 21-11zM1402 675l3 5 0-13zM1402 675l-22 9-1 5 8 14 17 2 1-2 0-23zM1233 808l9-4 5-25-4-2-22 6-3 12z"/>
<path fill="#32cd32" d="M724 437l3-20 21-6 13 23-1 3-8 5-26-2zM761 434l24-19-6-14-27 0-4 10zM785 415l-6-14 5-19 14-8 16 11 0 23-18 11zM796 419l4 17 17 10 18-18-3-11-18-9zM814 385l8-3 20 6 4 14-14 15-18-9zM798 374l1-21 12-11 13 2 9 17-11 21-8 3zM744 383l8 18 27 0 5-19-25-13zM836 314l5 17-17 13-13-2-9-29 9-8zM845 434l-10-6-3-11 14-15 19 3 4 18zM759 356l0 13-15 14-15-2-5-19 14-20zM856 372l11 3 6 21-8 9-19-3-4-14zM775 343l24 10-1 21-14 8-25-13 0-13zM747 322l26 7 2 14-16 13-21-14zM852 365l-19-4-11 21 20 6 14-16zM846 300l16 2 6 10-11 23-16-4-5-17zM852 365l7-28-2-2-16-4-17 13 9 17zM864 271l7 14-9 17-16-2-5-15zM747 322l26 7 11-17-9-12-14-2-15 19zM831 281l10 4 5 15-10 14-25-9 1-8zM641 294l-20-15-1-16 4-4 26 9-5 26zM793 271l19 26 19-16-2-7-25-14zM793 271l19 26-1 8-9 8-18-1-9-12 11-28zM775 343l24 10 12-11-9-29-18-1-11 17zM566 264l28-10 4 5-7 28-13-1zM728 306l9-18-12-15-16 13 2 19 3 4zM894 259l1 28-4 3-20-5-7-14 1-4 12-12zM831 281l10 4 23-14 1-4-24-13-12 20zM1054 485l-1 18-25 11-13-18 0-1 13-15 16-1zM650 268l13-8 0-2-2-8-27-14-3 2-7 21zM870 230l7 25-12 12-24-13-3-8 8-12zM1032 392l-23-9-6 4-9 22 11 17 7 0 22-29zM917 289l-22-2-4 3-1 23 9 9 13-4 7-26zM917 289l5-17 17-9 10 19-9 15-21-5zM846 234l-8 12-16-2-8-20 19-12zM935 244l4 18 0 1-17 9-23-15 7-12zM769 262l17 10 7-1 11-11-14-28-2 0-15 9zM999 458l-6 17 22 20 13-15-11-19zM1032 392l-23-9 1-19 25-14 11 21zM746 257l-21 15 0 1 12 15 15-2 6-22zM741 245l-22-2-8 11 14 18 21-15zM939 262l0 1 10 19 22 3 7-15-1-8-8-5zM1070 390l-2 8-28 4-6-5-2-5 14-21 15 1zM899 257l23 15-5 17-22-2-1-28zM408 379l-12-23-24 15 13 19zM711 305l-2-19-15-10-15 8-1 3 6 15zM856 194l-11-16-24 0-5 13 17 21zM566 264l28-10-1-8-22-15-10 8 0 23zM1034 397l-22 29 19 10 15-16-6-18zM862 302l9-17 20 5-1 23-22-1zM620 263l4-4 7-21-27-9-11 17 1 8 4 5zM769 262l17 10-11 28-14-2-9-12 6-22zM755 229l18 12-4 21-11 2-12-7-5-12 5-13zM1054 485l-1 18 9 10 23-7 5-19-18-10zM804 260l18-16-8-20-10-2-14 10zM775 213l14-18 11 4 4 23-14 10-2 0zM902 222l-6-5-1 0-25 12 0 1 7 25 17 4 5-2 7-12zM833 212l-19 12-10-2-4-23 16-8zM1064 445l-3-20-15-5-15 16 3 9 10 5zM821 178l-5-7-24-1-6 19 3 6 11 4 16-8zM698 256l13-2 14 18 0 1-16 13-15-10zM1054 485l18-8 2-26-10-6-20 5 0 29zM432 367l-9-19-18-2-8 8-1 2 12 23 18-3zM937 239l21-12-2-7-22-20-10 21zM870 230l-24 4-13-22 23-18 14 35zM870 229l25-12-16-31-23 8zM775 213l14-18-3-6-27-6-5 2-3 10 11 17zM661 250l2 8 30-7-5-25-20 6zM727 209l-15-14 7-18 25 0 10 8-3 10zM822 244l-18 16 25 14 12-20-3-8zM1074 451l16-6 15 8 3 17-10 15-8 2-18-10zM744 177l-2-22 7-8 14-1 7 13-11 24-5 2zM937 239l21-12 5 3 6 27-30 5-4-18zM655 219l10-16 23 9 1 13-1 1-20 6zM1076 355l-12-20-15 1-14 13 0 1 11 21 15 1zM755 229l7-17-11-17-24 14 0 2 19 21zM353 487l-23-10-2-6 4-7 22-6 14 17zM788 162l13-25-6-3-28 5-4 7 7 13zM749 147l14-1 4-7-5-27-14 1-12 14zM736 127l12-14-15-20-19 15 9 19zM924 221l10-21 0-1-22-2-16 20 6 5zM1038 314l11 22-14 13-26-24 6-12zM379 426l-9 13-10 3-11-9 0-15 15-8zM628 202l11 20-5 14-3 2-27-9-3-18 4-6zM1095 521l10 1 12-19-19-18-8 2-5 19zM350 375l-14-20 3-13 16-11 11 6-1 32zM1064 445l-3-20 14-14 18 6-3 28-16 6zM719 177l-7-16 4-8 26 2 2 22zM934 199l7-13-13-17-15-2-8 15 7 15zM1005 277l10-16 16 1 6 22-26 13-2-2zM1089 357l15-17-1-14-6-4-29 8-4 5 12 20zM405 346l2-26 11-5 18 18-13 15zM786 189l-27-6 11-24 18 3 4 8zM397 354l-23-18 18-22 15 6-2 26zM328 471l2 6-9 27-9 4-6 0-15-26 13-13zM1078 539l17-18 10 1 8 13-9 18-6 2-19-6zM605 205l-4 6-27 2-11-12-1-7 23-14 13 6zM1037 284l9 6 3 10-11 14-23-1-4-16zM392 411l21-5-5-27-23 11-2 3zM1040 402l6 18 15 5 14-14-7-13zM969 257l8 5 18-16-13-20-19 4zM313 364l23-9 3-13-23-13-11 4-6 8 6 20zM727 209l-15-14-14 2-10 15 1 13 26 1 12-15zM1117 503l-19-18 10-15 28 7-4 25zM1101 379l6 30-14 8-18-6-7-13 2-8zM800 93l-15 21 10 20 6 3 1 0 13-12-12-31zM746 232l-19-21-12 15 4 17 22 2zM905 182l8-15 0-1-24-8-10 6 0 22zM800 93l-15 21-23-2 5-24 11-6 17 5zM716 153l-4 8-20 4-14-23 8-10 27 8zM593 246l-22-15 3-18 27-2 3 18zM633 193l-5 9 11 20 16-3 10-16-2-6-27-5zM666 145l12-3 14 23-8 13-13 1-14-15zM366 400l-17-16 0-4 1-5 15-6 7 2 13 19-2 3zM971 194l-1 0-14 26 2 7 5 3 19-4 9-14zM636 192l27 5 8-18-14-15-6 2zM818 157l-16-20 13-12 9-1 15 19-2 6zM934 200l22 20 14-26-16-11-13 3-7 13zM856 194l-11-16 3-11 19-10 12 7 0 22zM1105 453l3 17 28 7 1-1 1-24-7-8-7-1zM304 469l-13 13-15-1-7-12 0-15 28-10zM1049 300l18 7 16-12-9-20-7-2-21 17zM312 402l10-19 27-3 0 4-12 24-14 2zM995 246l11 0 9 15-10 16-27-7-1-8zM582 157l-15 0-14 25 9 12 23-14zM651 166l6-2 9-19-15-14-16 4-1 22zM1064 335l-15 1-11-22 11-14 18 7 1 23zM332 464l22-6 6-16-11-9-24 7zM633 193l-5 9-23 3-7-19 18-20zM298 441l-6-19-19-4-2 1-11 25 9 10 28-10zM1031 262l4-3 25 2 7 12-21 17-9-6zM1106 263l-2 27-16 7-5-2-9-20 18-16 12 2zM1097 322l-9-25-5-2-16 12 1 23zM995 212l20 17-9 17-11 0-13-20 9-14zM312 402l10-19-9-19-8-3-14 14 1 14 15 14zM913 166l1-22-20-12-5 26zM1015 229l-9 17 9 15 16 1 4-3 3-17-14-16zM328 471l-24-2-7-25 1-3 25-3 2 2 7 24zM671 179l13-1 14 19-10 15-23-9-2-6zM372 371l-7-2 1-32 8-1 23 18-1 2zM426 299l-8 16-11 5-15-6-2-4 7-27 16-4 13 14zM821 178l-5-7 2-14 19-8 11 18-3 11zM1066 236l13 2 13 21-18 16-7-2-7-12zM785 114l10 20-28 5-5-27zM954 183l9-24-3-7-18-5-14 22 13 17zM863 131l-2-3-23-18-14 14 15 19 23-10zM291 375l-25-9-2-3 15-23 20 1 6 20zM397 283l-15-6-6-12 2-5 22-11 16 17-3 13zM1154 300l-1 28-9 5-24-16 4-19zM803 94l12 31 9-1 14-14 0-7-15-14zM366 400l-17-16-12 24 12 10 15-8zM1101 378l18-7 19 8 6 14-10 12-21 5-6-1-6-30zM1093 417l-3 28 15 8 19-10-11-33-6-1zM937 239l-13-18-22 1 4 23 29-1zM879 164l-12-7-5-24 1-2 29-2 2 3-5 26zM635 135l-13-6 0-19 14-8 18 12-3 17zM323 438l0-28-11-8-5 1-15 19 6 19zM307 403l-15-14-17 8-2 21 19 4zM755 229l7-17 13 1 13 19-15 9zM1124 443l7 1 14-19-11-20-21 5zM1154 300l-1 28 11 2 23-14-1-16-25-8zM1131 444l14-19 19 4 5 7-9 13-22 3zM712 195l-14 2-14-19 8-13 20-4 7 16zM792 170l-4-8 13-25 1 0 16 20-2 14zM742 155l-26-2-3-13 10-13 13 0 13 20zM1132 502l1 0 27 2 8-12-6-14-25-2-1 1zM1066 236l13 2 13-12-8-26-25 20 3 12zM323 438l0-28 14-2 12 10 0 15-24 7zM912 197l-7-15-26 4 16 31 1 0zM1137 528l28-3 5 5-5 22-26 0-6-17zM397 283l-15-6-17 19 2 6 23 8zM713 140l-27-8-1-17 23-9 6 2 9 19zM1106 263l25 6 7-24-24-6-10 22zM1035 259l25 2 6-25-4-4-24 10zM1158 277l3 15 25 8 10-9-1-17-13-10-19 5zM387 423l5-12-9-18-17 7-2 10 15 16zM455 151l6 24-28 0 1-19 17-7zM931 136l-17 8-20-12-2-3 5-11 16-9 5 1zM634 157l1-22-13-6-12 6-3 20 9 10zM1119 371l19 8 11-19-8-18-18 8zM1101 378l-12-21-13-2-15 17 9 18 31-11zM700 75l8-3 25 16 0 5-19 15-6-2zM651 131l3-17 19-11 12 12 1 17-8 10-12 3zM607 155l-25 2 0-23 10-9 18 10zM1113 535l20 0 6 17-7 14-4 1-24-14zM673 103l-19 11-18-12 2-16 19-8 16 15zM995 212l20 17 9-3 11-19-5-5-25-3zM299 341l-20-1-6-9 4-19 15-6 13 27zM390 310l-23-8-13 21 1 8 11 6 8-1 18-22zM746 78l-13 10 0 5 15 20 14-1 5-24zM616 166l-18 20-13-6-3-23 25-2 9 10zM1084 200l1-4-25-15-17 26 16 13zM551 137l13-10 18 7 0 23-15 0-16-14zM367 302l-13 21-25-21 18-17 18 11zM1001 182l4 17-10 13-4 0-20-18 16-15zM1220 297l-5 22-18 7-10-10-1-16 10-9zM881 102l-13 2-7 24 2 3 29-2 5-11zM673 103l12 12 23-9-8-31-3 0-24 18zM636 102l-14 8-13-8-2-18 15-10 16 12zM610 135l-18-10 0-14 17-9 13 8 0 19zM1163 394l-19-1-10 12 11 20 19 4 3-30zM564 127l1-19 17-3 10 6 0 14-10 9zM724 50l-2 1-14 21 25 16 13-10-1-17-5-7zM329 302l-2 0-11 27 23 13 16-11-1-8zM1137 476l25 2 4-8-6-21-22 3zM1198 375l-26 0-9 19 4 5 27 4 7-19zM1138 379l6 14 19 1 9-19-5-12-18-3zM891 77l-3 2-7 23 16 16 16-9-7-29zM922 69l18 7-6 27-16 7-5-1-7-29zM1138 245l7-27-1-2-23-6-10 18 3 11zM673 93l24-18-15-22-24 10-1 15zM1186 246l6-3 22 8 0 11-19 12-13-10zM365 296l-18-11 0-5 11-14 18-1 6 12zM1035 207l8 0 16 13 3 12-24 10-14-16zM837 149l2-6 23-10 5 24-19 10zM498 126l17 17 18-20-1-9-34-1zM831 68l-8 21 15 14 18-11 2-13-3-5zM831 68l-8 21-20 5-3-1-5-6 11-27 15-4 5 3zM401 234l-23-6-9 4 9 28 22-11zM455 151l22-9-14-24-16 9 4 22zM862 58l-7 16 3 5 30 0 3-2-4-17-22-3zM891 77l15 3 16-11-1-3-34-6zM960 152l11-18 0-4-19-11-15 19 5 9zM305 333l-13-27 5-11 18-1 12 8-11 27zM1220 297l-5 22 11 9 17-3-4-27-16-2zM347 285l0-5-22-18-6 2-4 30 12 8 2 0zM791 50l15 10-11 27-17-5-3-28 1-1zM1001 182l10-9-5-18-11-5-14 13 6 16zM1001 182l10-9 15 2 4 27-25-3zM349 380l-27 3-9-19 23-9 14 20zM515 143l18-20 18 14 0 6-20 20-6-2-10-14zM477 142l2 1 19-17 0-13-32-3-3 8zM532 114l0-1 27-10 6 5-1 19-13 10-18-14zM1168 492l16 2 15-12 0-16-2-4-31 8-4 8zM1121 210l-2-6 6-21 18-4 13 7 0 12-12 18zM964 100l-13 12-17-9 6-27 6-1 7 3zM922 69l18 7 6-1 1-4-26-5zM424 184l9-9 1-19-16-14-11 5-7 14 13 23zM1026 175l13-9 19 7 2 8-17 26-8 0-5-5zM527 84l5 29 0 1-34-1 3-22 12-8zM1274 343l-24 0-5-17 23-10 8 5 2 18zM1222 354l-3-5 7-21 17-3 2 1 5 17-3 7zM1167 231l17-20-28-13-12 18 1 2zM1149 360l18 3 10-14-13-19-11-2-9 5-3 9zM292 389l-17 8-13-9 4-22 25 9zM1169 436l17 1 11 15 0 10-31 8-6-21zM1218 498l-6 20-23-6-5-18 15-12zM1227 406l-1-20-25-2-7 19 5 9 15 4zM951 112l-17-9-16 7 13 26 6 2 15-19zM1167 399l-3 30 5 7 17 1 13-25-5-9zM633 193l-17-27 0-1 18-8 17 9-15 26zM451 149l-17 7-16-14 6-13 10-5 13 3zM913 167l15 2 14-22-5-9-6-2-17 8-1 22zM1251 273l-7 22 20 6 10-11-11-19zM971 130l0 4 21 8 12-21-17-15zM888 79l-30 0-2 13 12 12 13-2zM401 234l10-9-13-27-12 1-8 29zM346 245l12 21-11 14-22-18 15-17zM1160 504l8-12 16 2 5 18-16 17-3 1-5-5zM1011 173l-5-18 20-14 8 0 5 25-13 9zM745 61l30-7 3 28-11 6-21-10zM1198 375l3 9 25 2 7-6-11-26-24 18zM319 264l-1-1-30 6-4 8 13 18 18-1zM838 110l23 18 7-24-12-12-18 11zM964 100l-13 12 1 7 19 11 16-24-1-4zM657 78l1-15-13-13-23 14 0 10 16 12zM551 143l-20 20 10 15 12 4 14-25zM986 102l7-16-7-8-20-4-13 4 11 22zM1005 121l21 20 8 0 7-7-2-25-15-3zM1229 467l-30-1 0 16 19 16 3-1 13-21zM987 179l-6-16-18-4-9 24 16 11 1 0zM776 53l15-3 2-6-23-4zM668 29l14 20 19-13-1-8-30-5zM1104 261l-12-2-13-21 13-12 19 2 3 11zM1143 179l13 7 14-10-8-29-19 9zM527 84l5 29 27-10-3-23-25 1zM1084 200l1-4 2-1 32 9 2 6-10 18-19-2zM1305 362l-30 5 0-1-1-23 4-4 23 5zM1034 141l7-7 22 3 2 27-7 9-19-7zM724 50l16 4 11-17-23-4zM1198 375l-26 0-5-12 10-14 11 0 10 23zM1137 528l28-3-5-21-27-2zM1065 164l28-4 6 8-12 27-2 1-25-15-2-8zM1192 243l22 8 10-12-20-22-7 1zM700 75l8-3 14-21-21-15-19 13 0 4 15 22zM1186 210l4-18 16-8 15 18-17 15-7 1zM1063 137l30 6 9-12-3-14-14-9-12 5zM1219 349l-21-11-1-12 18-7 11 9zM501 91l-3 22-32-3-4-13 19-17zM463 118l3-8-4-13-3-1-25 2 0 26 13 3zM479 143l8 15 28-11 0-4-17-17zM635 30l10 10 23-11 2-6-31-5zM960 152l11-18 21 8 3 8-14 13-18-4zM1220 297l-24-6-1-17 19-12 10 9-1 25zM527 84l-14-1-10-26 24-11 1 1 2 1 1 33zM1198 338l-1-12-10-10-23 14 13 19 11 0zM668 29l14 20 0 4-24 10-13-13 0-10zM1301 344l-23-5-2-18 20-10 12 6 1 15zM1309 332l-8 12 4 18 3 4 20-2 10-17-3-6zM351 206l31-10-9-21-18-1-2 3-3 28zM405 109l-8-2-7 4-6 11 0 3 23 22 11-5 6-13zM1308 317l10-6 1-3-16-32-2 0-10 15 5 20zM1125 183l-6 21-32-9 12-27 13 1zM645 40l0 10-23 14-13-13 8-21 18 0zM1112 169l-13-1-6-8 0-17 9-12 23 8 3 9zM322 226l-14 16 10 21 1 1 6-2 15-17-12-17zM1222 354l25-4 7 18-8 12-13 0zM351 208l14 24-19 13-6 0-12-17zM1251 414l8-14-13-20-13 0-7 6 1 20zM1214 416l-15-4-13 25 11 15 27-14zM428 94l-23 15-8-2 1-30 8-8 17 5zM1259 451l2-21-10-11-25 19 8 13zM1198 372l-10-23 10-11 21 11 3 5zM1063 137l10-24-26-12-8 8 2 25zM1125 139l10-13-30-14-6 5 3 14zM740 54l5 7 30-7 1-1-6-13-19-3zM946 75l7 3 13-4-19-3zM855 74l7-16-2-2-24-4-10 7 5 9zM413 184l-15 14-12 1-4-3-9-21 8-12 19-2zM1280 395l-21 5-13-20 8-12 21-2 0 1zM1305 362l-30 5 5 28 1 1 22-6 5-24zM1328 364l13 18 12-5-15-30zM407 147l-23-22-13 21 10 17 19-2zM604 17l13 13 18 0 4-12-32-6zM791 50l15 10 15-4-1-7-27-5zM1274 343l-24 0-3 7 7 18 21-2zM1301 276l2 0-9-18-2 5zM1229 467l-30-1-2-4 0-10 27-14 2 0 8 13zM565 108l17-3 2-20-23-11-5 6 3 23zM398 77l-24 1-4 15 20 18 7-4zM1251 414l-24-8-13 10 10 22 2 0 25-19zM1143 179l0-23-15-8-16 21 13 14zM1237 220l11-1 12 21-18 8-18-9zM1162 147l1-1-1-6-6-5-21-9-10 13 3 9 15 8zM1063 137l30 6 0 17-28 4zM531 81l25-1 5-6 1-3-7-15-25-8zM561 74l1-3 27-18 2 1 4 25-11 6zM1318 311l-10 6 1 15 26 9-14-29zM1105 112l-20-9 0 5 14 9zM1264 301l4 15 8 5 20-10-5-20-17-1zM1281 396l8 29-28 5-10-11 0-5 8-14 21-5zM1224 239l18 9 1 19-19 4-10-9 0-11zM527 46l-18-21 3-15 16-5 15 21-15 21zM528 47l15-21 12 0 9 11-9 19-25-8zM351 208l-23 20-6-2-4-6 4-25 1-1 27 11 1 1zM1242 248l1 19 8 6 12-2 10-12-6-17-7-2zM1229 467l5-16 25 0-8 28-17-3zM543 26l12 0 12-21-25-4-13 2-1 2zM821 56l5 3 10-7-16-3zM622 74l0-10-13-13-18 3 4 25 12 5zM993 86l15-5-22-3zM1047 101l26 12 12-5 0-5-33-14-3-1zM323 194l10-18 20 1-3 28zM987 106l17 15 1 0 19-15-14-24-2-1-15 5-7 16zM322 195l-18-7 1-17 19-11 9 16-10 18zM480 63l-12-7-19 15 10 25 3 1 19-17zM1267 242l6 17 19 4 2-5-5-10-15-13zM528 5l1-2-22 4 5 3zM862 58l3-1-5-1zM1263 271l10-12 19 4 9 13-10 15-17-1zM381 163l-8 12-18-1-7-29 23 1zM1163 146l6 0-7-6zM434 98l-6-4-5-20 9-6 17 3 10 25zM359 119l25 3 6-11-20-18-13 5-4 11zM351 208l14 24 4 0 9-4 8-29-4-3-31 10zM609 51l-18 3-2-1-7-14 12-21 10-1 13 13zM589 53l-27 18-7-15 9-19 18 2zM1039 109l8-8 2-13-39-6 14 24zM609 102l-2-18-12-5-11 6-2 20 10 6zM341 143l6 1 12-25-6-10-19 3-5 10zM995 150l11 5 20-14-21-20-1 0-12 21zM555 26l9 11 18 2 12-21-10-10-17-3zM482 13l3 17 9 4 15-9 3-15-5-3-24 5zM482 13l1-1-6 1zM357 98l-18-18 1-4 28-7 6 9-4 15zM1176 177l14-13-21-18-6 0-1 1 8 29zM1184 211l2-1 4-18-14-15-6-1-14 10 0 12zM1223 296l16 2 5-3 7-22-8-6-19 4zM497 55l-3-21-9-4-21 12-1 2 5 12 12 7zM359 119l-12 25 1 1 23 1 13-21 0-3zM1234 476l-13 21 22 8 16-17-8-9zM429 35l7 9 27 0 1-2-7-26-24 5zM353 109l-19 3-8-18 13-14 18 18zM404 41l25-6 4-14-32 5zM302 134l10-11 17-1 12 21-15 11-22-16zM1318 311l3 1-2-4zM464 42l21-12-3-17-5 0-20 3zM513 83l-12 8-20-11-1-17 17-8 6 2zM326 154l-2 6 9 16 20 1 2-3-7-29-1-1-6-1zM527 46l-18-21-15 9 3 21 6 2zM468 56l-19 15-17-3 4-24 27 0zM1224 202l13 18 11-1 3-3-22-19zM436 44l-7-9-25 6-5 7 7 21 17 5 9-6zM309 93l17 1 13-14 1-4-2-4-22-9-14 16zM1206 184l1-5-17-15-14 13 14 15zM1248 219l12 21 7 2 7-7-23-19zM434 124l-10 5-19-20 23-15 6 4zM701 36l21 15 2-1 4-17-28-5zM406 69l-8 8-24 1-6-9 3-23 28 2zM594 18l10-1 3-5-23-4zM302 134l-15-6-13 11 1 23 18-2 11-22zM272 171l20 24 12-7 1-17-12-11-18 2-4 3zM233 183l6 7 20 0 13-19-1-6-25-5-13 9zM304 138l-11 22 12 11 19-11 2-6zM401 26l-34 7 3 12 1 1 28 2 5-7zM59 443l7-30-7-8-27 4-3 7 1 12 18 17zM48 445l-18-17-25 21 3 9 8 6 27-9zM65 484l9-30-1-4-14-7-11 2-5 10 4 20zM290 200l2-5-20-24-13 19 8 11zM370 45l-3-12-25 4-8 5 8 9zM342 51l28-6 1 1-3 23-28 7-2-4zM1206 184l15 18 3 0 5-5-22-18zM378 260l-2 5-18 1-12-21 19-13 4 0zM10 415l-8 14 0 18 3 2 25-21-1-12zM1221 202l-17 15 20 22 13-19-13-18zM56 562l-25 3-2 2 6 21 29-5 0-15zM58 537l-23-1-6-5-1-17 5-8 13-1 18 16-3 13zM316 63l22 9 4-21-8-9-20 13zM65 484l-19 21-13 1-7-19 21-12zM53 656l-12 24-10-2-14-16 0-9 15-13 5 1zM29 416l3-7-5-14-5-2-12 22zM316 63l-2-8-30 19 18 5zM47 475l-21 12-3-2-7-21 27-9zM8 458l-3-9-3-2 0 17zM3 598l-1 4 0 22 21 2 10-24-1-4zM2 538l0 34 10-7-6-25zM23 485l-7-21-8-6-6 6 0 28zM23 626l-21-2 0 20 15 9 15-13zM6 540l23-9-1-17-23-2-3 5 0 21zM5 512l-3-6 0 11zM31 565l-2 2-17-2-6-25 23-9 6 5zM3 598l-1-2 0 6zM5 512l23 2 5-8-7-19-3-2-21 7 0 14zM1244 295l-5 3 4 27 2 1 23-10-4-15zM312 123l-6-23 3-7 17 1 8 18-5 10z"/>
</g>
<text x="1208" y="479" font-size="64" font-weight="bold">c</text>
<text x="1385.5" y="467.8" font-size="36.5">Responder (patient 11)</text>
<text x="1639" y="602.5" font-size="42.5" text-anchor="middle" stroke="#000" stroke-width="4.4" stroke-linejoin="round">1</text><text x="1639" y="602.5" font-size="42.5" text-anchor="middle" fill="#fff" stroke="#fff" stroke-width="0.9" stroke-linejoin="round">1</text>
<text x="1345" y="665" font-size="42.5" text-anchor="middle" stroke="#000" stroke-width="4.4" stroke-linejoin="round">10</text><text x="1345" y="665" font-size="42.5" text-anchor="middle" fill="#fff" stroke="#fff" stroke-width="0.9" stroke-linejoin="round">10</text>
<text x="1456.2" y="709" font-size="42.5" text-anchor="middle" stroke="#000" stroke-width="4.4" stroke-linejoin="round">5</text><text x="1456.2" y="709" font-size="42.5" text-anchor="middle" fill="#fff" stroke="#fff" stroke-width="0.9" stroke-linejoin="round">5</text>
<text x="1502.8" y="775" font-size="42.5" text-anchor="middle" stroke="#000" stroke-width="4.4" stroke-linejoin="round">8</text><text x="1502.8" y="775" font-size="42.5" text-anchor="middle" fill="#fff" stroke="#fff" stroke-width="0.9" stroke-linejoin="round">8</text>
<text x="1352.2" y="777" font-size="42.5" text-anchor="middle" stroke="#000" stroke-width="4.4" stroke-linejoin="round">7</text><text x="1352.2" y="777" font-size="42.5" text-anchor="middle" fill="#fff" stroke="#fff" stroke-width="0.9" stroke-linejoin="round">7</text>
<text x="1807" y="945.5" font-size="42.5" text-anchor="middle" stroke="#000" stroke-width="4.4" stroke-linejoin="round">9</text><text x="1807" y="945.5" font-size="42.5" text-anchor="middle" fill="#fff" stroke="#fff" stroke-width="0.9" stroke-linejoin="round">9</text>
<text x="1458" y="1030.5" font-size="42.5" text-anchor="middle" stroke="#000" stroke-width="4.4" stroke-linejoin="round">6</text><text x="1458" y="1030.5" font-size="42.5" text-anchor="middle" fill="#fff" stroke="#fff" stroke-width="0.9" stroke-linejoin="round">6</text>
<text x="1756" y="1022.5" font-size="42.5" text-anchor="middle" stroke="#000" stroke-width="4.4" stroke-linejoin="round">4</text><text x="1756" y="1022.5" font-size="42.5" text-anchor="middle" fill="#fff" stroke="#fff" stroke-width="0.9" stroke-linejoin="round">4</text>
<text x="1394" y="1084.5" font-size="42.5" text-anchor="middle" stroke="#000" stroke-width="4.4" stroke-linejoin="round">2</text><text x="1394" y="1084.5" font-size="42.5" text-anchor="middle" fill="#fff" stroke="#fff" stroke-width="0.9" stroke-linejoin="round">2</text>
<text x="1675" y="1104.5" font-size="42.5" text-anchor="middle" stroke="#000" stroke-width="4.4" stroke-linejoin="round">3</text><text x="1675" y="1104.5" font-size="42.5" text-anchor="middle" fill="#fff" stroke="#fff" stroke-width="0.9" stroke-linejoin="round">3</text>
<defs><pattern id="hc" width="6.4" height="5.6" patternUnits="userSpaceOnUse"><rect width="6.4" height="5.6" fill="#f2ea00"/><circle cx="1.6" cy="1.4" r="1.3" fill="#0c0b00"/><circle cx="4.8" cy="4.2" r="1.3" fill="#0c0b00"/></pattern><clipPath id="cxc"><rect x="1166.8" y="1136.8" width="411.7" height="354"/></clipPath></defs>
<rect x="1166.8" y="1136.8" width="411.7" height="354" fill="#000"/>
<g clip-path="url(#cxc)">
<path d="M1246 1157.8C1252 1149.8 1254.1 1154.3 1273.8 1149C1293.5 1143.7 1286.7 1142.4 1311.7 1140.1C1336.7 1137.8 1329.9 1139.9 1357.2 1141.4C1384.5 1142.9 1386 1141.4 1402.7 1145.2C1419.4 1149 1406 1144.9 1412.8 1154C1419.7 1163.1 1417.9 1174.4 1425.5 1175.5C1433.1 1176.6 1423.7 1164.3 1438.1 1157.8C1452.5 1151.4 1456.1 1151 1473.5 1154C1491 1157.1 1484.1 1161.5 1496.3 1167.9C1508.4 1174.4 1502.6 1167.9 1514 1175.5C1525.4 1183.1 1523.6 1181.8 1534.2 1193.2C1544.8 1204.6 1542.6 1202.1 1549.4 1213.4C1556.2 1224.8 1555.4 1224.3 1557 1231.1C1558.5 1238 1561.3 1232.4 1554.4 1236.2C1547.6 1240 1546.3 1240.7 1534.2 1243.8C1522.1 1246.8 1523.8 1250.1 1514 1246.3C1504.1 1242.5 1502.1 1241 1501.3 1231.1C1500.6 1221.3 1510.7 1221.8 1511.5 1213.4C1512.2 1205.1 1509.2 1203.3 1503.9 1203.3C1498.6 1203.3 1498.3 1205.1 1493.8 1213.4C1489.2 1221.8 1494 1231.1 1488.7 1231.1C1483.4 1231.1 1481 1211.9 1476.1 1213.4C1471.1 1215 1474.5 1223.3 1472.3 1236.2C1470 1249.1 1472.6 1256.4 1468.5 1256.4C1464.3 1256.4 1465.2 1249.1 1458.4 1236.2C1451.5 1223.3 1454.8 1221.8 1445.7 1213.4C1436.6 1205.1 1437.9 1208.4 1428 1208.4C1418.2 1208.4 1418.2 1205.1 1412.8 1213.4C1407.5 1221.8 1411.8 1223.3 1410.3 1236.2C1408.8 1249.1 1412.3 1249.6 1407.8 1256.4C1403.2 1263.2 1401.2 1260.5 1395.1 1259C1389.1 1257.4 1390.6 1261.2 1387.6 1251.4C1384.5 1241.5 1386.5 1239.7 1385 1226.1C1383.5 1212.4 1386.3 1216.5 1382.5 1205.9C1378.7 1195.2 1378.5 1198.3 1372.4 1190.7C1366.3 1183.1 1372.9 1188.9 1362.3 1180.6C1351.7 1172.2 1349.1 1169.7 1337 1162.9C1324.9 1156 1331.7 1155.5 1321.8 1157.8C1312 1160.1 1310.9 1156 1304.1 1170.5C1297.3 1184.9 1302.1 1182.3 1299.1 1205.9C1296 1229.4 1299.3 1234.4 1294 1248.8C1288.7 1263.2 1289 1253.1 1281.4 1253.9C1273.8 1254.7 1273.7 1261.2 1268.7 1251.4C1263.8 1241.5 1267.2 1238.5 1264.9 1221C1262.7 1203.6 1264.6 1206.9 1261.1 1193.2C1257.7 1179.6 1258.1 1186.1 1253.6 1175.5C1249 1164.9 1239.9 1165.8 1246 1157.8z" fill="url(#hc)"/>
<path d="M1395.1 1147.7L1415.4 1151.5L1426.8 1171.7L1436.9 1155.3L1473.5 1153.3" stroke="#fff200" stroke-width="3.5" fill="none"/>
<path d="M1166.8 1248.8L1175.2 1241.3L1197.9 1213.4L1246 1157.8L1253.6 1175.5L1261.1 1193.2L1243.4 1226.1L1210.6 1248.8L1187.8 1271.6L1175.2 1294.3L1166.8 1312z" fill="#4a4600"/>
<path d="M1166.8 1251.4L1177.7 1271.6L1170.1 1304.5L1166.8 1307z" fill="#e8e000"/>
<path d="M1239 1168h0m8-3h0m0 3h0m81-3h0m-92 9h0m3-4h0m3 5h0m5-2h0m1-1h0m68 0h0m1-2h0m1 1h0m4 0h0m5 0h0m8 0h0m-95 10h0m11-2h0m53 0h0m12 1h0m3-1h0m12-3h0m4 4h0m0-4h0m-97 8h0m5 1h0m8 1h0m4-2h0m50 1h0m33 0h0m8 1h0m-128 7h0m31-5h0m7 3h0m46 0h0m28 2h0m1-5h0m5 0h0m9 0h0m3 4h0m18 0h0m-135 4h0m16 2h0m13 1h0m41-2h0m0 2h0m4-5h0m4 0h0m0 4h0m2 1h0m6-4h0m5 0h0m0-1h0m0 5h0m2-3h0m5 2h0m2 1h0m9 0h0m8-3h0m15 0h0m5 3h0m-157 6h0m13 0h0m12-3h0m5 2h0m11 0h0m8-3h0m40 4h0m5-2h0m3-2h0m8 3h0m57-2h0m0-2h0m-166 9h0m46-2h0m1 1h0m54 1h0m11-2h0m2 2h0m4-1h0m1-1h0m4 4h0m7-5h0m11 3h0m5-2h0m1 3h0m10 0h0m2-1h0m4-1h0m1 0h0m4-2h0m5 1h0m-180 5h0m4 5h0m4-3h0m15 3h0m1-1h0m1 0h0m10-3h0m5 2h0m15 2h0m8-3h0m42-1h0m21-1h0m3 2h0m22 3h0m5-3h0m7 2h0m2 1h0m12-3h0m42 3h0m9 0h0m17-2h0m-225 8h0m3-3h0m10 1h0m0-1h0m6 2h0m9 1h0m2-2h0m4-1h0m1 0h0m45 0h0m1 0h0m6 3h0m3-4h0m1 4h0m1-4h0m18 0h0m4-1h0m6 5h0m1 0h0m3-3h0m9 3h0m12-2h0m6-3h0m1 4h0m10-4h0m0 2h0m41 1h0m5-2h0m1 0h0m10-1h0m8 3h0m-257 6h0m29-3h0m34 2h0m3 0h0m45 1h0m4 0h0m8 1h0m1-1h0m1-2h0m12 2h0m13-3h0m14 1h0m0 0h0m1-1h0m6 4h0m10-4h0m4 0h0m0 0h0m1 0h0m1 4h0m6-2h0m44 1h0m12-1h0m4 2h0m-259 6h0m12-3h0m1-1h0m1 1h0m10 3h0m2 0h0m1-2h0m9 3h0m8-5h0m2 5h0m1-3h0m2 3h0m9-5h0m2 2h0m13-1h0m3-1h0m43 4h0m12 0h0m6-4h0m7 5h0m2-5h0m10 1h0m22 1h0m21 3h0m1-2h0m27-3h0m7 3h0m3-1h0m7-2h0m2 2h0m11 3h0m4 0h0m3-5h0m4 0h0m3 5h0m0-1h0m32 1h0m2-4h0m3 2h0m-309 6h0m16-1h0m12 2h0m20-1h0m14 0h0m1 1h0m2 0h0m11-2h0m6-2h0m48 5h0m5-2h0m5-2h0m1 0h0m11 3h0m4-4h0m8 5h0m3-3h0m2 1h0m7-3h0m1 5h0m7-2h0m6-3h0m1 3h0m8 0h0m42-2h0m13 1h0m5-1h0m0 3h0m2-2h0m10-2h0m1 3h0m2-3h0m2 4h0m1 1h0m24-4h0m1 1h0m7 2h0m51 1h0m-364 5h0m15-3h0m9-1h0m6 2h0m5-2h0m30 5h0m5-4h0m1 1h0m8 0h0m39 3h0m7-2h0m40 0h0m15-3h0m4 0h0m9 1h0m6 0h0m5 4h0m35-2h0m7 0h0m8-3h0m3 0h0m1 5h0m1-3h0m7 2h0m14 1h0m25-5h0m3 1h0m5 0h0m3 0h0m0 2h0m4-1h0m6-2h0m7 4h0m1 1h0m27-5h0m6 3h0m10-1h0m4 3h0m2-2h0m-364 8h0m11-1h0m2-4h0m20 1h0m10-1h0m3 5h0m17-4h0m5 3h0m18 0h0m20-1h0m3 1h0m4-1h0m0 1h0m1-3h0m1 4h0m9-3h0m5-2h0m10 4h0m8-2h0m5 2h0m9-2h0m1 0h0m10-2h0m1 5h0m2-1h0m16 0h0m42-3h0m2 4h0m3-4h0m8-1h0m21 2h0m0 2h0m11-4h0m2 1h0m11 3h0m2-3h0m3 1h0m4 1h0m14-1h0m8 0h0m9-1h0m4 3h0m22-3h0m3 0h0m7 0h0m3 2h0m-397 7h0m31-1h0m14-3h0m7 3h0m3 1h0m2-4h0m12 5h0m18-1h0m14-4h0m6 4h0m35-4h0m10 3h0m1-1h0m3-2h0m2 1h0m8 0h0m14 3h0m8-4h0m1 4h0m0 1h0m20-2h0m1 1h0m7-3h0m5-1h0m6 1h0m5 3h0m9 1h0m6-3h0m4 2h0m7-1h0m4 2h0m0-5h0m0 5h0m6-3h0m1 2h0m7-2h0m5 0h0m0 1h0m21 2h0m5 0h0m10-5h0m11 5h0m2 0h0m4-5h0m11 0h0m18 3h0m2 1h0m2-4h0m2 1h0m12 4h0m10-3h0m-385 4h0m12 0h0m13 5h0m1-1h0m1-4h0m1 4h0m14-4h0m9 2h0m21 2h0m11 1h0m8-3h0m4 0h0m3-1h0m10 4h0m13-2h0m11 2h0m2-5h0m9 2h0m1 3h0m4 0h0m3-1h0m6 0h0m1-4h0m6 3h0m6 2h0m5 0h0m3 0h0m7 0h0m3-5h0m9 5h0m2-2h0m6-1h0m7 0h0m5 2h0m6-4h0m1 1h0m5-1h0m1 2h0m0 0h0m2 2h0m10-4h0m20 4h0m13-3h0m5 1h0m2 0h0m0 3h0m3-1h0m4-4h0m26 0h0m16 5h0m7-1h0m4-2h0m9 2h0m25-4h0m-381 9h0m5 0h0m14-1h0m2 1h0m1 1h0m17-3h0m6 4h0m0-1h0m13-2h0m8 3h0m3-1h0m8-2h0m7-2h0m13 3h0m4 1h0m37-4h0m10 3h0m3-2h0m5 1h0m10 0h0m3 2h0m18-4h0m4 2h0m8-1h0m3-1h0m2 4h0m6 0h0m4-2h0m0-2h0m12 1h0m4 3h0m0-2h0m7-2h0m9 3h0m1 1h0m1 1h0m1 0h0m10 0h0m1-3h0m23-1h0m3 2h0m2 0h0m1-2h0m1 4h0m11-3h0m18 1h0m3 2h0m0-5h0m19 5h0m2-5h0m3 0h0m9 4h0m7-1h0m1-2h0m0 1h0m9-2h0m4 2h0m9 0h0m8-1h0m-376 6h0m4 3h0m3 1h0m2-1h0m1-4h0m17 4h0m6-2h0m0 3h0m9 0h0m0-1h0m5-2h0m2-2h0m2 2h0m1-2h0m5 4h0m1-3h0m19-1h0m1 2h0m20 3h0m3-2h0m14 0h0m11 2h0m10-4h0m3 0h0m2 4h0m9-4h0m27 2h0m7-3h0m1 1h0m2 4h0m2-1h0m8-3h0m3 2h0m2 0h0m4 2h0m1-1h0m8 0h0m0-2h0m5-1h0m0-1h0m1 5h0m2 0h0m8-2h0m11-2h0m0 3h0m5-2h0m4 0h0m4-2h0m3 5h0m17-4h0m1 2h0m24 0h0m6 1h0m11-4h0m1 5h0m0-1h0m6 0h0m3-3h0m11 2h0m8-3h0m16 1h0m-382 7h0m0 2h0m2 0h0m8 0h0m6-1h0m5 2h0m1 0h0m4-3h0m9 0h0m4-1h0m1 4h0m13-4h0m3 1h0m9 3h0m41-5h0m10 5h0m3-1h0m3 0h0m4-2h0m5 1h0m4 1h0m6-4h0m1 5h0m0-4h0m21 2h0m4-1h0m0 1h0m7 2h0m5-5h0m7 2h0m5 0h0m0-1h0m1 0h0m1-1h0m6 0h0m6 5h0m0-1h0m9-2h0m1-2h0m2 0h0m2 0h0m0 1h0m9 4h0m13-3h0m9 1h0m3 1h0m1 0h0m1-1h0m7 0h0m0-1h0m1 2h0m7-4h0m1 3h0m3-1h0m6 1h0m8 0h0m4-3h0m0 5h0m0-1h0m7-4h0m1 5h0m9-4h0m17 4h0m8-3h0m23 1h0m0 0h0m10-2h0m11 4h0m12-4h0m4 3h0m-396 4h0m6 1h0m2 0h0m3 0h0m1-1h0m1 1h0m0-1h0m6 0h0m3-1h0m6 0h0m5-1h0m3 0h0m2 0h0m3 2h0m16-2h0m5 3h0m11-1h0m7 0h0m15-1h0m0 1h0m18 3h0m7-2h0m1-2h0m26 4h0m15-2h0m16 2h0m1-4h0m7 3h0m7 1h0m0-5h0m12 3h0m14-3h0m5 2h0m1 2h0m13 1h0m4 0h0m4-2h0m8 0h0m10 0h0m9-2h0m10 1h0m5 0h0m2 1h0m19-2h0m38 1h0m4-2h0m11 0h0m8 5h0m5-4h0m5 3h0m9 1h0m8-1h0m0-3h0m-373 10h0m2-3h0m2-1h0m6 1h0m4 3h0m10-2h0m1-2h0m1 1h0m8 2h0m19-2h0m0 2h0m3-2h0m13 1h0m3 0h0m6-2h0m2 3h0m15-2h0m7-2h0m18 2h0m5 3h0m2-5h0m0 5h0m12-4h0m1 3h0m9-3h0m1-1h0m6 1h0m13 1h0m1-1h0m14 3h0m1-4h0m5 1h0m4 4h0m4 0h0m13-5h0m12 4h0m3 0h0m6-4h0m19 5h0m6-5h0m4 1h0m5-1h0m6 3h0m16-1h0m16 0h0m1-1h0m60 4h0m1-5h0m3 1h0m15 1h0m-406 6h0m1-2h0m18 1h0m8 1h0m3-1h0m14 4h0m4-4h0m8 4h0m2-4h0m8 2h0m0-3h0m12 2h0m5 2h0m5-1h0m1-2h0m11 1h0m4 1h0m3-2h0m11 4h0m4 0h0m12-5h0m9 3h0m12-1h0m12 3h0m8-1h0m1-1h0m3-1h0m6 2h0m4-4h0m27 3h0m0-1h0m1 0h0m0 0h0m8 3h0m4-3h0m5 0h0m0 1h0m6 1h0m14-3h0m3 1h0m2 3h0m3-3h0m4 1h0m5 0h0m4-2h0m8 3h0m11-3h0m5 1h0m10 2h0m2-2h0m21-1h0m14-1h0m3 1h0m7 0h0m7-1h0m38 0h0m-404 6h0m13 5h0m2-5h0m3 0h0m1 4h0m6-3h0m1 0h0m6 1h0m2-2h0m1 1h0m0 0h0m10 1h0m3 3h0m9-5h0m1 2h0m8 3h0m30-1h0m6-1h0m0 0h0m1 2h0m8-4h0m5 0h0m0 1h0m3 0h0m3 1h0m4 1h0m4-2h0m3 2h0m9-3h0m6 3h0m4-2h0m4-1h0m3 3h0m26-4h0m9 1h0m4 4h0m12-1h0m2-2h0m4 1h0m4 0h0m6-2h0m2 0h0m0 0h0m3 1h0m8 1h0m10-1h0m3 0h0m2 3h0m10-1h0m9 1h0m1-1h0m3 1h0m14 0h0m1 0h0m1-4h0m7 0h0m10-1h0m2 3h0m4-1h0m5 1h0m3-1h0m12 2h0m21 0h0m10 0h0m9-4h0m21 4h0m2-1h0m5 1h0m-403 6h0m3-1h0m6-2h0m14 2h0m6-2h0m5 0h0m0 1h0m2 1h0m3-2h0m1 3h0m11 1h0m9-5h0m0 4h0m20 0h0m9-2h0m10 1h0m15 0h0m28-2h0m4 2h0m3 0h0m6-1h0m14 0h0m12 1h0m1 0h0m4-3h0m9 1h0m7 3h0m11-2h0m4-1h0m2 4h0m1-2h0m7 2h0m3-5h0m13 4h0m14-2h0m9-2h0m10 4h0m4-2h0m4-2h0m2 3h0m0 0h0m5-3h0m5 2h0m0 1h0m2-2h0m4-1h0m3 5h0m15 0h0m2-1h0m35-2h0m21-1h0m5 4h0m0-3h0m13 1h0m9-1h0m-401 9h0m3-3h0m7 2h0m6-3h0m3 4h0m9-5h0m6 2h0m6 1h0m19-2h0m2-1h0m2 4h0m3-1h0m27-2h0m14-1h0m2 4h0m0 0h0m8-3h0m3-1h0m10 4h0m1 1h0m4-5h0m3 4h0m16 0h0m2-3h0m2 1h0m26-2h0m17 5h0m8-4h0m2-1h0m7 5h0m7-5h0m4 3h0m2-1h0m5 1h0m4 1h0m30-4h0m1 2h0m11 2h0m3-2h0m1-2h0m11 1h0m10-1h0m60 4h0m-364 4h0m2-2h0m5 0h0m5 2h0m1-1h0m3 3h0m1-3h0m15 3h0m5-4h0m1 0h0m2 1h0m1-1h0m19 1h0m6-1h0m16 0h0m6 5h0m8-1h0m4-3h0m12 4h0m0-1h0m27-1h0m8-2h0m10 1h0m7 3h0m4-5h0m3 2h0m2 0h0m16-1h0m0 2h0m2-2h0m0 4h0m3 0h0m6-5h0m5 3h0m2 0h0m3-1h0m8-1h0m0 2h0m7 2h0m16-4h0m1 1h0m9 2h0m0-4h0m10 5h0m10-4h0m4 4h0m4-5h0m1 4h0m31-3h0m3 1h0m18 3h0m0 0h0m2-5h0m9 0h0m11 5h0m6 0h0m6-2h0m4 2h0m10-4h0m15 3h0m1-3h0m5-1h0m-407 9h0m2-2h0m10 0h0m9 4h0m6-3h0m31 3h0m7-3h0m10 1h0m7 2h0m0-4h0m5 0h0m9 2h0m8 0h0m6-1h0m12 1h0m8 1h0m12 1h0m6-3h0m0 0h0m2 1h0m16 0h0m13 2h0m6-4h0m4 1h0m12 3h0m2-4h0m3 4h0m7-2h0m0 0h0m3 1h0m1-4h0m6 2h0m1 1h0m4 0h0m4-2h0m1-1h0m3 3h0m3-2h0m4 0h0m6 3h0m4-4h0m3 2h0m11 3h0m9-4h0m17-1h0m14 2h0m0 2h0m4 1h0m7-5h0m0 4h0m30 0h0m14 1h0m17-5h0m7 4h0m15-1h0m-397 8h0m12-2h0m0 0h0m5-3h0m5 0h0m15 0h0m19 2h0m3 1h0m1-1h0m19 1h0m3-1h0m12 1h0m27 0h0m7-2h0m6 1h0m2-2h0m3 0h0m12 1h0m8-1h0m16 1h0m3-1h0m1 5h0m8-1h0m2-3h0m19-1h0m5 5h0m14-1h0m1-4h0m21 1h0m2 0h0m6 4h0m4-5h0m9 1h0m6 2h0m13 1h0m7-3h0m2 0h0m1 2h0m3-3h0m27 0h0m6 3h0m13-1h0m24-2h0m25 0h0m6 3h0m-380 6h0m1 0h0m3 1h0m23-1h0m16-3h0m7 1h0m23 4h0m3-1h0m6-4h0m1 0h0m0 1h0m18 2h0m0-1h0m9-1h0m21 2h0m4 2h0m1 0h0m24-1h0m1-4h0m2 2h0m4 2h0m3-3h0m2-1h0m4 5h0m5-2h0m3-2h0m1 3h0m7 0h0m5 0h0m2-4h0m1 5h0m17-4h0m2-1h0m4 0h0m1 2h0m3 2h0m2-4h0m4 4h0m4-2h0m11 1h0m7 0h0m39 1h0m8-2h0m7 0h0m1 3h0m19 0h0m7 0h0m18-3h0m12 0h0m-395 5h0m7 4h0m15-1h0m6-1h0m5-2h0m10 4h0m2-1h0m17-2h0m15-1h0m8 3h0m5-3h0m5 1h0m16 1h0m1 1h0m6-1h0m15-3h0m1 1h0m6-1h0m21 4h0m5-2h0m5-1h0m2-1h0m3 5h0m28-3h0m2-2h0m22 0h0m6 2h0m8 1h0m2 0h0m13 1h0m2-1h0m5-2h0m5 1h0m3 1h0m6-3h0m5 1h0m4 3h0m0 0h0m1-4h0m4 0h0m25 5h0m9-1h0m0-4h0m14 5h0m32 0h0m5 0h0m7-3h0m4 3h0m0-4h0m2 0h0m14 3h0m7 0h0m-408 6h0m14-1h0m5 2h0m14-1h0m6-3h0m6 2h0m17-2h0m10 4h0m1-5h0m3 1h0m5 2h0m6 0h0m6 1h0m2-2h0m15-2h0m13 1h0m7 0h0m0 1h0m4 1h0m2-2h0m9-1h0m1 0h0m4 3h0m9 2h0m1-5h0m4 0h0m16 0h0m0 5h0m2 0h0m1-3h0m7 3h0m6-4h0m0-1h0m11 3h0m0 2h0m4-1h0m6 0h0m6-3h0m2 3h0m5-1h0m30 1h0m3 0h0m17-1h0m22-2h0m1-1h0m1 5h0m7-1h0m10 1h0m16-4h0m1 3h0m13 1h0m3-4h0m10 0h0m41 4h0m-401 4h0m10-3h0m11 1h0m15 3h0m7-4h0m1 0h0m5 0h0m17 5h0m6-1h0m7 0h0m15-1h0m5-3h0m16 5h0m11-5h0m0 2h0m7 3h0m3-5h0m12 4h0m21 0h0m12-1h0m5-3h0m2 2h0m4 3h0m5-1h0m1 1h0m4-1h0m7-4h0m6 0h0m11 1h0m1 0h0m11 1h0m17 0h0m6-2h0m2 3h0m3-3h0m11 2h0m4 0h0m7 3h0m9-4h0m4 2h0m11-1h0m4 2h0m9 1h0m11-3h0m9 2h0m6-1h0m1-2h0m4 0h0m2 4h0m7-2h0m10 2h0m22-1h0m-385 2h0m14 5h0m3 0h0m5-3h0m2-2h0m0 1h0m1 4h0m4 0h0m10-5h0m25 0h0m4 2h0m8-2h0m8 5h0m27-3h0m2 1h0m1 1h0m8-4h0m12 4h0m8 0h0m0-1h0m8 0h0m5-3h0m17 3h0m7 2h0m3-1h0m1-3h0m30 0h0m6 0h0m4 2h0m2-2h0m0 0h0m8 0h0m15 0h0m0 2h0m1 0h0m7-3h0m5 5h0m15-3h0m7 3h0m10-1h0m1-2h0m6 3h0m30 0h0m6-1h0m1-2h0m0 1h0m17 1h0m9 1h0m4-2h0m-378 6h0m2 0h0m2 0h0m2-3h0m7 0h0m9 0h0m0 5h0m15-4h0m11-1h0m15 2h0m2-2h0m1 1h0m1 0h0m4 1h0m17-2h0m36 3h0m2 0h0m13-3h0m1 3h0m4-1h0m11 0h0m12 1h0m2-1h0m10 1h0m3-2h0m55 4h0m12-1h0m5 0h0m4-2h0m5 3h0m2-3h0m1 3h0m1-1h0m3 1h0m1-3h0m4 0h0m8 3h0m4-2h0m7-3h0m0 2h0m22 2h0m14-2h0m5-2h0m10 3h0m2-3h0m3 1h0m20 0h0m3 0h0m-380 5h0m4 1h0m5 3h0m12-1h0m3-3h0m1 4h0m20-2h0m9-2h0m6 0h0m8 5h0m1 0h0m0-2h0m3-1h0m1-1h0m0 0h0m9 3h0m4-4h0m16 1h0m4 4h0m6-4h0m7 4h0m5-5h0m9 4h0m2-2h0m0-2h0m102 0h0m6 0h0m8 1h0m9 3h0m2-4h0m2 2h0m6 0h0m6 3h0m5-3h0m5-2h0m0 2h0m2-2h0m9 1h0m4-1h0m3 5h0m4-3h0m-306 9h0m10-1h0m13-1h0m2-3h0m5 0h0m1 4h0m1-4h0m12 5h0m4-2h0m5-3h0m3 1h0m11 4h0m4-1h0m20-3h0m12-1h0m2 3h0m16-1h0m130 0h0m14-1h0m9 0h0m7 2h0m0 1h0m3-1h0m8 1h0m3-4h0m-291 7h0m7 4h0m4-5h0m3 1h0m15 2h0m3-2h0m2 4h0m12-4h0m21 1h0m6 3h0m2-3h0m11 2h0m0 1h0m7-4h0m6 0h0m2-1h0m142 1h0m12-1h0m1 3h0m7 0h0m12-3h0m3 4h0m9-4h0m-270 7h0m0 0h0m3 4h0m4-1h0m3-1h0m36-3h0m1 1h0m18 4h0m8-3h0m166 3h0m1-5h0m8 2h0m4-1h0m11 1h0m-284 4h0m1 3h0m1-2h0m4 1h0m4-2h0m18 5h0m21-2h0m4-2h0m192 4h0m8-3h0m8-2h0m3 4h0m2-4h0m17 0h0m-279 6h0m3 2h0m7-2h0m2 5h0m13-1h0m16-4h0m9 2h0m4 2h0m182-2h0m6 0h0m12 2h0m12-4h0m13 1h0m4-1h0m-270 8h0m6 0h0m8-1h0m1 3h0m7-4h0m8 1h0m191 4h0m13 0h0m1 0h0m1-2h0m16-3h0m3 0h0m0 4h0m11 1h0m-39 1h0m2 1h0m2 2h0m4 1h0m9-4h0m5 1h0m11 1h0m1-1h0m-40 9h0m0-1h0m12 2h0m6 0h0m0-4h0m3 4h0m1-3h0m11-2h0m1 3h0m-38 7h0m7 1h0m16-1h0m6 0h0m1-1h0m5-3h0m1 1h0m1-1h0m2 3h0m-35 7h0m13-4h0m9 1h0m6 1h0m7 0h0m-36 4h0m8 1h0m3-1h0m6 0h0m4 0h0m3 1h0m7 3h0" stroke="#16ac26" stroke-width="3.3" stroke-linecap="round" fill="none"/>
<path d="M1315 1169h0m-5 5h0m7-2h0m13 1h0m12-3h0m-113 11h0m3-2h0m8-1h0m65-2h0m8 5h0m8 0h0m17 0h0m-112 4h0m10 0h0m2-3h0m0 3h0m6-3h0m2 0h0m64 5h0m18-4h0m12 2h0m10 2h0m0-5h0m-130 7h0m2 2h0m26-1h0m54 3h0m21-4h0m5 4h0m10-2h0m6-2h0m14 0h0m1-1h0m-143 8h0m42 0h0m44-2h0m14 0h0m13 0h0m4 0h0m3 3h0m11 2h0m-132 6h0m4 0h0m22-4h0m4-1h0m4 4h0m0-1h0m3-1h0m1-1h0m4 4h0m49-3h0m9 3h0m0 0h0m4-1h0m13-2h0m1 1h0m2-3h0m7 2h0m4 1h0m14-1h0m-51 4h0m20 5h0m7-5h0m30 3h0m11 1h0m-164 3h0m9 4h0m21-5h0m63 1h0m6 2h0m5-1h0m7 3h0m4 0h0m2-4h0m1 1h0m16 3h0m3-2h0m17-3h0m60 4h0m18-1h0m-241 7h0m13-4h0m10 3h0m22 1h0m3 1h0m52-1h0m0 1h0m2-5h0m7 0h0m3 1h0m2 1h0m15-2h0m7 3h0m9-3h0m10 0h0m8 4h0m63-3h0m3 3h0m3-3h0m-248 7h0m2 1h0m1 0h0m5 0h0m5-1h0m6-2h0m3 5h0m4-4h0m35 3h0m50-3h0m0 3h0m37-2h0m12 0h0m9 1h0m9-3h0m6 0h0m2 4h0m1 1h0m45-2h0m-216 6h0m33 1h0m5-4h0m9 4h0m9-2h0m49 0h0m1-2h0m8 1h0m9 3h0m16 0h0m16-1h0m15-2h0m3 3h0m1-2h0m1 3h0m36 0h0m1-3h0m2 2h0m15-4h0m22 4h0m-275 7h0m18 0h0m8-4h0m29 1h0m7 0h0m17 0h0m7 2h0m58 0h0m3-1h0m4 0h0m8-3h0m12 5h0m5-3h0m4-2h0m17 2h0m41-1h0m1 2h0m7 1h0m5-4h0m14 4h0m41-1h0m57 2h0m8-4h0m-368 9h0m13 1h0m15-1h0m10-3h0m18 1h0m26 1h0m31 0h0m8 0h0m12 0h0m5-2h0m14 3h0m8-4h0m17 1h0m8 0h0m2 3h0m39-1h0m2 2h0m7 0h0m23-5h0m18 2h0m50 1h0m7 2h0m22-1h0m9 1h0m-377 3h0m22 3h0m11-1h0m16-3h0m22 1h0m0 0h0m4 2h0m35 1h0m6-3h0m17 1h0m0 2h0m2-2h0m5 2h0m5-2h0m2 1h0m2-2h0m6 1h0m14-1h0m1 0h0m3 0h0m7-2h0m15 5h0m6-1h0m13-1h0m25-2h0m12 1h0m4 0h0m5 1h0m15-3h0m10 1h0m41 1h0m1 2h0m39-4h0m27 3h0m-393 3h0m6 3h0m10 0h0m10-1h0m1 1h0m2 1h0m1-3h0m42 2h0m10-2h0m24 0h0m3-1h0m14 3h0m3 2h0m0-5h0m2 1h0m11 2h0m17 2h0m1-5h0m0 2h0m4 1h0m0 2h0m14-2h0m15-1h0m10 3h0m8-5h0m3 0h0m0 5h0m8-1h0m5 1h0m1-2h0m5 2h0m10-1h0m5-2h0m5 2h0m17-1h0m26 2h0m10 0h0m6-1h0m95 1h0m-399 5h0m13 0h0m6 0h0m2-4h0m10 3h0m3 2h0m9-2h0m3-1h0m10-2h0m9 5h0m20-3h0m2-2h0m32 5h0m8-3h0m16 2h0m21-3h0m13 0h0m1-1h0m17 0h0m10 0h0m2 5h0m4-3h0m0 1h0m8 0h0m1-1h0m37 0h0m19-2h0m28 3h0m13-3h0m18 2h0m16 1h0m7 2h0m2-1h0m23-1h0m7-2h0m3 4h0m-386 3h0m6-2h0m12 1h0m11 0h0m2 4h0m0-5h0m11 2h0m2-2h0m0 4h0m2 1h0m4-3h0m15 2h0m14 0h0m16 0h0m0-1h0m3 1h0m4-1h0m30-2h0m12 4h0m22-1h0m4 0h0m9-1h0m39 1h0m18-3h0m36 1h0m5 2h0m8 0h0m0-1h0m7-3h0m2 5h0m13-4h0m8 3h0m4-4h0m8 0h0m1 0h0m10 1h0m26 1h0m-378 4h0m1 5h0m4 0h0m11-2h0m64 0h0m1-3h0m9 5h0m38-5h0m6 5h0m8 0h0m11-4h0m3 3h0m17 0h0m1-1h0m3-2h0m7 2h0m9 1h0m0-4h0m10 2h0m0 1h0m4 2h0m10-4h0m10 0h0m4-1h0m12 5h0m2-2h0m2-2h0m3 4h0m7-2h0m34 0h0m4 0h0m21-3h0m25 0h0m3 0h0m7 1h0m9 0h0m0 3h0m6 1h0m17-5h0m17 2h0m-395 6h0m4 3h0m4-3h0m4 2h0m2 1h0m25 0h0m21 0h0m3-3h0m8 3h0m1-3h0m5 3h0m23-1h0m0 0h0m3 0h0m4 1h0m15-3h0m1 0h0m7-1h0m0 3h0m1-1h0m16-3h0m1 4h0m11-2h0m23 2h0m5-3h0m6 4h0m2-3h0m0 0h0m8 2h0m8-2h0m4-1h0m5 1h0m5 3h0m1-4h0m7 1h0m10 2h0m30-1h0m11-2h0m31 4h0m0-3h0m9 3h0m46 0h0m35-4h0m-411 5h0m8 2h0m24 3h0m1-4h0m18 3h0m11-1h0m14-3h0m9 5h0m6-4h0m3-1h0m9 5h0m3-3h0m6 3h0m17-2h0m4-1h0m1 1h0m6 0h0m9-2h0m3 3h0m17-3h0m7 3h0m12 0h0m14-3h0m2 3h0m0-4h0m9 2h0m2 0h0m4 2h0m2-3h0m7-1h0m9 1h0m1 4h0m17-3h0m57-1h0m2 4h0m30-2h0m10-3h0m19 3h0m12-1h0m2 0h0m1 0h0m6-1h0m-385 7h0m4-2h0m11 5h0m7-5h0m1 4h0m9-4h0m20 0h0m14 2h0m3 0h0m7-2h0m18 3h0m4 2h0m11-2h0m7-1h0m2-1h0m2 3h0m4 0h0m3-3h0m7 4h0m0 0h0m18-3h0m2 2h0m38-4h0m4 3h0m17-1h0m2 2h0m4-2h0m9 3h0m14-2h0m7-1h0m68-2h0m5 4h0m24 1h0m30-3h0m8 1h0m8 2h0m-401 4h0m5-3h0m9 2h0m3-2h0m20 0h0m5 0h0m6 4h0m2 0h0m5-4h0m4 0h0m7 0h0m1 2h0m2 2h0m15 0h0m36-2h0m3 3h0m1 0h0m9-3h0m51 2h0m2-3h0m26 4h0m12 0h0m5-4h0m4 2h0m13-3h0m29 2h0m16-1h0m13 0h0m33-1h0m3 1h0m17-1h0m24 2h0m3 3h0m1 0h0m12-4h0m5 0h0m-386 7h0m5 2h0m22 0h0m4-1h0m2-2h0m1-1h0m1 0h0m1 2h0m5 3h0m1-3h0m2 0h0m11-2h0m19 1h0m2 1h0m16 1h0m1 0h0m0 1h0m4 0h0m2 1h0m10-2h0m5 0h0m1 2h0m7-3h0m8-2h0m1 5h0m10-1h0m5-2h0m4-1h0m0 1h0m5-2h0m1 3h0m1-3h0m19 4h0m2-1h0m4-1h0m4 2h0m18-2h0m20-2h0m58 2h0m8-1h0m4 3h0m0-4h0m24 1h0m52 4h0m14-1h0m-394 7h0m11-3h0m3-2h0m10 4h0m3-2h0m21 1h0m8-2h0m2 1h0m3-2h0m2 2h0m2 1h0m6-2h0m0 1h0m14 0h0m14 1h0m16-1h0m2-1h0m24 4h0m2 0h0m11-5h0m7 2h0m10-1h0m3 2h0m12-3h0m12 1h0m13 2h0m8 2h0m4-4h0m54 3h0m9 1h0m10-1h0m5-1h0m15 2h0m23 0h0m25-1h0m3 1h0m3-1h0m19-2h0m-394 8h0m2-1h0m1-2h0m14 3h0m3 0h0m8-1h0m5 2h0m17-4h0m10 0h0m27-1h0m4 2h0m14-1h0m2 1h0m8-1h0m10 3h0m4-4h0m3 4h0m9-1h0m16 0h0m16-3h0m4 2h0m6 0h0m7 0h0m0 3h0m8-5h0m5 2h0m32-1h0m2 0h0m2 4h0m19-2h0m6 2h0m17-2h0m7 0h0m6 2h0m13-2h0m69 1h0m9-3h0m-385 9h0m1-1h0m0-1h0m2-1h0m7 1h0m51 0h0m6 1h0m6-1h0m2 0h0m4 0h0m25 0h0m8 2h0m3 0h0m27-2h0m4 3h0m20-5h0m26 4h0m19-1h0m1 2h0m3-3h0m12 0h0m5-2h0m52 0h0m20 5h0m3-1h0m36 0h0m16-3h0m12 1h0m15 2h0m5 1h0m7-1h0m1 1h0m4-2h0m0 2h0m-403 4h0m11 2h0m2-2h0m10-1h0m0 1h0m5-1h0m6-2h0m1 5h0m10-5h0m4 1h0m3 4h0m4-4h0m13 3h0m5 1h0m2-1h0m1 1h0m0-5h0m9 3h0m4-2h0m28-1h0m11 3h0m6-1h0m9 0h0m2 2h0m2-4h0m19 5h0m16-3h0m7 0h0m6 2h0m2-4h0m10 4h0m16-4h0m11 4h0m9-2h0m18 1h0m9 2h0m20-1h0m6 0h0m28-4h0m6 4h0m6-3h0m-336 9h0m4-4h0m0 3h0m8-1h0m16 1h0m18-2h0m6 0h0m13 1h0m5-1h0m3 3h0m25 0h0m3-1h0m9 2h0m1-5h0m9 2h0m0 1h0m19-3h0m5 2h0m7 2h0m8 0h0m3-4h0m7 2h0m0 3h0m2-4h0m6-1h0m0 2h0m7 2h0m5-3h0m3 2h0m10-2h0m10 1h0m9 1h0m8 1h0m16 0h0m9-4h0m1 3h0m5 2h0m16-4h0m17 0h0m3 2h0m23-3h0m20 2h0m2 3h0m-324 5h0m25 1h0m2-4h0m9-1h0m3 2h0m7-1h0m2 0h0m0-1h0m3 2h0m11-2h0m38 4h0m2-4h0m4 1h0m14 3h0m0-4h0m5 5h0m3-4h0m5 2h0m4 1h0m1-1h0m0-2h0m2 4h0m5-2h0m7 1h0m7-3h0m0 0h0m7-1h0m11 5h0m12-2h0m6 2h0m25-2h0m10 2h0m3-5h0m32 1h0m8 3h0m9 1h0m5-4h0m12 1h0m1 3h0m18 0h0m8-3h0m3-2h0m30 5h0m15-5h0m7 3h0m-400 4h0m8 2h0m23-2h0m5 2h0m2 0h0m3 1h0m10-2h0m14-1h0m5 1h0m5 1h0m13 2h0m15-5h0m2 3h0m11 0h0m7 2h0m3-3h0m6 3h0m39-1h0m3-3h0m0 2h0m11-2h0m66-1h0m1 5h0m10 0h0m1-4h0m3 1h0m3 1h0m7 1h0m1 0h0m28-3h0m25 4h0m9-3h0m26 0h0m15 1h0m-379 3h0m15 1h0m10 3h0m8-2h0m3-2h0m16 1h0m54 2h0m10 0h0m4 2h0m5-5h0m4 2h0m17 3h0m6 0h0m1 0h0m40-3h0m11 0h0m18-1h0m6 2h0m24 2h0m3-1h0m31-3h0m5 2h0m16 2h0m39-3h0m30 2h0m-374 7h0m1-5h0m2 1h0m5 3h0m3-1h0m5 2h0m21 0h0m26-4h0m1 1h0m10 1h0m1 1h0m24-4h0m20 2h0m10-1h0m1 0h0m8 3h0m8-1h0m10-1h0m36 2h0m34 0h0m3-4h0m10 5h0m4-2h0m9 2h0m5-4h0m3 0h0m23 2h0m12 2h0m36-4h0m39-1h0m6 3h0m3-1h0m1 1h0m10 1h0m7 0h0m1 1h0m-373 3h0m39-1h0m3 3h0m13-1h0m7-3h0m6 3h0m2-2h0m1 2h0m9-3h0m7 3h0m1-1h0m1 2h0m4 0h0m3-1h0m1-2h0m11 2h0m4 2h0m2 0h0m2-1h0m1-4h0m10 3h0m7 1h0m2-3h0m3 0h0m2 2h0m4-2h0m24 2h0m0-2h0m12 0h0m21 3h0m9-2h0m8 0h0m11 1h0m0-1h0m10 1h0m13-2h0m3 2h0m2-1h0m1-2h0m25 3h0m9-3h0m16 1h0m1 0h0m1-1h0m13 2h0m31 3h0m-363 1h0m8 5h0m4-5h0m12 2h0m1 2h0m7 1h0m14-1h0m4-1h0m6 1h0m0 0h0m1 0h0m2-4h0m7 1h0m12 0h0m15 1h0m7 0h0m19-1h0m3 4h0m4-2h0m25-1h0m6 1h0m10-3h0m0 4h0m16-4h0m41 1h0m31 0h0m25 3h0m19 0h0m1 1h0m10-5h0m21 0h0m28 1h0m3-1h0m-373 7h0m1 3h0m5 1h0m17-3h0m6 1h0m5 2h0m2 0h0m18-1h0m13-3h0m11 1h0m6-1h0m4-1h0m2 0h0m16 3h0m4-2h0m15 1h0m1 1h0m17-3h0m95 1h0m-233 5h0m32 2h0m48 0h0m160 2h0m23-3h0m-267 8h0m3-3h0m11 5h0m21-5h0m53 5h0m3-3h0m156-1h0m12 4h0m22-4h0m-284 10h0m3-2h0m35 2h0m5-3h0m1-2h0m1 1h0m7 3h0m1-2h0m7 2h0m1 0h0m2-4h0m8 3h0m7 2h0m2-5h0m179 0h0m2 5h0m3-5h0m0 0h0m7 5h0m0-4h0m-274 9h0m5-1h0m9-3h0m8 4h0m12 1h0m7-4h0m15 3h0m7-3h0m9 4h0m11-5h0m168 5h0m2-5h0m18 3h0m10-3h0m-272 9h0m12 1h0m2-1h0m3-2h0m4 0h0m14 1h0m15 1h0m3-2h0m186 2h0m4-3h0m33 5h0m1 0h0m0-5h0m-257 9h0m6-3h0m6 3h0m201 1h0m22-4h0m6 1h0m4-1h0m4 4h0m-42 4h0m1 0h0m12 3h0m24-2h0m6 2h0m1-4h0m0 2h0m-45 5h0m13 2h0m4 1h0m4 0h0m18-1h0m1 0h0m-12 7h0m9 0h0m-9 7h0" stroke="#1ec0c0" stroke-width="3.3" stroke-linecap="round" fill="none"/>
<path d="M1240 1169h0m78 4h0m12 1h0m13 0h0m3-1h0m-113 7h0m86 0h0m-67 2h0m4 3h0m77 0h0m19-2h0m2-1h0m-15 6h0m11 3h0m1-1h0m-130 9h0m1 0h0m5-5h0m26 4h0m56-3h0m1 1h0m23-2h0m5 0h0m8 4h0m17-3h0m10 4h0m-121 1h0m8 2h0m1 1h0m60-3h0m10 4h0m36 1h0m-48 2h0m13 3h0m5 0h0m7-3h0m11 2h0m3-2h0m-154 8h0m5-2h0m31 2h0m7 0h0m89-2h0m87 4h0m-216 6h0m18-2h0m18-1h0m0 3h0m20-1h0m106-1h0m47-3h0m27 2h0m-138 6h0m39 1h0m19 2h0m13-3h0m3 2h0m32 1h0m9-5h0m20 5h0m7-1h0m4-2h0m-269 7h0m57 1h0m16-4h0m52 5h0m36 0h0m14-1h0m22 0h0m33 1h0m8-2h0m2-2h0m3 0h0m12 1h0m13 2h0m-247 5h0m46 0h0m133 1h0m50-2h0m53 0h0m3 0h0m66 1h0m-371 3h0m11 0h0m35 1h0m66 4h0m79-3h0m2 0h0m34-2h0m39 2h0m34-1h0m7 1h0m3-1h0m7 4h0m18-1h0m7 0h0m17 0h0m4-1h0m-376 7h0m22-1h0m37 0h0m66 0h0m16-3h0m4 5h0m19-4h0m15 3h0m22 1h0m44-3h0m9-2h0m10 1h0m20 4h0m9 0h0m20-3h0m28-1h0m36 0h0m-342 9h0m32-3h0m26-1h0m22 2h0m16 0h0m13 1h0m21-2h0m3 4h0m86 0h0m18-2h0m71-1h0m18 0h0m1 2h0m10 0h0m-304 3h0m32 3h0m7-2h0m40 2h0m12 0h0m30 1h0m4-5h0m1 4h0m27 1h0m29-4h0m26 3h0m21-2h0m34 3h0m72-1h0m-391 5h0m1-1h0m9 0h0m36 2h0m33 0h0m21-4h0m6 5h0m10-5h0m24 5h0m50-3h0m16 1h0m8-3h0m20 3h0m0-3h0m11 5h0m5-5h0m2 5h0m14-5h0m4 2h0m18-2h0m9 3h0m4-2h0m93-1h0m-380 6h0m19 2h0m41 0h0m11 1h0m25 1h0m33-2h0m12-1h0m3 3h0m15 1h0m7-4h0m111-1h0m66 2h0m15-2h0m-354 6h0m23 4h0m14 1h0m17-3h0m13 2h0m26 1h0m0 0h0m28-1h0m4-2h0m0 0h0m5-1h0m14 4h0m27-3h0m12 3h0m15-4h0m41 3h0m2-1h0m20-1h0m23 2h0m5 0h0m19-2h0m23 2h0m1-1h0m-355 7h0m9 1h0m32-2h0m31 2h0m3-3h0m18-1h0m27 0h0m9-1h0m24 0h0m8 5h0m16-4h0m11 3h0m31-1h0m17 0h0m0-3h0m16 5h0m81-5h0m55 1h0m4 4h0m-343 1h0m30 4h0m6-1h0m7-1h0m28-1h0m10 4h0m22-5h0m5 0h0m41 2h0m15 2h0m25 1h0m13 0h0m19-2h0m44-1h0m-308 5h0m11-1h0m69 2h0m1 0h0m3-1h0m2-1h0m79 5h0m52-2h0m16-3h0m35 3h0m9 0h0m18 2h0m97 0h0m-395 5h0m13-1h0m38 2h0m29 0h0m45-5h0m127 0h0m34 2h0m46-2h0m54 0h0m11 5h0m-408 4h0m6-2h0m22 0h0m4 3h0m7-4h0m3 2h0m1 1h0m44-3h0m72 5h0m13-2h0m23 2h0m47-4h0m41 3h0m1 0h0m2-2h0m3 3h0m29-1h0m12-4h0m9 2h0m33 3h0m24-2h0m-366 3h0m15 3h0m2-2h0m41 2h0m15-2h0m14 4h0m7-2h0m10 1h0m9 1h0m32-5h0m2 5h0m4-1h0m7-3h0m43 3h0m24 1h0m23-1h0m9 1h0m91-2h0m8 0h0m-360 6h0m22 1h0m39 0h0m18 0h0m17-1h0m7 2h0m20-4h0m106 3h0m7-2h0m6 3h0m39-5h0m35 5h0m30-1h0m35 1h0m-362 6h0m3-2h0m30-3h0m44 5h0m6-1h0m1-3h0m7 3h0m15-1h0m3 2h0m19-1h0m5-4h0m54 3h0m36-1h0m2-1h0m81 4h0m25-3h0m-375 7h0m25-3h0m43 1h0m13 1h0m24 2h0m2-2h0m9 1h0m9-3h0m11 4h0m16 1h0m3-2h0m22-2h0m23 3h0m0 0h0m13 0h0m20-1h0m16 1h0m31 0h0m23 1h0m33 0h0m7 0h0m25-2h0m15-3h0m10 3h0m-393 4h0m2-1h0m18 5h0m10-5h0m13 3h0m4-3h0m6 0h0m14 0h0m59 1h0m1-1h0m1 1h0m8 3h0m11-4h0m28 5h0m14 0h0m18-1h0m32 0h0m28 1h0m4 0h0m-262 2h0m75 2h0m84-2h0m10 4h0m6-4h0m6-1h0m39 5h0m28-2h0m18-1h0m17 3h0m18-4h0m3 2h0m5-1h0m2 2h0m13 1h0m7-4h0m15 2h0m39 2h0m-390 5h0m16 1h0m3-2h0m2 0h0m30-3h0m41 1h0m15-1h0m0 3h0m6-3h0m8 0h0m53 3h0m21 0h0m5-3h0m13 5h0m2-1h0m80-2h0m2-1h0m52 0h0m15-1h0m-355 6h0m39 4h0m3-3h0m17 0h0m29 3h0m73 1h0m49-2h0m33 2h0m18-5h0m23 0h0m13 0h0m1 2h0m12 1h0m9 0h0m19 1h0m2-1h0m42-3h0m-390 6h0m17 2h0m17-2h0m8 2h0m19 2h0m9-4h0m22 0h0m15 0h0m66 4h0m157-2h0m20-1h0m-351 6h0m8 0h0m2 2h0m18 0h0m4 2h0m1-1h0m1 0h0m35 0h0m14-3h0m5 4h0m32-4h0m15 4h0m112-1h0m20-3h0m30 0h0m26 4h0m-330 1h0m11 0h0m24 2h0m1 0h0m5-1h0m17 2h0m13-2h0m37 4h0m19-4h0m3-1h0m113 5h0m9-5h0m6 4h0m29 1h0m26-5h0m0 4h0m12-3h0m-320 5h0m18 5h0m12-4h0m10 2h0m12-1h0m19-1h0m22 2h0m29-3h0m127 2h0m4-2h0m-217 11h0m0-2h0m16-2h0m16 1h0m217 0h0m-274 4h0m59 1h0m3 2h0m19-1h0m194 2h0m-280 3h0m13 4h0m13-2h0m1 0h0m37-1h0m181 2h0m-256 5h0m7-1h0m15 3h0m10-1h0m22 0h0m206-4h0m0 2h0m27 3h0m2-2h0m1-2h0m-35 9h0m9-3h0m1 5h0m6 4h0m7 1h0m7-5h0m-43 10h0m2 1h0m24 3h0m1 1h0m-33 5h0m8 6h0m19 2h0" stroke="#d222c8" stroke-width="3.3" stroke-linecap="round" fill="none"/>
<path d="M1251 1175h0m-10 1h0m67 3h0m24 1h0m10-2h0m-20 7h0m5-3h0m13 2h0m6 2h0m-28 2h0m-68 9h0m97-3h0m14 4h0m-150 2h0m49 0h0m102 0h0m-61 11h0m41-3h0m-143 5h0m111 4h0m1-1h0m67 1h0m41 0h0m-74 1h0m-157 8h0m111 2h0m125 1h0m3-1h0m15-3h0m1 1h0m-241 9h0m31 0h0m29-3h0m47 0h0m18-2h0m56 2h0m-201 4h0m51 1h0m64-1h0m25 4h0m14-3h0m44 3h0m0 0h0m36-3h0m80 0h0m-315 9h0m9 1h0m9-1h0m11 1h0m109-5h0m66 0h0m25 4h0m20 0h0m28 0h0m27-3h0m5 3h0m56-4h0m-322 8h0m116 2h0m11-1h0m1 1h0m60-4h0m72 1h0m40-1h0m-346 11h0m8-5h0m69 5h0m39-3h0m21-1h0m34 4h0m24-4h0m30 1h0m39 0h0m35 1h0m39-1h0m-325 6h0m45 1h0m31-3h0m130 0h0m135 0h0m22 4h0m-386 4h0m18-2h0m36 3h0m197-3h0m56 0h0m7 5h0m37-2h0m16-3h0m-356 8h0m57 3h0m56 0h0m8-2h0m105 1h0m37-3h0m9 0h0m-261 6h0m4 0h0m1 1h0m40-1h0m28 0h0m34 3h0m8 0h0m12-2h0m12 3h0m34-4h0m5 2h0m90 2h0m115 0h0m-385 6h0m12 0h0m129-1h0m2 1h0m7-3h0m45 3h0m14-2h0m95-2h0m66 4h0m-342 6h0m44-5h0m32 5h0m63 0h0m89-2h0m40-1h0m-224 5h0m2 1h0m11 0h0m36 2h0m131-1h0m27-1h0m2 2h0m-296 2h0m2 4h0m77 0h0m23-4h0m8 1h0m18-1h0m38 3h0m118 2h0m43-3h0m70-1h0m-399 7h0m62 0h0m13 2h0m7 1h0m2 0h0m40-4h0m2 2h0m40-1h0m22-2h0m26 1h0m172 2h0m-321 8h0m146-1h0m32-2h0m0 2h0m56-1h0m22 1h0m19-4h0m15 0h0m5 0h0m1 3h0m-277 5h0m1 1h0m21-1h0m14 2h0m34-3h0m23 1h0m137 1h0m-282 7h0m11 0h0m3-1h0m34 0h0m2-3h0m61 5h0m55 0h0m21-2h0m34-2h0m4-1h0m18 0h0m0 3h0m1 1h0m-268 2h0m43 4h0m1-4h0m10 0h0m31 3h0m34-1h0m5 3h0m94 0h0m23 0h0m91-1h0m-302 7h0m27-5h0m106 2h0m1 3h0m43-4h0m19 3h0m2-2h0m7 1h0m28-3h0m14 1h0m35 2h0m3 0h0m53 2h0m-282 5h0m2-3h0m2-1h0m11 3h0m5 0h0m5-2h0m17 2h0m112 0h0m23 0h0m126-1h0m-401 5h0m3 3h0m35 1h0m55-2h0m32-2h0m67-1h0m19 5h0m4-2h0m13 2h0m59-1h0m9 1h0m9-4h0m22 0h0m9 1h0m38 1h0m32-3h0m-377 7h0m29 0h0m37 0h0m13 3h0m138-2h0m18 2h0m38-4h0m2 1h0m15 4h0m1-2h0m6-3h0m5 3h0m35-1h0m6 0h0m-357 4h0m69 1h0m32-1h0m1 3h0m192-2h0m20 0h0m20 4h0m10-3h0m-340 4h0m63 1h0m28 4h0m158-1h0m19 1h0m20-3h0m29 2h0m-327 2h0m100 1h0m33 0h0m117 2h0m-255 8h0m47 0h0m2-4h0m208-1h0m14 1h0m6-1h0m-196 10h0m181-3h0m-177 8h0m167-1h0m38 2h0m-273 2h0m257 0h0m1 5h0m-239 6h0m210-3h0m-204 4h0m203 3h0m13 0h0m23 2h0m-15 1h0m-33 15h0m4 8h0m34-4h0m-30 5h0m18 5h0" stroke="#1e46ff" stroke-width="3.0" stroke-linecap="round" fill="none"/>
<path d="M1247 1183h0m80 0h0m-97 20h0m106 8h0m-125 2h0m28 2h0m18-1h0m69 2h0m26-2h0m4 12h0m-135 8h0m156 0h0m38-2h0m24 0h0m-140 7h0m125 1h0m-190 5h0m220-2h0m-92 7h0m1 2h0m115 0h0m16 1h0m32 0h0m7 0h0m21-1h0m7 0h0m-324 4h0m34 0h0m74 1h0m17-3h0m105 4h0m11 1h0m12-3h0m6 1h0m2-2h0m1 2h0m8 2h0m3-4h0m1-1h0m1 4h0m1 1h0m7-3h0m6 1h0m2 2h0m11 0h0m2-3h0m-213 5h0m26 3h0m128 1h0m23 0h0m0-4h0m2 0h0m14 4h0m5-1h0m1 1h0m12-2h0m15-1h0m2 3h0m1-2h0m-220 6h0m125 2h0m15-1h0m2-4h0m2 2h0m19 3h0m2-4h0m14 4h0m7-1h0m9 0h0m1-4h0m17 3h0m16 2h0m4-5h0m2 0h0m-364 10h0m79 0h0m46-4h0m39 4h0m117 1h0m1 0h0m7-3h0m7 2h0m32 0h0m22-2h0m1 3h0m9-1h0m-352 2h0m162 3h0m3-3h0m113 5h0m3-5h0m1 2h0m2 1h0m12 1h0m22 1h0m6 0h0m3-1h0m4 1h0m1-1h0m-231 5h0m164 1h0m11-2h0m13 2h0m2-1h0m0 0h0m33 0h0m1-1h0m37-1h0m-326 6h0m40 1h0m105 3h0m83-1h0m17-2h0m14 0h0m23 0h0m1 0h0m4-2h0m4 2h0m2 3h0m7-2h0m10 0h0m-374 6h0m59-3h0m205 2h0m21 1h0m6 0h0m2 1h0m2 1h0m3 0h0m1-1h0m1-4h0m6 2h0m11 0h0m6 1h0m3-2h0m9 2h0m7 2h0m20-2h0m0 0h0m3 2h0m15-2h0m-306 5h0m1-2h0m5 0h0m53 1h0m31-1h0m122 4h0m3-1h0m4-1h0m10 3h0m3-5h0m4 3h0m9 1h0m11-3h0m11 0h0m1 1h0m6-2h0m11 0h0m9 1h0m9 3h0m9 0h0m1-3h0m-228 10h0m57-3h0m76 0h0m19 3h0m13-2h0m12-3h0m7 4h0m17 0h0m0-3h0m13-1h0m-298 7h0m27 4h0m152 0h0m41-2h0m11 0h0m37-2h0m7 0h0m3 3h0m6-3h0m4 4h0m4-5h0m6 1h0m6 3h0m9-2h0m-360 5h0m41 0h0m13 2h0m2-2h0m9 2h0m48 0h0m9 2h0m60-1h0m104 1h0m3 0h0m26-4h0m6 1h0m2-2h0m13 3h0m11-3h0m8 4h0m-378 2h0m16 1h0m85 3h0m43 1h0m95-4h0m47 1h0m6 1h0m4-2h0m17 3h0m12-4h0m7 2h0m13 0h0m7 3h0m9-2h0m-157 3h0m86 0h0m3 2h0m4 0h0m3 3h0m9-2h0m7 0h0m3-2h0m2 0h0m6 2h0m12 1h0m6-4h0m12 2h0m-357 7h0m2-2h0m5 4h0m80-2h0m40 1h0m147-1h0m14 1h0m7-4h0m5 2h0m7 0h0m8 3h0m8-3h0m2-2h0m8 2h0m2 3h0m1-2h0m9 2h0m1-5h0m7 1h0m6 1h0m10 3h0m-388 5h0m7 0h0m218 1h0m16-3h0m61 1h0m3 0h0m6-3h0m13 3h0m24-1h0m8-2h0m0 5h0m3-2h0m15 0h0m6-1h0m10 1h0m9 2h0m0-3h0m1 1h0m4-2h0m-220 8h0m127 0h0m30 0h0m10 1h0m2-3h0m10 4h0m0-3h0m13-2h0m6 3h0m5 2h0m1-5h0m1 1h0m3 0h0m9 0h0m0-1h0m-79 7h0m12 0h0m5-1h0m8 0h0m34 1h0m-325 6h0m-13 9h0m54 1h0m134 0h0m68 0h0m1-3h0m-290 13h0m86 0h0m-1 7h0m-99 2h0m47 3h0m205-1h0m-235 4h0m-18 7h0" stroke="#f02440" stroke-width="3.4" stroke-linecap="round" fill="none"/>
<path d="M1247 1168h0m68 1h0m13-4h0m-89 5h0m3 5h0m5-2h0m1-1h0m62 2h0m6-2h0m1 0h0m1-1h0m9 0h0m8 0h0m-106 10h0m11 0h0m11-2h0m53 0h0m1-3h0m8 5h0m6-2h0m2 2h0m17 0h0m-100 1h0m5 3h0m1-3h0m2 0h0m5 4h0m4-2h0m91 2h0m-128 7h0m2-4h0m28 1h0m1-2h0m7 3h0m46 2h0m28 0h0m1-5h0m5 0h0m2 3h0m7-3h0m3 4h0m10-3h0m1-1h0m7 4h0m-150 4h0m15 0h0m16 2h0m11-2h0m43 1h0m0 2h0m1-5h0m9 5h0m6-4h0m5-1h0m0 5h0m2-3h0m5 2h0m2 1h0m2-5h0m3 3h0m4 2h0m28 0h0m-157 6h0m4 0h0m4 0h0m5 0h0m12-3h0m5-1h0m4-1h0m4 4h0m4-3h0m4 4h0m3-4h0m40 4h0m5-2h0m1-1h0m2-1h0m7 4h0m4-1h0m13-2h0m1 1h0m2-3h0m11 3h0m14-1h0m13 0h0m0-2h0m-119 8h0m54 1h0m1-3h0m10 1h0m2 2h0m5-2h0m3 4h0m24-4h0m17 1h0m1 0h0m4-2h0m2 4h0m-173 7h0m4-3h0m14 3h0m2-1h0m16-1h0m3-3h0m20 2h0m42-1h0m1 0h0m6 2h0m12 2h0m2-5h0m2 5h0m2-4h0m1 1h0m16 3h0m3-2h0m1 2h0m12-1h0m2 1h0m2-5h0m10 2h0m50 2h0m18-1h0m-228 3h0m3 5h0m7-2h0m6 0h0m0-1h0m6 2h0m9 1h0m1-1h0m3 1h0m3-3h0m45 0h0m1 0h0m3 3h0m3 0h0m3-4h0m1 4h0m5-4h0m17-1h0m1 0h0m6 5h0m0-2h0m9-3h0m4 5h0m6-5h0m6 3h0m2 1h0m4-4h0m1 4h0m10-4h0m41 3h0m13-2h0m11 2h0m-259 5h0m2 1h0m0 0h0m6 0h0m5-1h0m13-1h0m5-1h0m30 4h0m4-2h0m3 0h0m43-1h0m0 3h0m2-1h0m12 1h0m2-3h0m12 2h0m13-3h0m14 1h0m1-1h0m2 3h0m4 1h0m5-4h0m6 0h0m3 0h0m0 0h0m0 5h0m1-5h0m44 3h0m19-1h0m4 2h0m-259 6h0m12-3h0m8 2h0m4 1h0m3-2h0m9 3h0m8-5h0m3 2h0m6 2h0m5-4h0m0 0h0m2 2h0m7 2h0m9-4h0m43 4h0m6-2h0m6 2h0m13 1h0m2-5h0m10 1h0m19 2h0m3-1h0m12-1h0m3 3h0m1-2h0m6 1h0m27-3h0m4 5h0m3-2h0m0 1h0m3-2h0m9 0h0m3-2h0m12 5h0m3-5h0m4 0h0m3 4h0m32 1h0m5-2h0m-312 8h0m3-2h0m15 2h0m1-3h0m7-1h0m5 3h0m20-1h0m11-1h0m3 1h0m1 1h0m13-2h0m0 0h0m6-2h0m1 4h0m47 1h0m10-4h0m1 0h0m3 2h0m4 0h0m4 1h0m4-4h0m0 0h0m8 5h0m4 0h0m5-3h0m18 1h0m3-1h0m5 1h0m37 0h0m7 1h0m5-4h0m11 1h0m2 1h0m1 2h0m9-4h0m1 3h0m4 1h0m1 1h0m25-3h0m1 1h0m6 1h0m51 1h0m0 0h0m8-4h0m-368 9h0m13 1h0m7-5h0m18 1h0m18 1h0m10-1h0m1 1h0m8 0h0m7 1h0m31 0h0m1 2h0m38-1h0m9-1h0m19-3h0m5 1h0m15 4h0m26-2h0m2 2h0m7-2h0m0 2h0m7-2h0m8-3h0m4 5h0m1-3h0m7 2h0m14-2h0m25-2h0m3 1h0m5 0h0m3 0h0m4 1h0m6-2h0m4 3h0m3 1h0m1 1h0m3 0h0m22-1h0m2-4h0m7 5h0m15-2h0m-392 5h0m22 3h0m6 0h0m11-1h0m2-4h0m8 1h0m12 0h0m10 1h0m3 3h0m1-1h0m16-3h0m5 3h0m18 0h0m20-1h0m1 0h0m6 1h0m1-3h0m1 4h0m6-3h0m3 0h0m17 0h0m1 0h0m3 0h0m7-2h0m9 2h0m1 0h0m5 3h0m5-5h0m1 5h0m0-1h0m2 0h0m36-3h0m16 1h0m6-1h0m13-1h0m1 0h0m10 1h0m10 1h0m0 2h0m26-3h0m5 1h0m1 2h0m1-1h0m14-1h0m17-1h0m4 3h0m3-4h0m19 1h0m3 0h0m10 2h0m-398 3h0m1 4h0m25-2h0m1 1h0m2 1h0m1-3h0m2 2h0m26-3h0m12 5h0m2-2h0m16 1h0m18-3h0m17 2h0m3-3h0m13 3h0m14 0h0m1-1h0m3-2h0m0 0h0m4 3h0m0 2h0m6-4h0m23 3h0m0 1h0m10 0h0m8-5h0m3 4h0m0-4h0m0 5h0m7-4h0m5-1h0m1 5h0m1-2h0m4-2h0m1 4h0m4-1h0m6 0h0m3 1h0m2-3h0m5 2h0m3 0h0m7-1h0m4 2h0m3-2h0m11-1h0m5 1h0m20 2h0m1 0h0m5 0h0m0-1h0m10-4h0m11 5h0m2 0h0m4-5h0m29 3h0m6-2h0m12 4h0m10-3h0m11 3h0m-386 5h0m2-4h0m13 5h0m3-1h0m12-1h0m2-3h0m1 2h0m8 0h0m2-2h0m9 5h0m10-1h0m11 1h0m1-5h0m14 1h0m26 1h0m8 3h0m2-5h0m9 2h0m5 3h0m3-1h0m7-4h0m3 1h0m3 2h0m6 2h0m5 0h0m0-5h0m10 5h0m7-5h0m5 5h0m2-2h0m3-3h0m2 5h0m1-3h0m7 0h0m4 1h0m1-1h0m6-2h0m1 1h0m6 1h0m12-2h0m12 2h0m8 2h0m11-4h0m2 1h0m7 4h0m3-1h0m4-4h0m25 0h0m17 5h0m7-1h0m4-2h0m6 1h0m3 1h0m25-4h0m4 3h0m10 2h0m-395 4h0m5 0h0m4-1h0m6-2h0m4 2h0m2 1h0m17-2h0m1 0h0m1 4h0m5-1h0m6-2h0m2-2h0m5 2h0m1 0h0m10 2h0m5 0h0m23-1h0m7 0h0m34-3h0m3 1h0m10 0h0m2 4h0m3-3h0m23 2h0m8-4h0m1 3h0m3-1h0m8-1h0m3-1h0m2 4h0m6 0h0m4-4h0m12 1h0m4 3h0m0-2h0m7-2h0m11 5h0m1 0h0m32-3h0m2-1h0m3 2h0m0 1h0m2-1h0m6 1h0m0-1h0m9 2h0m16-2h0m5 1h0m4-4h0m9 0h0m4 5h0m2-5h0m3 0h0m1 1h0m8 3h0m7-1h0m1-2h0m10 1h0m3 0h0m9 0h0m-390 4h0m1 5h0m4 0h0m17-4h0m4 3h0m3 1h0m2-1h0m18 0h0m6-2h0m0 3h0m9 0h0m0-1h0m5-2h0m2-2h0m3 0h0m5 4h0m1-3h0m0 2h0m19-3h0m1 2h0m20 3h0m3-2h0m5-3h0m6 5h0m3-2h0m5 2h0m11-4h0m5 0h0m3 0h0m12 3h0m1-1h0m3-2h0m7 2h0m9 1h0m0-4h0m6 3h0m4-1h0m0 1h0m4-2h0m2 4h0m2-1h0m6-3h0m5 2h0m2 0h0m3-2h0m1 4h0m9-3h0m5-2h0m1 5h0m0 0h0m4-4h0m6 2h0m11-2h0m0 3h0m5-2h0m4 0h0m4-2h0m3 5h0m11-2h0m6-2h0m1 2h0m18-3h0m6 3h0m6 1h0m12 1h0m0-1h0m1-4h0m8 1h0m11 2h0m0 1h0m6 1h0m2-5h0m15 0h0m17 2h0m-395 6h0m4 3h0m3-1h0m1-2h0m5 1h0m1 2h0m4 0h0m1 0h0m4-3h0m9 0h0m4-1h0m1 4h0m2 0h0m11-4h0m3 1h0m7 3h0m2 0h0m10-3h0m31-2h0m0 4h0m4 1h0m6 0h0m6-1h0m4-2h0m5 1h0m2-2h0m0 3h0m9-3h0m9 3h0m16-2h0m0 1h0m7 2h0m5-5h0m6 4h0m1-2h0m5 0h0m0-1h0m1 0h0m6 1h0m0 0h0m1-2h0m6 4h0m9-2h0m0 0h0m1-2h0m2 0h0m1 1h0m1-1h0m4 2h0m6-1h0m7 1h0m5 0h0m5 2h0m7 0h0m1 0h0m1-1h0m7 0h0m1 1h0m7-4h0m1 3h0m3-1h0m2 1h0m4 0h0m7-2h0m1 2h0m4-3h0m0 5h0m0-1h0m7-4h0m1 5h0m9-4h0m17 4h0m1 0h0m30-2h0m0 0h0m10-2h0m6 4h0m5 0h0m16-1h0m14-3h0m-411 5h0m8 2h0m4 1h0m1-1h0m1 0h0m6 0h0m3-1h0m9 4h0m1-4h0m1-1h0m3 0h0m2 0h0m24 3h0m11-1h0m11 3h0m6-4h0m3-1h0m2 1h0m0 1h0m7 3h0m3-3h0m8 3h0m7-2h0m8 0h0m4-1h0m7 1h0m23 0h0m6-2h0m10 4h0m1-4h0m7 3h0m7-4h0m8 1h0m2 3h0m0-4h0m9 2h0m2 0h0m4 2h0m2-3h0m4 1h0m1 2h0m2-4h0m9 1h0m1 4h0m1 0h0m16-2h0m0-1h0m29 0h0m7 1h0m19-2h0m38 1h0m15-2h0m10 3h0m3-2h0m5 3h0m4-2h0m2 0h0m1 0h0m2 3h0m4-4h0m4 3h0m0-3h0m-385 5h0m11 5h0m3-3h0m2-1h0m2-1h0m1 4h0m7 1h0m20-1h0m2-4h0m14 2h0m3 0h0m0 2h0m3-2h0m13 1h0m9 0h0m2 1h0m2 1h0m11-2h0m2-1h0m7-2h0m0 1h0m9 0h0m7 4h0m2-3h0m5 3h0m11-3h0m2 2h0m1-3h0m1 3h0m10-4h0m19 2h0m1-1h0m6-1h0m4 3h0m4 1h0m1-4h0m9 5h0m18 0h0m11-1h0m9-4h0m1 2h0m24-2h0m9 0h0m35 0h0m3 2h0m2 2h0m54-2h0m5 3h0m4-4h0m7 4h0m8-3h0m-409 7h0m3-1h0m1-2h0m1 0h0m9 2h0m8-1h0m11 0h0m4-1h0m11 4h0m2 0h0m1-3h0m4-1h0m4 5h0m2-4h0m8 2h0m0-3h0m12 2h0m22 0h0m18 3h0m2 0h0m1 0h0m1 0h0m8-3h0m4-2h0m9 3h0m12-1h0m20 2h0m1-1h0m5 1h0m2-3h0m2 3h0m4-4h0m27 3h0m0-1h0m5 3h0m4 0h0m1-4h0m3 1h0m1 1h0m4-1h0m0 1h0m6 1h0m3-4h0m19 2h0m4 1h0m6-1h0m3-1h0m8 3h0m11-3h0m5 1h0m2-1h0m8 3h0m23-3h0m2-1h0m3 1h0m12 0h0m5-1h0m2 1h0m7-1h0m18 5h0m1 0h0m12-4h0m7-1h0m-404 6h0m13 5h0m2-5h0m4 4h0m2 0h0m4-3h0m1 0h0m6 1h0m3-1h0m0 0h0m10 1h0m2 1h0m1 2h0m1-4h0m1-1h0m1 0h0m1 2h0m5-2h0m0 5h0m1-3h0m2 0h0m6 3h0m5-5h0m19 1h0m12 2h0m1 2h0m5-2h0m1 0h0m4 1h0m2 1h0m1-4h0m0 1h0m9 1h0m1 1h0m4-2h0m1 3h0m7-3h0m4-1h0m4-1h0m6 2h0m4-1h0m1 3h0m2 0h0m3-2h0m4-1h0m0 1h0m5-2h0m1 3h0m1-3h0m21 3h0m4-1h0m4 2h0m8 0h0m6-1h0m4 0h0m0-1h0m6-1h0m2 0h0m0 0h0m3 1h0m8 1h0m1-3h0m12 2h0m2 3h0m10-1h0m9 1h0m1-1h0m3 1h0m14 0h0m1 0h0m1-4h0m5 1h0m2-1h0m6 0h0m4-1h0m0 4h0m0-4h0m6 2h0m5 1h0m15 1h0m31 0h0m9-4h0m24 4h0m4 0h0m-403 6h0m3-1h0m13-1h0m3-2h0m4 3h0m6-2h0m0 3h0m3-2h0m2-1h0m0 1h0m2 1h0m4 1h0m13-1h0m8-2h0m5-1h0m10 1h0m0 1h0m4 2h0m10-2h0m9 1h0m15 0h0m6-1h0m2-1h0m20 0h0m4 2h0m0 2h0m2 0h0m1-2h0m6-1h0m4-2h0m7 2h0m3 0h0m7-1h0m5 2h0m1 0h0m4-3h0m5 0h0m28 5h0m5 0h0m4-4h0m2-1h0m36 0h0m10 4h0m4-2h0m4-2h0m2 3h0m0 0h0m10-1h0m5 2h0m1-4h0m3 5h0m16 0h0m1-1h0m22 1h0m13-3h0m15 3h0m6-4h0m5 4h0m0-3h0m11 0h0m11 0h0m-405 8h0m3-3h0m1 4h0m3-3h0m7 2h0m3 0h0m3-3h0m0 3h0m3 1h0m5-2h0m10-1h0m6 1h0m6-2h0m15-1h0m2 4h0m3-1h0m17-3h0m18 1h0m2 1h0m4-2h0m2 4h0m0 0h0m2-3h0m6 0h0m3-1h0m1 4h0m4-4h0m6 5h0m4-5h0m2 3h0m16 0h0m3-2h0m2 1h0m11-2h0m4 2h0m6 0h0m5-2h0m2 5h0m8-5h0m5 2h0m2 3h0m8-4h0m2-1h0m7 5h0m7-5h0m4 3h0m4-2h0m2 4h0m1-2h0m4 1h0m14-1h0m6 2h0m10-5h0m1 2h0m6 1h0m5 1h0m4-4h0m4 5h0m13-2h0m4-3h0m60 4h0m5 0h0m9-3h0m-384 7h0m6 0h0m3 0h0m4-2h0m5 2h0m20 2h0m6-4h0m2 1h0m14 1h0m12 0h0m2 0h0m14-2h0m6 5h0m12-4h0m8 3h0m4 0h0m27-1h0m8-2h0m10 1h0m2-2h0m5 5h0m7-3h0m2 0h0m12 2h0m6-3h0m3 4h0m6-5h0m8 2h0m10-1h0m2 1h0m5-2h0m16 1h0m1 1h0m9 2h0m20-3h0m4 4h0m2-5h0m2 0h0m18 5h0m14-4h0m3 1h0m18 3h0m4-1h0m16-3h0m2 4h0m6 0h0m4-3h0m2 1h0m4 2h0m9-1h0m5 1h0m7-1h0m1 1h0m4 0h0m5-5h0m-408 9h0m13-2h0m0 2h0m9 2h0m1-3h0m5 0h0m0 0h0m6-2h0m1 5h0m10-5h0m7 5h0m4-4h0m3 4h0m10-1h0m5 1h0m2-2h0m0 1h0m1 1h0m0-5h0m6 5h0m0-4h0m3 2h0m4-2h0m21 1h0m7-2h0m11 3h0m2 1h0m4-2h0m8 3h0m1-3h0m5 0h0m2 1h0m16 0h0m13 2h0m3-3h0m3-1h0m4 1h0m6 2h0m2-4h0m4 5h0m2-4h0m3 4h0m1-1h0m9 0h0m7-4h0m1 3h0m4 0h0m5-3h0m3 3h0m3-2h0m4 0h0m6 3h0m4-4h0m3 2h0m5 1h0m6 2h0m3 0h0m6-4h0m14 3h0m6 0h0m11 0h0m4 1h0m7-5h0m0 4h0m6-4h0m6 4h0m56 0h0m-382 7h0m0-5h0m0 3h0m8-1h0m4 1h0m5-3h0m7 3h0m18-2h0m14 1h0m4 0h0m1 0h0m5-1h0m3 3h0m10-1h0m3-1h0m12 2h0m12 1h0m1-5h0m9 3h0m5 0h0m7-2h0m6 1h0m2-2h0m3 0h0m1 2h0m7 2h0m4-3h0m4 3h0m3-4h0m1 0h0m6 2h0m2-1h0m6-1h0m0 2h0m5-2h0m1 5h0m6-4h0m13 0h0m10-1h0m0 2h0m9 1h0m8 1h0m2 0h0m1-4h0m21 1h0m8 4h0m13-4h0m6 2h0m13 1h0m3-1h0m4-2h0m3 2h0m16-3h0m14 0h0m6 3h0m13-1h0m24-2h0m25 0h0m-374 9h0m15 2h0m2-4h0m9-1h0m1 3h0m2-1h0m9-1h0m3 1h0m9-1h0m2-1h0m21 5h0m3-1h0m6-4h0m1 0h0m0 1h0m18 2h0m0-1h0m9 2h0m0-4h0m5 5h0m3-4h0m9 3h0m1-1h0m0-2h0m2 4h0m1-2h0m4 2h0m0-2h0m1 2h0m6-1h0m7-3h0m7-1h0m5 0h0m11 0h0m4 5h0m3-2h0m2 0h0m4 1h0m0 1h0m7-1h0m7-4h0m1 5h0m19-5h0m1 5h0m3-5h0m1 2h0m3 2h0m2-4h0m4 4h0m15-1h0m7 0h0m8 1h0m14-3h0m12 1h0m5 2h0m8-2h0m7 0h0m1 3h0m6-3h0m3-2h0m10 5h0m7 0h0m18-3h0m10-2h0m2 2h0m5 1h0m-400 4h0m0 0h0m7 4h0m1-2h0m14 1h0m6-1h0m8 0h0m2 0h0m3 1h0m2 1h0m2-1h0m17-2h0m8 0h0m5 1h0m2-2h0m11 4h0m2-4h0m5 1h0m10 1h0m6 0h0m5 0h0m7 2h0m9 0h0m1-5h0m1 1h0m27 3h0m5-2h0m5-1h0m0 3h0m2-4h0m31 2h0m2-2h0m22 0h0m14 3h0m9-3h0m1 5h0m7-2h0m4-2h0m3 1h0m3 0h0m0 1h0m3 0h0m5 1h0m1-4h0m5 1h0m4 3h0m1-4h0m17 1h0m12 4h0m9-1h0m0-4h0m4 5h0m9-3h0m1 3h0m40-2h0m8-2h0m2 0h0m14 3h0m-401 6h0m13-3h0m1 2h0m9 1h0m16-3h0m6 2h0m5-2h0m12 0h0m10 4h0m1-5h0m3 1h0m5 2h0m6 0h0m17 0h0m19-3h0m4 2h0m3 0h0m14 3h0m1-5h0m1 0h0m5 5h0m8 0h0m1-5h0m20 0h0m0 5h0m3-3h0m7 3h0m12-3h0m18-1h0m3 0h0m3 2h0m4 0h0m20 2h0m3-1h0m36-1h0m13-2h0m2 4h0m7-1h0m10 1h0m16-4h0m14 4h0m3-4h0m10 0h0m-364 10h0m1-5h0m2 1h0m1 2h0m7 0h0m3-3h0m2 5h0m37-5h0m10 1h0m7 4h0m5-1h0m1 0h0m7 0h0m15-1h0m1-3h0m20 2h0m11 0h0m8 2h0m2-4h0m6 3h0m6 1h0m4-2h0m17 2h0m12-1h0m7-1h0m0 2h0m4 1h0m5-1h0m1 1h0m4-1h0m20 0h0m4-3h0m1 0h0m8 4h0m20-3h0m1-1h0m7 2h0m3-3h0m11 2h0m4 0h0m7 3h0m3 0h0m10-2h0m11-1h0m24 0h0m9 2h0m6-1h0m1-2h0m4 0h0m2 4h0m7-2h0m1-3h0m6 3h0m3-1h0m1 1h0m18 2h0m3-1h0m-385 2h0m9 2h0m5 3h0m3 0h0m5-3h0m2-2h0m0 1h0m1 4h0m4 0h0m10-5h0m25 0h0m4 2h0m3-2h0m6 3h0m3 0h0m4 2h0m5-5h0m7 3h0m1-1h0m5 2h0m4-3h0m5 1h0m2 1h0m1 1h0m11 0h0m11-1h0m6 1h0m0-1h0m1 1h0m2-3h0m3 0h0m2 2h0m4-2h0m18 2h0m6 0h0m0-2h0m1 4h0m3-1h0m1-3h0m28 3h0m2-3h0m6 0h0m1 1h0m5-1h0m3 1h0m5-1h0m6 1h0m9-1h0m0 2h0m1 0h0m7-3h0m5 5h0m1-4h0m3 2h0m2-1h0m1-2h0m8 2h0m7 3h0m10-1h0m0-1h0m1-1h0m6 3h0m2-5h0m16 1h0m1 0h0m1-1h0m10 5h0m3-3h0m3 2h0m1-2h0m26 3h0m-374 4h0m2 0h0m4-3h0m14 5h0m2-5h0m0 5h0m2-5h0m12 2h0m1-1h0m0 3h0m7 1h0m4-5h0m14 3h0m1-1h0m2-2h0m1 1h0m3 3h0m2-2h0m17-2h0m2 1h0m15 1h0m7 0h0m19-1h0m3 4h0m4-2h0m2 0h0m4-1h0m11 0h0m12 1h0m2-1h0m0 1h0m10 0h0m0-3h0m0 4h0m16-4h0m41 1h0m1 4h0m12-1h0m5 0h0m4-2h0m7 0h0m1 3h0m1-1h0m0-3h0m3 4h0m1-3h0m12 3h0m9-1h0m2-4h0m0 2h0m17 2h0m1 1h0m10-5h0m8 2h0m5-2h0m8 0h0m2 3h0m2-3h0m3 1h0m23 0h0m1-1h0m-372 10h0m5 1h0m7-2h0m3-3h0m7 2h0m11 3h0m2 0h0m1-3h0m9-2h0m8 4h0m6 1h0m1 0h0m0-2h0m4-2h0m0 0h0m2 0h0m11-1h0m0 2h0m20 3h0m6-4h0m2 2h0m4-2h0m6-1h0m9 4h0m0-2h0m1 1h0m1-1h0m0-2h0m125 4h0m2-4h0m2 2h0m6 0h0m11 0h0m5-2h0m11 1h0m4-1h0m3 5h0m-302 6h0m11-5h0m12 3h0m2-3h0m7 0h0m12 5h0m9-5h0m38 1h0m0 1h0m12-2h0m2 3h0m146-1h0m30 1h0m3 0h0m11-3h0m-291 7h0m6-1h0m1 5h0m4-5h0m18 3h0m3-2h0m2 4h0m4-5h0m8 1h0m27 4h0m13 0h0m7-4h0m1 1h0m5-1h0m144 0h0m7 0h0m5-1h0m1 3h0m7 0h0m12-3h0m9 1h0m3-1h0m-287 11h0m17-4h0m0 0h0m3 4h0m7-2h0m11 2h0m6-5h0m1 1h0m7 3h0m1-2h0m7 2h0m1 0h0m2-4h0m8 3h0m7 2h0m12-3h0m166 3h0m1-5h0m7 0h0m0 0h0m1 2h0m6 3h0m0-4h0m-275 5h0m1 3h0m0 1h0m1-3h0m4 1h0m0 1h0m4-3h0m18 5h0m7 0h0m7-4h0m7 2h0m8 1h0m7-3h0m181 4h0m9-5h0m10 4h0m2-4h0m6 3h0m11-3h0m-279 6h0m3 2h0m3 1h0m4-3h0m2 5h0m8-2h0m3-2h0m2 3h0m2-3h0m14 1h0m9 0h0m4 2h0m2-1h0m189 0h0m4-3h0m5 4h0m25-3h0m4-1h0m0 0h0m-270 8h0m13 1h0m2 1h0m4-4h0m6 3h0m196 2h0m5-1h0m8 1h0m14-5h0m4 0h0m3 0h0m0 4h0m3-4h0m4 4h0m4 1h0m-46 3h0m1 0h0m12 3h0m11-5h0m5 1h0m8 2h0m3-1h0m4-1h0m-45 7h0m2 2h0m0-1h0m11 1h0m4 1h0m4 0h0m2 0h0m1-3h0m11-2h0m1 3h0m3 1h0m1 0h0m-19 6h0m6 0h0m6-4h0m1 1h0m3 2h0m0 2h0m-22 1h0m9 1h0m13 1h0m-36 4h0m8 1h0m3-1h0m6 0h0m4 0h0m3 1h0" stroke="#020c04" stroke-width="1.7" stroke-linecap="round" fill="none"/>
<path d="M1321.8 1170.5L1311.7 1188.2L1316.8 1213.4L1326.9 1231.1M1329.4 1271.6L1334.5 1291.8L1326.9 1312L1331.9 1329.7M1435.6 1223.6L1433.1 1243.8L1438.1 1261.5L1448.2 1226.1L1440.7 1251.4M1261.1 1365.1L1278.8 1355L1296.5 1350M1387.6 1317.1L1397.7 1332.3L1415.4 1322.2L1395.1 1322.2M1445.7 1324.7L1458.4 1337.3L1463.4 1350M1491.2 1289.3L1506.4 1291.8L1514 1286.8M1170.1 1382.8L1175.2 1398L1171.4 1408.1M1423 1398L1435.6 1395.5L1434.3 1405.6L1424.2 1404.3L1423 1398M1362.3 1423.3L1369.9 1433.4L1382.5 1451.1L1372.4 1456.2L1347.1 1451.1L1352.2 1441L1364.8 1427.1M1496.3 1213.4L1506.4 1208.4L1501.3 1221M1410.3 1438.5L1423 1441M1266.2 1382.8L1281.4 1385.4M1309.2 1175.5L1316.8 1180.6" stroke="#fff" stroke-width="1.5" fill="none" stroke-linejoin="round" stroke-dasharray="7 1.5"/>
<path d="M1181 1402h0m135 1h0m204 0h0m-308 3h0m337 1h0m-370 5h0m64 4h0m22 3h0m55 2h0m205-4h0m-333 12h0m51 2h0m15 1h0m27-3h0m-58 9h0m83-1h0m26-1h0m12-2h0m100 1h0m-166 8h0m112 1h0m64 1h0m90-1h0m-172 3h0m24 2h0m151-3h0m9 5h0m-291 2h0m71 3h0m69 0h0m32-2h0m18 1h0m76 2h0m-292 3h0m55-1h0m52 2h0m-66 6h0m-46 8h0m16-4h0m234 2h0" stroke="#5a1456" stroke-width="2.6" stroke-linecap="round" fill="none"/>
<path d="M1420 1409h0m135 3h0m-315 7h0m66 0h0m69 0h0m65-1h0m31 2h0m79 6h0m-24 6h0m6-2h0m-356 6h0m61 9h0m-28 2h0m57 0h0m203 4h0m19-2h0m35 2h0m-351 12h0m103-4h0m296 14h0" stroke="#6a5a10" stroke-width="2.2" stroke-linecap="round" fill="none"/>
</g>
<path d="M1175 1464.3h14" stroke="#fff" stroke-width="1.6"/>
<text x="1171.4" y="1487.6" font-size="20" font-weight="bold" fill="#f5e600">CK</text>
<text x="1214.4" y="1487.6" font-size="20" font-weight="bold" fill="#fff">CD31</text>
<text x="1276.3" y="1487.6" font-size="20" font-weight="bold" fill="#00dc14">CD4</text>
<text x="1326.9" y="1487.6" font-size="20" font-weight="bold" fill="#00d2d2">CD8</text>
<text x="1377.4" y="1487.6" font-size="20" font-weight="bold" fill="#1e50ff">FoxP3</text>
<text x="1450.8" y="1487.6" font-size="20" font-weight="bold" fill="#f000f0">CD68</text>
<text x="1512.7" y="1487.6" font-size="20" font-weight="bold" fill="#f02800">CD11c</text>
<defs><clipPath id="hec"><rect x="1583.8" y="1136.8" width="411.7" height="336.7"/></clipPath><linearGradient id="hg" x1="0" y1="0" x2="0" y2="1"><stop offset="0" stop-color="#d0a8d2"/><stop offset=".6" stop-color="#d4aad6"/><stop offset=".8" stop-color="#e0acdc"/><stop offset="1" stop-color="#e2b0de"/></linearGradient></defs>
<rect x="1583.8" y="1136.8" width="411.7" height="336.7" fill="#f1edef"/>
<g clip-path="url(#hec)">
<path d="M1583.8 1250.5C1589.5 1180.2 1590.7 1232.9 1605.1 1212.9C1619.5 1192.8 1617.7 1190.6 1637.8 1175.2C1657.9 1159.8 1657 1163.8 1680.4 1155.1C1703.9 1146.4 1700.2 1146.9 1725.6 1142.6C1751.1 1138.2 1753.1 1139.5 1775.9 1138.8C1798.6 1138.1 1798.3 1134.4 1811 1140C1823.7 1145.7 1815.5 1151.8 1823.6 1160.1C1831.6 1168.5 1831.8 1172.1 1841.1 1171.4C1850.5 1170.8 1842.6 1161.3 1858.7 1157.6C1874.8 1153.9 1880.6 1151.6 1901.4 1157.6C1922.1 1163.6 1919.8 1167.5 1936.5 1180.2C1953.3 1192.9 1950.1 1185.2 1964.2 1205.3C1978.2 1225.4 1979.9 1228.8 1989.3 1255.5C1998.6 1282.3 1996.6 1272.3 1999.3 1305.7C2002 1339.2 2002.7 1358.3 1999.3 1381.1C1996 1403.8 1986.7 1384.4 1986.7 1391.1C1986.7 1397.8 1996 1383.4 1999.3 1406.2C2002.7 1428.9 2110.1 1457.7 1999.3 1476.5C1888.5 1495.2 1694.6 1536.7 1583.8 1476.5C1473 1416.2 1578.1 1320.8 1583.8 1250.5z" fill="url(#hg)"/>
<path d="M1583.8 1250.5C1589.5 1229.8 1590.7 1232.9 1605.1 1212.9C1619.5 1192.8 1617.7 1190.6 1637.8 1175.2C1657.9 1159.8 1657 1163.8 1680.4 1155.1C1703.9 1146.4 1700.2 1146.9 1725.6 1142.6C1751.1 1138.2 1753.1 1139.5 1775.9 1138.8C1798.6 1138.1 1798.3 1134.4 1811 1140C1823.7 1145.7 1815.5 1151.8 1823.6 1160.1C1831.6 1168.5 1831.8 1172.1 1841.1 1171.4C1850.5 1170.8 1842.6 1161.3 1858.7 1157.6C1874.8 1153.9 1880.6 1151.6 1901.4 1157.6C1922.1 1163.6 1919.8 1167.5 1936.5 1180.2C1953.3 1192.9 1950.1 1185.2 1964.2 1205.3C1978.2 1225.4 1985.9 1246.2 1989.3 1255.5C1992.6 1264.9 1986.7 1239.1 1976.7 1240.5C1966.7 1241.8 1963.7 1250.5 1951.6 1260.6C1939.5 1270.6 1944.9 1275.5 1931.5 1278.1C1918.1 1280.8 1914.1 1282 1901.4 1270.6C1888.7 1259.2 1893.9 1250.8 1883.8 1235.4C1873.8 1220 1875.1 1215.5 1863.7 1212.9C1852.3 1210.2 1849.8 1211.3 1841.1 1225.4C1832.4 1239.5 1839.1 1257.5 1831.1 1265.6C1823.1 1273.6 1820.4 1271.6 1811 1255.5C1801.6 1239.5 1806.7 1218.7 1795.9 1205.3C1785.2 1191.9 1782.9 1212 1770.8 1205.3C1758.8 1198.6 1762.8 1186.9 1750.7 1180.2C1738.7 1173.5 1736.4 1176.9 1725.6 1180.2C1714.9 1183.6 1718.6 1176.7 1710.6 1192.8C1702.5 1208.8 1711.6 1219.7 1695.5 1240.5C1679.4 1261.2 1680.1 1257.2 1650.3 1270.6C1620.5 1284 1601.5 1296 1583.8 1290.7C1566 1285.3 1578.1 1271.3 1583.8 1250.5z" fill="#c29ac0"/>
<path d="M1583.8 1290.7C1601.5 1285.3 1620.5 1284 1650.3 1270.6C1680.1 1257.2 1679.4 1261.2 1695.5 1240.5C1711.6 1219.7 1702.5 1208.8 1710.6 1192.8C1718.6 1176.7 1714.9 1183.6 1725.6 1180.2C1736.4 1176.9 1738.7 1173.5 1750.7 1180.2C1762.8 1186.9 1758.8 1198.6 1770.8 1205.3C1782.9 1212 1785.2 1191.9 1795.9 1205.3C1806.7 1218.7 1801.6 1239.5 1811 1255.5C1820.4 1271.6 1823.1 1273.6 1831.1 1265.6C1839.1 1257.5 1832.4 1239.5 1841.1 1225.4C1849.8 1211.3 1852.3 1210.2 1863.7 1212.9C1875.1 1215.5 1873.8 1220 1883.8 1235.4C1893.9 1250.8 1888.7 1259.2 1901.4 1270.6C1914.1 1282 1918.1 1280.8 1931.5 1278.1C1944.9 1275.5 1939.5 1270.6 1951.6 1260.6C1963.7 1250.5 1966.7 1241.8 1976.7 1240.5C1986.7 1239.1 1985.9 1251.5 1989.3 1255.5" stroke="#ad86a4" stroke-width="8" fill="none" stroke-linejoin="round" opacity=".75" transform="translate(0 -3.5)"/>
<path d="M1742 1389h0m36 1h0m-159 2h0m112 4h0m200-1h0m-39 4h0m47 3h0m-186 4h0m110 2h0m-162 5h0m67 0h0m-133 7h0m97-4h0m155 5h0m-24 1h0m-101 7h0m165 3h0m-68 15h0m120 0h0m-71 10h0m13 5h0m-287 4h0m91-1h0m30 4h0m10-1h0" stroke="#f4eef4" stroke-width="7" stroke-linecap="round" fill="none"/>
<path d="M1833 1387h0m68 5h0m-15 8h0m72 2h0m-150 5h0m122-2h0m-322 6h0m142 2h0m-117 3h0m-43 8h0m370 2h0m-233 2h0m-26 7h0m132 3h0m42-1h0m24 1h0m-280 14h0m239 11h0m97 2h0m-318 8h0" stroke="#f0e4f0" stroke-width="4.5" stroke-linecap="round" fill="none"/>
<path d="M1779 1139h0m-34 6h0m6-2h0m12 0h0m0 1h0m3-1h0m3-1h0m4 2h0m31-1h0m-98 7h0m18 1h0m1-4h0m4 0h0m1 1h0m14 2h0m6-2h0m4 0h0m12 1h0m6 0h0m3 2h0m15-4h0m0 3h0m3 1h0m0-3h0m3-2h0m3 3h0m4-3h0m10 4h0m-120 4h0m8-1h0m14 4h0m4-5h0m0 0h0m4 5h0m7 0h0m3-5h0m12 1h0m1 2h0m4 2h0m1-5h0m7 4h0m4-4h0m2 2h0m4 3h0m1 0h0m12-5h0m4 3h0m4-2h0m12 0h0m2 1h0m1 3h0m2-2h0m1-2h0m11 4h0m3 0h0m-156 6h0m24-2h0m4-1h0m4 2h0m6 1h0m7-3h0m0-2h0m30 3h0m2 1h0m14-2h0m1 1h0m7 0h0m3 1h0m8-2h0m4 0h0m5 0h0m4-2h0m4 2h0m4 0h0m1-2h0m4 5h0m9-1h0m5-3h0m45 2h0m3 2h0m18-3h0m4 2h0m7-4h0m13 4h0m3 1h0m-249 5h0m4 0h0m3-1h0m13 1h0m18 1h0m6-2h0m6-2h0m7 3h0m1-1h0m3 1h0m8 1h0m4 0h0m11-3h0m2 1h0m2-2h0m2 3h0m4 0h0m1-1h0m3 1h0m2 1h0m4-5h0m10 0h0m15 4h0m12-2h0m1 0h0m0-1h0m3 0h0m4 4h0m6-2h0m2 0h0m7-3h0m0 3h0m0-2h0m8 2h0m17 0h0m2 0h0m1 1h0m10-3h0m3 2h0m3-2h0m6-1h0m1 4h0m0-2h0m20 1h0m1 2h0m16-2h0m-256 6h0m8-3h0m3 1h0m2 2h0m13 0h0m2 2h0m7-5h0m1 3h0m8-3h0m3 3h0m5 2h0m6 0h0m1-3h0m7-1h0m2 3h0m2-3h0m2 2h0m2-1h0m0 3h0m2-5h0m3 4h0m9-2h0m3 3h0m2-2h0m10-3h0m8 2h0m0 2h0m4-4h0m17 1h0m0 0h0m1 3h0m5-1h0m6-1h0m7 3h0m11-5h0m0 5h0m3-5h0m2 2h0m2-2h0m4 4h0m2 0h0m17-1h0m18-3h0m13 2h0m3 1h0m0 0h0m8 2h0m14-1h0m8 1h0m2-5h0m-276 11h0m19-2h0m0-1h0m1 1h0m1-2h0m3 2h0m14-3h0m3 3h0m8 0h0m0-3h0m5 0h0m6 0h0m15 0h0m0 2h0m11 3h0m1-3h0m12-2h0m0 4h0m21-3h0m3 0h0m2-1h0m1 5h0m23-1h0m5-4h0m4 1h0m4 0h0m8 3h0m9-3h0m2 1h0m1-2h0m2 1h0m2 3h0m6-2h0m1-1h0m10 4h0m0 0h0m18-2h0m26-2h0m4 3h0m1-4h0m3 2h0m8 0h0m2-1h0m5 3h0m2-1h0m5 2h0m9-2h0m1-3h0m2 5h0m7-1h0m2 0h0m-301 3h0m3 2h0m0-1h0m5-1h0m4 2h0m9 0h0m9-2h0m1 0h0m4 3h0m8-2h0m20 0h0m2-2h0m11 0h0m1 4h0m1-1h0m7-1h0m47-2h0m1 5h0m1-3h0m5 2h0m8-1h0m5 1h0m1-3h0m2 4h0m2-1h0m4-1h0m2 2h0m17-4h0m1 4h0m21-4h0m5 0h0m4-1h0m1 3h0m14-3h0m4 2h0m1 3h0m2 0h0m12-1h0m3-1h0m4-3h0m13 2h0m25 0h0m1 2h0m12 1h0m-277 5h0m1-2h0m7 3h0m5-2h0m8-3h0m3 4h0m1-2h0m17-2h0m4 2h0m3 3h0m2-1h0m50 0h0m0-2h0m66 2h0m3-1h0m9 1h0m0-4h0m4 3h0m3 2h0m13-5h0m2 4h0m1-4h0m12 4h0m2-1h0m2 2h0m6-5h0m2 3h0m12-3h0m3 2h0m8 2h0m10-1h0m1-1h0m6-1h0m1 3h0m13-3h0m-303 8h0m5 0h0m4 1h0m7-1h0m4 0h0m8-1h0m8 3h0m4-2h0m5-3h0m6 3h0m1 1h0m5 1h0m2-2h0m68-3h0m1 1h0m21 0h0m4 2h0m4 2h0m7-4h0m13 3h0m1-1h0m2 0h0m13 1h0m4-2h0m7-2h0m0 0h0m1 2h0m11 1h0m0 0h0m3-1h0m2-2h0m24 2h0m1-2h0m7 4h0m9-1h0m2-3h0m6 4h0m5-4h0m4 1h0m2 0h0m7 4h0m3-1h0m2 0h0m5-1h0m0-1h0m2 3h0m6-5h0m-326 8h0m2 0h0m1 1h0m3-3h0m8 3h0m1-3h0m8 5h0m6 0h0m1-5h0m5 1h0m2 0h0m1 2h0m4 0h0m14 2h0m4-2h0m17-3h0m1 5h0m8-4h0m72 3h0m1-1h0m2 2h0m6-2h0m16 1h0m4 0h0m5-2h0m34 0h0m13 3h0m4 0h0m14 0h0m0-5h0m8 4h0m1-1h0m1-1h0m49 0h0m1 1h0m4-3h0m10 4h0m0-3h0m1 0h0m7 1h0m2-1h0m-339 10h0m14-2h0m0 1h0m6-4h0m1 5h0m47 0h0m4-4h0m123 4h0m6-5h0m4 4h0m1 0h0m7-4h0m1 4h0m3-2h0m1 1h0m10-3h0m5 5h0m8 0h0m7-1h0m1-3h0m1 3h0m5-1h0m2 2h0m12 0h0m6-3h0m8-1h0m2 1h0m8-2h0m2 3h0m1 1h0m3-2h0m0 1h0m7 2h0m13-4h0m10 4h0m-343 3h0m1 3h0m0-5h0m13 5h0m26-5h0m3 2h0m3 3h0m1-2h0m3 1h0m7-4h0m0 3h0m2 2h0m1-4h0m0 0h0m4-1h0m4 0h0m8 3h0m130 0h0m1 1h0m7-2h0m8 2h0m2 0h0m6-1h0m2 2h0m13-1h0m10-4h0m7 4h0m13 0h0m24 1h0m3-2h0m2-1h0m5 3h0m6-4h0m4 3h0m6 0h0m0-1h0m3 1h0m5-3h0m5 0h0m9 1h0m2-2h0m2 4h0m6 1h0m6-2h0m-363 3h0m3 2h0m12 0h0m5 2h0m4-4h0m24 4h0m1-1h0m10-1h0m7 2h0m1 1h0m0-2h0m1-2h0m3 4h0m0-1h0m4-1h0m13-3h0m2 1h0m115 2h0m20 1h0m3-1h0m0 0h0m3 2h0m1-2h0m2 2h0m4-1h0m1-2h0m5 0h0m27 0h0m2 0h0m6-1h0m8 1h0m7-2h0m7 1h0m11 1h0m17 2h0m6 1h0m1-5h0m9 1h0m2 4h0m1-3h0m0-2h0m6 2h0m-352 4h0m3 4h0m1 1h0m13-2h0m3 1h0m2-4h0m11 4h0m5-4h0m6 5h0m18-1h0m5-4h0m1 2h0m7 3h0m5-1h0m6-2h0m2 1h0m109 0h0m0 2h0m3-3h0m3 1h0m3 1h0m6 1h0m9 0h0m5-1h0m44-4h0m7 1h0m8 1h0m3 0h0m16-2h0m6 2h0m12 2h0m5-4h0m7 2h0m16-2h0m10 0h0m7 2h0m-375 7h0m1 2h0m1-4h0m4 4h0m1-5h0m3 1h0m0 2h0m4 1h0m6-2h0m1-1h0m14 2h0m0 2h0m3-5h0m10 2h0m17 2h0m2-2h0m16 3h0m0-4h0m2 3h0m12 0h0m2-3h0m109 2h0m2-3h0m0 4h0m26 0h0m2-3h0m45-1h0m3 0h0m2 0h0m1 4h0m2 0h0m3-1h0m1-3h0m2 2h0m3 1h0m5 1h0m12-2h0m5-2h0m0 0h0m2 0h0m5 3h0m3 1h0m12-1h0m3 0h0m1-3h0m3 4h0m9-1h0m1 1h0m6 0h0m1-4h0m-374 11h0m4-1h0m0-2h0m2 1h0m2-1h0m0-1h0m14 3h0m1-1h0m6-3h0m13 2h0m3 0h0m7-2h0m5 5h0m16-4h0m7-1h0m3 4h0m7-2h0m0 3h0m1-1h0m1 1h0m5-1h0m2-4h0m1 1h0m2 0h0m117 0h0m2 0h0m3-1h0m1 3h0m2-3h0m3 3h0m65-1h0m2 2h0m2-4h0m18 3h0m2 1h0m0 1h0m4-1h0m3 1h0m9-4h0m1 1h0m3-1h0m3 0h0m6 3h0m5-3h0m1 2h0m2-3h0m24 5h0m-378 4h0m6-1h0m5 3h0m6-5h0m2 0h0m11 3h0m1-2h0m1 0h0m4 0h0m0 4h0m4 0h0m1 0h0m3-5h0m22 5h0m7-4h0m0 1h0m1 2h0m12-1h0m0 2h0m128-3h0m1-1h0m11 2h0m4 2h0m63-4h0m14 2h0m0-3h0m7 2h0m3 3h0m10-2h0m5-2h0m1 2h0m6 0h0m6 2h0m6-2h0m19-3h0m-341 8h0m10-2h0m0 2h0m5 0h0m5 3h0m3-2h0m7 2h0m3-5h0m5 5h0m5-3h0m12-2h0m0 2h0m131 0h0m0-2h0m0 1h0m0-1h0m6 2h0m0 1h0m1 2h0m10 0h0m4 0h0m1-2h0m66 1h0m1-4h0m1 1h0m5 3h0m6-2h0m4-2h0m4 5h0m8-4h0m15 0h0m2 4h0m8-1h0m11-4h0m-379 6h0m5 1h0m0 1h0m18 3h0m0-5h0m12 2h0m1-2h0m2 3h0m0 1h0m0 1h0m13-4h0m5 2h0m6 0h0m3-2h0m1 1h0m2 0h0m2 3h0m2 0h0m8-2h0m1-3h0m4 1h0m1 0h0m157 0h0m1 2h0m68 1h0m3 1h0m4-5h0m3 1h0m6 3h0m9-4h0m3 4h0m3-4h0m5 5h0m3-1h0m3 1h0m5-2h0m3 0h0m4 2h0m3-5h0m-347 8h0m21-2h0m3 4h0m1-2h0m4-2h0m7 2h0m1-2h0m4 5h0m7 0h0m4-4h0m163-1h0m4 2h0m3-1h0m2-1h0m2 2h0m68-1h0m16 4h0m2-5h0m1 3h0m9 2h0m4-2h0m6 0h0m2-2h0m-354 7h0m13 0h0m14 3h0m6-2h0m2 1h0m1-2h0m11 2h0m14 1h0m255-3h0m3 2h0m14-1h0m1 1h0m19-3h0m-336 5h0m1 1h0m3-1h0m10 4h0m5-2h0m2 2h0m3-1h0m3 1h0m1-1h0m-40 4h0m5 3h0m0-2h0m5 0h0m1 1h0m0-2h0m1-1h0m5 1h0m6 2h0m-28 3h0m9 0h0" stroke="#a684b8" stroke-width="3.0" stroke-linecap="round" fill="none"/>
<path d="M1735 1181h0m6-1h0m3 1h0m-24 5h0m6-3h0m0 1h0m1 3h0m0-1h0m5-3h0m1 2h0m1-3h0m2 5h0m3-1h0m3-2h0m1 2h0m0-1h0m2 2h0m3 0h0m3 0h0m1-2h0m1-2h0m-30 7h0m0-2h0m3 1h0m1 4h0m7-4h0m6 0h0m0 1h0m1 0h0m5 3h0m7-5h0m3 1h0m-42 10h0m1-5h0m1 5h0m2-5h0m3 2h0m1 1h0m0-1h0m2 0h0m4 1h0m4 2h0m1-5h0m1 1h0m5 2h0m0 2h0m1-4h0m1 0h0m2 1h0m2 2h0m4-3h0m5 2h0m2-1h0m0 0h0m3 2h0m-47 2h0m1 0h0m4 1h0m2 4h0m5 0h0m1-5h0m2 4h0m2-1h0m6 0h0m2 0h0m9-2h0m1 0h0m2 2h0m4-2h0m5 3h0m3 1h0m1-2h0m2-1h0m1-2h0m0 5h0m-57 4h0m1-1h0m5 3h0m0-2h0m4 0h0m3-1h0m1-1h0m2 3h0m0 1h0m0-5h0m3 4h0m0 0h0m1 0h0m2-3h0m0 0h0m3 1h0m6 3h0m0-2h0m2-3h0m4 4h0m1 0h0m2-3h0m0 3h0m6-2h0m1 1h0m2-2h0m1 3h0m0-2h0m4 1h0m0 1h0m4-3h0m1 1h0m2-1h0m8-1h0m5 4h0m5-2h0m3 1h0m6-2h0m-92 9h0m2-2h0m1 2h0m5 1h0m0-3h0m5-2h0m1 1h0m2 4h0m7-2h0m3 2h0m1 0h0m1-1h0m3-1h0m2-3h0m5 2h0m1-1h0m1 4h0m1 0h0m2-4h0m1 0h0m3 2h0m0 2h0m3-4h0m2 1h0m1 1h0m4-1h0m7 3h0m1 0h0m1-1h0m2-3h0m3-1h0m4 1h0m1 2h0m3 0h0m1 0h0m0-2h0m3 0h0m3 1h0m2 0h0m3 3h0m2-4h0m66 4h0m1-1h0m0 1h0m-162 6h0m2-2h0m0-1h0m2-1h0m0 4h0m1-2h0m0-2h0m1 4h0m1-5h0m1 0h0m3 1h0m2 1h0m1 3h0m2-1h0m3 1h0m4-1h0m2 0h0m4 1h0m1-4h0m1-1h0m2 3h0m3 0h0m3-2h0m12 0h0m13-1h0m9 3h0m3-2h0m4 3h0m1-2h0m3 1h0m1 0h0m3 1h0m4 1h0m4 0h0m51 0h0m6-4h0m2-1h0m15 5h0m-169 4h0m2-3h0m4 2h0m2-2h0m5 1h0m3 4h0m1-5h0m1 3h0m2 1h0m3-3h0m0 0h0m3 4h0m2 0h0m4-1h0m6-4h0m7 3h0m3-2h0m5 3h0m0-1h0m4-3h0m8 0h0m2 4h0m11 1h0m4-5h0m3 5h0m6-5h0m4 1h0m2 0h0m41 3h0m2-1h0m1-3h0m1 3h0m5 1h0m6-1h0m0-1h0m3-2h0m6 2h0m5 0h0m1-1h0m0-1h0m0 5h0m3-2h0m0-2h0m2 3h0m-177 5h0m1-3h0m6 5h0m0-3h0m4-2h0m2 2h0m2 2h0m1 0h0m3-2h0m0 0h0m1-2h0m1 4h0m1-3h0m10 3h0m1 1h0m1 0h0m0 0h0m3-1h0m2-1h0m2 0h0m1 2h0m5 0h0m1-4h0m2 4h0m7-2h0m1 1h0m8 0h0m2 0h0m3 1h0m2-1h0m0-2h0m4 1h0m1-3h0m1 0h0m0 5h0m4-1h0m0-3h0m0 0h0m3 4h0m0-5h0m3 3h0m2-3h0m8 0h0m0 1h0m47 3h0m2-2h0m3-1h0m5-1h0m1 2h0m3 3h0m3 0h0m2 0h0m1-5h0m3 1h0m0 2h0m7 1h0m2-4h0m0 4h0m1 1h0m5 0h0m-186 3h0m2 1h0m4-2h0m10 3h0m3-2h0m5 1h0m2-1h0m2-1h0m7 4h0m3-1h0m1 1h0m0-1h0m4 0h0m1 1h0m2 0h0m0-3h0m1-2h0m4 4h0m4 1h0m1 0h0m8-3h0m0-2h0m0 3h0m1 2h0m6-5h0m3 5h0m1-3h0m4 2h0m3-1h0m1 1h0m1-3h0m1 2h0m2-1h0m6 1h0m1 1h0m2-2h0m8-2h0m5 3h0m0 2h0m33-2h0m2 2h0m1-1h0m1 0h0m4 1h0m3-2h0m5-3h0m5 4h0m3-3h0m4 3h0m2-4h0m6 0h0m1 4h0m6 0h0m1-3h0m1 0h0m-194 8h0m2-1h0m3 1h0m0 0h0m2 2h0m4-3h0m2 1h0m4-1h0m0 0h0m0 1h0m1 1h0m7 0h0m2-3h0m4 3h0m1 0h0m3-4h0m2 3h0m2-1h0m0-2h0m1 2h0m0 0h0m2-1h0m8 2h0m1 2h0m2-2h0m4-1h0m3 3h0m10-2h0m3 2h0m1-4h0m1 0h0m4 0h0m2 1h0m2 0h0m0-2h0m3 3h0m6-2h0m1 0h0m4 0h0m4-1h0m1 4h0m9-3h0m2 1h0m4 3h0m34-5h0m0 0h0m0 0h0m2 5h0m10 0h0m3-5h0m1 5h0m5-3h0m3 1h0m2 0h0m1-1h0m3-2h0m2 0h0m4 0h0m2 0h0m0 1h0m7 4h0m1-5h0m83 5h0m6-3h0m2 0h0m-281 6h0m0 1h0m2 0h0m1-1h0m6 1h0m0 1h0m3-2h0m1 0h0m3 0h0m0 2h0m0-1h0m11 2h0m8-4h0m4 0h0m0 4h0m1-3h0m6-2h0m1 4h0m4-3h0m0 4h0m8-5h0m4 2h0m1-2h0m2 2h0m5 3h0m5-4h0m0 2h0m3 0h0m3 2h0m7-5h0m3 3h0m1-2h0m1 1h0m5 3h0m2-2h0m2 0h0m0 2h0m1 0h0m5-2h0m1-1h0m28 0h0m7 0h0m6 1h0m4 2h0m0-4h0m3 2h0m3-2h0m3 4h0m2 0h0m1-1h0m6-1h0m2-3h0m1 2h0m2 2h0m1 1h0m7-4h0m80 3h0m1 1h0m1 0h0m2-3h0m2 2h0m1 0h0m3 0h0m4-3h0m1 3h0m-301 2h0m0 0h0m2 2h0m1 2h0m0 0h0m0 0h0m5-2h0m6 0h0m2 0h0m1 3h0m2-3h0m1 1h0m2-2h0m1 4h0m1-5h0m1 4h0m4 1h0m1-1h0m0 1h0m2 0h0m6-2h0m3-3h0m9 2h0m1 0h0m0 2h0m2-2h0m4 3h0m0-1h0m1-4h0m0 0h0m3 0h0m3 1h0m2 0h0m3 0h0m6 0h0m0 1h0m7 1h0m0-2h0m2 4h0m2-5h0m1 1h0m0 1h0m4 3h0m2 0h0m3-4h0m2 4h0m1-5h0m2 1h0m1 2h0m2 0h0m5-3h0m1 0h0m3 3h0m1-1h0m0 2h0m1-3h0m7 2h0m4-3h0m3 2h0m1 2h0m1 0h0m26 1h0m0-2h0m2-3h0m6 4h0m5 0h0m4 0h0m1 1h0m1-2h0m1-2h0m0 0h0m0 4h0m1-1h0m4 0h0m1-1h0m4-3h0m8 3h0m8 1h0m9-4h0m3 4h0m68-1h0m7-2h0m0 4h0m1-1h0m1-2h0m0 3h0m5-5h0m1 0h0m0 4h0m0-2h0m1-1h0m5 1h0m6-2h0m0 5h0m-319 5h0m3 0h0m6-3h0m0 3h0m1-3h0m1 2h0m3 1h0m4-4h0m1 3h0m4-2h0m3 2h0m0-2h0m0 0h0m0 3h0m5 0h0m2-1h0m0 1h0m15-1h0m1 2h0m2-3h0m1 2h0m6 1h0m0-3h0m3 3h0m2 0h0m2 0h0m4-4h0m0-1h0m7 5h0m2-3h0m1 3h0m1-5h0m1 2h0m1 1h0m3-3h0m3 0h0m0 5h0m1 0h0m1 0h0m4-2h0m4-3h0m2 1h0m2-1h0m2 3h0m2-1h0m1 1h0m0-2h0m1-1h0m1 3h0m5 0h0m2-1h0m2-2h0m12 1h0m1 0h0m3 1h0m2 2h0m3 0h0m4-4h0m6 5h0m3-5h0m9 5h0m6 0h0m6-5h0m2 4h0m5-4h0m4 3h0m1 1h0m3 1h0m1-4h0m2-1h0m1 0h0m6 5h0m2-3h0m4-2h0m1 3h0m2 1h0m3-2h0m1-2h0m4 0h0m1 2h0m0 2h0m2-4h0m3 3h0m60 1h0m0 0h0m1-2h0m7 3h0m2-5h0m2 3h0m1 1h0m5-3h0m2 0h0m11 1h0m1 3h0m3-4h0m1 2h0m3-1h0m1 2h0m0-2h0m-333 6h0m3 3h0m1-3h0m0-1h0m1-1h0m0 5h0m1-2h0m8-1h0m1 0h0m0 0h0m1-1h0m4 4h0m4-5h0m6 1h0m4 1h0m1 0h0m6 1h0m6 2h0m1-3h0m0 2h0m1 1h0m3-5h0m2 4h0m3 1h0m4-3h0m1 1h0m1 2h0m0-1h0m1-2h0m3-2h0m1 1h0m5 1h0m0 0h0m1-2h0m4 5h0m7-2h0m0-2h0m7-1h0m0 0h0m3 3h0m0-3h0m2 3h0m3-3h0m1 5h0m0-1h0m1 1h0m1 0h0m6 0h0m5 0h0m4-1h0m0-2h0m1 0h0m2 3h0m2-4h0m5 1h0m4 1h0m0-1h0m0 3h0m0 0h0m2-2h0m1-1h0m5-1h0m1-1h0m6 5h0m7-1h0m2 0h0m3-1h0m10-3h0m9 0h0m5 3h0m2-3h0m6 4h0m6-3h0m1-1h0m6 3h0m2 1h0m2-1h0m2 2h0m5-3h0m0-2h0m2 2h0m0 2h0m3 0h0m11 1h0m1-1h0m3-3h0m3 0h0m51 1h0m1 2h0m1-2h0m5 3h0m0-3h0m2 0h0m5 3h0m16-5h0m5 0h0m3 2h0m5-2h0m1 4h0m1 1h0m1-3h0m-361 9h0m1 0h0m0 0h0m13-3h0m0 0h0m6-1h0m2 3h0m12-4h0m1 1h0m0 0h0m3-1h0m5 2h0m11 0h0m4-1h0m7-1h0m1 2h0m0 3h0m1-1h0m1-3h0m1 1h0m16 2h0m4 0h0m1 1h0m2-2h0m4-3h0m8 3h0m1-2h0m6 3h0m0-3h0m3 4h0m0-5h0m2 5h0m3-1h0m3 1h0m3 0h0m1 0h0m0-5h0m0 0h0m3 3h0m4-2h0m0-1h0m2 3h0m6 1h0m0 0h0m1-4h0m5 1h0m2 3h0m2 1h0m4-2h0m3 2h0m2-4h0m1 1h0m1-2h0m2 1h0m1 4h0m9-2h0m1-1h0m1-2h0m1 5h0m3-3h0m3-2h0m2 3h0m1 2h0m6 0h0m6-1h0m3-4h0m1 0h0m3 4h0m4-2h0m5-1h0m14 1h0m1-2h0m5 2h0m5 1h0m7-1h0m7 1h0m1 2h0m4-1h0m5 1h0m0-4h0m0-1h0m3 1h0m1 0h0m1-1h0m0 2h0m1 3h0m1-3h0m5 3h0m5-1h0m4-1h0m9 2h0m16-1h0m7-1h0m7 2h0m4-4h0m1 2h0m11 2h0m3-4h0m5 2h0m5-2h0m3 4h0m4-5h0m2 1h0m-373 8h0m4 2h0m0 0h0m2 0h0m4 0h0m10-2h0m0-1h0m4 1h0m3 1h0m8-2h0m3 0h0m3 3h0m4-4h0m2 0h0m1 4h0m1-3h0m2 0h0m2 1h0m1 1h0m10-4h0m14 1h0m7 1h0m6 1h0m3 1h0m4-3h0m4 1h0m1-2h0m1 1h0m8 2h0m3-2h0m5 3h0m3-2h0m8 0h0m2-2h0m0 4h0m0-3h0m2-1h0m8 4h0m2-3h0m7-1h0m2 0h0m10 2h0m2 1h0m1-2h0m0 1h0m1-2h0m1 5h0m0-1h0m4-2h0m7-2h0m3 0h0m2 5h0m3-1h0m0-3h0m4 1h0m1 0h0m1-2h0m16 3h0m4-3h0m1 4h0m1-2h0m10 3h0m0-2h0m9 1h0m7 0h0m0-1h0m2 2h0m4-2h0m4-1h0m2-2h0m1 4h0m1-2h0m10 0h0m5-2h0m3 3h0m1 0h0m1 0h0m2-1h0m1 3h0m5-3h0m4-1h0m0 4h0m2-5h0m3 4h0m4-3h0m1 0h0m5 4h0m2-1h0m1 0h0m6-1h0m1 0h0m3-3h0m1 0h0m7 2h0m0 1h0m9-3h0m1 3h0m0 1h0m0-3h0m3 1h0m8 0h0m5 1h0m1 1h0m0 1h0m0-2h0m3-1h0m1-2h0m1 3h0m8-3h0m3 1h0m3 0h0m0 0h0m4 0h0m1 1h0m1 1h0m-398 6h0m2 0h0m3 2h0m5-3h0m4 1h0m6-1h0m5-1h0m9 2h0m2 1h0m5 0h0m1-3h0m5 4h0m1-4h0m4 2h0m3 2h0m1-2h0m0-3h0m4 3h0m0 2h0m2 0h0m10-3h0m1 2h0m0 0h0m2 0h0m0-3h0m1-1h0m2 1h0m1 0h0m3 3h0m3 1h0m8-3h0m1-2h0m8 0h0m3 4h0m0-4h0m6 5h0m4-3h0m1-2h0m10 1h0m0 0h0m2 2h0m9-2h0m5 0h0m2 3h0m5 0h0m2-3h0m7 4h0m3-5h0m2 3h0m6-3h0m6 2h0m0 2h0m2-4h0m3 3h0m4-2h0m2-1h0m2 0h0m4 3h0m12 2h0m0 0h0m3-3h0m1 2h0m2-2h0m0 1h0m1-2h0m5 0h0m6 4h0m0-1h0m1 0h0m2-2h0m18 2h0m2 0h0m2-3h0m3-1h0m1 5h0m1 0h0m1-1h0m3 0h0m4-1h0m2 1h0m3 0h0m3 0h0m2 0h0m2-4h0m3 0h0m3 2h0m1-1h0m0 1h0m7 2h0m3-1h0m2 2h0m2-2h0m3 1h0m11-1h0m3-2h0m1 3h0m5 0h0m0-3h0m1 0h0m0 2h0m2 1h0m11-3h0m2 1h0m0-2h0m3 0h0m3 2h0m4-2h0m3 1h0m3 3h0m0-3h0m1-1h0m4 5h0m1-4h0m1 1h0m0 0h0m4 1h0m9-3h0m3 3h0m1-2h0m0 4h0m0-2h0m5-3h0m2 2h0m3 1h0m9-1h0m7 0h0m-406 5h0m5 1h0m4-2h0m5 2h0m2 0h0m3 2h0m2-2h0m6 3h0m10 0h0m7-5h0m4 5h0m0-4h0m2-1h0m2 5h0m1-3h0m3 1h0m2 2h0m2-3h0m2 1h0m0 2h0m4-3h0m0 2h0m9-3h0m7-1h0m0 0h0m6 5h0m10-5h0m8 2h0m1 2h0m1-3h0m2 3h0m3 1h0m2-3h0m6-2h0m1 3h0m1-1h0m7 3h0m2-2h0m1-3h0m0 0h0m4 5h0m0-2h0m0 0h0m5 2h0m9-1h0m7-3h0m2 0h0m9 3h0m3 0h0m0-3h0m5 2h0m4-1h0m0-1h0m12-1h0m0 4h0m5-1h0m2-2h0m5 3h0m0-1h0m0 0h0m3 1h0m1-4h0m0 2h0m5 0h0m1 3h0m1-3h0m2-1h0m4 4h0m1 0h0m1-3h0m0 3h0m8-2h0m2-2h0m4 0h0m3 4h0m8-2h0m4 1h0m3-4h0m0 3h0m4-2h0m2 3h0m5-2h0m10-1h0m4 4h0m7-5h0m1 3h0m7 0h0m7 0h0m1 1h0m1-3h0m1 4h0m9 0h0m3 0h0m1 0h0m0 0h0m2-2h0m0-3h0m2 3h0m3-3h0m3 5h0m3 0h0m4-4h0m2 1h0m2-1h0m2 1h0m3 2h0m4-1h0m1-1h0m2 1h0m5-2h0m6 0h0m5 3h0m7-4h0m3 2h0m0 0h0m4-2h0m5 0h0m1 2h0m8 0h0m1 3h0m1 0h0m-399 3h0m11-1h0m3 1h0m1-2h0m1 3h0m3 1h0m3-3h0m6 4h0m1 0h0m0-1h0m13 1h0m1-1h0m9-2h0m4 2h0m4-2h0m2-2h0m0 5h0m8-5h0m5 5h0m3-5h0m1 0h0m2 1h0m8 0h0m0 0h0m4 2h0m1 2h0m0-5h0m5 5h0m2-5h0m1 1h0m5 0h0m3 1h0m0 1h0m3-1h0m1 1h0m2-2h0m1 4h0m2-4h0m2-1h0m2 1h0m3 2h0m4 2h0m4 0h0m4 0h0m1 0h0m1-2h0m0-2h0m3 0h0m2-1h0m2 1h0m2 4h0m0 0h0m3 0h0m10 0h0m1-3h0m0 0h0m2 2h0m2-2h0m1 2h0m1-1h0m2 2h0m2-4h0m6 3h0m2 1h0m3 0h0m1-3h0m1 3h0m0-5h0m5 0h0m2 4h0m12-2h0m2-2h0m4 2h0m7-1h0m8 0h0m3 4h0m1-4h0m6 3h0m1-4h0m3 2h0m3-2h0m10 1h0m0 0h0m7 3h0m1 1h0m0-3h0m9 1h0m1 0h0m2 0h0m0-2h0m4 0h0m6 0h0m8 3h0m2 0h0m1-4h0m3 0h0m3 3h0m2-2h0m6 4h0m0-2h0m4-3h0m2 4h0m0-1h0m2-1h0m1 1h0m3-2h0m3 4h0m2-1h0m3-2h0m0 2h0m2-2h0m1-2h0m4 1h0m0 4h0m3-5h0m4 5h0m8-4h0m4-1h0m1 4h0m2-2h0m5-1h0m6 2h0m2 1h0m3 0h0m4 0h0m2-4h0m6 2h0m9-2h0m2 1h0m1-1h0m5 5h0m2-3h0m0-2h0m1 1h0m2 4h0m-408 6h0m1-2h0m0-3h0m2 3h0m1-2h0m0 0h0m2 2h0m8-2h0m0 2h0m8 0h0m2-3h0m4 3h0m4-2h0m0 2h0m3-2h0m0 3h0m1 1h0m11-4h0m6 2h0m6 2h0m4-3h0m2 1h0m1-3h0m7 3h0m0-1h0m1 0h0m0-1h0m1 1h0m2-2h0m1 5h0m1-4h0m5 0h0m7 0h0m12 0h0m2 0h0m0 1h0m6 3h0m5-3h0m0 2h0m8-4h0m6 0h0m2 2h0m0-1h0m6 1h0m1 2h0m2-3h0m0 0h0m5-1h0m7 2h0m1-2h0m5 2h0m1 3h0m4-1h0m3 0h0m4-1h0m4 1h0m2 0h0m1-1h0m2-2h0m2 0h0m1 2h0m11 0h0m5 1h0m4-2h0m7 3h0m3-2h0m0-3h0m5 3h0m5-3h0m1 4h0m4-1h0m10-3h0m2 3h0m1 2h0m1-3h0m1 2h0m7-2h0m0 3h0m3-5h0m3 5h0m7-3h0m5 2h0m0-1h0m5-2h0m3 0h0m1-1h0m7 0h0m1 4h0m1-4h0m2 3h0m4 2h0m1-3h0m0 0h0m1 2h0m0-2h0m1 1h0m1-3h0m4 2h0m5 0h0m3 3h0m3 0h0m1-4h0m5 1h0m1-2h0m2 2h0m5 2h0m0 0h0m1 1h0m4 0h0m1-3h0m2-2h0m1 5h0m1-5h0m2 4h0m1 1h0m0 0h0m0-1h0m2-3h0m0-1h0m0 5h0m1-2h0m4 1h0m1 1h0m7-3h0m1 3h0m1-2h0m1-1h0m1-2h0m1 1h0m1-1h0m0 2h0m2-1h0m4 0h0m4 1h0m0 1h0m2 0h0m9-1h0m3-1h0m4 4h0m1-2h0m1-3h0m2 5h0m5-2h0m1 2h0m2-5h0m1 4h0m1-1h0m3 2h0m-404 4h0m3-1h0m4-2h0m1 2h0m1-1h0m7 2h0m5-2h0m0 4h0m2-3h0m0-1h0m1 3h0m3 0h0m6 0h0m2-2h0m2 2h0m0-3h0m3-1h0m1 3h0m3 1h0m0-2h0m1 0h0m2 1h0m0-2h0m4 2h0m3 2h0m3-5h0m0 0h0m5 1h0m3 1h0m1 3h0m5-3h0m12 3h0m3-5h0m3 0h0m1 3h0m5-2h0m1-1h0m4 5h0m6-5h0m1 3h0m1-3h0m1 4h0m0 0h0m2 0h0m0-2h0m9 3h0m2-1h0m1-1h0m0 1h0m2-3h0m2 2h0m4 0h0m0 2h0m2 0h0m2 0h0m0-3h0m1 0h0m0-2h0m4 0h0m0 1h0m0 2h0m7 2h0m8-5h0m2 2h0m2 1h0m2-2h0m4 0h0m15 2h0m0-1h0m2 1h0m1 2h0m2-3h0m0-2h0m1 4h0m1 1h0m0-2h0m0-1h0m9 0h0m0 2h0m1-3h0m1 0h0m3-1h0m5 5h0m4-4h0m5-1h0m7 0h0m4 2h0m2 0h0m1 2h0m1 0h0m5 1h0m3-2h0m0 0h0m0 0h0m0 2h0m4-3h0m8 2h0m3-4h0m16 1h0m2-1h0m5 0h0m12 2h0m9-2h0m1 2h0m0 0h0m3-1h0m4 4h0m7-3h0m1-1h0m3 1h0m0-2h0m1 4h0m0 1h0m1-3h0m4 0h0m3 0h0m2 3h0m2-2h0m0-3h0m0 0h0m4 2h0m3 1h0m1 0h0m0 1h0m3-3h0m8 2h0m9 1h0m1-1h0m2-2h0m12 3h0m11 1h0m3-2h0m1-3h0m1 2h0m2 3h0m4-1h0m1 0h0m8 0h0m1 0h0m-406 3h0m1-1h0m0 2h0m3 0h0m5-1h0m2 1h0m2-1h0m2 0h0m6 2h0m3-2h0m0-1h0m8 1h0m1 2h0m1 1h0m2-4h0m2 0h0m4 5h0m1 0h0m6 0h0m3-1h0m2-4h0m0 1h0m7-1h0m2 3h0m7-3h0m0 2h0m1 0h0m1 0h0m6-2h0m1 4h0m0 0h0m10-1h0m8-3h0m3 4h0m2-4h0m3 0h0m13 2h0m1-1h0m9 2h0m2 1h0m8-2h0m1 1h0m3-3h0m1 2h0m7-2h0m4 2h0m1 0h0m3 3h0m1-5h0m4 4h0m0-1h0m2 1h0m0-3h0m2 1h0m0 2h0m3 1h0m3-5h0m5 3h0m1-3h0m3 2h0m6 3h0m2-1h0m2-2h0m2 2h0m3-2h0m5 2h0m0 1h0m8-3h0m0 2h0m7-1h0m0 2h0m1-1h0m2-2h0m2 2h0m0-4h0m4 2h0m1 0h0m1 2h0m7 1h0m5-3h0m4 1h0m1 1h0m2 0h0m2 0h0m1-1h0m3-2h0m3-1h0m8 1h0m0-1h0m8 0h0m1 4h0m2 1h0m2 0h0m0-1h0m1-2h0m1 3h0m3-1h0m0-2h0m0 2h0m2-3h0m1 0h0m1 2h0m2 2h0m0 0h0m2-1h0m3-1h0m8-1h0m2-1h0m5-1h0m2 0h0m1 5h0m0-4h0m0 2h0m4-3h0m2 2h0m6 0h0m2 2h0m2 0h0m4-4h0m1 2h0m2 2h0m10-1h0m1-1h0m6 2h0m9-3h0m1 2h0m2-3h0m0 5h0m1-4h0m0 2h0m1-3h0m8 4h0m5-4h0m6 0h0m3 4h0m0-4h0m0 5h0m2-4h0m1-1h0m4 0h0m7 1h0m1 0h0m-401 10h0m8-3h0m13 0h0m10 3h0m5-1h0m2-4h0m7 0h0m3 3h0m6-2h0m5 4h0m1-2h0m1 0h0m2 1h0m1-1h0m0 0h0m4 1h0m1-2h0m3-1h0m1 1h0m2 1h0m2-1h0m4-2h0m2 1h0m3 0h0m3 1h0m5 0h0m1 1h0m7 2h0m5-2h0m1 2h0m1 0h0m1-2h0m3 0h0m3 0h0m3 2h0m1-3h0m1 0h0m1 2h0m2-3h0m2 2h0m2-2h0m1 0h0m1-1h0m6 1h0m2 3h0m3 0h0m1-3h0m4 0h0m12 1h0m7 3h0m0-1h0m0-2h0m2 0h0m1 1h0m1 0h0m3-2h0m3 3h0m2-3h0m1 0h0m9 4h0m10-2h0m2-3h0m4 0h0m1 1h0m8 3h0m2-1h0m6 1h0m2-1h0m1 2h0m2-5h0m2 4h0m4-4h0m7 1h0m0 3h0m1-1h0m1 0h0m2 2h0m0-1h0m2-2h0m4 0h0m2 3h0m2 0h0m1-4h0m4 2h0m4 2h0m9-1h0m4-4h0m4 5h0m0-3h0m2 3h0m3-2h0m4-1h0m3 3h0m1-1h0m14-2h0m1 1h0m2-1h0m8 3h0m2 0h0m0-2h0m2 0h0m0-1h0m2 3h0m2-2h0m5 1h0m1 0h0m3-2h0m1-2h0m2 2h0m2 0h0m1 2h0m2 1h0m2-3h0m4-1h0m1-1h0m4 2h0m3 2h0m1 1h0m2-2h0m6 2h0m0-1h0m5 1h0m1 0h0m1-3h0m3 0h0m3 2h0m2-1h0m3 1h0m5 0h0m0-4h0m2 0h0m2 5h0m5-5h0m4 5h0m2-4h0m0 0h0m7 1h0m-408 6h0m1 1h0m2 0h0m6 2h0m2-1h0m3-4h0m0 5h0m4-2h0m3-1h0m1 1h0m0-3h0m12 1h0m1 3h0m2-2h0m0 1h0m1-3h0m3 1h0m0 4h0m2-4h0m4 4h0m2-5h0m0 2h0m1-1h0m1 2h0m0-1h0m7 2h0m4 0h0m7-4h0m5 0h0m4 1h0m0 3h0m0-3h0m3-1h0m1 1h0m1 0h0m9 2h0m4 2h0m2 0h0m1-1h0m1-1h0m4 2h0m2-3h0m2 2h0m5-3h0m3 2h0m8 0h0m7 1h0m0-2h0m3 3h0m1-5h0m4 5h0m0-3h0m7 0h0m1 1h0m0-2h0m4 2h0m1 0h0m2 0h0m1-1h0m5 1h0m0 2h0m2-2h0m2 0h0m1 2h0m16-3h0m0-1h0m7 4h0m8 0h0m6-3h0m3 1h0m1 1h0m2 0h0m1-4h0m3 5h0m1 0h0m11-3h0m1 0h0m0 1h0m1 0h0m11 1h0m1 0h0m7 0h0m0-1h0m4-1h0m4 2h0m2 1h0m2-3h0m2 1h0m1-1h0m3 3h0m4-1h0m1-3h0m6 3h0m0 0h0m2-4h0m2 0h0m4 3h0m1-2h0m3 4h0m1-3h0m1 2h0m1-4h0m8 4h0m1 0h0m3-4h0m4 2h0m0 1h0m2-3h0m2 5h0m0-4h0m1 3h0m8-1h0m2 0h0m2-3h0m4 3h0m5-3h0m2 5h0m12-3h0m2 3h0m0-3h0m7 0h0m1 2h0m3 1h0m3-1h0m3 1h0m7 0h0m6-1h0m1 1h0m1-4h0m3 2h0m6 2h0m0 0h0m2-3h0m1-1h0m3 1h0m1 2h0m2 1h0m2-4h0m4 1h0m0-2h0m4 3h0m0 0h0m2 2h0m0-3h0m-404 9h0m3-3h0m2-2h0m1 5h0m11-5h0m4 0h0m1 5h0m6-1h0m3-4h0m1 3h0m1-3h0m1 5h0m0-4h0m6 4h0m5-4h0m4 0h0m1 3h0m0-1h0m6 2h0m1-5h0m3 1h0m1 2h0m2 1h0m1 0h0m1-3h0m1 4h0m2-4h0m1 2h0m1 0h0m2 0h0m4-2h0m1 3h0m3-4h0m0 4h0m1-1h0m1 2h0m8-4h0m0 3h0m0 1h0m2-1h0m6-3h0m0 1h0m1 0h0m2 1h0m2 2h0m8-1h0m3 1h0m2 0h0m1 0h0m0-1h0m1-3h0m3 1h0m5-2h0m1 4h0m7 0h0m10 0h0m7 1h0m2-2h0m0-3h0m2 4h0m3-1h0m2-2h0m1 1h0m4-1h0m4-1h0m4 5h0m5 0h0m0 0h0m5-2h0m6-1h0m2-1h0m4 2h0m9-2h0m1 3h0m1-1h0m2-2h0m2-1h0m2 3h0m2 1h0m2-3h0m3 0h0m7 2h0m1-1h0m7-2h0m9 2h0m2 2h0m0-3h0m0 1h0m1 2h0m2 0h0m3-1h0m0 2h0m2-2h0m6-1h0m0 3h0m8-2h0m10 0h0m4 0h0m0-3h0m1 1h0m3 3h0m2 0h0m2-1h0m0-2h0m0 2h0m2 1h0m6 1h0m1-5h0m2 2h0m2 1h0m2-1h0m0 2h0m1-2h0m2-2h0m5 4h0m8-2h0m2-1h0m5-1h0m0 3h0m1-2h0m3 3h0m4-1h0m5 2h0m6-4h0m2 0h0m3 1h0m15 2h0m0 1h0m0-2h0m11 0h0m3-3h0m2 1h0m5 2h0m3-2h0m1 3h0m7-3h0m-404 9h0m3-3h0m10 2h0m6 2h0m3-2h0m15 2h0m2-4h0m0 0h0m2 3h0m0-1h0m1-3h0m1 0h0m3 1h0m2 1h0m3 1h0m3 2h0m0-2h0m1 2h0m3-3h0m2 2h0m1-1h0m8-1h0m0-1h0m2 2h0m1 0h0m1 1h0m1 1h0m0-1h0m3-4h0m2 4h0m6-3h0m7-1h0m1 4h0m1-3h0m1 3h0m0 0h0m1 0h0m0-2h0m3 3h0m13-4h0m2-1h0m2 0h0m2 3h0m3 2h0m6-1h0m3 0h0m4-1h0m7-2h0m1 0h0m4 2h0m1-3h0m0 5h0m5-1h0m2-2h0m4-2h0m1 0h0m0 1h0m1 1h0m2 1h0m7-3h0m1 1h0m3 3h0m8 1h0m2-2h0m6 1h0m0-4h0m2 4h0m0 1h0m2 0h0m3-2h0m4 0h0m9 2h0m2-5h0m0 5h0m1-2h0m3-1h0m1 0h0m0 0h0m4 1h0m4 1h0m3-1h0m2 0h0m3 0h0m4 1h0m2-2h0m1 0h0m1-1h0m3 2h0m1 2h0m5-2h0m1-2h0m4 3h0m5-4h0m3 3h0m1 0h0m1 1h0m3-4h0m3 3h0m2 1h0m2-1h0m3-1h0m2 0h0m10 3h0m0-5h0m4 1h0m2 3h0m0-3h0m1-1h0m0 2h0m4-2h0m6 1h0m7 0h0m2 2h0m1 0h0m1-2h0m1 2h0m7 0h0m2-2h0m8-1h0m1 2h0m8-1h0m2 1h0m0 0h0m2 1h0m0 2h0m1 0h0m2-1h0m5 0h0m2-4h0m1 5h0m6-4h0m5 4h0m4-5h0m2 0h0m3 4h0m18-1h0m0 2h0m1-3h0m1 3h0m9-5h0m-408 7h0m4 4h0m1-2h0m1-3h0m5 4h0m1-1h0m2 1h0m0-1h0m1 1h0m2-1h0m1 2h0m7-2h0m2 0h0m1 2h0m0-2h0m5-2h0m5-1h0m1 1h0m6 4h0m1-4h0m2 0h0m2 4h0m1 0h0m5-2h0m5 2h0m0 0h0m4-1h0m5-3h0m3 1h0m3 3h0m3 0h0m1-3h0m4-1h0m1 0h0m2 0h0m12 1h0m4 0h0m1-1h0m5-1h0m4 4h0m5-2h0m1 1h0m3-2h0m0 2h0m4 2h0m3-4h0m5 4h0m7 0h0m1-2h0m2 2h0m6-2h0m1-1h0m2-1h0m6-1h0m3 3h0m1 0h0m2 2h0m5-5h0m0 0h0m6 2h0m2 2h0m3 0h0m3 1h0m1-2h0m2-2h0m2 2h0m4 2h0m4-1h0m1 1h0m0-2h0m3-1h0m2-2h0m2 4h0m3 0h0m5 1h0m2-5h0m1 4h0m4 1h0m0-5h0m0 1h0m3 2h0m4-3h0m1 1h0m2 3h0m1 1h0m2-4h0m12 1h0m8-2h0m3 2h0m2 1h0m2-3h0m2 3h0m1 0h0m3 2h0m4-4h0m1 0h0m2 4h0m0-4h0m2-1h0m5 1h0m0 4h0m4 0h0m3-5h0m3 5h0m2-1h0m0 0h0m1-1h0m10 1h0m1-4h0m1 2h0m1 3h0m4-1h0m3 0h0m7 1h0m2 0h0m0-2h0m2 0h0m2 1h0m0 1h0m6-3h0m2-1h0m1 3h0m4-3h0m0-1h0m1 2h0m2 1h0m14-2h0m0 2h0m4 2h0m4 0h0m0-3h0m1-1h0m1 0h0m1 2h0m6 2h0m2-2h0m3-3h0m4 5h0m12-4h0m2 4h0m3-1h0m1 1h0m1-3h0m2 0h0m7-2h0m-400 9h0m8-3h0m4 1h0m2 1h0m2 1h0m2 2h0m4-1h0m4 1h0m7 0h0m1-1h0m5-2h0m7-1h0m1-1h0m4 4h0m4-1h0m3 1h0m4-2h0m0 0h0m2 1h0m1-3h0m2 0h0m5 0h0m1 3h0m1 0h0m1-3h0m0 4h0m4-1h0m8 2h0m4-3h0m6-1h0m4 2h0m7 2h0m8-3h0m2 2h0m4 1h0m1-3h0m3-1h0m7 0h0m11 4h0m3-2h0m1 1h0m0 0h0m1-1h0m2 2h0m1-1h0m3-4h0m9 2h0m1-2h0m4 4h0m0-1h0m2 0h0m0-1h0m3 1h0m1 1h0m2-4h0m3 3h0m10-2h0m4 1h0m1 2h0m6-2h0m2 0h0m2-2h0m2 4h0m2-2h0m1 3h0m2-2h0m0 0h0m1-1h0m2 1h0m2-2h0m0-1h0m2 0h0m3 4h0m0 0h0m2-1h0m0 0h0m0 2h0m3-5h0m2 5h0m6-2h0m2 0h0m1 0h0m1-2h0m0-1h0m0 5h0m9-5h0m1 5h0m0-4h0m2 0h0m6 2h0m2 2h0m4-5h0m13 4h0m2-2h0m1 3h0m1-5h0m1 2h0m0 2h0m3-4h0m6 1h0m2 3h0m6-2h0m0 0h0m1 1h0m2-2h0m2 4h0m1-1h0m4-4h0m2 0h0m6 1h0m1 2h0m2 0h0m0-3h0m1 3h0m2-2h0m1 3h0m3 1h0m2 0h0m0-3h0m1 1h0m1 0h0m0 2h0m4 0h0m4-4h0m5 1h0m1 3h0m6-4h0m0-1h0m3 4h0m1-4h0m1 3h0m10-3h0m5 0h0m2 0h0m0 2h0m3 1h0m4 0h0m0-2h0m5 2h0m1-3h0m0 4h0m4 1h0m0-3h0m1-2h0m1 2h0m5 3h0m2-1h0m-409 3h0m2 1h0m3-2h0m0 3h0m4 1h0m0-1h0m7 1h0m2 1h0m3-1h0m4-2h0m0 0h0m4 3h0m4-2h0m11-3h0m7 0h0m1 4h0m3-4h0m1 0h0m1 2h0m1 1h0m1 1h0m2 0h0m0-3h0m4 0h0m1 1h0m1-2h0m0 2h0m6-2h0m0 5h0m0-3h0m2-1h0m2 3h0m3 0h0m2 1h0m5-2h0m7 1h0m3-4h0m9 5h0m3-5h0m2 3h0m2-3h0m2 2h0m2-1h0m3 1h0m4 2h0m1-3h0m1 3h0m3-4h0m1 3h0m1-2h0m3 2h0m2 2h0m2-1h0m6-2h0m0-2h0m1 0h0m2 0h0m1 4h0m0-4h0m2 2h0m10 3h0m0-3h0m8 2h0m3-3h0m1 2h0m1-1h0m1-2h0m9 5h0m1-3h0m1 2h0m2-2h0m0 0h0m6 1h0m4-2h0m1 4h0m3 0h0m3-4h0m0 0h0m3 2h0m1-1h0m1 1h0m2-2h0m4 4h0m1-4h0m3 4h0m4-4h0m0 1h0m5 3h0m3-5h0m1 3h0m4-3h0m3 5h0m2-1h0m9-3h0m0 0h0m7 3h0m2-1h0m2 1h0m3-3h0m3 1h0m12 2h0m5-4h0m2 2h0m1 3h0m3-2h0m3 0h0m2 1h0m2 1h0m2-1h0m0-3h0m1-1h0m1 4h0m7-3h0m1 2h0m2 2h0m0-5h0m1 4h0m7-2h0m1 1h0m2-2h0m4 4h0m1-1h0m4 0h0m10 0h0m1 1h0m11-5h0m2 1h0m3 4h0m2-2h0m0-3h0m2 1h0m4 2h0m3 2h0m4-4h0m2 1h0m6 1h0m2-1h0m2 0h0m2 0h0m4 2h0m2-3h0m2 1h0m1-2h0m2 3h0m1 2h0m8 0h0m2-2h0m-408 4h0m1-1h0m2 1h0m1 0h0m10 2h0m3-2h0m3 1h0m0 1h0m1-1h0m1 1h0m4 2h0m0-1h0m1-3h0m0 4h0m1 0h0m2-2h0m6 2h0m0-2h0m0 1h0m3-3h0m1-1h0m1 2h0m1 1h0m1-1h0m9-2h0m1 0h0m3 2h0m3 0h0m3 3h0m1-5h0m7 5h0m8-3h0m4-1h0m3 3h0m0-2h0m5 3h0m2 0h0m4-5h0m7 0h0m2 2h0m7 1h0m0-1h0m5 2h0m3 1h0m4-2h0m4 1h0m6-3h0m4 1h0m3 1h0m3-2h0m2 3h0m1-4h0m2 2h0m3-1h0m12 3h0m1 0h0m0 1h0m4-2h0m11 0h0m3 0h0m1-3h0m0 1h0m5-1h0m0 0h0m2 4h0m4-2h0m9 2h0m1 1h0m0 0h0m1-5h0m1 3h0m4-1h0m2 1h0m3 1h0m8 1h0m0-2h0m6-2h0m1 2h0m1-1h0m4 2h0m5-1h0m3-2h0m2-1h0m1 2h0m4 2h0m4-4h0m0 4h0m7 0h0m4-4h0m0 5h0m3-2h0m3-2h0m2 0h0m2-1h0m4 5h0m0-3h0m3 1h0m4 1h0m3-1h0m10-1h0m3 0h0m0 3h0m5-4h0m7 4h0m1 0h0m3-4h0m1 1h0m0 1h0m1-2h0m2 4h0m0-2h0m1-2h0m0 2h0m2 2h0m2-3h0m0 0h0m1-2h0m8 2h0m2 3h0m6 0h0m3-5h0m1 3h0m2 0h0m0-3h0m8 5h0m4-3h0m2 0h0m1 0h0m3 3h0m1-5h0m4 3h0m2-2h0m5 4h0m3-3h0m2 0h0m0 3h0m2-3h0m4 2h0m5-2h0m1-1h0m4 0h0m1 1h0m-402 7h0m0-1h0m2-2h0m6 1h0m3 2h0m0-2h0m6 1h0m1 3h0m6-1h0m1-2h0m0 0h0m1-2h0m1 2h0m1 0h0m2-2h0m3 5h0m3-3h0m0-1h0m1 2h0m1 1h0m2 0h0m0-4h0m2 2h0m2 1h0m2-2h0m6-1h0m0 4h0m1-3h0m0 0h0m0 3h0m1-4h0m4 2h0m0-1h0m0 0h0m0 2h0m1 2h0m1 0h0m4 0h0m3-1h0m0 0h0m0 1h0m0 0h0m8 0h0m2-1h0m1-4h0m10 3h0m6-3h0m2 2h0m3 0h0m5-1h0m4-1h0m2 1h0m3 4h0m2-2h0m1 0h0m3 0h0m4-1h0m1-1h0m1-1h0m1 3h0m3 0h0m3 1h0m4 0h0m1 0h0m1-4h0m0 4h0m4 1h0m2-5h0m1 4h0m4-3h0m1-1h0m3 2h0m1 3h0m1-1h0m3-3h0m2 2h0m4-2h0m6-1h0m1 0h0m3 1h0m3 1h0m7 3h0m0-2h0m1-2h0m7 0h0m0 4h0m5-2h0m8 0h0m1 1h0m2-2h0m2-2h0m3 3h0m9 0h0m3 2h0m1-2h0m8 1h0m2 1h0m0-4h0m3 0h0m6 2h0m9 2h0m3-2h0m2-3h0m12 2h0m7 2h0m2-1h0m5 0h0m1 0h0m1-1h0m0 1h0m5-2h0m1 1h0m8 2h0m0-1h0m8-2h0m1 4h0m0-5h0m10 0h0m0 5h0m5-1h0m2-1h0m2 0h0m6 1h0m0-2h0m0 1h0m1 0h0m1 2h0m11-3h0m2-1h0m0-1h0m6 2h0m5 3h0m2-3h0m5-2h0m3 5h0m1 0h0m2-2h0m2 2h0m0-3h0m3 1h0m2 0h0m2 0h0m5 1h0m2 0h0m9 0h0m1-3h0m1 2h0m1-1h0m3-2h0m0 5h0m1-3h0m-406 8h0m4-1h0m11-2h0m7 0h0m6 3h0m0-4h0m5 4h0m3 0h0m0 0h0m1 0h0m2 0h0m3-3h0m2 4h0m0-1h0m7-4h0m8 5h0m0 0h0m5-5h0m3 5h0m0-5h0m3 4h0m5-2h0m3 1h0m4 0h0m17-1h0m4 1h0m2 2h0m7-1h0m1-2h0m1 2h0m13-3h0m5 4h0m0-4h0m3 4h0m8-2h0m1-1h0m2-1h0m1-1h0m1 0h0m0 2h0m5-1h0m4 0h0m5 3h0m2-4h0m0 2h0m3 2h0m4 1h0m2-4h0m19 4h0m2-3h0m0-2h0m3 5h0m17-5h0m2 4h0m1-2h0m4 3h0m2-2h0m0-2h0m2 3h0m2-4h0m1 0h0m2 3h0m4 0h0m2-2h0m3 4h0m8-1h0m3-2h0m2 0h0m4 1h0m5 1h0m8-1h0m4-1h0m1-2h0m2 5h0m5-1h0m4-3h0m5 3h0m2-2h0m2 1h0m1 2h0m4 0h0m1-4h0m0 3h0m10 0h0m4-4h0m0 5h0m4 0h0m0-1h0m3-2h0m1 3h0m2-2h0m5-3h0m2 2h0m0 0h0m2 2h0m2-2h0m8 0h0m2 3h0m0-2h0m2-3h0m3 1h0m1-1h0m2 2h0m0 1h0m1-1h0m0-1h0m4 0h0m4 2h0m1 0h0m1-2h0m2 0h0m0 3h0m2 0h0m4-4h0m8 1h0m3 2h0m0 0h0m5 0h0m1-3h0m2 0h0m4 5h0m2 0h0m2-3h0m5 0h0m-403 4h0m8 0h0m7 3h0m4 1h0m5-3h0m5 0h0m6 0h0m10-1h0m1 0h0m2 1h0m4-1h0m3 3h0m4-3h0m27 3h0m12-3h0m1 0h0m20 4h0m1-3h0m16 4h0m5-5h0m23 1h0m1 0h0m12-1h0m0 0h0m4 2h0m4-1h0m3 0h0m5 1h0m0 3h0m2-5h0m3 5h0m2-5h0m17 5h0m13-3h0m12-1h0m5 1h0m4-1h0m12-1h0m11 1h0m4 0h0m10 0h0m7 4h0m4-1h0m4 0h0m14-4h0m1 1h0m4 3h0m1-3h0m10-1h0m17 0h0m10 3h0m3-3h0m15 0h0m4 1h0m0 2h0m1-3h0m3 0h0m4 5h0m7-4h0m2 1h0m6-1h0m1 4h0m1-5h0m-401 11h0m3-5h0m11 0h0m4 2h0m24-2h0m10 2h0m1 3h0m36-2h0m4 1h0m12-1h0m17-2h0m13 0h0m1 2h0m10 2h0m10 0h0m2-3h0m4-2h0m14 0h0m17 2h0m0 1h0m4-1h0m13 0h0m10-1h0m3-1h0m3 2h0m16 1h0m2 2h0m19-2h0m10 2h0m10-1h0m1-2h0m0-2h0m23 2h0m10 3h0m13-5h0m12 3h0m9-2h0m25 4h0m9 0h0m-393 5h0m2-2h0m4 3h0m3-3h0m29-2h0m18 3h0m15-3h0m0 4h0m3-4h0m5 4h0m17-2h0m2 3h0m2-2h0m37 2h0m6 0h0m9 0h0m3-1h0m1 1h0m35-3h0m32 0h0m5 0h0m8 0h0m12 2h0m12-2h0m8 3h0m9-4h0m8 3h0m1-2h0m2 0h0m15 1h0m25-3h0m19 4h0m12-1h0m21 0h0m20-2h0m1 3h0m-401 4h0m32-2h0m2 2h0m4 2h0m3-2h0m3-2h0m9 3h0m28-1h0m17 3h0m9-2h0m12 0h0m45 2h0m7-3h0m11-1h0m10 1h0m10 3h0m9 0h0m7-2h0m3-2h0m7 2h0m10 2h0m16-1h0m10-2h0m4-2h0m96 4h0m5 1h0m5-4h0m9 2h0m6-1h0m11 1h0m-396 8h0m3-5h0m21 4h0m37 1h0m6-4h0m7 1h0m12 0h0m2 3h0m12-3h0m9-1h0m2 4h0m1 0h0m51-2h0m3-3h0m9 4h0m17-3h0m5 2h0m16-2h0m35 4h0m12-1h0m5 1h0m5-3h0m5 0h0m8 3h0m25-1h0m11-2h0m7-1h0m11 1h0m0-2h0m43 0h0m4 1h0m0 4h0m13-2h0m2 0h0m-389 4h0m4 4h0m30-4h0m17 1h0m10-1h0m21 2h0m8-3h0m11 4h0m3-1h0m5-1h0m4 3h0m4 0h0m52-4h0m6 2h0m5-3h0m1 2h0m18-1h0m2 2h0m8-2h0m7 3h0m17-1h0m6-2h0m5-1h0m11 0h0m3 3h0m1 2h0m9 0h0m3-3h0m1 1h0m2-3h0m6 4h0m1 1h0m29 0h0m1-3h0m34-2h0m4 3h0m15 2h0m5-1h0m4-1h0m11-2h0m-386 5h0m2 1h0m4 0h0m11-1h0m5 0h0m15 3h0m34 0h0m10 1h0m7-3h0m4 2h0m1-3h0m2 1h0m36 2h0m3-3h0m16 4h0m8 0h0m20-4h0m13 5h0m4-1h0m6-3h0m6 0h0m18 3h0m9 0h0m10 0h0m10 1h0m16 0h0m10-3h0m3 0h0m5 1h0m5-3h0m25 4h0m6 1h0m32-4h0m15 1h0m21-1h0m-404 9h0m22 0h0m1 0h0m4 0h0m12 0h0m0-3h0m44 1h0m3-2h0m3 5h0m14-1h0m4-1h0m5 0h0m31-3h0m5 0h0m4 1h0m7 0h0m10-1h0m25 4h0m0-4h0m22 0h0m21 5h0m43 0h0m5-4h0m46 1h0m3 3h0m21-1h0m16-3h0m6 2h0m7 2h0m8-4h0m13 0h0m-405 7h0m4 2h0m0-1h0m1 2h0m10 0h0m2-2h0m29-1h0m1-1h0m25-1h0m9 2h0m7-1h0m5 3h0m1-2h0m20-2h0m4 2h0m10 3h0m7-2h0m2 2h0m0-3h0m3 0h0m6 3h0m6-3h0m5 3h0m6-2h0m2-2h0m14 2h0m1-2h0m8 4h0m1-3h0m18-1h0m15 4h0m1-3h0m23 0h0m10 1h0m19 2h0m3-3h0m4 0h0m41 2h0m6-3h0m1-1h0m2 1h0m11-1h0m18 0h0m2 4h0m0-2h0m8 0h0m7 0h0m4 3h0m11-3h0m7-1h0m-399 7h0m11-2h0m6 4h0m26-1h0m1-3h0m4 5h0m6-3h0m2 2h0m6-2h0m3 2h0m13-4h0m16 4h0m16-1h0m10-1h0m24 3h0m8-3h0m3-1h0m1 3h0m2-3h0m1-1h0m6 4h0m25-1h0m4 2h0m1 0h0m10 0h0m16-2h0m7-2h0m12 0h0m4-1h0m7 0h0m34 5h0m18 0h0m3-5h0m6 3h0m26-3h0m9 0h0m0 1h0m7-1h0m20 5h0m11 0h0m1-5h0m14 4h0m-394 5h0m8 0h0m20 0h0m7 1h0m6-4h0m9 1h0m1 1h0m4 2h0m40-1h0m5 0h0m12-3h0m21 5h0m4-5h0m4 2h0m11-1h0m15 1h0m13 2h0m9-3h0m15-1h0m13 0h0m5 1h0m1 2h0m2 1h0m2 1h0m2 0h0m3-5h0m2 2h0m26 1h0m52 2h0m12 0h0m6-3h0m4 0h0m21 1h0m16 0h0m-357 5h0m3 0h0m5 2h0m34-1h0m3-3h0m6 0h0m8 1h0m2 0h0m4 3h0m33 1h0m2-4h0m14 4h0m1-1h0m5-4h0m11 3h0m6-3h0m7 5h0m5-1h0m10 1h0m18-3h0m11 3h0m76-3h0m10-2h0m1 3h0m1 1h0m13 0h0m8-1h0m22 0h0m10 0h0m0-2h0m28 1h0m11 3h0m10 0h0m4-2h0m-381 6h0m18-3h0m25 0h0m0 2h0m15 0h0m23 2h0m7-1h0m7-3h0m1 4h0m7 0h0m2 1h0m14-5h0m12 0h0m29 1h0m25 2h0m12-2h0m10-1h0m8 4h0m39-4h0m4 4h0m47 0h0m15 1h0m4-2h0m1-3h0m11 5h0m5-1h0m2-2h0m22 0h0m13 2h0m-399 4h0m13 3h0m1-3h0m8 3h0m7-3h0m8 2h0m20 0h0m8-4h0m3 0h0m11 4h0m14-4h0m2 5h0m14-3h0m10 0h0m6 2h0m3 1h0m5-1h0m0-3h0m21-1h0m8 3h0m13 1h0m2-2h0m3 0h0m2-2h0m8 2h0m10 3h0m0-1h0m7-1h0m6 2h0m3-2h0m12-2h0m7 2h0m7-2h0m6 0h0m4 2h0m8-3h0m8 5h0m9-5h0m36 5h0m1-1h0m56-1h0m3 0h0m1 1h0m-374 6h0m18-4h0m10 5h0m47-2h0m18 2h0m21-5h0m16 1h0m2 0h0m22 3h0m15-1h0m1-1h0m1 2h0m0-4h0m6 2h0m5-2h0m11 3h0m8 0h0m0 0h0m20 1h0m3 1h0m8-3h0m31-1h0m11 0h0m1 4h0m2 0h0m7-5h0m0 1h0m6 1h0m7 0h0m16 3h0m52-5h0m1 5h0m12-1h0m13-2h0m4 2h0m6 0h0m1 1h0m-400 4h0m26 0h0m8-3h0m8 3h0m31-1h0m1-1h0m1 1h0m3-1h0m16 0h0m46 2h0m17-3h0m7 1h0m8-1h0m9 0h0m52 1h0m33 0h0m11 1h0m6 0h0m54-2h0m29 1h0m10-1h0m18 1h0m1 0h0" stroke="#7c62a8" stroke-width="2.7" stroke-linecap="round" fill="none"/>
<path d="M1708 1214h0m187 99h0m-68 40h0m-31 49h0m-159 13h0m333 4h0m-285 32h0" stroke="#2a2a2a" stroke-width="3.4" stroke-linecap="round" fill="none"/>
</g>
<path d="M1595 1464.7h12.6" stroke="#000" stroke-width="1.4"/>
<text x="1792.3" y="1489.5" font-size="19.3" text-anchor="middle" font-weight="bold">H&amp;E</text>
<g transform="translate(1 1551) scale(0.5)" stroke="#8c8c8c" stroke-width="1.4" stroke-linejoin="round">
<path fill="#8a2be2" d="M503 498l-23 2 0-19 12-6 12 16zM504 491l-12-16 3-9 10-4 14 15zM528 501l-23 0-2-3 1-7 15-14 15 16zM534 493l-15-16 14-13 10 3 1 23zM531 438l13-1 7 24-8 6-10-3-7-11zM519 428l15-17 8 0 6 23-4 3-13 1zM519 428l-14 16 3 11 18-2 5-15zM548 492l17-4-1-26-13-1-8 6 1 23zM543 518l9-9-4-17-4-2-10 3-6 8 3 15zM564 432l4 27-2 2-2 1-13-1-7-24 4-3zM470 460l2 16 8 5 12-6 3-9-13-10zM592 441l0-1-26-10-2 2 4 27 24-13zM519 428l-16-13 9-17 9-4 13 17zM492 533l-3-8 16-14 16 17-1 8-12 6zM575 513l-6 2-17-6-4-17 17-4 13 7zM544 410l-2 1 6 23 16-2 2-2 5-18-1-1zM472 431l12 0 3 6-5 19-12 4-10-5 1-17zM575 513l3-18 8-4 16 2 2 18-17 13zM482 456l13 10 10-4 3-7-3-11-18-7zM575 513l-6 2-12 20 18 9 14-13-2-7zM443 430l-7 2-6 11 5 13 10 7 15-8 1-17zM521 394l13 17 8 0 2-1 5-24-5-4-21 7zM446 479l7 8 0 2-19 20-2-1-13-22zM543 518l8 18 1 0 5-1 12-20-17-6zM592 446l-24 13-2 2 20 11 15-10zM455 410l-8-10-23 12 12 20 7-2zM526 453l7 11-14 13-14-15 3-7zM531 516l-10 12-16-17 0-10 23 0zM483 561l16-1 3 19-18 8-7-7zM477 580l7 7 2 13-14 8-12-7-3-16 3-3zM415 552l11-17 16 1 4 17-13 9-13-1zM456 557l-10-4-13 9 9 23 15 0 3-3zM411 550l-9-17 15-12 9 14-11 17zM431 594l11-9-9-23-13-1-9 16 16 17zM445 615l-14-21 11-9 15 0 3 16zM445 617l0-2-14-21-4 0-15 19 2 4 24 7zM581 592l17-10 2-10-4-6-4-1-22 11-2 5 1 3zM592 565l-17-15-10 9 5 17zM411 550l-9-17-12-3-10 15 2 7 5 4zM655 541l-21 1-2 10 15 13 10-1 5-7-1-11zM438 624l-24-7-5 17 16 13 4 0 9-9zM352 506l17 5 2 5-12 20-5 2-15-12zM677 528l0 6-16 12-6-5 0-18 13-4zM389 526l9-21 3 0 16 13 0 3-15 12-12-3zM411 550l-24 6 3 11 20 10 1 0 9-16-5-9zM341 371l17-5 1 0 8 13-2 11-14 10-4 1-11-20zM427 594l-16-17-1 0-14 18 0 11 16 7zM410 577l-14 18-15-14 9-14zM380 545l2 7-15 11-17-4 4-21 5-2zM655 541l-21 1-3-6 7-18 6-2 11 7zM653 594l-18-12 12-17 10-1 8 21zM387 556l-5-4-15 11 4 19 1 0 9-1 9-14zM396 606l0-11-15-14-9 1-1 23 20 4zM390 431l-21-6 0-7 16-16 5 0 4 4zM314 393l4-11 18-1 11 20-8 9-9 1zM389 526l-18-10-12 20 21 9 10-15zM371 582l-20 1-2 2 2 22 14 1 6-3 1-23zM392 477l18 12-9 16-3 0-18-8 0-1zM665 585l-8-21 5-7 20 3 4 16-11 11zM318 422l12-11 9-1 8 22-3 5-18 5zM328 579l4-18 16-1 3 23-2 2-18-1zM464 696l9-1 14 14-1 9-16 8-9-14zM371 582l-20 1-3-23 2-1 17 4zM661 546l1 11 20 3 11-12-16-14zM391 609l-20-4-6 3 4 23 16-5zM695 493l15 8 1 5-8 15-1 0-9-3-9-17zM365 608l-14-1-9 6 0 1 1 8 21 17 5-8zM700 549l11 22-6 9-19-4-4-16 11-12 5-1zM312 580l16-1 3 5-4 13-12 3-7-13zM461 712l9 14-18 11-5-1-5-9 3-8zM294 563l-1-1 2-25 9-4 17 11 1 9-17 11zM293 562l2-25-19-5-7 6 0 1 3 19zM702 521l-9-3-16 10 0 6 16 14 5-1zM767 450l6 17 7 1 15-12-17-13zM276 532l19 5 9-4 3-20-5-5-25 9zM775 496l15-6 0-4-10-18-7-1-13 13zM721 530l-18-9-1 0-4 26 2 2 21-6zM331 584l18 1 2 22-9 6-15-16zM400 665l-8-11 5-13 12-7 16 13-20 18zM711 595l23-3-2-21-5-4-16 4-6 9 3 14zM303 399l-12-5-1-15 9-10 9-1 10 14-4 11zM364 641l0-2-21-17-8 15 11 14 5 1zM247 597l21-1 4-15-9-11-10 0zM795 456l-15 12 10 18 16-17-10-13zM271 509l6 8 25-9-3-10-14-11-8 5zM731 641l8-3-8-22-10 0-7 8 4 12zM284 342l-3 8 18 19 9-1 1-3-1-23zM705 660l-9 11-13 2-10-7 4-22 16-2 9 9zM247 597l3 15 19 8 6-16-7-8zM829 492l-8-6-23 10 4 15 2 1 21-2 5-15zM461 752l-9-15 18-11 9 20-1 3zM830 495l-5 15 8 13 17-4 4-17zM278 402l13-8-1-15-15-3-9 10zM542 825l-34-14 8-18 17-3 15 21zM711 595l23-3 2 2 1 16-6 6-10 0zM731 641l-8 24-18-5-3-9 16-15zM825 461l-9 10 5 15 8 6 17-16-2-11zM620 789l-7-5-4-1-15 10-6 15 6 12 21 1 8-11zM263 570l9-12-3-19-24 10 0 16 8 5zM281 350l-12 8 6 18 15 3 9-10zM731 641l8-3 1 0 9 9 1 20-5 3-20-3-2-2zM864 532l0-3 11-16 19 6-10 17zM882 489l0 3-10 12-15-4 1-17 11-6zM216 588l11 2 5 6-7 15-16 3-10-12 1-5zM711 780l-7-10-18 2-5 6 1 12 25 5zM210 568l6 20 11 2 7-22-11-6zM253 488l-2 8 6 12 14 1 6-17-19-6zM764 684l-10-15-4-2-5 3-5 22 3 4 17 0zM251 496l-20 5 2 17 9 5 6-1 9-14zM222 545l17-2 3-20-9-5-16 7 1 16zM252 386l14 0 9-10-6-18-7-1-13 20 0 8zM248 522l21 16 0 1-24 10-6-6 3-20zM202 514l2 4 13 7 16-7-2-17-8-8-16 9zM253 488l-15-13-15 18 8 8 20-5zM210 568l13-6-1-17-4-4-23 10 8 15zM207 502l16-9-10-19-12-1-4 16zM248 685l-9 7-1 0-15-17 3-13 17 1 7 12zM899 471l-17 18-13-12 3-16 1 0 26 9zM864 532l20 4 5 12-18 11-10-19zM201 731l20-3 6-13-3-10-14-4-12 6-3 6zM889 548l20-6 2-9-16-14-1 0-10 17zM704 747l17-14 6 5 4 21-22 0zM210 568l6 20-16 9-9-17 12-14zM727 777l5-17-1-1-22 0-5 11 7 10zM951 601l-9 11-19-8 1-22 16-1zM854 502l-4 17 14 10 11-16-3-9-15-4zM899 470l5-24-4-3-21 6-6 12zM924 581l-24 7 2 15 15 5 6-4 1-22zM767 762l-10 12 13 18 14-13 1-7zM851 693l9-4-1-22-15-6-4 4 2 24zM956 601l19 14 2-5 0-19-8-5zM197 674l-2-16 9-6 21 8 1 2-3 13-14 6zM800 713l3-16-15-14-10 22 18 10zM876 662l8 12 0 2-18 14-6-1-1-22 14-6zM909 662l-1 2-24 10-8-12 14-14 16 8zM851 693l-1 14-14 12-11-9 0-17 17-4zM886 703l-11-1-9-12 18-14 9 13zM831 731l-15 4-7-18 16-7 11 9 0 4zM937 668l-5-11-23 5-1 2 8 20 10 1zM975 615l1 2 1 1 0-8zM941 698l-2 10-13 10-14-4-1-2 0-22 5-6 10 1zM966 637l-16 9 9 17 10-2 8-10 0-1zM956 601l19 14 1 2-10 11-23-7-1-9 9-11zM893 689l-9-13 0-2 24-10 8 20-5 6zM976 617l-10 11 0 9 11 13 0-32zM811 753l25 4 2-6-7-20-15 4-6 8zM838 762l-2-5 2-6 17-10 11 7-2 15zM969 661l8 16 0-26zM101 866l-6 1 9 2zM836 723l0-4 14-12 15 13-11 12zM101 866l8-32-28-31-4-2-52 32 6 17 64 17zM17 827l-8 0 7 19 15 4-6-17zM851 693l9-4 6 1 9 12-9 18-1 0-15-13zM892 711l19 1 0-22-18-1-7 14zM864 763l2-15 8-4 16 8 3 11-6 7-21-3zM969 661l-10 2-7 9 4 17 21-10 0-2zM918 745l11-12-3-15-14-4-11 22zM956 689l-4-17-15-4-11 17 15 13zM956 689l16 16 6-1-1-25zM956 689l-15 9-2 10 20 16 4-2 9-17zM884 726l8-15 19 1 1 2-11 22-2 1zM134 50l21 6 5-3 2-14-6-5-24 13zM918 745l11-12 14 6-3 18-9 4-12-8zM110 69l18 1 6-20-2-3-27 16zM155 56l-21-6-6 20 8 11 6 2 10-7zM873 899l-2-16-8-7-16 9 0 11 9 8 13 1zM969 756l9 5 0-18zM68 85l19-2 2-11-22 12zM831 731l7 20 17-10-1-9-18-9zM873 899l22-2 2 18-9 5-14-4-5-11zM890 877l4-11 8 0 11 8 2 16-1 1-18 4zM940 897l-8-9-17 2-1 1 5 16 11 4 3-1 7-6zM960 885l-20 12 0 7zM960 884l0 1 5-4 0-1zM895 897l1-2 18-4 5 16-13 12-9-4zM930 911l-11-4-13 12 4 9 12-8 8-7zM940 897l20-12 0-1-21-16-7 20zM887 937l6 3 17-12-4-9-9-4-9 5zM869 952l3 2 21-14-6-3-16 7zM930 911l0 2 3-3z"/>
<path fill="#ffd700" d="M480 481l-8-5-19 11 0 2 11 11 16 1 0-1zM482 521l-2-20-16-1-7 23 7 4zM489 525l16-14 0-10-2-3-23 2 0 1 2 20zM484 431l3 6 18 7 14-16-16-13-11 2zM543 518l8 18-22 6-9-6 1-8 10-12zM578 495l-13-7-1-26 2-1 20 11 0 19zM476 402l-10-20 11-8 15 0 3 11-13 18zM460 455l-15 8 1 16 7 8 19-11-2-16zM482 403l13-18 17 13-9 17-11 2zM475 551l17-18-3-8-7-4-18 6 7 23zM549 386l-5 24 26 1-9-23zM592 417l0 23-26-10 5-18 13-4zM574 373l-18-11-12 6 0 14 5 4 12 2 13-11zM614 434l-2-17-20 0 0 23 0 1zM461 411l15-9-10-20-3 0-15 16-1 2 8 10zM508 542l12-6 9 6 4 17-9 9-20-12zM463 350l-13 19 13 13 3 0 11-8-9-23zM552 536l1 21-8 5-12-3-4-17 22-6zM580 363l-6 10 0 4 18 13 7-10-1-19zM475 551l17-18 16 9-4 14-5 4-16 1zM587 524l2 7 14 10 12-8-1-18-10-4zM614 414l-2 3-20 0-8-9 8-15 19 7zM616 435l4 14-10 14-4 1-5-2-9-16 0-5 22-7zM627 343l-7 19-19-6-2-18 2-3 21 2zM523 389l21-7 0-14-10-8-19 9zM522 582l14 9 13-15-4-14-12-3-9 9zM601 462l-15 10 0 19 16 2 2-2 2-27zM629 412l-15 2-3-14 16-13 9 8 1 7zM471 550l-7-23-7-4-8 2-7 11 4 17 10 4zM475 551l8 10-6 19-17 2-4-25 15-7zM584 408l-13 4-1-1-9-23 13-11 18 13 0 3zM420 395l1 16 3 1 23-12 1-2-14-14zM517 614l11-4 9-18-1-1-14-9-9 4-5 13zM599 338l-21 1-5 4 7 20 18-2 3-5zM592 565l4 1 8-16-1-9-14-10-14 13 0 6zM620 362l6 11-2 5-25 2-1-19 3-5zM542 342l-9 8 1 10 10 8 12-6 4-16zM627 387l-3-9-25 2-7 10 0 3 19 7zM599 338l-21 1-2-25 14-1 11 10 0 12zM565 343l8 0 7 20-6 10-18-11 4-16zM625 490l0 20-11 5-10-4-2-18 2-2zM569 584l-1-3-19-5-13 15 1 1 18 9zM570 576l-2 5-19-5-4-14 8-5 12 2zM639 431l-3-2-20 6 4 14 17 3 2-2zM434 509l15 16 8-2 7-23-11-11zM600 572l-4-6 8-16 21 6-4 19zM629 412l-15 2-2 3 2 17 2 1 20-6zM554 321l20-8 2 1 2 25-5 4-8 0zM636 395l17-8 4-16-7-8-24 10-2 5 3 9zM664 343l-13 6-1 14 7 8 11 1 15-12-1-7zM620 449l17 3-3 15-8 5-16-9zM417 369l17 9 10-9-11-21-17 8zM433 348l1-2 4-2 23 3 2 3-13 19-6 0zM543 317l-2-6 14-19 15 5 4 16-20 8zM416 356l-11-6 1-19 8-9 5 2 15 22-1 2zM638 518l-7 18-16-3-1-18 11-5zM438 344l8-22-3-6-24 8 15 22zM417 518l0 3 9 14 16 1 7-11-15-16-2-1zM417 369l-11 14-9 1-8-9 1-19 15-6 11 6zM575 550l0-6-18-9-5 1 1 21 12 2zM579 289l-9 8 4 16 2 1 14-1 6-15-7-9zM517 339l16 11 9-8-2-21-21 10zM394 406l-4-4 7-18 9-1 14 12 1 16-6 2zM508 310l15-10 18 11 2 6-3 4-21 10zM517 614l11-4 16 14-16 17-5 0-7-26zM627 343l18 1 6 5-1 14-24 10-6-11zM634 542l-2 10-7 4-21-6-1-9 12-8 16 3zM544 624l-16-14 9-18 18 9 3 10-11 13zM417 369l-11 14 14 12 14-11 0-6zM610 463l16 9-1 18-21 1 2-27zM544 624l-16 17 12 12 9 0 10-13-12-16zM629 583l-8-8 4-19 7-4 15 13-12 17zM639 431l-3-2-7-17 8-10 16 11-2 13zM680 390l-12-18-11-1-4 16 13 12zM651 426l2-13 12-7 11 12-2 13-8 6zM625 490l0 20 13 8 6-2 7-21-3-3zM379 316l13-10 21 11 1 5-8 9-21-4zM403 285l17 13 10-3 0-27-20 4zM584 611l-3-19-12-8-14 17 3 10 18 5zM672 500l-4 19-13 4-11-7 7-21 18 2zM547 624l11-13 18 5-1 25-16-1zM584 611l13 2 4-2 6-13-9-16-17 10zM657 453l-1 17 19 6 10-7-1-8-20-14zM443 314l0 2-24 8-5-2-1-5 7-19 10-3 2 1zM392 434l11 3 12-24-21-7-4 25zM684 501l9 17-16 10-9-9 4-19zM559 640l16 1 2 15-18 11-10-14zM629 583l-8-8-21-3-2 10 9 16 17-5zM665 406l1-7 14-9 11 1 7 10-4 9-18 8zM714 451l-21-3-9 13 1 8 10 6 16-3zM374 314l-19 17 1 4 23 12 6-20-6-11zM552 282l8-12 14 0 5 19-9 8-15-5zM633 615l-5 5-27-9 6-13 17-5zM668 330l17-4 6 17-9 10-18-10zM599 638l-24 3 1-25 8-5 13 2 5 22zM653 596l-18 18-2 1-9-22 5-10 6-1 18 12zM650 643l5-20-20-9-2 1-5 5-1 10 16 13zM374 314l-8-13-19 2-9 14 17 14zM657 453l-18-3 0-19 12-5 15 11-2 10zM664 447l20 14 9-13-3-12-16-5-8 6zM396 287l7-2 7-13-9-18-19 7-2 4 15 21zM725 481l-14-9 3-21 0-1 16-1 13 11 0 2zM474 272l7-16-16-7-14 6-3 11 1 1zM676 418l18-8 6 17-10 9-16-5zM725 481l-14-9-16 3 0 18 15 8zM564 705l-8-7 7-19 19 3 0 13-14 10zM369 425l-5 6-17 1-8-22 8-9 4-1 18 18zM451 255l14-6 2-17-8-9-16 16zM743 462l0-2 14-12 10 2 6 17-13 13-1 0zM725 481l-15 20 1 5 23 7 8-9-1-7zM303 421l0-22 11-6 16 18-12 11zM351 456l19-6-6-19-17 1-3 5zM339 526l-18 18 1 9 10 8 16-1 2-1 4-21zM352 506l-13 20-18-15 9-17 17-1zM312 580l16-1 4-18-10-8-17 11zM445 719l-3 8-15 0-7-8 3-14 13 0zM742 504l-8 9-1 7 11 12 16-2 1-3-7-18zM322 484l8 10 17-1 8-14-8-12-17-2zM381 463l-20 16-6 0-8-12 4-11 19-6 7 4zM319 453l7-11 18-5 7 19-4 11-17-2zM666 232l-15 1-6-5 7-15 16-4 2 2 2 12zM297 430l9 22 3 2 10-1 7-11-8-20-15-1-4 3zM543 250l9 4 25-10 2-4-14-14-22 10zM741 497l1 7 12 5 19-10 2-3-15-16-1 0zM605 659l4 19-3 6-21-5 1-16 17-5zM670 618l1-1 9-18-5-12-10-2-12 9 0 2 13 21zM288 581l6-18 11 1 7 16-4 7-15 2zM652 644l21-3-3-23-4-1-11 6-5 20zM778 443l17 13 1 0 9-12-10-15-11 0-2 1zM636 228l9 0 7-15-9-13-13-1-4 5zM288 581l-16 0-4 15 7 8 15-2 3-13zM652 644l21-3 4 3-4 22-11 1-5-3zM675 587l11-11 19 4 3 14-10 9-18-4zM416 217l2 7 8 5 15-15-6-17-8 0zM611 229l2-19 13-6 10 24-1 1-23 0zM497 209l2-3 21 1 8 19-17 9-2-1zM680 599l18 4-1 19-1 1-25-6zM595 714l15 4 0 17-13 5-11-17zM773 499l5 18 5 2 19-8-4-15-8-6-15 6zM670 618l1-1 25 6-3 19-16 2-4-3zM783 519l5 23-11 5-10-3-7-14 1-3 17-10zM443 239l16-16 0-4-18-5-15 15 3 7zM594 702l14-9-2-9-21-5-3 3 0 13zM597 740l-2 5 5 14 25-3 1-13-16-8zM488 210l-4-2-25 11 0 4 8 9 16 0zM520 183l10 10 7 1 10-12-7-16-12-2-8 11zM721 543l8 6-2 18-16 4-11-22zM540 166l15-11 0-1-19-17-10 17 2 10zM711 595l10 21-7 8-17-2 1-19 10-9zM595 714l15 4 13-9-3-8-12-8-14 9zM275 411l3-9 13-8 12 5 0 22-4 3zM610 718l13-9 10 5-5 27-2 2-16-8zM662 190l16-6 7 4-2 17-13 6-2-2zM714 232l-14-11-10 8-1 13 11 12 3-1zM275 411l24 13-2 6-18 9-10-9 4-17zM273 413l-18-4-11 8 2 12 9 6 14-5zM690 229l10-8 0-9-17-7-13 6 2 12zM779 573l2-2-4-24-10-3-12 12-2 12 2 2zM729 549l-2 18 5 4 21-3 2-12-17-10zM459 219l-1-21-16-7-7 6 6 17zM632 674l-23 4-3 6 2 9 12 8 15-19zM527 751l-12-6-11 4-6 19 4 5 6 2 17-9zM733 520l-12 10 0 13 8 6 9-3 6-14zM819 425l-13-8-1-10 7-9 10-1 12 21-1 0zM666 617l-13-21-18 18 20 9zM283 456l-2 15 4 7 19-7 5-17-3-2zM760 530l-16 2-6 14 17 10 12-12zM755 591l-19 3-2-2-2-21 21-3 2 2zM533 790l4-13-12-11-17 9 8 18zM459 219l25-11-11-18-15 8zM633 669l-1 5 3 8 18 11 1 0 8-26-5-3zM729 205l-26 4-3 3 0 9 14 11 10-1 7-6-1-19zM809 367l11 1 11 20-9 9-10 1-11-16 7-14zM455 170l11 3 8 9-1 8-15 8-16-7 2-14zM461 347l-23-3 8-22 14 5zM502 168l18 7 8-11-2-10-18-6zM761 252l-11-12 0-7 14-11 8 1 9 21-4 5zM233 411l0-20 16-6 3 1 3 23-11 8zM297 430l9 22-23 4-4-6 0-11zM730 206l1 19 19 8 14-11-13-21zM690 229l-18-6-6 9 7 14 16-4zM758 620l-18 18 9 9 19-5 1-8zM635 682l-15 19 3 8 10 5 7-1 13-20zM718 636l-4-12-17-2-1 1-3 19 9 9zM247 597l3 15-12 16-13-17 7-15zM308 342l1 23 23-9 1-8-7-9-18 2zM250 640l20-16 11 7 1 10-15 13-13-6zM305 319l5-6 10-1 11 6-5 21-18 2zM496 170l-5 8 10 16 19-11 0-8-18-7zM777 588l7 9-8 13-15 2-5-20zM783 519l19-8 2 1 2 19-12 11-6 0zM283 299l18-1 9 15-5 6-13 1-12-17zM818 589l-12-8-17 16 17 17zM824 536l-18-5-12 11 14 17 11-3zM758 616l-21-6-6 6 8 22 1 0 18-18zM853 455l19 6-3 16-11 6-12-7-2-11zM247 597l-15-1-5-6 7-22 11-3 8 5zM297 650l-9 19 24 9-1-23-11-6zM773 222l-1 1-8-1-13-21 6-12 13-5 12 9zM831 531l2-8 17-4 14 10 0 3-3 8-15 6zM284 342l-3 8-12 8-7-1-11-11 14-20 17 9zM777 547l4 24 21 0 6-12-14-17-6 0zM818 589l-12-8-4-10 6-12 11-3 16 9 0 11-8 12zM824 536l-18-5-2-19 21-2 8 13-2 8zM777 588l7 9 5 0 17-16-4-10-21 0-2 2zM754 509l7 18 17-10-5-18zM233 411l-18 8 9 23 22-13-2-12zM827 588l8-12 26 9 1 5-19 14-8-3zM824 536l-5 20 16 9 8-6 3-13-15-15zM520 183l10 10-10 14-21-1 2-12zM850 442l9-9-2-15-11-5-12 5-1 0 9 21zM488 210l-4-2-11-18 1-8 17-4 10 16-2 12-2 3zM375 733l7 15 3 1 19-6-2-18-8-7-2 0zM806 614l-17-17-5 0-8 13 11 15 2 0 17-8zM466 173l8 9 17-4 5-8-14-18-4-1zM846 546l15-6 10 19-2 7-2 1-24-8zM734 513l-23-7-8 15 18 9 12-10zM818 589l-12 25 0 3 7 5 9-1 13-20-8-13zM850 442l3 13-9 10-19-4-2-15 19-7zM195 551l-2-1-2-9 13-23 13 7 1 16zM402 725l2 18 2 2 14 0 7-18-7-8zM756 592l5 20-3 4-21-6-1-16 19-3zM284 342l24 0 0-1-3-22-13 1-10 15zM677 692l14 9-2 14-8 3-13-6-4-15zM713 160l-4-1-13 10 2 16 4 3 15-4zM807 669l-20 14-2-2-8-22 2-4 13-5zM843 604l19-14 6 4-3 20-15 5zM707 795l-25-5-4 7 3 16 13 2 16-15zM275 411l3-9-12-16-14 0 3 23 18 4zM254 286l20 19-11 14-19-6zM262 357l-13 20-19-18 19-13 2 0zM310 695l-10 3-8 14 3 13 8 2 14-5 6-11 0-3zM455 170l11 3 12-22 0-1-22-6-6 4zM203 566l-12 14-8-1-8-21 18-8 2 1zM249 385l0-8-19-18-5 0-8 12 5 15 11 5zM270 693l-1 13 3 4 20 2 8-14-21-13zM209 614l16-3 13 17 0 4-5 3-24-2-3-4zM243 313l-8 16-11 3-15-21 15-9zM270 693l-22-8 2-10 21-8 8 7 0 11zM270 693l-1 13-16 4-14-18 9-7zM207 399l15-13-5-15-10-1-14 13 4 13zM246 429l9 6 0 19-2 3-6 1-23-16zM850 442l9-9 13 3 7 13-6 12-1 0-19-6zM722 806l-12-6-16 15 13 17 5 0 4-3zM233 411l-18 8-8-20 15-13 11 5zM813 622l-1 20 6 5 18-4 0-13-14-9zM488 210l-5 22 4 6 22-4-12-25zM742 716l-3-3 4-17 17 0 7 12-3 8zM900 588l-7-5-17 11 11 18 6 1 9-10zM177 626l3-17 19-7 10 12-3 15-27-1zM154 604l17-3 9 8-3 17-14 4-9-6-2-18zM173 587l10-8-8-21-2 0-11 5-3 15zM189 422l6 3 20-6-8-20-10-3-8 7zM174 450l1-2 20-7 8 7-8 19-12 0zM314 681l-2-3-24-9-9 5 0 11 21 13 10-3zM744 820l-22-14-6 23 18 4zM835 565l0 11 26 9 6-18-24-8zM200 597l-1 5-19 7-9-8 2-14 10-8 8 1zM917 608l-2 23-15-4-7-14 9-10zM895 424l5-8 21-2 4 5-9 27-12 0-4-3zM895 519l7-15-20-12-10 12 3 9 19 6zM193 550l-18 8-2 0-7-20 11-8 14 11zM899 471l3 2 8 23-2 4-6 4-20-12 0-3zM846 476l-17 16 1 3 24 7 3-2 1-17zM736 791l-14 15-12-6-3-5 4-15 16-3zM210 701l14 4 14-13-15-17-14 6zM817 667l23-2 4-4 0-9-8-9-18 4zM944 576l1-15-10-11-16 6-1 6 6 19 0 1 16-1zM899 471l3 2 26-4 3-6-4-11-11-6-12 0-5 24zM778 737l-10-8-4-13 3-8 11-3 18 10-8 16zM179 628l27 1 3 4-5 19-9 6-10-4zM225 660l-21-8 5-19 24 2zM915 631l-9 25-16-8-2-10 12-11zM863 641l10 20-14 6-15-6 0-9zM179 491l-4-15 8-9 12 0 6 6-4 16zM154 604l17-3 2-14-14-9-12 7zM136 532l9 7 9-4 6-21-18-5-10 9zM951 490l-14 1-7-5-2-17 3-6 19 2 2 22zM975 437l-12 22-6 0-9-21 21-9 5 5zM951 490l-14 1-4 21 17 1 6-14zM777 588l-21 4-1-1 0-21 24 3zM927 452l-11-6 9-27 13 6 6 11zM926 524l14 14-5 12-16 6-10-14 2-9zM963 459l-6 0-7 6 2 22 22-7 3-10zM159 645l4-15 14-4 2 2 6 26-15 5zM835 601l8 3 7 15-1 4-13 7-14-9zM157 475l18 1 8-9-9-17-14 4zM967 576l-23 0-4 5 11 20 5 0 13-15zM175 288l1-3 23-4 1 26-17 2zM930 486l-20 10-8-23 26-4zM849 623l1-4 15-5 10 7 0 12-12 7zM757 774l13 18-2 4-15 4-14-9 12-16zM547 182l14 0 5-5-11-22-15 11zM248 73l1-1 13-16-6-16-9 1-12 14 1 7zM863 640l12-7 13 5 2 10-14 14-3-1-10-20zM133 564l1 16 13 5 12-7 3-15-18-8zM176 316l2 20-2 2-16 4-12-24 3-6 5-2zM198 234l-1-2 1-12 19-2 10 15-6 9zM849 623l14 17 0 1-19 11-8-9 0-13zM165 668l5-9 15-5 10 4 2 16-13 12-14 1zM160 293l-4 17 20 6 7-7-8-21zM969 586l8 5 0-23-5 1-5 7zM934 650l-2 7-23 5-3-6 9-25zM770 799l0 25-10 5-13-9 6-20 15-4zM144 555l18 8 11-5-7-20-12-3-9 4zM967 576l-23 0 1-15 17-6 10 14zM800 841l-3-25 1-1 23 3 3 17-17 11zM915 631l2-23 6-4 19 8 1 9-1 2zM215 275l20-11 1-7-14-13-11 13zM165 247l7-3 15 14-16 14-12-5zM963 549l-1 6-17 6-10-11 5-12 11-3zM944 645l-2-22-27 8 19 19zM240 135l5-12-9-8-14 4-3 9 7 8zM952 672l-15-4-5-11 2-7 10-5 6 1 9 17zM963 549l-1 6 10 14 5-1 0-26zM807 846l1 10 23 11 8-12-5-14-10-6zM147 690l-15 14-15-10 0-9 7-9 18 5zM118 312l23 9 7-3 3-6-19-21-11 6zM221 46l14 9 12-14-13-18-14 12zM800 841l-15 3-9-18 21-10zM194 95l21-12 9 10-10 16-18 0zM836 773l-18 10-1 3 14 21 2 0 10-8 2-17zM193 211l5 9-1 12-23 4-6-12 20-13zM69 342l16 4 7-6-1-12-13-8-12 11zM142 681l-18-5-1-14 1 0 19-3 5 7zM878 727l-12-7 9-18 11 1 6 8-8 15zM878 727l-4 17 16 8 9-15-15-11zM888 638l12-11-7-14-6-1-12 9 0 12zM65 352l8 15 15-4-3-17-16-4zM197 130l3 1 19-3 3-9-8-10-18 0 0 1zM50 375l-12 14 5 14 17 3 10-19-4-8zM89 302l-11 7-16-11 4-11 15-6 11 15zM222 148l-14 0-11 16 8 6 24-9zM154 535l12 3 11-8 0-6-15-11-2 1zM106 288l-1-12 14-7 16 15-3 7-11 6zM838 762l26 1 2 4-5 14-16 1-9-9zM176 23l-20 11 6 5 10-5 5-10zM907 763l9 16-16 13-11-6-2-16 6-7zM146 648l-11-11 3-8 16-5 9 6-4 15zM123 662l-26-2-1-14 22-7 4 2 2 21zM144 279l16 14-4 17-5 2-19-21 3-7zM861 781l8 13 6 1 14-9-2-16-21-3zM226 136l-7-8-19 3 8 17 14 0zM890 752l3 11 14 0 12-10-1-8-17-9-2 1zM855 741l11 7 8-4 4-17-12-7-1 0-11 12zM187 258l1 0 11 23-23 4-5-13zM194 44l-6 2-8 16 1 5 7 4 19-4 0-12zM875 795l14-9 11 6 4 9-9 19-1 1-10-2zM869 794l-9 8 1 15 17 5 6-3-9-24zM119 269l16 15 9-5 4-10-7-12-20 1zM972 705l-9 17 15 7 0-25zM162 156l6-11-16-16-4 0-8 12 12 19zM920 804l4 22-29-6 9-19zM878 822l-7 16-9 2-12-13 0-3 11-7zM862 840l-7 15-16 0-5-14 16-14zM148 666l-5-7 3-11 13-3 11 14-5 9zM87 199l10 15 17-4 3-15-4-7-21 0zM66 379l4 8 14 3 8-6 2-18-6-3-15 4zM65 352l8 15-7 12-16-4-4-9 6-11zM177 24l8-3 0-4-9 6zM959 724l-4 12-12 3-14-6-3-15 13-10zM814 960l12-8 1-3-8-10-18 1-4 14zM180 62l-20-9 2-14 10-5 16 12zM878 822l-7 16 13 13 12-14-2-16-10-2zM152 606l2 18-16 5-11-18 2-3zM875 621l12-9-11-18-8 0-3 20zM178 179l2-7 12-9 5 1 8 6 5 19-1 1-7 4-23-11zM148 199l10 5 8 19-19 9-9-17zM156 181l22-2 1 4-5 15-16 6-10-5zM862 840l-7 15 9 10 21-9-1-5-13-13zM145 240l2-8-9-17-15 3-3 19 23 5zM188 71l4 22 2 2 21-12 0-9-8-7zM23 551l3-3 23 3 1 1-10 23-16-10zM200 30l-15-9-8 3-5 10 16 12 6-2zM919 753l12 8-1 17-5 3-9-2-9-16zM181 67l-12 12-17-3 3-20 5-3 20 9zM136 81l-15 15-1 0-13-10 3-17 18 1zM158 204l8 19 2 1 20-13-14-13zM920 804l-16-3-4-9 16-13 9 2 1 18zM174 198l14 13 5 0 9-17-23-11zM1 576l0 20 10-8-2-9-5-3zM828 918l-4 2-5 19 8 10 15-6 4-17zM23 551l3-3-1-19-11-6-13 11 0 17zM890 877l4-11-9-10-21 9-1 11 8 7zM72 105l-4-20 19-2 6 7-1 11-8 7zM845 782l-2 17 17 3 9-8-8-13zM926 799l13 3 14-17-23-7-5 3zM953 785l-23-7 1-17 9-4 19 9-5 19zM963 722l-4 2-4 12 14 20 9-13 0-14zM924 826l1 7 18 9 12-8-7-17-5-2zM959 766l-5 19 9 6 15-2 0-28-9-5zM4 576l-3-10 0 10zM902 866l-8 0-9-10-1-5 12-14 18 11zM934 865l4 1 5-7 0-17-18-9-9 14zM902 866l12-18 2-1 18 18-21 9zM956 834l14 17 4-1 4-12 0-17zM814 960l-17-6-9 6 2 9 11 6 13 0zM966 858l-23 1-5 7 1 2 21 16 5-4 3-10zM944 645l6 1 16-9 0-9-23-7-1 2zM854 963l-16 8-2 4 4 0 15-10zM838 971l-12-19-12 8 0 15 22 0zM916 847l9-14-1-7-29-6-1 1 2 16 18 11zM857 957l-15-14-15 6-1 3 12 19 16-8zM943 815l5 2 15-10 0-16-9-6-1 0-14 17zM51 138l-15-12 1-7 12-10 11 4 5 17zM913 874l2 16 17-2 7-20-1-2-4-1zM869 952l-12 5-3 6 1 2 17-11zM869 905l-13-1-10 22 18 4 10-14zM84 108l8-7 16 8 1 11-8 6-15-4zM970 851l-4 7 2 12 6-20zM49 109l11 4 12-8-4-20-1-1-12 7-8 10zM871 944l-2 8-12 5-15-14 4-17 18 4zM873 899l-2-16 19-6 6 18-1 2zM874 916l-10 14 7 14 16-7 1-17zM966 858l-23 1 0-17 12-8 1 0 14 17zM963 807l-15 10 7 17 1 0 22-13 0-1zM920 804l4 22 19-11-4-13-13-3z"/>
<path fill="#00bfff" d="M461 411l15-9 6 1 10 14-8 14-12 0zM461 411l11 20-11 7-18-8 12-20zM444 369l6 0 13 13-15 16-14-14 0-6zM407 443l23 0 5 13-17 13-15-9zM502 579l11 7 9-4 2-14-20-12-5 4zM489 602l19-3 9 15-1 1-21 9zM489 602l-3-2-2-13 18-8 11 7-5 13zM471 628l1-20 14-8 3 2 6 22-1 2-18 5zM443 314l20-15-1-4-11-8-19 9zM479 646l13 8 10-15-8-13-18 5zM445 617l24 12-15 16-16-7 0-14zM534 667l6-14-12-12-5 0-4 2-4 18 9 8zM461 347l-1-20 14-8 3 3 3 23-12 6-5-1zM463 662l19 10 11-17-1-1-13-8zM438 638l-9 9 8 21 22-8-5-15zM658 316l2 1 8 13-4 13-13 6-6-5-1-18zM443 314l0 2 3 6 14 5 14-8-1-10-10-10zM482 672l4 8 14 3 7-19-14-9zM622 337l8-20-2-5-10-4-17 15 0 12zM469 629l2-1 5 3 3 15-16 16-4-2-5-15zM445 617l0-2 15-14 12 7-1 20-2 1zM474 272l7-16 2-1 13 5 3 19-8 7-15-6zM463 662l-5 30 6 4 9-1 13-15-4-8zM680 390l11 1 7-19-15-12-15 12zM396 287l-4 19 21 11 7-19-17-13zM463 662l-5 30-10-1-15-15 4-8 22-8zM463 299l10 10 18-12 0-11-15-6-14 15zM412 613l-16-7-5 3-6 17 12 15 12-7 5-17zM683 302l-9 1-14 14 8 13 17-4 2-2zM487 709l-14-14 13-15 14 3 2 2 2 16zM474 319l-1-10 18-12 15 13-11 13-18-1zM496 260l17-9 4 4 1 27-19-3zM364 279l4 13 27-6-15-21-15 9zM590 313l6-15 17 0 5 10-17 15zM696 297l17 20-1 4-25 3-4-22 7-6zM528 690l-7-8 3-13 10-2 9 9-3 13zM730 299l-13-16-3 0-18 14 17 20 16-12zM492 654l10-15 17 4-4 18-8 3-14-9zM644 299l16-10 14 14-14 14-2-1zM589 289l7 9 17 0 2-9-12-18-1 0zM509 234l2 1 2 16-17 9-13-5 4-17zM374 314l-8-13 2-9 27-6 1 1-4 19-13 10zM642 299l-9-19-18 9-2 9 5 10 10 4zM712 321l4 12-12 11-13-1-6-17 2-2zM458 692l-10-1-12 14 9 14 16-7 3-16zM690 296l-7-21-22 7-1 7 14 14 9-1zM644 299l14 17-14 10-14-9-2-5 14-13zM726 356l-3-19-7-4-12 11 5 22zM602 271l1 0 26-10 0-4 0-2-18-11-12 6 1 19zM644 299l16-10 1-7-6-8-20 1-2 5 9 19zM603 271l12 18 18-9 2-5-6-14zM660 258l-5 16-20 1-6-14 0-4 22-5zM510 724l-3-21-3-2-17 8-1 9 9 9zM636 228l9 0 6 5 0 19-22 5 0-2 6-26zM627 343l18 1-1-18-14-9-8 20zM510 724l2 1 3 20-11 4-12-9 3-13zM556 726l8-21 4 0 17 18-19 13-8-5zM533 717l-1 2-20 6-2-1-3-21 16-2zM612 229l-1 15 18 11 6-26zM724 274l-7 9-3 0-18-20 4-9 3-1 17 4zM660 258l-5 16 6 8 22-7 1-5-16-14zM513 251l-2-16 17-9 5 1 10 9 0 14-6 5-20 0zM745 271l7 4-5 13-17 11-13-16 7-9zM534 747l-7 4-12-6-3-20 20-6zM380 654l12 0 5-13-12-15-16 5-5 8 0 2zM566 736l4 12 4 2 21-5 2-5-11-17-1 0zM585 723l1 0 9-9-1-12-12-7-14 10zM805 444l13-2 1-17-13-8-11 12zM534 747l-7 4-2 15 12 11 16-3 0-14-14-13zM553 760l17-12 4 2 6 22-1 0-17 8-9-6zM354 260l11 14-1 5-22 2-1-21zM537 194l8 12-12 21-5-1-8-19 10-14zM698 401l13 0 9 22-9 6-11-2-6-17zM558 731l-19 16 14 13 17-12-4-12zM696 263l-12 7-1 5 7 21 6 1 18-14zM556 726l-23-9-1 2 2 28 5 0 19-16zM689 242l11 12-4 9-12 7-16-14 5-10zM405 699l-16-13 11-21 5 0 17 14-7 18zM481 256l2-1 4-17-4-6-16 0-2 17zM627 758l14 8 13-2 4-9-5-16-25 2-2 2-1 13zM563 198l-2-16-14 0-10 12 8 12 5 0zM823 446l-5-4-13 2-9 12 10 13 10 2 9-10zM574 750l21-5 5 14-2 5-18 8zM842 439l-9-21-14 7-1 17 5 4zM728 251l-4-20 7-6 19 8 0 7-12 13zM720 257l-17-4 11-21 10-1 4 20zM516 793l-8-18-6-2-19 24 19 16 6-2zM579 772l15 21-6 15-26-8 0-20zM579 772l15 21 15-10-11-19-18 8zM361 701l-3-13-17-9-1 1-2 19 14 6zM737 361l-2 14 9 8 10-1 11-15-22-10zM798 496l23-10-5-15-10-2-16 17 0 4zM760 276l18-7-1-20-16 3-8 22zM847 395l-9-8-7 1-9 9 12 21 12-5zM548 811l14-11 0-20-9-6-16 3-4 13zM640 713l15 13 1 7-3 6-25 2 5-27zM749 647l19-5 11 13-2 4-23 10-4-2zM613 784l14-26-2-2-25 3-2 5 11 19zM869 410l1-5-10-12-13 2-1 18 11 5zM648 806l-25 4-3-21 16-4 15 12zM366 729l-12 3-8-4-1-3 7-20 9-4 8 4zM346 728l-18 14 0 1 9 15 18-4-1-22zM425 769l7-13 0-2-12-9-14 0 1 26zM483 797l-22 11 0 25 30 7 11-27zM457 774l-14 19-6 1-12-25 7-13 22 10zM439 885l48 10 25-18-21-37-30-7-18 13zM542 825l1 1-26 51-5 0-21-37 11-27 6-2zM668 712l-13 14 1 7 20 1 5-16zM806 617l-17 8 4 22 19-5 1-20zM312 767l16 9 1-1 8-17-9-15-20 7zM653 693l-13 20 15 13 13-14-4-15-10-4zM684 746l-8-12-20-1-3 6 5 16 24-4zM392 777l-7-28-3-1-19 12 1 7 24 12zM872 436l11-12-14-14-12 8 2 15zM758 616l3-4 15-2 11 15-18 9-11-14zM399 778l-7-1-7-28 19-6 2 2 1 26zM764 684l-10-15 23-10 8 22zM792 650l-13 5-11-13 1-8 18-9 2 0 4 22zM684 746l10-3 10 4 5 12-5 11-18 2-4-21zM416 809l-17-31 8-7 18-2 12 25zM817 667l1-20-6-5-19 5-1 3 15 19 8 1zM225 359l5 0 19-13-14-17-11 3-7 11zM337 758l18-4 8 6 1 7-7 13-28-5zM935 318l-4-12-14-6-13 13 0 3 5 6 21 2zM904 386l-11 14-10-3-6-21 14-6zM217 343l7-11-15-21-3 0-10 25 7 6zM896 214l-19 3-4 22 2 1 18 1 8-17-1-6zM836 247l16 1 9-9-10-20-10-3-6 9zM329 775l-1 1-6 30 11 20 29-23-5-23zM904 386l-11 14 7 16 21-2 5-14-1-7-10-8zM872 436l7 13 21-6-5-19-12 0zM895 519l16 14 15-9 1-7-19-17-6 4zM192 513l-16-15 3-7 18-2 10 13-5 12zM952 404l1 7-15 14-13-6-4-5 5-14zM304 160l-8-11-20 12 0 2 9 19 14-1 1-1zM893 241l8-17 21 9 1 6-7 9-18 0zM959 331l-16 18-13-10 0-15 5-6 17 2 5 5zM192 513l-15 11-15-11 5-11 9-4zM937 491l-4 21-6 5-19-17 2-4 20-10zM950 465l7-6-9-21-4-2-17 16 4 11zM142 509l0-18 7-7 18 18-5 11-2 1zM372 802l-10 1-5-23 7-13 24 12zM969 429l0-6-16-12-15 14 6 11 4 2zM916 361l0-16 14-6 13 10 0 1-10 14-14 0zM956 397l-4 7-26-4-1-7 16-14 4 1zM972 392l-16 5-4 7 1 7 16 12 8-10-1-8zM959 331l13 8-4 19-6 5-19-13 0-1zM245 772l-12 0-17 11 0 27 15 9 31-13-14-32zM958 525l-7 10-11 3-14-14 1-7 6-5 17 1zM753 274l-1 1-7-4-7-18 12-13 11 12zM133 564l1 16-8 8-16-1-8-20 17-8zM322 806l-35-14-20 15 25 51 41-32zM225 290l-1 12-15 9-3 0-6-4-1-26 16-4zM267 143l16-10-2-6-19-10-4 5 5 20zM972 339l4-1 0-25-19 12 2 6zM891 191l5 23 4 4 19-14-27-14zM258 122l-13 1-9-8 1-11 19-6 6 3 2 3-2 13zM976 387l-15-19-16 12 11 17 16-5zM675 967l-14-15-21 0-2 14 35 4zM976 386l0-26-8-2-6 5-1 5 15 19zM292 858l-3 7-51-6-7-40 31-13 5 1zM673 904l-19 14 23 16 9-7 0-9zM922 233l10-12 5-1 14 10-6 18-4 1-18-10zM974 480l3 8 0-18zM130 342l1 0 27 3-1 13-9 9-10 0-9-9zM165 693l1 15 7 6 22-1 3-6-14-21-14 1zM699 932l-13-5-9 7 0 2 13 19 15-5zM977 433l0-20-8 10 0 6 5 5zM105 363l1-18 12-9 12 6-1 16-18 8zM148 269l11-2 12 5 5 13-1 3-15 5-16-14zM930 281l3-9-2-6-12-4-16 13 0 5 11 8zM261 192l-13 20-4 1-8-7 0-20 17-3zM977 439l0-6-3 1 1 3zM801 795l16-9 14 21-10 11-23-3-2-7zM973 522l4 3 0-27-6 5zM130 342l1 0 10-21-23-9-6 7 6 17zM932 221l5-1 3-5-20-10zM901 224l21 9 10-12-12-16-1-1-19 14zM716 923l-11-16 9-10 11 1 6 18-9 8zM105 525l16-12 11 5 4 14-20 9-9-6zM973 522l-15 3-7 10 12 14 14-7 0-17zM263 142l-15 8-8-15 5-12 13-1zM276 163l-20 6-10-13 2-6 15-8 4 1 9 18zM677 936l-16 16 14 15 8 1 7-13zM107 535l-14 11 6 20 3 1 17-8-3-18zM192 513l-15 11 0 6 14 11 13-23-2-4zM198 707l12-6-1-20-12-7-13 12zM937 220l14 10 2-1-5-9-8-5zM240 135l8 15-2 6-17 5-7-13 4-12zM116 541l3 18 14 5 11-9 1-16-9-7zM677 936l-16 16-21 0-17-29 3-5 28 0 23 16zM716 923l-11-16-6 0-13 11 0 9 13 5zM956 499l-6 14 8 12 15-3-2-19zM72 597l-16-13 12-17 4-1 13 7-1 15zM683 968l-8-1-2 3 12 1zM106 345l-14-5-1-12 18-10 3 1 6 17zM824 835l10 6 16-14 0-3-17-17-2 0-10 11zM229 161l3 22 4 3 17-3 3-14-10-13zM976 387l-4 5 4 13 0-19zM141 257l2-15 2-2 20 7-6 20-11 2zM707 972l-5 0 5 1zM196 110l0-1-2-14-2-2-20-1-7 12 5 10zM105 525l-8-6-18 5-5 12 5 6 14 4 14-11zM105 525l-8-6 0-19 3-3 17 5 4 11zM147 690l18 3 5-6-5-19-17-2-6 15zM673 898l-14-14-15-3-14 3-4 34 28 0 19-14zM754 940l12-5 0-20-20 2 2 20zM102 567l-3-1-14 7-1 15 17 9 9-10zM727 944l-5-20 9-8 13-1 2 2 2 20zM227 93l10 11-1 11-14 4-8-10 10-16zM79 542l-7 24 13 7 14-7-6-20zM89 302l20 16 3 1 6-7 3-15-15-9-14 8zM727 945l-12 10-10-5-6-18 17-9 6 1 5 20zM690 955l-7 13 2 3 17 1 5 0 8-11 0-6-10-5zM41 605l15-21-16-9-17 21zM197 130l-1-20-26 4-1 2 12 23zM197 359l-13 2-8-23 2-2 18 0 7 6zM40 575l10-23 18 15-12 17zM25 833l-8-6 0-21 18-28 5-1 31 12 6 12zM769 912l12 3 9 13-15 12-9-5 0-20zM50 375l-12 14-17-5-1 0 6-22 20 4zM74 536l-17 1-8 14 1 1 18 15 4-1 7-24zM60 406l-17-3-13 16 17 17 4 1 7-6 3-23zM715 955l0 6 15 14 6 0 1 0 4-16-14-14zM715 961l-8 11 0 1 23 2zM3 353l-2 2 0 21 19 8 6-22-4-8-9-3zM727 945l14 14 15-3-2-16-6-3-21 7zM131 342l27 3 2-3-12-24-7 3zM92 296l-11-15 2-5 15-7 7 7 1 12zM9 322l4-11 16-5 6 4-1 18-19 0zM119 269l-14 7-7-7-1-12 11-13 3 0 10 14zM765 963l-9-7-2-16 12-5 9 5 4 18zM89 302l-11 7 0 11 13 8 18-10zM860 802l-17-3-10 8 17 17 11-7zM181 139l0 1-13 5-16-16 17-13zM3 353l-2-2 0 4zM108 244l-17-16-2 0-14 19 3 7 19 3zM788 960l9-6 4-14-6-11-5-1-15 12 4 18zM108 244l-17-16 6-14 17-4 9 8-3 19-9 7zM38 389l-17-5-9 17 18 18 13-16zM40 336l-6-8-19 0-2 23 9 3 18-17zM29 467l-21 0-5-5 2-15 9-8 17 10 1 14zM98 269l-15 7-9-13 4-9 19 3zM790 969l-2-9-9-2-14 5-4 12 27 0zM1 323l0 28 2 2 10-2 2-23-6-6zM62 226l2 17 11 4 14-19-19-7zM15 432l15-13 17 17-16 13-17-10zM12 401l9-17-1 0-19-8 0 29zM52 355l-6 11-20-4-4-8 18-17zM3 462l2-15-4-1 0 16zM65 352l4-10-3-11-8-2-18 7 0 1 12 18zM9 322l4-11-9-13-3 0 0 25zM105 363l-11 3-6-3-3-17 7-6 14 5zM15 432l15-13-18-18-11 4 0 15zM765 963l-9-7-15 3-4 16 24 0zM181 67l-12 12 3 13 20 1-4-22zM33 486l-4-19-21 0-1 24 8 7 11-3zM162 156l6-11 13-5 11 23-12 9zM65 198l5 3 17-2 5-11-5-15-23 8-2 8zM145 240l2-8 19-9 2 1 6 12-2 8-7 3zM1 420l0 26 4 1 9-8 1-7zM121 258l-10-14 9-7 23 5-2 15zM969 756l-14-20-12 3-3 18 19 9zM790 969l-2 6 13 0zM87 173l2-7 16-2 12 9-4 15-21 0zM810 915l14 5-5 19-18 1-6-11zM963 791l0 16 15 13 0-31zM831 905l16-9 9 8-10 22-18-8z"/>
<path fill="#ff69b4" d="M435 456l-17 13 1 17 27-7-1-16zM403 437l4 6 23 0 6-11-12-20-3-1-6 2zM511 342l-3 24-11 3-10-22 13-9zM511 342l-3 24 7 3 19-9-1-10-16-11zM410 489l-9 16 16 13 15-10-13-22zM543 317l11 4 11 22-5 3-18-4-2-21zM403 460l15 9 1 17-9 3-18-12-2-10zM657 453l-1 17-6 5-16-8 3-15 2-2zM495 624l-1 2 8 13 17 4 4-2-7-26zM634 467l-8 5-1 18 23 2 2-17zM385 327l21 4-1 19-15 6-10-6-1-3zM709 366l-5-22-13-1-9 10 1 7 15 12 10-4zM392 434l-15 20 4 9 9 4 13-7 4-17-4-6zM543 676l16-5 0-4-10-14-9 0-6 14zM389 526l9-21-18-8-11 14 2 5zM582 682l3-3 1-16-9-7-18 11 0 4 4 8zM685 469l10 6 0 18-11 8-12-1-3-3 6-21zM637 402l-1-7 17-8 13 12-1 7-12 7zM656 470l19 6-6 21-18-2-3-3 2-17zM390 402l7-18-8-9-22 4-2 11 20 12zM511 342l-11-4-5-15 11-13 2 0 11 21-2 8zM506 310l-15-13 0-11 8-7 19 3 4 3 1 15-15 10zM522 285l15-7 15 4 3 10-14 19-18-11zM522 285l-4-3-1-27 20 0 0 23zM432 296l-2-1 0-27 18-2 1 1 2 20zM477 322l18 1 5 15-13 9-7-2zM521 682l-19 3-2-2 7-19 8-3 9 8zM392 434l-15 20-7-4-6-19 5-6 21 6zM356 335l-6 8 8 23 1 0 21-16-1-3zM380 350l-21 16 8 13 22-4 1-19zM355 331l-17-14-7 1-5 21 7 9 17-5 6-8zM369 418l-18-18 14-10 20 12zM599 638l-24 3 2 15 9 7 17-5zM714 450l-3-21 9-6 12 1 2 4-4 21zM599 638l4 20 2 1 14-4 1-20-18 0zM390 467l2 10-12 19-19-17 20-16zM730 449l4-21 20 6 3 14-14 12zM602 635l-5-22 4-2 27 9-1 10-7 5zM556 698l7-19-4-8-16 5-3 13 9 8zM448 691l-15-15-11 3-7 18 8 8 13 0zM352 506l17 5 11-14 0-1-19-17-6 0-8 14zM714 450l-3-21-11-2-10 9 3 12 21 3zM507 703l16-2 5-11-7-8-19 3 2 16zM537 278l0-23 6-5 9 4 8 16-8 12zM737 401l-18-5-8 5 9 22 12 1 9-17zM364 279l4 13-2 9-19 2-9-17 4-5zM725 481l18-19 16 18-18 17zM549 697l-9-8-12 1-5 11 10 16zM556 726l-23-9 16-20 7 1 8 7zM339 526l-18 18-17-11 3-20 14-2zM754 434l-20-6-2-4 9-17 18 2 2 13zM754 382l11 20-6 7-18-2-4-6 7-18zM347 303l-9-17-14 0-4 26 11 6 7-1zM327 597l15 16 0 1-21 5-10-11 4-8zM495 727l-3 13-13 6-9-20 16-8zM437 668l-8-21-4 0-20 18 17 14 11-3zM451 287l-2-20 25 5 2 8-14 15zM757 448l-3-14 7-12 21 8-4 13-11 7zM332 356l1-8 17-5 8 23-17 5zM729 305l-16 12-1 4 4 12 7 4 19-3 4-15zM633 669l-1 5-23 4-4-19 14-4 12 7zM747 288l-17 11-1 6 17 14 18-8zM761 422l-2-13 6-7 13-2 5 5 1 24-2 1zM454 766l-22-10 0-2 15-18 5 1 9 15zM652 644l5 20-24 5-2-7 12-19 7 0zM314 484l-10-13 5-17 10-1 11 12-8 19zM293 589l-3 13 8 10 13-4 4-8-7-13zM288 581l-16 0-9-11 9-12 21 4 1 1zM314 484l-15 14 3 10 5 5 14-2 9-17-8-10zM309 365l23-9 9 15-5 10-18 1-10-14zM269 430l-14 5 0 19 24-4 0-11zM654 693l10 4 13-5 6-19-10-7-11 1zM631 662l-12-7 1-20 7-5 16 13zM784 429l-1-24 22 2 1 10-11 12zM457 774l14 2 13-12-6-15-17 3-7 14zM805 407l7-9-11-16-17 2-6 16 5 5zM314 484l-15 14-14-11 0-9 19-7zM505 144l12-13 19 5 0 1-10 17-18-6zM471 776l12 21 19-24-4-5-14-4zM512 115l8-6 16 3 5 16-5 8-19-5zM394 718l11-19 10-2 8 8-3 14-18 6zM808 368l-18-9-15 11 9 14 17-2zM641 171l3-23 3-2 24 13 1 1-19 16-11-5zM271 509l6 8-1 15-7 6-21-16 9-14zM561 150l-6 4-19-17 0-1 5-8 15-2 9 11zM447 736l-15 18-12-9 7-18 15 0zM644 148l3-2 5-15-14-12-8 2-6 15 5 9zM258 486l4-16 19 1 4 7 0 9-8 5zM677 163l1 21 7 4 13-3-2-16zM392 718l2 0 11-19-16-13-3 0-11 17zM677 692l6-19 13-2 9 21-14 9zM647 146l24 13 1-30-7-2-13 4zM563 114l-4-12-18 3-5 7 5 16 15-2zM295 620l-14 11 1 10 15 9 3-1 8-17zM457 774l-14 19 18 15 22-11-12-21zM317 631l8 8 10-2 8-15-1-8-21 5zM682 751l-24 4-4 9 5 7 22 7 5-6zM705 660l-9 11 9 21 10 3 5-4 5-24-2-2zM279 674l9-5 9-19-15-9-15 13 4 13zM689 715l9 6 8-1 10-18-1-7-10-3-14 9zM254 286l-1-1 28-9 1 1 1 22-3 4-6 2zM274 305l6-2 12 17-10 15-17-9-2-7zM324 286l-10-8-6 4-7 16 9 15 10-1zM341 260l1 21-4 5-14 0-10-8 1-8 20-15zM283 299l18-1 7-16-26-5zM223 562l11 6 11-3 0-16-6-6-17 2zM561 99l-2 3 4 12 20 7 8-21-1-1zM684 746l-8-12 5-16 8-3 9 6-4 22zM253 488l-15-13 0-3 9-14 6-1 9 13-4 16zM281 276l0-4 18-18 2-1 14 17-1 8-6 4-26-5zM238 472l9-14-23-16-5 5 2 18zM261 256l8 0 12 16 0 4-28 9-3-4 0-3zM484 764l14 4 6-19-12-9-13 6-1 3zM861 585l1 5 6 4 8 0 17-11-1-6-23-11-2 1zM745 670l-5 22-20-1 5-24zM250 640l20-16-1-4-19-8-12 16 0 4zM244 313l-1 0-8 16 14 17 2 0 14-20-2-7zM505 144l12-13-5-16-8-1-11 11 9 18zM238 472l-17-7-8 9 10 19 15-18zM580 843l-37-17-26 51 36 17 31-30zM740 692l-20-1-5 4 1 7 15 12 8-1 4-17zM254 286l-1-1-3-4-25 9-1 12 19 11 1 0zM454 117l6 6 18 1 3-28-1-1-27 12zM778 705l-11 3-7-12 4-12 21-3 2 2 1 0zM217 371l8-12-8-16-14-1-6 17 10 11zM224 442l-5 5-16 1-8-7 0-16 20-6zM335 255l-20 15-14-17 8-15 6-3 20 16zM440 124l14-7 6 6-4 21-6 4-12-3-1-2zM177 424l-6 9 4 15 20-7 0-16-6-3zM803 697l18-7-6-20-8-1-20 14 1 0zM243 663l11-15-4-8-12-8-5 3-8 25 1 2zM536 112l5-7-6-19-15-1-2 2 2 22zM263 222l1 6-13 13-15-11 8-17 4-1zM481 96l12-2 11 20-11 11-14 0-1-1zM230 742l17-4 3-8-2-7-21-8-6 13zM201 473l12 1 8-9-2-18-16 1-8 19zM263 222l1 6 14 9 11-11 0-13-11-7zM165 409l12 15-6 9-15-2-4-9zM261 256l8 0 9-14 0-5-14-9-13 13 0 7zM271 667l-4-13-13-6-11 15 7 12zM512 877l-25 18 2 56 60 7 15-5 6-15-17-44-36-17zM215 275l0 2 10 13 25-9 0-3-15-14zM269 256l9-14 21 12-18 18zM871 559l-2 7 23 11 5-10-8-19zM160 454l14-4 1-2-4-15-15-2-8 15zM172 382l5-6 16 7 4 13-8 7-15-2zM505 144l3 4-6 20-6 2-14-18 20-9zM924 581l-6-19-21 5-5 10 1 6 7 5zM564 953l-15 5 9 1 11 1zM193 383l-16-7 0-5 7-10 13-2 10 11zM694 743l4-22 8-1 14 11 1 2-17 14zM236 257l15-9 0-7-15-11-9 3-6 9 1 2zM201 731l5 20 21-3 3-6-9-14zM743 733l-16 5-6-5-1-2 11-17 8-1 3 3zM750 738l18-9-4-13-22 0 1 17zM139 468l11 11 7-4 3-21-12-8-5 1zM143 447l5-1 8-15-4-9-13-4-9 11 6 14zM183 309l17-2 6 4-10 25-18 0-2-20zM115 457l6 11 18 0 4-21-7-4-21 13zM749 751l1-13-7-5-16 5 4 21 1 1 6 0zM842 689l-2-24-23 2-2 3 6 20 4 3zM751 775l-12 16-3 0-9-14 5-17 6 0zM731 714l-11 17-14-11 10-18zM121 468l-3 9 7 13 17 1 7-7 1-5-11-11zM766 757l-17-6 1-13 18-9 10 8zM767 762l18 10 10-9-17-26-12 20zM121 513l-4-11 8-12 17 1 0 18-10 9zM154 604l-7-19-13-5-8 8 3 20 23-2zM767 762l-10 12-6 1-13-15 11-9 17 6zM149 394l16 15-13 13-13-4-3-14 4-8zM889 548l8 19 21-5 1-6-10-14zM181 739l20-8-6-18-22 1-1 21zM156 384l-8-17 9-9 20 13 0 5-5 6zM174 401l15 2 0 19-12 2-12-15zM279 450l-24 4-2 3 9 13 19 1 2-15zM788 731l8-16 4-2 9 4 7 18-6 8zM285 182l-11 13-13-3-8-9 3-14 20-6zM158 742l14-7 1-21-7-6-14 8-2 16zM157 475l18 1 4 15-3 7-9 4-18-18 1-5zM140 396l-9-12-15 0-6 6 0 9 6 7 20-2zM157 358l1-13 2-3 16-4 8 23-7 10zM778 737l10-6 22 12 1 10-7 9-9 1zM744 820l3 0 6-20-14-9-3 0-14 15zM795 763l9-1 14 21-1 3-16 9-17-16 1-7zM149 394l7-10-8-17-10 0-7 17 9 12zM236 206l8 7-8 17-9 3-10-15 5-10zM129 608l-2 3-11 5-15-16 0-3 9-10 16 1zM115 457l-18 7-15-11 3-11 23 0 7 14zM770 799l0 25 6 2 21-10 1-1-2-7zM108 442l7-15-2-2-26-8-5 17 3 8zM115 456l21-13-6-14-15-2-7 15zM811 753l25 4 2 5-2 11-18 10-14-21zM825 693l-4-3-18 7-3 16 9 4 16-7zM770 799l26 9 5-13-17-16-14 13-2 4zM82 453l-6 4-2 7 7 16 15 2 1-18zM71 610l19 2 11-12 0-3-17-9-12 9zM116 384l-5-18-6-3-11 3-2 18 18 6zM136 404l-20 2-3 19 2 2 15 2 9-11zM116 384l-5-18 18-8 9 9-7 17zM115 457l6 11-3 9-20 7-2-2 1-18zM149 394l7-10 16-2 2 19-9 8zM89 639l7-14-6-13-19-2-2 2 1 14 13 12zM209 190l-7 4-9 17 5 9 19-2 5-10zM150 732l2-16-19-8-5 13 5 10zM221 46l14 9 1 7-21 12-8-7 0-12zM66 655l17-17-13-12-19 11 4 16zM118 477l7 13-8 12-17-5-2-13zM59 684l-11-7 2-18 5-6 11 2 9 11-6 14zM236 186l0 20-14 2-13-18 1-1 22-6zM116 406l-3 19-26-8 3-8 20-10zM85 442l-3-8-24-3-7 6 5 11 20 9 6-4zM110 399l-20 10-6-19 8-6 18 6zM73 489l3 13 21-2 3-3-2-13-2-2-15-2zM185 21l15 9 4-2 5-21-1-2-23 12zM76 502l21-2 0 19-18 5-7-15zM66 331l12-11 0-11-16-11-8 2-3 5 7 24zM60 704l-20 5-6-7 2-19 12-6 11 7zM96 625l-6-13 11-12 15 16-3 5zM135 637l-13 4-4-2-5-18 3-5 11-5 11 18zM103 703l-10-1-6-7-1-3 10-19 21 12 0 9zM53 506l4 3 15 0 4-7-3-13-18-5-3 2zM71 610l-2 2-25 0-3-7 15-21 16 13zM74 464l2-7-20-9-8 16 8 10zM89 639l7-14 17-4 5 18-22 7zM40 336l-6-8 1-18 16-5 7 24zM146 648l-11-11-13 4 2 21 19-3zM170 114l-5-10-15-4-11 15 9 14 4 0 17-13zM229 161l3 22-22 6-5-19zM198 234l-1-2-23 4-2 8 15 14 1 0 6-4zM165 104l-15-4-8-17 10-7 17 3 3 13zM75 666l19 0 3-6-1-14-7-7-6-1-17 17zM70 626l-1-14-25 0-5 14 2 4 10 7zM197 130l3 1 8 17-11 16-5-1-11-23 0-1zM13 621l10-25 18 9 3 7-5 14-24-3zM124 676l-1-14-26-2-3 6 2 7 21 12zM48 464l-16-1-1-14 16-13 4 1 5 11zM148 129l-9-14-5 0-13 9 4 19 15-2zM55 653l-4-16-10-7-18 22 1 3 26 4zM36 683l-10-6-5-17 3-5 26 4-2 18zM71 725l-23 6-9-17 1-5 20-5 3 2zM8 687l18-10-5-17-20 6 0 10zM149 164l3-4-12-19-15 2 5 26 1 0zM33 486l-4-19 3-4 16 1 8 10-1 10-3 2zM71 725l-8-19 24-11 6 7-13 24-8 0zM35 310l16-5 3-5-19-23-10 7 4 22zM34 702l-24 1-4-6 2-10 18-10 10 6zM72 509l7 15-5 12-17 1-5-6 5-22zM70 201l0 20 19 7 2 0 6-14-10-15zM53 506l4 3-5 22-19-6 5-17zM138 193l-21 2-3 15 9 8 15-3 10-16zM62 298l-8 2-19-23 1-1 21-6 9 17zM150 100l-8-17-6-2-15 15 13 19 5 0zM44 214l0 3 1 4 17 5 8-5 0-20-5-3zM149 164l7 17-8 18-10-6-7-24zM21 660l3-5-1-3-11-11-11 2 0 23zM6 697l2-10-7-11 0 21zM93 90l14-4 3-17-5-6-16 9-2 11zM41 630l-2-4-24-3-3 18 11 11zM53 506l-1-20-19 0-7 9 12 13zM120 96l-12 13 1 11 12 4 13-9-13-19zM38 508l-5 17-8 4-11-6-3-8 4-17 11-3zM7 722l3-19-4-6-5 0 1 24zM12 641l3-18-2-2-12-3 0 25zM15 283l-13-15-1 1 0 29 3 0zM131 169l-1 0-13 4-4 15 4 7 21-2zM31 256l5 20-1 1-10 7-10-1-13-15 7-10 21-2zM13 621l10-25-12-8-10 8 0 22zM7 491l1-24-5-5-2 0 0 29zM52 531l5 6-8 14-23-3-1-19 8-4zM14 523l-3-8-10-1 0 20zM36 195l-15-1-5 9 3 11 25 3 0-3zM120 96l-12 13-16-8 1-11 14-4zM4 576l5 3 15-14-1-14-22 0 0 15zM1 491l0 23 10 1 4-17-8-7zM31 256l16-9 6 2 5 20-1 1-21 6zM78 254l-3-7-11-4-11 6 5 20 16-6zM32 167l1-1 5 4 3 19-5 6-15-1-3-9zM36 155l-3 11 5 4 20-1 4-11-12-12zM125 143l-14 4-6 17 12 9 13-4zM9 579l2 9 12 8 17-21-16-10zM25 140l-16 12 2 7 21 8 1-1 3-11zM5 243l-4-2 0 28 1-1 7-10zM5 243l14-9-3-14-15 1 0 20zM125 143l-4-19-12-4-8 6 0 13 10 8zM149 164l3-4 10-4 18 16-2 7-22 2zM31 256l16-9-5-19-18 8 6 20zM13 311l-9-13 11-15 10 1 4 22zM73 489l-18-5 1-10 18-10 7 16zM45 221l-3 7 5 19 6 2 11-6-2-17zM66 287l-9-17 1-1 16-6 9 13-2 5zM80 152l9 14 16-2 6-17-10-8-21 9zM65 130l10 4 11-12-2-14-12-3-12 8zM19 214l-3 6 3 14 5 2 18-8 3-7-1-4zM1 201l0 20 15-1 3-6-3-11zM30 256l-6-20-5-2-14 9 4 15zM36 195l8 19 21-16-3-9-21 0zM2 175l9-16-2-7-1 0-7 10 0 13zM86 122l15 4 0 13-21 9-5-14zM3 178l-1-3-1 0 0 7zM11 159l21 8-14 18-15-7-1-3z"/>
<path fill="#ff8c00" d="M497 369l-5 5 3 11 17 13 9-4 2-5-8-20-7-3zM468 351l9 23 15 0 5-5-10-22-7-2zM729 205l-26 4-1-21 15-4 6 3zM677 163l19 6 13-10-13-17-20 19zM672 129l5-1 19 13 0 1-20 19-4-1-1-1zM657 188l-4-12 19-16 4 1 1 2 1 21-16 6zM729 205l-6-18 17-14 17 16-6 12-21 5zM887 296l16-16 0-5-8-9-19 1-5 4 0 5 15 20zM727 154l2-11-22-13-11 11 0 1 13 17 4 1zM345 725l-22-14-6 11 11 20 18-14zM235 264l15 14 11-22-10-8-15 9zM685 188l13-3 4 3 1 21-3 3-17-7zM345 725l-22-14 0-3 15-9 14 6zM215 275l0 2-16 4-11-23 6-4 17 3zM931 306l-14-6-3-12 16-7 10 13zM970 297l-14 6-11-10 13-18 12 12zM931 266l10-17 4-1 17 13-5 12-24-1zM952 320l4-17-11-10-5 1-9 12 4 12zM976 303l0-19-6 3 0 10zM976 284l0-14-7-13-7 4-5 12 1 2 12 12zM760 829l-13-9-3 0-10 13 5 14 7 3 10-4zM231 819l7 40-39 32-16-14-7-45 8-11 32-11zM197 768l19 15 0 27-32 11-10-35 16-18zM146 783l-11 13-3 23 44 13 8-11-10-35-23-5zM975 437l-12 22 14 11 0-31zM940 294l5-1 13-18-1-2-24-1-3 9zM956 499l15 4 6-5 0-10-3-8-22 7-1 3zM317 722l-14 5 4 23 1 0 20-7 0-1zM157 746l-23 9-7-11 6-13 17 1 8 10zM183 877l-7-45-44-13-23 15-8 32 3 3 35 10zM211 257l-17-3 4-20 23 8 1 2zM800 841l-15 3-5 6 8 18 8 3 12-15-1-10zM157 746l4 9-10 26-5 2-13-23 1-5zM945 248l17 13 7-4-16-28-2 1zM796 871l12-15 23 11 1 7-15 13-19-9zM790 890l8-12-2-7-8-3-21 6-3 3 2 14zM769 912l-3-21-20 5-2 19 2 2 20-2zM976 313l0-3 0-7-6-6-14 6-4 17 5 5zM769 912l-3-21 24-1 3 13-12 12zM916 248l3 14 12 4 10-17-18-10zM767 874l-2-22 15-2 8 18zM199 891l-16-14-44 2 60 16zM831 905l-14-18 15-13 15 11 0 11zM810 915l14 5 4-2 3-13-14-18-11 20zM781 915l12-12 13 4 4 8-15 14-5-1zM839 855l-8 12 1 7 15 11 16-9 1-11-9-10zM793 903l13 4 11-20-19-9-8 12z"/>
<path fill="#32cd32" d="M708 368l-10 4-7 19 7 10 13 0 8-5 2-16zM430 268l-20 4-9-18 2-4 20-2zM448 266l-18 2-7-20 6-12 14 3 8 16zM429 236l-3-7-8-5-19 12 4 14 20-2zM577 266l0-22 2-4 1 0 19 10 1 19zM371 243l11 18 19-7 2-4-4-14-10-6-14 3zM611 229l-20-2-11 13 19 10 12-6 1-15zM737 361l-11-5-17 10-1 2 13 12 14-5zM375 233l14-3 4-18-10-8-10 4-5 14zM365 245l-19-8-3-17 2-2 23 4 7 11-4 10zM578 205l13 8 0 14-11 13-1 0-14-14 0-1zM611 229l-20-2 0-14 14-7 8 4zM550 206l-5 0-12 21 10 9 22-10 0-1zM365 245l-11 15 11 14 15-9 2-4-11-18zM743 357l4-18 21 3-1 25-2 0zM628 192l2 7 13 1 14-12-4-12-11-5zM673 246l-5 10-8 2-9-6 0-19 15-1zM754 382l11 20 13-2 6-16-9-14-8-3-2 0zM764 311l-18 8-4 15 5 5 21 3 1-1 2-22zM579 289l-5-19 3-4 23 3 2 2-13 18zM737 361l-11-5-3-19 19-3 5 5-4 18zM612 181l16 11 2 7-4 5-13 6-8-4-4-16 10-9zM563 198l-2-16 5-5 13-1 7 12-8 17zM574 270l-14 0-8-16 25-10 0 22zM776 296l-12 15 7 8 24 2-4-24-7-3zM760 276l16 20-12 15-17-23 5-13 1-1zM795 321l-24-2-2 22 21 2 9-7-2-13zM745 271l-7-18-10-2-8 6 4 17zM563 198l15 7-13 20-15-19zM383 204l3-17 6-3 13 12-3 13-9 3zM825 316l0 22-16 3-10-5-2-13 19-11zM816 312l-19 11-2-2-4-24 12-4 9 4zM444 177l-2 14-7 6-8 0-8-6-3-18 3-6 7-1zM402 209l3-13 14-5 8 6-11 20zM790 343l0 16-15 11-8-3 1-25 1-1zM723 187l-6-3-4-24 14-6 13 13 0 6zM799 336l10 5 0 26-1 1-18-9 0-16zM837 297l-7 17-5 2-9-4-4-15 11-8zM837 297l-14-8 1-9 14-7 5 2 6 18zM735 375l-14 5-2 16 18 5 7-18zM578 205l8-17 15 2 4 16-14 7zM578 155l1 21-13 1-11-22 0-1 6-4zM373 208l-14-13 0-3 16-10 11 5-3 17zM390 158l12-8 4 1 13 16-3 6-21 6zM359 195l-14 17-16-18 18-14 12 12zM837 297l-7 17 22 8 3-23-2-4-4-2zM786 273l7-3 11 7-1 16-12 4-7-3zM794 218l13 13-24 13-2 0-9-21 1-1zM652 131l13-4-2-23-9-4-12 4-4 15zM611 181l-10 9-15-2-7-12 20-10zM877 321l-24 3-1-2 3-23 22 6zM605 153l2-17 17 0 5 9-10 12zM623 166l18 5 3-23-15-3-10 12zM478 150l0 1 4 1 20-9-9-18-14 0zM838 273l-8-22-13 1-1 1-1 19 9 8zM830 314l22 8 1 2-3 14-20 3-5-3 0-22zM601 156l-16-6-1-19 1-2 18 2 4 5-2 17zM612 181l16 11 14-21-1 0-18-5zM798 257l-5 13 11 7 11-5 1-19zM565 137l-9-11 7-12 20 7 2 8-1 2zM381 157l-9-12 0-2 19-14 2 0 9 21-12 8zM848 371l-2-5-17-6-9 8 11 20 7-1zM823 289l-11 8-9-4 1-16 11-5 9 8zM786 193l16-14 1-4-7-13-10-1-13 10-3 13 12 9zM657 188l-14 12 9 13 16-4-6-19zM601 156l-2 10 12 15 1 0 11-15-4-9-14-4zM847 395l-9-8 10-16 19 5-7 17zM543 78l-8 8 6 19 18-3 2-3-1-11zM630 93l12 11-4 15-8 2-18-9-3-9 7-9zM881 326l-4-5 0-16 9-9 1 0 17 17 0 3-21 10zM809 367l0-26 16-3 5 3-1 19-9 8zM850 338l-20 3-1 19 17 6 10-20zM601 156l-16-6-7 5 1 21 20-10zM585 150l-1-19-19 6-4 13 17 5zM390 98l8 2 3 21-8 8-2 0-17-15zM368 222l5-14-14-13-14 17 0 6zM389 230l10 6 19-12-2-7-14-8-9 3zM881 326l-11 21-3 2-11-3-6-8 3-14 24-3zM860 393l7-17 4-2 6 2 6 21-13 8zM417 124l-16-3-8 8 9 21 4 1 13-14zM603 131l-18-2-2-8 8-21 18 3 3 9zM849 293l4 2 18-19 0-5-13-6-15 10zM708 120l21-6 8 22-8 7-22-13zM848 371l-2-5 10-20 11 3 4 25-4 2zM702 114l-14-1-11 15 19 13 11-11 1-10zM886 296l-15-20-18 19 2 4 22 6zM786 193l16-14 15 21-3 3-16 2zM544 69l-13-13-13 7 2 22 15 1 8-8zM852 248l6 17 13 6 5-4-1-27-2-1-12 0zM460 123l-4 21 22 6 1-25-1-1zM346 237l-11 14-20-16 5-11 23-4zM455 170l-5-22-12-3-12 21 18 11zM777 249l4-5 2 0 15 13-5 13-7 3-8-4zM356 102l-5 2-8 15 6 13 14-1 7-17zM650 73l-13 5-7 15 12 11 12-4 2-23zM437 143l1 2-12 21-7 1-13-16 13-14zM341 146l8-14 14-1 9 12 0 2-22 12zM891 370l-14 6-6-2-4-25 3-2 21 6 3 10zM817 200l1 0 11-17-5-11-21 3-1 4zM424 103l0 14-7 7-16-3-3-21 9-3zM904 386l-13-16 3-7 22-2 3 3-4 21zM424 103l0 14 16 7 14-7-1-10-5-7-19-1zM504 114l-11-20 5-6 20-1 2 22-8 6zM374 114l17 15-19 14-9-12 7-17zM365 245l-11 15-13 0-6-5 0-4 11-14zM727 154l2-11 8-7 6 0 14 15-1 6-16 10zM813 226l22-1 6-9-2-6-21-10-1 0-3 3zM345 218l0-6-16-18-18 13 9 17 23-4zM386 187l6-3 3-5-5-21-9-1-9 13 3 12zM278 237l0 5 21 12 2-1 8-15-20-12zM757 189l13-5 3-13-17-14-16 10 0 6zM329 145l12 1 8-14-6-13-15 1-5 18zM289 213l19-7 3 1 9 17-5 11-6 3-20-12zM761 121l-4-5-16-9-10 2-2 5 8 22 6 0zM731 109l10-2-15-8zM359 192l-12-12-1-9 4-7 22 6 3 12zM420 73l-9 5-4 19 17 6 5-4-1-20zM838 273l-8-22 6-4 16 1 6 17-15 10zM419 191l-3-18-21 6-3 5 13 12zM383 87l7 11-16 16-4 0-14-12 2-7zM917 300l-13 13-17-17 16-16 11 8zM761 121l2 0 1-1-7-4zM320 159l9-14 12 1 9 11 0 7-4 7-21-1zM424 117l16 7-3 19-18-6-2-13zM453 107l-5-7 3-16 15-7 4 1 10 17zM518 63l2 22-2 2-20 1-3-21 11-7zM480 53l5 11 10 3 11-7-4-22-5-3-11 3zM583 77l-12 0-11 11 1 11 29 0-3-19zM808 231l9 21 13-1 6-4-1-22-22 1zM898 248l18 0 3 14-16 13-8-9zM881 326l-11 21 21 6 5-10-13-17zM611 73l5 21-7 9-18-3-1-1-3-19 20-9zM481 96l12-2 5-6-3-21-10-3-15 14 10 17zM807 231l-24 13 15 13 18-4 1-1-9-21zM358 95l-2 7-5 2-23-9-1-11 6-9 22 9zM630 121l-18-9-9 19 4 5 17 0zM428 79l15-3 8 8-3 16-19-1zM285 182l-11 13 4 11 11 7 19-7-9-25zM557 43l-6-2-19 8-1 7 13 13 17-8 1-3zM851 219l17-9 9 7-4 22-12 0zM811 146l-15 16 7 13 21-3 2-4-11-20-2-1zM611 73l5 21 14-1 7-15-12-10zM629 49l-4 19-14 5-4-2-4-14 9-10 15 1zM502 38l4 22 12 3 13-7 1-7-9-15zM323 138l5-18-10-11-5 0-8 7-1 19zM883 326l13 17 11-4 2-17-5-6zM778 142l8 19 10 1 15-16 0-1-22-11zM849 186l-20-3-11 17 21 10 11-22zM274 195l4 11-15 16-15-10 13-20zM629 49l-4 19 12 10 13-5 0-13-7-6-8-4zM916 361l0-16-9-6-11 4-5 10 3 10zM708 91l-6 23 6 6 21-6 2-5-5-10-14-7zM318 109l10 11 15-1 8-15-23-9zM585 53l-23 5-1 3 10 16 12 0zM300 180l-1 1 9 25 3 1 18-13-9-14zM383 86l13-15 15 7-4 19-9 3-8-2-7-11zM381 157l-9-12-22 12 0 7 22 6zM850 166l-9-4-15 6-2 4 5 11 20 3zM850 188l16 3 3 3-1 16-17 9-10-3-2-6zM930 324l-21-2-2 17 9 6 14-6zM458 55l3-2 19 0 5 11-15 14-4-1zM612 47l-7-14-21 6 1 14 18 4zM320 180l9 14 18-14-1-9-21-1zM650 60l2-1-9-5zM869 410l1-5 13-8 10 3 7 16-5 8-12 0zM607 71l-20 9-4-3 2-24 18 4zM304 160l-8-11 1-8 7-6 19 3 6 7-9 14zM627 46l-22-13 7 14 15 1zM760 276l16 20 8-2 2-21-8-4zM811 146l2 1-2-2zM756 157l1-6 16-11 5 2 8 19-13 10zM763 121l10 19 5 2 11-8-25-14zM708 91l-6-5-2-1-19 15 7 13 14 1zM757 151l16-11-10-19-2 0-18 15zM896 214l-19 3-9-7 1-16 22-3zM297 141l-14-8-2-6 8-15 16 4-1 19zM444 58l-1 18 8 8 15-7-8-22zM665 127l-2-23 14-5 4 1 7 13-11 15-5 1zM313 109l-12-18 4-10 22 3 1 11-10 14zM672 77l5 22-14 5-9-4 2-23zM849 186l1 2 16 3 4-14-20-11zM290 94l11-3 4-10-4-10-5-3-15 3-4 7 0 3zM444 58l-5-4-3-11 11-12 13 4 1 18-3 2zM650 60l0 13 6 4 16 0 5-5-25-13zM866 191l3 3 22-3 1-1-22-13zM794 218l13 13 1 0 5-5 1-23-16 2zM915 385l10 8 16-14-8-15-14 0zM585 53l-23 5-5-15 20-12 7 8zM708 91l4 1-10-6zM961 368l1-5-19-13-10 14 8 15 4 1zM627 48l2 1 6 1-8-4zM577 28l0 3 7 8 21-6-22-12zM893 241l-18-1 1 27 19-1 3-18zM383 86l-10-15-12 1-6 12 3 11 25-8zM327 84l6-9 0-8-6-8-8-1-18 13 4 10zM420 73l1-10 18-9 5 4-1 18-15 3zM281 127l8-15-3-7-22-1-2 13zM548 22l3 19-19 8-9-15 3-8zM247 76l9 22 6 3 15-20 0-3-28-6-1 1zM677 99l4 1 19-15-23-13-5 5zM794 218l4-13-12-12-4 0-9 29zM290 94l11-3 12 18-8 7-16-4-3-7zM274 58l9-16 7-1 5 3 1 24-15 3zM296 149l1-8-14-8-16 10 9 18zM425 37l0-17 18 0 4 11-11 12zM522 16l-11-6-13 6-1 19 5 3 21-4 3-8zM557 43l-6-2-3-19 5-9 6-1 18 16 0 3zM486 38l11-3 1-19-11-8-17 6-1 14zM247 76l-20 17-3 0-9-10 0-9 21-12 12 11zM972 339l-4 19 8 2 0-22zM373 71l6-12-6-11-16 3-3 7 7 14zM480 53l-19 0-1-18 9-7 17 10zM309 21l9 10-10 13-13 0-5-3 4-19zM559 12l18 16 6-7-22-12zM285 10l-5 0-14 10-1 12 18 10 7-1 4-19zM826 168l15-6-26-14zM544 69l17-8 10 16-11 11-17-10zM469 28l1-14-9-8-12 2-6 12 4 11 13 4zM304 160l16-1 5 11-5 10-20 0zM533 1l-22 0 0 9 11 6 12-14zM361 72l-7-14-21 9 0 8 22 9zM400 22l24-3 1 1 0 17-19 9-6-7zM253 13l13 7 14-10-4-9-23 0zM396 71l15 7 9-5 1-10-15-16-12 14zM327 59l6 8 21-9 3-7-9-12-13-1zM253 13l13 7-1 12-9 8-9 1-13-18 0-3zM204 28l5-21 17 2 8 11 0 3-14 12zM394 61l12-14 0-1-6-7-24 2-3 7 6 11zM262 56l-6-16 9-8 18 10-9 16zM559 12l2-3-16-8 0 2 8 10zM383 86l13-15-2-10-15-2-6 12zM376 41l-3 7-16 3-9-12 9-15 12-2 2 2zM424 19l1 1 18 0 6-12-8-7-18 0zM553 13l-8-10-11-1-12 14 4 10 22-4zM209 7l17 2 4-8-15 0-7 4zM487 8l11 8 13-6 0-9-24 0zM249 72l28 6 4-7-7-13-12-2zM327 59l8-21-6-7-11 0-10 13 11 14zM247 76l9 22-19 6-10-11zM315 3l2 0 18 11-6 17-11 0-9-10zM342 10l-7 4-6 17 6 7 13 1 9-15zM461 6l9 8 17-6 0-7-25 0zM226 9l8 11 19-7 0-12-23 0zM342 10l15 14 12-2 0-21-23 0zM449 8l12-2 1-5-21 0zM397 1l13 0-12 0zM285 10l9 12 15-1 6-18-4-2-17 0zM315 3l2 0 2-2-8 0zM317 3l18 11 7-4 4-9-27 0zM262 101l15-20 13 13-4 11-22-1zM397 17l-26 7 5 17 24-2 0-17zM397 1l0 1 0 15 3 5 24-3-1-18-13 0zM280 10l5 0 9-9-18 0zM397 2l-3-1-25 0 0 21 2 2 26-7zM397 2l0-1 1 0-4 0zM406 47l0-1 19-9 11 6 3 11-18 9zM200 30l-6 14 13 11 14-9-1-11-16-7zM545 1l-12 0 1 1 11 1zM319 58l-18 13-5-3-1-24 13 0zM26 134l10-8 1-7-3-3-7 9-5 6zM1 182l0 19 15 2 5-9-3-9-15-7zM51 138l-1 8 12 12 18-6 0-4-5-14-10-4zM38 170l3 19 21 0 2-8-6-12zM62 158l18-6 9 14-2 7-23 8-6-12zM47 101l-13 15 3 3 12-10zM51 138l-1 8-14 9-11-15 1-6 10-8zM22 131l-14 21 1 0 16-12 1-6z"/>
<path fill="#0000ff" d="M369 672l1 4 16 10 3 0 11-21-8-11-12 0zM295 620l13 12 9-1 4-12-10-11-13 4zM369 672l-16-7-2-13 13-11 16 13zM369 705l-8-4-3-13 12-12 16 10-11 17zM346 651l-11-14-10 2-5 12 11 8zM651 797l1 0 7-26-5-7-13 2-5 19zM353 665l-12 14-1 1-9-4 0-17 15-8 5 1zM308 632l-8 17 11 6 9-4 5-12-8-8zM275 604l-6 16 1 4 11 7 14-11 3-8-8-10zM340 680l-2 19-15 9-13-13 4-14 17-5zM636 785l5-19-14-8-14 26 7 5zM331 676l0-17-11-8-9 4 1 23 2 3zM542 825l1 1 37 17 14-23-6-12-26-8-14 11zM416 809l-4 10 31 27 18-13 0-25-18-15-6 1zM366 729l-12 3 1 22 8 6 19-12-7-15zM416 809l-4 10-9 3-31-20 16-23 4-2 7 1zM678 797l4-7-1-12-22-7-7 26zM366 729l3-24 6-2 17 15-17 15zM630 842l-15-21-21-1-14 23 4 21 37 7zM648 806l9 21-7 8-20 7-15-21 8-11zM280 741l13 11 14-2-4-23-8-2-15 12zM369 672l1 4-12 12-17-9 12-14zM269 706l-16 4-5 13 2 7 21-1 1-19zM621 871l9 13-4 34-3 5-53 15-17-44 31-30zM287 780l0 12 35 14 6-30-16-9zM239 692l14 18-5 13-21-8-3-10 14-13zM292 712l3 13-15 12-9-8 1-19zM403 822l-28 42-42-38 29-23 10-1zM648 806l9 21 16-2 8-12-3-16-26 0-1 0zM403 822l-28 42 1 6 51 22 12-7 4-39-31-27zM270 750l10-9 0-4-9-8-21 1-3 8 6 10zM270 750l-17-2-8 24 3 2 24-7zM270 750l10-9 13 11-8 23-13-8zM285 775l8-23 14-2 1 0 4 17-25 13zM245 772l-12 0-6-24 3-6 17-4 6 10zM375 864l-42-38-41 32-3 7 12 42 31 16 44-53zM272 767l13 8 2 5 0 12-20 15-5-1-14-32zM487 895l-48-10-12 7-10 50 72 9zM427 892l-51-22-44 53 3 8 2 1 80 10zM181 739l20-8 5 20-9 17-7 0-3-3zM657 827l16-2 13 18-14 13-9 0-13-21zM630 842l20-7 13 21-19 25-14 3-9-13zM673 825l8-12 13 2 13 17-18 11-3 0zM640 952l-17-29-53 15-6 15 5 7 69 6zM734 833l5 14-19 7-2-1-6-21 4-3zM673 898l17-9 9 18-13 11-13-14zM718 853l-6-21-5 0-18 11 10 19zM694 877l2-1 3-14-10-19-3 0-14 13 8 16zM301 907l-12-42-51-6-39 32 0 4 35 9 47 13zM690 889l4-12 2-1 11 4 7 17-9 10-6 0zM157 746l4 9 26 10-6-26-9-4-14 7zM332 923l-31-16-20 10 54 14zM197 768l19 15 17-11-6-24-21 3zM673 898l-14-14 21-12 14 5-4 12zM680 872l-8-16-9 0-19 25 15 3zM187 765l3 3-16 18-23-5 10-26zM765 852l-9-6 4-17 10-5 6 2 9 18-5 6zM146 783l-11 13-27-20 0-7 25-9zM734 877l-7-3-7-20 19-7 7 3-2 20zM767 874l-3 3-20-7 2-20 10-4 9 6zM147 690l-15 14 1 4 19 8 14-8-1-15zM735 887l-10 11 6 18 13-1 2-19zM766 891l-2-14-20-7-10 7 1 10 11 9zM735 887l-10 11-11-1-7-17 20-6 7 3zM103 703l6 20 19-2 5-13-1-4-15-10zM90 409l-6-19-14-3-10 19 1 2 26 9zM133 731l-5-10-19 2-4 6 5 14 17 1zM108 769l0 7-27 27-4-2-6-12 4-28 13-5 13 3zM101 759l-13-3-2-26 19-1 5 14zM134 755l-1 5-25 9-7-10 9-16 17 1zM108 776l-27 27 28 31 23-15 3-23zM87 417l-26-9-3 23 24 3zM72 726l-6 28 9 7 13-5-2-26-6-4zM696 876l3-14 19-9 2 1 7 20-20 6zM86 692l10-19-2-7-19 0-6 14zM66 754l9 7-4 28-31-12 13-24zM48 731l-9-17-17 14 14 16 8-1zM71 725l-23 6-4 12 9 10 13 1 6-28zM103 703l-10-1-13 24 6 4 19-1 4-6zM17 758l-9-25 3-5 11 0 14 16-14 15zM40 709l-1 5-17 14-11 0-4-6 3-19 24-1zM7 722l-5-1 0 16 6-4 3-5zM2 765l0 21 15 20 18-28-13-19-5-1zM17 827l0-21-15-20 0 23 7 18zM44 743l-8 1-14 15 13 19 5-1 13-24zM87 695l-1-3-17-12-10 4 1 20 3 2zM17 758l-9-25-6 4 0 28z"/>
</g>
<text x="-1.5" y="1554.5" font-size="65" font-weight="bold">d</text>
<text x="67.8" y="1544.2" font-size="36.5">Responder (patient 13)</text>
<rect x="511" y="1745" width="54" height="58.4" fill="#8a2be2"/>
<text x="538" y="1790" font-size="43.5" text-anchor="middle" stroke="#000" stroke-width="4.4" stroke-linejoin="round">5</text><text x="538" y="1790" font-size="43.5" text-anchor="middle" fill="#fff" stroke="#fff" stroke-width="0.9" stroke-linejoin="round">5</text>
<rect x="511" y="1869" width="54" height="58" fill="#ffdf00"/>
<text x="538" y="1914" font-size="43.5" text-anchor="middle" stroke="#000" stroke-width="4.4" stroke-linejoin="round">8</text><text x="538" y="1914" font-size="43.5" text-anchor="middle" fill="#fff" stroke="#fff" stroke-width="0.9" stroke-linejoin="round">8</text>
<path d="M503 1773.8L360.5 1821.9" stroke="#000" stroke-width="3.6"/><path d="M344.4 1827.3L360.4 1815.4L364.4 1827.1z"/>
<path d="M503 1893.3L395.9 1853" stroke="#000" stroke-width="3.6"/><path d="M380 1847L400 1847.9L395.6 1859.5z"/>
<g transform="translate(3 2105) scale(0.5)" stroke="#8c8c8c" stroke-width="1.4" stroke-linejoin="round">
<path fill="#ff69b4" d="M494 479l7 17-18 16-7-3-5-18 14-13zM499 474l24-2 3 3-10 25-3 1-12-5-7-17zM477 466l-18 3 0 19 12 3 14-13zM490 447l-3-15 7-5 18 4-3 19-8 3zM561 467l-5 16-12 6-15-14 17-15zM561 467l22 8 3 7-11 18-2 0-17-17zM467 416l14-11 15 7-2 15-7 5-14-4zM573 443l0 2-12 22-15-7-1-5 8-16zM573 443l0 2 18 13 8-3 6-19-8-6-23 10zM553 439l-8 16-14-8-1-17 8-6 10 4zM531 447l-11 7-11-4 3-19 5-3 13 2zM499 474l2-21-11-6-12 10-1 9 8 12 9 1zM561 467l22 8 8-17-18-13zM538 424l0-16-14-7-12 5 5 22 13 2zM517 428l-5-22-6-1-10 7-2 15 18 4zM616 469l-17-14-8 3-8 17 3 7 15 3 11-6zM643 480l0-5-25-7-2 1-4 10 16 19zM542 494l-16 10 8 17 15 1 4-12zM449 514l4 4 23-9-5-18-12-3-13 6-1 1zM569 416l-2-6-20-9-9 7 0 16 10 4zM556 483l-12 6-2 5 11 16 20-10zM645 515l0 1-18 14-4 1-10-22 15-11zM574 440l23-10-6-15-22 1zM547 401l-9 7-14-7 1-20 16-2 8 7zM524 401l-12 5-6-1-7-19 0-2 25-4 1 1zM525 381l-1-1-5-18 9-10 16 10-3 17zM513 501l-5 24-22-4-3-9 18-16zM516 500l10 4 8 17-14 13-6 0-6-9 5-24zM476 509l7 3 3 9-4 11-15 6-13-7-1-13zM618 468l11-23 13 1 11 18-10 11zM514 534l-9 12-11 2-12-16 4-11 22 4zM469 557l-2-19 15-6 12 16-8 10zM520 534l12 14 19-3 1-18-3-5-15-1zM529 567l19 5 5-25-2-2-19 3-5 16zM657 496l11-1 10 20-10 10-9 2-14-11 0-1zM499 384l-3-11 6-14 17 3 5 18zM469 557l-2-19-13-7-9 7-1 23 3 1 19-2zM510 559l-5-13 9-12 6 0 12 14-5 16zM499 386l-18 7-8-6 5-16 18 2 3 11zM473 364l-17-4-4 5 8 24 13-2 5-16zM492 571l-6-13-17-1-3 3 6 22 11 0zM506 405l-7-19-18 7 0 12 15 7zM569 416l-2-6 8-20 12-2 6 3 6 9-8 15zM660 556l-7-10 6-19 9-2 11 15-7 16zM701 529l7-7-10-24-20 17zM678 515l-10-20 5-7 25 4 1 1-1 5zM486 348l-13 16 5 7 18 2 6-14-5-10zM502 572l8-13 17 5 2 3-13 22-2 0zM720 520l-12 2-10-24 1-5 14-4 12 16zM698 492l-6-20 12-12 7 2 4 24-2 3-14 4zM670 467l-1-3 7-13 22 1 6 8-12 12zM528 344l0 8-9 10-17-3-5-10 7-12 15 0zM725 505l-12-16 2-3 24-8 9 19-4 5zM655 328l-7-2-9-17 11-11 17 6 2 10zM365 601l-3-21 14-6 16 21-4 7-18 4zM548 572l5-25 21 5 2 20-28 1zM739 476l-3-11-19-6-6 3 4 24 24-8zM628 284l-6 5 11 19 6 1 11-11-3-14zM717 459l5-16-18-11-6 20 6 8 7 2zM744 448l-8 17-19-6 5-16 11-4zM479 325l-5 10 12 13 11 1 7-12-8-19zM763 458l-2 12-22 6-3-11 8-17 3 0zM579 576l-3-4-28 1-1 16 4 5 24 1zM524 594l-8-5 13-22 19 5 0 1-1 16zM701 313l10 10 0 15-17 8-9-3-1-21 14-10zM712 420l21-3 0 22-11 4-18-11-1-2zM576 598l-12 21-12 3-5-8 4-20 24 1zM396 565l-14-1-6 10 16 21 11-5 4-12zM533 634l18-12 1 0-5-8-19-6-12 16 8 8zM528 608l19 6 4-20-4-5-23 5zM762 427l-15 21 16 10 8-3 2-19zM540 314l6 19-18 11-9-7 5-24zM685 567l-13-11-12 0-5 14 7 15 2 1 18-8zM499 601l5 21 12 2 12-16-4-14-8-5-2 0zM725 352l0-6-14-8-17 8 5 20 12 4zM502 572l8-13-5-13-11 2-8 10 6 13zM718 289l-9-8 8-20 19 7-2 13zM673 488l-3-21 22 5 6 20zM524 313l-7-5-19 6-2 4 8 19 15 0zM355 472l0-13-25-6-5 8 16 21zM502 572l12 17-15 12-2-1-14-18 9-11zM347 415l15-7-1-19-19-3-5 13 4 14zM350 356l9 0 14 10 1 3-8 16-5 4-19-3-5-8zM319 508l12 5 11-4 4-9-6-14-28 5zM643 262l7 18 18-5-7-21-13-1zM763 458l-2 12 10 15 7-2 12-18-3-5-16-5zM317 595l14 16 11-2 2-4-5-21-4-1zM735 367l16-2-3-18-20-2-3 1 0 6zM286 486l-4-11 17-17 13 8-2 23-9 3zM758 378l-2-9 14-11 12 7 0 11-7 6zM727 526l-1 18-7 7-18-9-2-2 2-11 7-7 12-2zM299 458l-17 17-13-5-5-14 10-9 22 3zM383 333l2-7-17-12-17 4 0 3 14 18zM310 621l-6-9 4-16 2-2 7 1 14 16-8 11zM365 601l-21 4-2 4 6 13 19 3 1-1 2-18zM744 502l4-5 13 1 8 14-2 13-17 4-6-5zM307 572l-20-6-4 13 7 14 18 3 2-2zM328 376l-16 6-4 8 1 9 4 4 24-4 5-13-5-8zM769 344l1 14-14 11-5-4-3-18 8-7zM314 566l-4-24-22 10-1 14 20 6zM263 565l-4 12 7 10 17-8 4-13zM773 436l16-1 6 5-8 20-16-5zM648 253l-6-11 12-16 5-1 14 10 2 7-14 12zM661 254l14-12 2 1 12 18-18 15-3-1zM728 315l-17 8 0 15 14 8 3-1 9-21zM779 405l-4-23-17-4-6 10 16 22zM452 316l-6-3-11 6 1 21 18 5 5-6zM737 324l-9 21 20 2 8-7-4-18zM753 320l17 0 10 16-11 8-13-4-4-18zM780 336l10 7 0 17-8 5-12-7-1-14zM695 212l10 21-28 10-2-1-2-7 15-22zM329 439l-27-1-6 12 3 8 13 8 13-5 5-8 0-13zM497 284l-6 19 7 11 19-6 1-20-16-6zM497 284l-19-8-2-4 5-15 8-4 15 12-2 17zM468 312l11 13 17-7 2-4-7-11-19-4zM770 320l10 16 13-16-4-11-13 0zM643 262l-15 3-15-11 18-15 11 3 6 11zM334 345l-12 12 6 19 9 2 13-22-12-11zM752 557l0 6-8 6-9 1-15-10-1-9 7-7 20 2zM284 525l6-6 0-2-18-16-11 0-7 9 16 17zM727 526l-1 18 20 2 4-17-6-5zM573 443l-20-4-5-11 21-12 5 24zM726 207l4 9 0 2-22 18-3-3-10-21 3-4zM714 184l13 19-1 4-28 1 1-26zM729 306l-11-12-17 19 10 10 17-8zM606 222l-4 4-1 19 12 9 18-15-4-12zM729 306l-11-12 0-5 16-8 12 9 0 9zM334 345l-12-12 11-18 18 3 0 3-13 24zM322 357l-10-2-10 11 10 16 16-6zM304 336l-4 0-12 19 2 9 12 2 10-11zM729 173l-15 11-15-2 0-3 11-19 16 1zM528 270l-13-9-11 4-2 17 16 6 10-7zM341 413l-4-14-24 4 2 12 13 9zM701 529l-23-14-10 10 11 15 20 0zM286 618l18-6 4-16-18-3-14 15 2 5zM727 203l12-11 19 3 1 7-7 13-22 1-4-9zM702 281l-13-20 24-12 4 12-8 20zM807 380l1-14 7-7 17 4 3 8-12 23zM374 290l-19-2-5 5 1 25 17-4 7-19zM645 710l-6-10 1-8 15-10 7 3 7 26-2 1zM285 418l15 12 15-15-2-12-4-4-25 13zM354 435l-24 5 0 13 25 6 6-8zM328 424l-13-9-15 15 2 8 27 1zM381 279l-15-21-14 19 3 11 19 2zM859 366l-3-13-15-3-9 13 3 8 13 4zM736 177l3 15 19 3 2-3-3-20-4-3zM213 514l9 16 1 0 21-9 5-9-21-15-14 12zM747 259l-9-16-25 5 0 1 4 12 19 7zM699 182l-1 26-3 4-7 1-18-11 2-12zM334 345l-12-12-14-1-4 4 8 19 10 2zM280 407l-1-19 4-5 25 7 1 9-25 13zM235 434l-6 15 14 11 14-6-10-23-3-1zM308 332l1-23-4-4-18 6 4 19 9 6 4 0zM753 320l17 0 6-11-7-10-17 5zM308 332l1-23 19 1 5 5-11 18zM713 249l0-1-5-12-3-3-28 10 12 18zM281 309l6 2 4 19-18 5-9-6 0-5zM230 403l7 3 7 24-9 4-22-13 0-3zM729 173l-15 11 13 19 12-11-3-15zM760 230l15-6 3-13-19-9-7 13zM308 390l4-8-10-16-12-2-7 9 0 10zM228 615l16 2 9-16-14-14-14 12zM350 293l1 25-18-3-5-5 3-19zM235 434l-6 15-15 5-7-26 6-7zM670 202l18 11-15 22-14-10 6-19zM327 287l-17-2-4 4-1 16 4 4 19 1 3-19zM817 280l6 3 0 28-5 2-21-17 10-14zM266 587l17-8 7 14-14 15-12-11zM213 455l15 27 0 1-30 0-5-8 9-15zM437 214l5 20 18 2 7-9-11-17-17 1zM350 293l-19-2-4-4 8-19 17 9 3 11zM662 735l2 2 17 5 9-6 3-9-14-16-10 0-2 1zM332 258l3 10-8 19-17-2-1-20zM263 565l-4 12-18 1 4-20 15 1zM594 248l7-3 1-19-22-6-7 16 2 6zM189 522l6 17 14 3 13-12-9-16zM274 672l-18-15-5 0-10 12 18 17 16-10zM416 240l-21 11 3 13 18 7 12-21 0-3zM760 230l15-6 14 11 0 1-12 11-12-3zM740 239l-10-21 0-2 22-1 8 15zM239 587l1-8 1-1 18-1 7 10-2 10-11 4zM186 430l21-2 7 26-1 1-11 5-20-18zM297 256l-13 8-3 12 4 8 21 5 4-4-1-20zM386 246l-18 7-2 4 0 1 15 21 6-2 11-13-3-13zM740 239l-10-21-22 18 5 12 25-5zM823 283l0 28 9 3 18-10 0-3-17-20zM809 324l1 16-20 3-10-7 13-16zM758 195l1 7 19 9 8-5 2-13-7-7-21 6zM620 707l0 17-18 3-1-1-5-26 4-3 8 0zM338 229l4 6-2 16-8 6-18-18 8-10zM241 578l-1 1-20-8-2-8 19-12 3 1 5 6zM310 621l-6-9-18 6 5 17 13 2zM214 509l14-12 0-14-30 0-1 11zM285 284l-8 16 4 9 6 2 18-6 1-16zM646 733l-11 17 21 9 8-22-2-2zM209 542l5 18 4 3 19-12-14-21-1 0zM867 412l24 8 9-11 0-6-19-14-7 0-6 4zM189 522l24-8 1-5-17-15-15 13 4 13zM578 731l23-5-5-26-21 14zM340 251l-8 6 0 1 3 10 17 9 14-19 0-1zM412 228l-12-5-14 8 0 15 9 5 21-11zM182 442l20 18-9 15-19-1-4-11 5-17zM599 174l-6 2-10 17 2 6 19 4 5-14zM298 245l-24-11-2 1-2 20 14 9 13-8zM234 375l11-16-18-13-13 19zM639 159l3 16-15 7-9-13 8-15 2 0zM256 386l0-1 4-22 23 10 0 10-4 5zM182 507l-6-3-8-21 6-9 19 1 5 8-1 11zM314 239l18 18 0 1-23 7-12-9 1-11 4-4zM600 149l2 21-3 4-6 2-20-14 10-11zM437 214l-14 0-11-17 0-3 8-10 13-1 6 7 0 21zM254 357l-1-20-15-4-11 13 18 13zM645 710l22 2-5 23-16-2-6-10zM602 727l18-3 1 1 4 25-21-4zM867 412l24 8 0 10-21 13-11-8 4-21zM342 235l19-3 7 21-2 4-26-6zM640 723l-19 2 4 25 3 2 7-2 11-17zM900 409l19 8 3 10-12 15-7 0-12-12 0-10zM938 369l6 21-11 10-12-10 7-22zM643 262l-15 3 0 19 19 0 3-4zM739 131l3 1 10 18-2 5-21 1-3-12zM933 400l0 3 13 13 19-11 0-1-10-13-11-1zM228 395l2 8-17 15-18-22 7-11zM249 261l1-2 20-4 14 9-3 12-22 3-8-7zM283 216l-9 18-2 1-13-4-2-3 6-17 10-3zM709 133l-15-9-15 13 0 6 10 8 14-4 6-11zM900 409l19 8 14-14 0-3-12-10-12 1-9 12zM789 709l-4 0-16-19 3-9 19 1 11 17-3 6zM866 281l-9-11-14 0-10 11 17 20 15-17zM250 259l20-4 2-20-13-4-12 18zM300 336l-12 19-13-7-2-13 18-5zM361 705l3 20 10 5 14-13-3-13-23 0zM264 324l0 5-11 8-15-4-3-13 18-8zM622 122l-18-14-3 0-12 14 16 17 17-14zM730 116l7-11 8-3 14 9 3 11-20 10-3-1zM397 745l6-21-15-7-14 13 1 4zM627 182l-2 4-16 3-10-15 3-4 16-1zM343 209l1-1 8 1 13 15-4 8-19 3-4-6zM343 209l-21-2-6 6 6 16 16 0zM628 154l-2 0-21-10 0-5 17-14 11 11zM368 751l7-17 22 11-10 19-7-1zM730 116l7-11-15-16-17 10 1 3 16 15zM420 184l-8-15-13-4-1 0-8 20 22 9zM910 442l14 15 16-8 0-16-18-6zM730 116l9 15-13 13-17-8 0-3 13-16zM742 132l20-10 5 4-4 20-11 4zM607 774l18-9 3-13-3-2-21-4-8 7zM185 428l1-29-3-1-21 13 2 8zM722 117l-16-15-13 16 1 6 15 9zM152 460l-9 10 5 17 20-4 6-9-4-11zM485 803l-16-24 1-1 21-4 11 9zM775 97l-16 14-14-9 4-16 10-3 16 10zM212 366l-17-22 0-2 19-7 13 11-13 19zM919 417l14-14 13 13-1 11-5 6-18-6zM322 207l-4-19-20 0-1 3 0 23 19-1zM248 199l-8 8 4 15 13 6 6-17zM932 479l-9-20 1-2 16-8 10 6 1 15-12 10zM143 519l-19-9 1-17 22-4 5 24-1 3zM670 83l17-19-4-11-9-3-15 14 3 15zM337 746l9-5 15 11-9 16-15-2-4-4zM679 143l10 8-2 15-21 3-3-14zM670 83l6 12 21-4 3-19-13-8zM839 243l-6 9 10 18 14 0 7-22-4-4zM715 67l-15 5-3 19 8 8 17-10 2-12zM866 281l14-6 9 4 4 13-9 13-19-21zM163 691l8-15 10-3 4 3 8 18-17 9zM739 75l10 11 10-3 4-13-12-14-4 0zM775 93l-16-10 4-13 20-5 1 1 2 12zM605 139l0 5-5 5-17 2-7-22 2-6 11-1zM372 179l0-16-16-9-3 1-9 16 2 10 19 3zM786 125l-19 1-5-4-3-11 16-14 11 9zM791 130l-3 13-15 9-10-6 4-20 19-1zM195 539l-11 12 13 14 17-5-5-18zM400 223l-14 8-11-9 5-16 3-1 14 4zM701 36l-18 17 4 11 13 8 15-5 4-16zM249 261l1-2-3-10-11-7-15 6 0 16zM747 56l4 0 9-7-25-11-2 6zM318 188l-20 0-3-10 11-19 12 0 3 6-3 22zM125 493l22-4 1-2-5-17-12-4-14 9-1 11zM306 159l-11 19-18-9 6-14 14-3zM227 346l11-13-3-13-10-6-8 5-3 16zM95 503l2 5 18 9 9-7 1-17-9-7-16 5zM710 160l-7-13-14 4-2 15 12 13zM719 51l-4 16 9 10 15-2 8-19-14-12zM751 56l12 14 20-5-4-7-19-9zM413 720l13 21-6 12-23-8 6-21 9-4zM724 77l-2 12 15 16 8-3 4-16-10-11zM225 770l-8-2-5-21 10-7 22 10 1 3-5 10zM791 130l19-2 6-6-2-13-13-10-15 7 0 19zM679 137l15-13-1-6-21-12-1 0-1 23zM72 486l-20 5-3 14 8 10 9-1 10-12zM786 106l-11-9 0-4 11-15 16 9-1 12zM926 342l11-3 1-2-2-20-17 0-4 20zM921 607l10 17 6-2 9-14-7-17-1-1zM244 182l5 10-1 7-8 8-18 0-6-6 7-15zM195 301l-2 12 24 6 8-5 0-15-22-5zM124 401l26-10 1 1 4 14-22 15zM664 35l10 15 9 3 18-17 0-1-9-11-18-2zM851 647l8 10-6 12-21 3-3-21 1-2zM889 279l18-12 7 26-21-1zM832 672l-3-21-23 1-3 12 18 14 6 0zM584 26l-2 16 17 8 6-16-11-9zM701 35l10-9-3-1-16-1zM246 173l-2 9 5 10 22-4 2-17-14-6zM112 444l-9 13 14 18 14-9-1-15zM964 451l1-19-20-5-5 6 0 16 10 6zM571 18l3 0 10 8-2 16-12 9-2-1-12-15zM279 802l-3-6-3-1-18 4-7 14 16 10 12-5zM259 165l14 6 4-2 6-14-7-10-17 1-1 1zM304 803l-25-1-3 16 14 13 14-13zM719 51l14-7 2-6-24-12-10 9 0 1zM221 264l0-16-13-11-8 17 9 16 8-1zM594 25l11 9 13-3 2-13 0-1-21-1zM214 335l3-16-24-6 0 1-4 21 6 7zM244 222l-4-15-18 0 0 17 12 6zM100 491l16-5 1-11-14-18-8 1-4 24zM134 572l4 5-2 20-5 4-16-7-2-16zM175 736l9 21 21-12-10-19-11 0zM965 404l0 1 3 3 0-6zM965 296l3 8 0-14zM145 441l-15 10 1 15 12 4 9-10zM965 432l3-3 0-21-3-3-19 11-1 11zM184 757l21-12 7 2 5 21-14 12-16-7-4-14zM783 65l1 1 5-3-10-5zM916 294l17-4 5 3 4 18-6 6-17 0-6-8zM900 403l9-12-8-21-6 1-14 18zM866 281l-9-11 7-22 18 0 1 1-3 26zM153 436l-7 2-1 3 7 19 18 3 5-17zM246 788l5-12-11-13-15 7 8 20zM827 707l-19-10 13-19 6 0 12 20-2 5zM965 432l-1 19 4 2 0-24zM338 102l15-13 16 11 1 10-8 10zM146 438l-13-17-22 13 1 10 18 7 15-10zM247 249l12-18-2-3-13-6-10 8 2 12zM213 166l10 20-7 15-14 0-3-4-3-15zM944 258l-6 0-6 5 1 27 5 3 12-5 6-20zM574 18l10 8 10-1 5-9-23-2zM512 810l2-2 24 11-17 19-11-8zM966 267l2 4 0-6zM574 18l2-4-11-1 6 5zM460 810l25-6 3 4-1 22-25-4zM233 790l-6 11-5 1-17-8-2-14 14-12 8 2zM203 275l-22-1-2-4 6-16 15 0 9 16zM234 834l-17-13 5-19 5-1 16 13zM109 711l17 9 1 5-10 11-13-3-6-11zM823 79l-6-3 1 1zM273 208l-10 3-15-12 1-7 22-4 4 4zM117 397l10-21 17 0 6 15-26 10zM927 629l15 23-3 3-21 1-6-21zM234 836l-23 11 0 5 19 17 2-1 9-26zM275 192l-4-4 2-17 4-2 18 9 3 10-1 3zM880 275l3-26 25 16-1 2-18 12zM133 567l16-19 3 0 12 18-7 11-19 0-4-5zM95 503l-19-1-4-16 2-4 17 0 9 9zM133 567l16-19-15-12-6 2-6 15zM123 690l-1-3-20-11-10 18 17 9zM529 48l7 2 16-15-13-17-18 14zM179 270l-20-5-1-12 9-9 15 3 3 7zM297 152l-14 3-7-10 7-18 2-1 13 10zM133 567l-11-14-18 2-4 3 6 17 7 3 21-6zM206 234l-9-21-18 7-1 3 9 13zM117 397l7 4 9 20-22 13-11-10 0-1zM317 93l-6 21 8 14 11-6 8-20-13-9zM246 173l-2 9-21 4-10-20 1-4 13-8zM180 173l16 9 17-16 1-4-15-10-15 7zM83 717l5-21-15-10-12 14 8 17zM510 830l11 8 1 9 0 2-10 7-19-2-7-7 3-14zM259 146l-2-25 26 6-7 18zM84 433l-2 20 13 5 8-1 9-13-1-10-11-10zM439 809l-15 3-8 17 16 9 8-3zM316 63l-7 23 8 7 8 0 15-26zM46 558l23 8 2 4-16 20-4 0-13-7-1-2zM221 248l-13-11 0-2 14-11 12 6 2 12zM888 213l14 0 6-4 2-9-13-16-15 12zM187 236l-9-13-12 6 1 15 15 3zM208 235l14-11 0-17-6-6-14 0-5 12 9 21zM713 922l-1-19 15-9 12 16-6 15zM521 32l18-14-5-8-25-2-1 12 5 9zM285 126l-2 1-26-6 0-1 3-10 15-8 15 8 0 2zM192 818l0-10 13-14 17 8-5 19-17 6zM967 724l1-12 0-11-6-8-6-1-12 9 3 18zM522 849l13 20-15 12-9-5 1-20zM172 797l20 11 13-14-2-14-16-7-15 12zM962 237l-18 21 12 10 10-1 2-2 0-26-2-2zM486 23l22-3 1-12-27-2zM304 803l21 2 3 14-7 8-17-9zM106 391l11 6 10-21-11-17-5-1-7 9zM966 237l2 2 0-7zM258 147l1-1-2-25 0-1-21 2-7 11 1 14zM172 842l2-16 18-8 8 9 0 7-21 17zM240 920l-10-20-6-2-9 6-4 11 13 13zM966 267l-10 1-6 20 15 8 3-6 0-19zM962 237l4 0 2-5 0-14-13-11-9 7 1 14zM89 394l-6 9 17 20 17-26-11-6zM164 760l-9 14-4 1-8-6 1-21 13 0zM236 122l21-2 3-10-6-14-15-2-7 18zM40 617l0-1-19-15-2 0-10 17 17 16zM445 890l12-15 15 2-1 20-3 3-9 1zM450 917l9-16-14-11-6 0-7 9 4 18zM74 426l10 7-2 20-22-9 2-11zM298 136l-13-10 5-14 21 2 8 14 0 1zM121 750l-4-14-13-3-11 15 5 12 21-5zM925 216l0 19 6 3 16-10-1-14-13-4zM967 724l1 1 0-13zM234 834l-17-13-17 6 0 7 11 13 23-11zM291 80l9 7-10 23-15-8 1-15zM98 760l-5 10-21 3-6-24 1-2 14-5 12 6zM317 93l-6 21-21-2 0-2 10-23 9-1zM895 749l12 19-2 8-13 6-12-17 9-18zM819 908l2 6 22 7-2-26-1-1-9 1zM195 889l-13-11 5-16 12 1 6 14zM474 876l17 0 2-22-7-7-14 6zM145 319l-10 15-15-6 2-17 16-4 3 2zM288 62l22-9 6 10-7 23-9 1-9-7zM246 173l-19-19 3-7 28 0 1 18zM555 884l-7-2-12 16 22 14 8-8zM943 159l-3 4 2 22 2 0 19-5 2-4-8-18-1-1zM83 717l-14 0-12 11 10 19 14-5 3-23zM83 403l17 20 0 1-16 9-10-7-2-17 2-3zM491 876l2-22 19 2-1 20-14 6zM946 608l17 1 2 9-12 12-16-8zM128 262l-3 23-10 3-10-9 7-17 15-3zM52 621l18-12 6 8-4 22-11 2zM159 866l-15-11-1-3 9-12 20 2 7 9 0 1zM98 722l-14-3-3 23 12 6 11-15zM9 618l-8 1 0 27 20 0 5-9 0-3zM177 174l-7 21-19-9 3-16 3-2zM187 862l-8-10 0-1 21-17 11 13 0 5-12 11zM912 154l5 10 23-1 3-4-9-19-21 5zM910 121l-3 13 6 11 21-5 4-7-24-12zM172 797l0-12-17-11-4 1-6 17 4 8 15 3zM497 882l14-6 9 5 6 20-4 5-26-11zM89 394l-6 9-9 3-14-16 6-12 13-5zM459 936l2-5-11-14-14 0-10 15 0 2 3 2 27 3zM276 87l-1 15-15 8-6-14 8-16zM967 724l-20-5-5 5 1 18 17 0 8-10 0-7zM927 189l3 1 12-5-2-22-23 1-2 9zM933 210l-3-20 12-5 2 0 11 22-9 7zM474 876l17 0 6 6-1 13-3 3-22-1 1-20zM874 913l7 10-12 18-25-14 0-4 20-13zM127 771l-5 9-20 2-9-12 5-10 21-5zM99 308l-4-2-6-19 7-8 9 0 10 9-4 16zM817 937l20 0 7-10 0-4-1-2-22-7-9 15zM922 745l19-1 3 15-10 11-12-9zM9 618l10-17-7-8-11 1 0 25zM180 173l16 9 3 15-29 1 0-3 7-21zM895 749l24-6-2-21-1-1-16-3-2 1-10 26 1 2zM919 743l-2-21 25 2 1 18-2 2-19 1zM266 61l-17-11-13 17 4 8 21 2zM182 878l-19 6-2 0-2-18 20-14 8 10zM114 331l-16-9 1-14 12-4 11 7-2 17zM72 802l-19-1-9-17 2-7 25-3 3 25zM839 949l18 8 12-16-25-14-7 10zM456 939l-3 23-12 4-3-2-9-28zM166 143l18 16-4 14-3 1-20-6 7-25zM227 154l-13 8-15-10-2-23 3-2 29 6 1 14zM67 747l-1 2-26 7 0-28 2-2 15 2zM461 931l14-11-7-20-9 1-9 16zM200 127l9-25 23 10 4 10-7 11zM167 244l-1-15-18-7-1 1-3 20 14 10zM539 18l10-7-15-1zM149 827l-13-9-2 0-8 8 1 19 16 7 9-12zM164 143l-13-3-10 4-2 19 15 7 3-2zM182 911l1-5 12-12 20 10-4 11-9 5-19-7zM288 62l3 18-15 7-14-7-1-3 5-16 13-5zM144 243l-15 7-14-20 2-4 30-3zM199 946l23-7 9 9 1 8-12 9-16-8zM76 258l7-1 13 22-7 8-17 0 2-27zM960 742l4 22 2 1 2 0 0-33zM36 762l-5 0-15-14 4-17 20-3 0 28zM934 774l11 7 17-6 4-10-2-1-20-5-10 11zM19 379l14-20-18-11-5 3-7 21zM103 848l-2-24-25 1 0 24 10 4zM110 854l17-9 16 7 1 3-13 17-7 1-13-11zM261 77l-21-2-4 13 3 6 15 2 8-16zM50 333l-2 0-1 0-14-27 5-7 9-2 13 16zM48 267l8 20 15 0 1 0 2-27zM46 777l-10-15-5 0-15 12 2 20 4 4 22-14zM508 945l-20-6-8 8 0 5 11 11 17-9zM95 249l17 13 15-3 2-9-14-20-17 7zM161 884l-2-18-15-11-13 17 11 13 18 0zM236 67l-14-3 0-15 13-9 13 6 1 4zM209 102l-2-6 10-9 19 1 3 6-7 18zM16 774l15-12-15-14-15 3 0 19zM128 262l24 10-1 7-18 10-8-4zM772 949l-4-18-10-3-17 8 11 21 2 1zM95 249l17 13-7 17-9 0-13-22zM534 945l-6-6 4-17 23 1 1 0-10 20zM42 819l-1-2-18-12-13 13 2 8 16 14zM76 258l7-1 12-8 3-12-11-12-13 0-11 11 0 2zM166 143l5-6 26-8 2 23-15 7zM190 81l6 10 11 5 10-9 2-21-16-2zM33 359l15-26-1 0-29-1-3 16zM85 194l-17 3-3 6 9 22 13 0 7-20zM44 784l-22 14 1 7 18 12 12-16zM907 768l15-7 12 9 0 4-13 13-16-11zM941 744l3 15 20 5-4-22-17 0zM119 202l-1-11-13-12-15 6-5 9 9 11 21 2zM165 914l-10-11 5-18 1-1 2 0 20 22-1 5zM110 854l-7-6-17 5 1 17 11 5 13-13zM48 267l-14 3-7 15 11 14 9-2 9-10zM151 186l3-16-15-7-9 4 0 14 16 8zM131 872l-7 1-12 24 3 2 18 0 9-14zM968 836l0-37-16 6-3 23 18 9zM202 920l9-5 13 13-2 11-23 7zM966 765l-4 10 6 17 0-27zM157 932l-1 18-8 7-7-1-12-16 5-13 5-2 17 5zM18 331l7-21-20-8-2 1-2 5 0 15zM87 870l-12 8-9-13 7-15 3-1 10 4zM166 143l5-6-4-21-19 0 0 1 3 23 13 3zM208 985l-11-6 7-22 16 8 0 16zM208 985l-11-6-6 0-8 11 25 0zM173 109l-9-14 4-14 11-4 11 4 6 10-18 18zM160 885l-18 0-9 14 8 10 14-6zM27 285l11 14-5 7-8 4-20-8 8-17zM1 302l0 6 2-5zM141 205l5-16 5-3 19 9 0 3-1 4-21 13zM34 202l18 7 13-6 3-6-10-16-22 12zM32 203l-5 21 4 5 19-5 2-15-18-7zM177 964l-13 11-10-4-6-14 8-7 22 6zM124 972l-11-11 9-19 7-2 12 16zM201 8l17-2 8 17-16 9-13-19zM18 794l-2-20-15-4 0 22zM154 971l-10 11-19-5-1-5 17-16 7 1zM229 984l-9-3-12 4 0 5 23 0zM197 50l1-5 10-6 14 10 0 15-3 2-16-2zM179 77l-1-20 19-7 6 14-13 17zM179 77l-11 4-18-11 2-16 7-5 10 0 9 8zM102 118l-5 14 6 9 16 0 6-4 0-11-19-10zM3 372l7-21-9-3 0 24zM141 144l10-4-3-23-16 1-7 8 0 11zM164 975l-10-4-10 11 1 5 9 3 15 0zM144 982l-19-5-1 1 21 9zM200 254l8-17 0-2-2-1-19 2-5 11 3 7zM181 31l16-18 13 19-2 7-10 6zM79 133l-1 19 5 6 13-3 7-14-6-9zM248 5l1 0-2 0zM46 248l-15-7 0-12 19-5 13 12 0 2zM51 947l14 7 11 4 13-8-15-16-17 2zM173 109l-6 7 4 21 26-8-19-20zM191 979l-14-15-13 11 5 15 14 0zM229 984l18-16-15-12-12 9 0 16zM955 207l13 11 0-21zM952 805l16-6 0-7-6-17-17 6 1 19zM91 950l13-16 18 8-9 19-14 0zM85 194l-17 3-10-16 0-4 23-10 9 18zM32 203l-5 21-21-1 0-18 9-7zM48 267l-14 3-16-15 13-14 15 7zM181 31l-13-11-12 2-1 0 4 27 10 0zM201 8l17-2 1 0-19 0zM81 109l-23-3-4 7 4 16 19 1zM58 177l23-10 2-9-5-6-21-1-4 18zM222 49l13-9-5-16-4-1-16 9-2 7zM16 255l2 0 13-14 0-12-4-5-21-1-5 4 0 16zM32 911l0-12-6-6-18 3-5 9 1 2 5 13zM77 130l-19-1-8 12 7 10 21 1 1-19zM8 896l18-3 0-17-5-3-18 2-2 6 0 7zM895 749l24-6 3 2 0 16-15 7zM30 147l-1 6 9 15 15 1 4-18-7-10-12 0zM99 961l-8-11-2 0-13 8 21 9zM5 274l11-19-15-12 0 31zM197 13l4-5-1-2-18 1zM35 85l-11 13 8 18 22-3 4-7-2-6-20-15zM102 118l-5 14-18 1-2-3 4-21 2-2zM8 896l-7-8 0 10 2 7zM6 205l-5-2 0 24 5-4zM36 193l22-12 0-4-5-8-15-1-9 10zM178 57l-9-8 12-18 17 14-1 5zM1 179l0 24 5 2 9-7-4-19zM36 916l-4-5-23 9-2 3 1 3 20 10zM197 13l-15-6-8 0-6 13 13 11zM156 22l12-2 6-13-25 1zM32 203l-17-5-4-19 3-3 15 2 7 15-2 9zM9 920l-5-13 3 16zM38 141l12 0 8-12-4-16-22 3-2 5zM30 147l-18-8-4-12 22-6 8 20zM14 176l0-12 15-11 9 15-9 10zM3 875l-2-3 0 9zM14 164l15-11 1-6-18-8-11 14 0 1z"/>
<path fill="#00bfff" d="M473 428l14 4 3 15-12 10-16-13zM446 438l1-17 10-10 10 5 6 12-11 16-5 1zM457 445l5-1 16 13-1 9-18 3-8-6zM457 411l-4-12-18-5-13 22 25 5zM412 414l-17 13 7 21 23-1 1-3-5-27zM425 447l6 20 2 0 18-4 6-18-11-7-20 6zM651 403l-11 13-16 0-6-13 11-17 3 1zM412 414l-6-11 10-21 15 4 4 8-13 22-1 1zM630 363l-1 22 0 1 3 1 23-13-11-18-3 0zM660 556l-7-10-12 1-7 11 5 12 16 0zM630 363l-20-7 4-13 11-7 6 1 10 19zM391 397l4-23-21-5-8 16 19 14zM396 565l-14-1-7-17 23-10 12 10zM641 356l3 0 18-14-7-14-7-2-17 11zM354 551l20-4 1 0 7 17-6 10-14 6-9-4-4-17zM354 551l-7-15-18-1-3 3 8 18 15 3zM588 357l19 2 2 15-16 17-6-3-2-28zM392 491l-17 14 1 11 21 6 6-4 0-20zM610 356l-3 3-19-2-3-12 9-16 2-1 18 15zM698 312l-14 10-15-8-2-10 11-13 9 1zM349 559l4 17-14 8-4-1-11-16 10-11zM625 336l-4-19 12-9 6 1 9 17-17 11zM314 566l10 1 11 16-18 12-7-1-3-22zM685 567l-13-11 7-16 20 0 2 2-11 22zM718 294l-17 19-3-1-11-20 15-11 7 0 9 8zM407 578l-4 12 15 13 15-12-10-18zM383 333l-18 6-6 17 14 10 15-21zM762 427l-2-7-24-5-3 2 0 22 11 9 3 0zM374 451l9 7-8 17-9 3-11-6 0-13 6-8zM662 585l-7-15-16 0-8 12 3 12 2 1zM695 593l-1 6-8 8-19-5-3-16 18-8zM329 535l2-22 11-4 13 16-8 11zM354 435l-24 5-1-1-1-15 13-11 6 2 7 19zM768 410l-8 10-24-5-2-12 8-12 10-3zM450 584l-3-22 19-2 6 22-5 5zM448 613l-26 4-4-5 0-9 15-12 7 2zM542 286l0 25-2 3-16-1-7-5 1-20 10-7zM702 281l-13-20-18 15 7 15 9 1zM326 538l-14 1-2 3 4 24 10 1 10-11zM664 586l3 16-12 14-19-21 26-10zM625 680l-17 17 12 10 19-7 1-8zM799 383l8-3 1-14-18-6-8 5 0 11zM396 306l2 3-5 12-8 5-17-12 7-19zM346 678l0-3 25-8 5 13-14 13zM534 698l-23 8-7-5 1-20 19 0 10 8zM273 432l1 15 22 3 6-12-2-8-15-12zM790 343l0 17 18 6 7-7-3-18-2-1zM646 200l-11 6 1 6 18 14 5-1 6-19zM559 286l6 21 6 4 16-13-11-16zM812 341l25-6 4 15-9 13-17-4zM843 409l-7 16-3 2-12-8 2-24 15 5zM771 545l-19 12-6-11 4-17 17-4 4 6zM710 584l14 7 11-21-15-10-11 11zM826 520l0-2-5-18-20-3-4 2-3 8 5 17 18 3zM765 571l-13-8 0-6 19-12 11 10-1 8zM807 440l4-17-15-13-6-1-1 26 6 5zM668 655l18 9-6 16-18 5-7-3-2-10zM838 400l-15-5 0-1 12-23 13 4 5 14zM826 446l-10 1-9-7 4-17 10-4 12 8zM387 277l15 12-6 17-21-11-1-5 7-11zM709 571l11-11-1-9-18-9-11 22zM635 206l1 6-9 15-21-5 1-13 25-5zM846 534l-20-14-9 7 3 18 21 1 6-10zM273 432l12-14-1-6-4-5-19 2-4 17zM873 541l1-10-16-16-12 19 1 2 21 7zM795 550l10 5 11-3 4-7-3-18-18-3-5 6zM839 454l19-18-22-11-3 2-7 19zM873 541l1-10 15-15 11 16-7 16-7 2zM367 625l-10 22 17 10 10-5-3-21-13-7zM651 179l-9-4-15 7-2 4 7 18 3 2 11-6zM869 370l10-9 16 10-14 18-7 0zM770 589l0 1-16 4-5-3-5-22 8-6 13 8zM699 179l-12-13-21 3-3 8 9 13 27-8zM672 190l-2 12-5 4-19-6 5-21 12-2zM280 644l-9-2-6-15 13-14 8 5 5 17zM843 409l20 5 4-2 1-19-15-4-15 11zM278 613l-2-5-12-11-11 4-9 16 6 7 15 3zM654 150l-15 9 3 16 9 4 12-2 3-8-3-14zM710 584l14 7 3 7-1 11-10 5-22-15 1-6zM625 680l-17 17-8 0-3-22 16-6 11 6zM766 617l9-9-5-18-16 4-1 20zM801 573l4-18 11-3 14 22 1 1-3 3-23 0zM753 614l1-20-5-3-22 7-1 11 15 11zM782 586l6-12-7-11-16 8 5 18zM853 389l-5-14 11-9 10 4 5 19-6 4zM766 617l-13-3-12 6 0 17 13 5 17-11zM809 324l-16-4-4-11 8-13 21 17zM788 574l13-1 4-18-10-5-13 5-1 8zM711 624l8 20-4 5-18 3-11-24zM789 235l12-18-15-11-8 5-3 13zM645 710l-6-10-19 7 0 17 1 1 19-2zM843 409l-7 16 22 11 1-1 4-21zM259 361l16-13 13 7 2 9-7 9-23-10zM727 598l-3-7 11-21 9-1 5 22zM235 379l21 6 4-22-1-2-5-4-9 2-11 16zM261 409l-8-7 3-16 23 2 1 19zM804 250l-15-14 0-1 12-18 9-1 2 1 5 10-8 22zM741 637l-8 6-14 1-8-20 5-10 10-5 15 11zM796 597l-10 13 7 13 10-1 12-17-14-9zM195 396l-9 3-1 29 1 2 21-2 6-7 0-3zM273 432l1 15-10 9-7-2-10-23 10-5zM256 657l15-15-6-15-15-3-6 19 7 14zM801 596l14 9 2-1 5-4 6-22-23 0zM809 324l1 16 2 1 25-6 0-1-5-20-9-3-5 2zM305 708l7-23 2 0 19 7 4 15-3 5-5 4zM873 460l7 3 6 22-10 8-17-8 0-16zM241 669l-3 1-20-11 4-19 22 3 7 14zM235 379l21 6 0 1-3 16-16 4-7-3-2-8zM925 366l3 2-7 22-12 1-8-21 3-4zM606 222l-4 4-22-6-2-6 7-15 19 4 3 6zM625 186l7 18-25 5-3-6 5-14zM556 710l7-3 12 7 3 17-3 6-6 1-17-11zM222 639l6-24 16 2 6 7-6 19-22-3zM575 714l21-14-20-11-10 6-3 12zM729 156l-3 5 3 12 7 4 17-8-3-14zM257 426l-10 5-3-1-7-24 16-4 8 7zM863 329l-26 5-5-20 18-10 16 15zM286 684l-4 21-5 3-19-3-1-1 2-18 16-10zM889 516l0-1 11-8 16 7-2 15-14 3zM235 379l-7 16-26-10 1-8 9-11 2-1 20 10zM302 728l1-19-21-4-5 3 3 24 10 4zM285 284l-8 16-18-2 0-19 22-3zM433 183l12-21-13-13-6 2-14 18 8 15zM810 216l0-22-5-5-17 4-2 13 15 11zM868 543l-21-7-6 10 3 10 14 4zM810 216l0-22 23-4 2 16-23 11zM927 507l-11 7-16-7 2-19 3-2 15 3zM185 428l-21-9-11 17 22 10 7-4 4-12zM894 576l14-7-4-15-11-6-7 2-4 18zM782 586l14 11 5-1 4-18-4-5-13 1zM940 511l4 12-16 17-2 1-12-12 2-15 11-7zM201 634l21 5 6-24-22 1zM280 732l-9 5-20-9 7-23 19 3zM201 611l5 5 22-1-3-16-15-10-6 1zM412 720l-9 4-15-7-3-13 2-2 19-4zM656 781l-1-5 4-11 20-2 5 4-1 18-14 4zM412 197l-15 12-14-4 5-19 2-1 22 9zM766 617l9-9 11 2 7 13-8 12-2 1-12-5zM201 634l21 5 0 1-4 19-8 3-15-13 4-14zM180 614l0 11 19 10 2-1 5-18-5-5zM957 530l0 16-12 7-17-13 16-17zM259 686l-2 18-21-4-5-13 7-17 3-1zM423 214l-11 14-12-5-3-14 15-12zM259 361l16-13-2-13-9-6-11 8 1 20zM742 764l12-20 0-3-9-8-24 14-2 4 14 13zM964 497l-14 3-10 11 4 12 13 7 11-4 0-26zM908 569l-4-15 19-9 3 19-12 7zM516 764l2 11-5 8-11 0-11-9 3-23 2 0zM451 734l4 18 13 6 19-11-4-13-12-6zM917 583l-3-12 12-7 13 6-3 17zM845 215l-10-9-23 11 5 10 18 5zM202 385l-7 11-9 3-3-1-12-14 2-18 4-1 26 12zM320 735l1-1 8-18-24-8-2 1-1 19zM920 489l-15-3 1-15 17-12 9 20zM903 442l7 0 14 15-1 2-17 12-13-12zM180 614l21-3 3-21-13-6-2 1-9 8zM212 366l-17-22-18 21 26 12zM938 369l6 21 11 1 10-18-1-5-9-7-4 0zM683 811l6-4 8 3 8 16-3 6-21 1-3-7zM195 344l-18 21-4 1-5-3-2-26 23-2 6 7zM210 662l-1 1 2 24 20 0 7-17-20-11zM185 676l24-13 2 24-11 10-7-3zM540 751l-2 22-20 2-2-11 10-14zM593 799l20 6 1-1 3-6-11-23-15 6zM210 662l-1 1-24 13-4-3-1-19 15-5zM401 146l-17-7-7 21 21 5 1 0zM846 534l12-19-1-1-7-7-24 11 0 2zM938 590l1 1 24-4 3-6-4-11-18-4-5 4-3 17zM512 810l2-2 3-16-4-9-11 0-17 20 0 1 3 4zM926 342l11-3 14 22-13 8-10-1-3-2zM926 342l-1 24-21 0-3-26 14-3zM965 373l-10 18 10 13 3-2 0-27zM133 421l13 17 7-2 11-17-2-8-7-5zM618 169l-16 1-2-21 5-5 21 10zM296 754l-12 11-13-3-4-7 4-18 9-5 10 4zM708 785l-19 5 0 17 8 3 15-9zM724 780l9-16 9 0 5 6-3 26-6 2zM162 325l4 11 0 1 23-2 4-21-22-3zM649 812l-19 10-16-18 3-6 12-6 17 6zM307 757l13-22-18-7-12 8 6 18zM271 737l-20-9-7 22 1 3 22 2zM712 801l-15 9 8 16 20-6 2-2 0-9zM964 368l1 5 3 2 0-9zM226 723l25 5-7 22-22-10zM626 64l-6-7 3-19 23-1-3 21-10 7zM709 136l-6 11 7 13 16 1 3-5-3-12zM318 159l3 6 23 6 9-16-9-8-20 0zM944 566l18 4 6-12 0-3-11-9-12 7zM384 139l-7 21-5 3-16-9 12-22zM406 143l5-20 1-1 14 2 8 16-2 9-6 2zM155 406l7 5 21-13-12-14-20 8zM307 757l7 7-4 17-3 3-20-6-3-13 12-11zM863 329l-26 5 0 1 4 15 15 3 11-11zM957 530l0 16 11 9 0-29zM738 798l6-2 10 4 3 5-5 24-1 1-24-12 0-9zM790 793l-2 1-19-11-2-10 9-12 7-1 5 2 8 20zM261 776l-10 0-11-13 5-10 22 2 4 7zM562 819l7 6 17-4 1-17-19-6-2 1zM651 813l6 8 21 5 5-15-14-8zM805 189l5 5 23-4 4-8-1-3-11-9-18 4zM921 607l17-17-2-3-19-4-8 10 2 11zM149 548l3 0 12-13 0-2-13-17-8 3-9 17zM307 757l7 7 19-2 4-16-16-12-1 1zM865 284l-15 17 0 3 16 15 18-6 0-8zM158 692l-12-9-16 10 5 10 14 5zM540 818l6 3 16-2 4-20-19-9-7 7zM276 796l-3-1-12-19 10-14 13 3 3 13zM174 710l2-7 17-9 7 3 7 14-12 15-11 0zM142 643l7 20 1 0 22-16-2-10-10-3zM304 803l-25-1-3-6 11-18 20 6zM915 337l4-20-6-8-24 7 8 23 4 1zM195 726l12-15 16 5 3 7-4 17-10 7-7-2zM629 861l-20-9-5 8 7 19 20-5zM277 300l-18-2-5 4-1 10 11 12 17-15zM649 34l15 1 10-13-30-2zM538 773l9 7 0 10-7 7-23-5-4-9 5-8zM726 867l1-20 14-2 9 12-5 11zM401 146l-17-7 9-19 18 3-5 20zM741 845l-14 2-1-2-1-25 2-2 24 12zM767 773l-20-3-3 26 10 4 15-17zM276 818l-12 5-6 17 19 7 14-8-1-8zM939 591l24-4 4 14-4 8-17-1zM964 497l4-14 0-3-17-10-12 10 11 20zM923 545l3-4 2-1 17 13-1 13-5 4-13-6zM950 288l-12 5 4 18 15 4 11-8 0-3-3-8zM166 337l2 26-19 2-10-16 0-2 27-11zM817 800l0-22-21 4-6 11 8 8zM494 751l-3 23-21 4-2-20 19-11zM931 624l-4 5 15 23 6 0 8-8-3-14-16-8zM822 721l5-14 10-4 9 15-10 15zM820 822l0-18-3-4-19 1 1 19 13 8zM163 691l8-15-21-13-1 0-2 2-1 18 12 9zM164 296l14-9 17 14-2 12 0 1-22-3zM769 783l19 11-13 15-18-4-3-5zM291 839l12 10-1 10-15 15-11 0-3-5 4-22zM142 643l7 20-2 2-19 2-12-11-1-7 6-8 13-3zM123 690l-1-3 6-20 19-2-1 18-16 10zM620 18l3 0-3-1zM71 570l-16 20 15 16 18-14 0-3-16-18zM621 903l-11-21 1-3 20-5 10 9-2 7zM514 808l24 11 2-1 0-21-23-5zM653 912l9-1 7-20-12-14-16 6-2 7zM965 618l-12 12 3 14 12 1 0-25zM154 721l-13 9 3 17 0 1 13 0 11-12zM246 788l9 11-7 14-5 1-16-13 6-11zM819 871l-5 7 17 17 9-1 5-24-9-5zM252 843l7 20-16 10-11-5 9-26zM540 818l6 3 2 25-26 1-1-9 17-19zM858 768l4-28-26 0 0 1 8 24zM145 319l17 6 9-14-7-15-2-1-21 14zM817 778l5-4-10-22-24 10 8 20zM234 834l9-20 5-1 16 10-6 17-6 3-11-1-7-6zM411 104l1 18-1 1-18-3-5-8 9-13zM864 189l0-1 7-19 15-4 11 17 0 2-15 12zM1 446l0 9 7 7 14 1 3-10-12-19-8 0zM956 644l-8 8 11 17 9-1 0-23zM8 462l-7 10 0 14 23-1 6-10-8-12zM806 846l13 25 17-6-1-16-24-8zM8 462l-7-7 0 17zM145 319l-10 15 4 13 27-11-4-11zM522 849l0-2 26-1 4 3 0 10-10 12-7-2zM866 737l-1-18 3-5 8-3 22 8-10 26zM168 736l-11 12 7 12 19-1 1-2-9-21zM72 639l16 7 4-2 5-24-21-3zM636 212l18 14-12 16-11-3-4-12zM814 878l17 17-12 13-17-8zM70 609l0-3 18-14 13 12 2 12-6 4-21-3zM925 216l-17-7-6 4 6 23 4 2 13-3zM897 646l-1 19 15 2 7-11-6-21zM273 795l-18 4-9-11 5-12 10 0zM113 578l2 16-14 10-13-12 0-3 18-14zM276 874l11 0 16 19-12 12-13-1-7-21zM962 693l6 8 0-13zM709 927l4-5 20 3 8 11-19 14-1 0zM244 921l8 15-21 12-9-9 2-11 16-8zM439 890l-9-16-21 7 3 18 20 0zM939 655l-3 19-14 8-11-15 7-11zM122 553l6-15-14-10-8 6-2 21zM108 352l6-21 6-3 15 6 4 13 0 2-23 10-5-1zM795 927l5-26 2-1 17 8 2 6-9 15zM568 875l-1-9-15-7-10 12 6 11 7 2zM493 898l-2 21-4 4-12-3-7-20 3-3zM741 936l17-8-3-20-16 2-6 15zM258 840l19 7-4 22-14-6-7-20zM797 955l17-6 3-12-5-8-17-2-5 26zM637 920l-16-17 18-13 14 22-8 9zM320 924l-16 3-8-6-5-16 12-12 2 0 18 16zM869 881l-11-12-13 1-5 24 1 1 17 2zM797 955l12 21-1 5-23 0-5-3 4-23 6-2zM89 394l-10-21 25-6 2 24zM957 315l1 17-20 5-2-20 6-6zM426 932l-20-15-1-9 7-9 20 0 4 18zM587 804l-1 17 10 7 17-23-20-6zM459 936l21 11 8-8-1-16-12-3-14 11zM459 936l21 11 0 5-17 15-10-5 3-23zM491 963l-11-11-17 15 3 7 12 4 12-7zM702 928l-17-12-11 4-2 19 2 3 21-3zM790 953l-6 2-12-6-4-18 10-8 17 4zM104 367l7-9-3-6-20-8-12 12 3 17zM493 898l-2 21 16 3 15-14 0-2-26-11zM814 949l13 13 12-13-2-12-20 0zM709 927l12 23-19 5-7-16 7-11zM535 869l7 2 6 11-12 16-10 3-6-20zM490 971l-12 7 3 12 20 0 1-10zM695 939l-21 3 0 1 11 19 14-3 3-4zM426 932l-20-15-19 16-1 3 21 17 19-19zM287 949l13-7 15 13-1 6-16 10-1-1zM277 950l-19-6-7 22 20 0zM857 961l0-4-18-8-12 13 0 1 12 12 8-3 1-1zM786 990l8 0 16-5-2-4-23 0zM79 373l-13 5-16-12 11-16 15 6zM180 935l8 11 11 0 3-26-19-7zM251 890l-1 1 8 17 11 3 9-7-7-21zM252 936l2 1 4 7-7 22-3 2-1 0-15-12-1-8zM873 823l22-8 4 12-10 17-18-11zM50 366l-5 1-12-8 15-26 2 0 5 3 6 14zM466 974l-3-7-10-5-12 4-3 19 8 5 13 0zM66 378l-16-12-5 1-4 23 6 3 13-3zM892 782l-4 12 9 12 24-3 1-2-1-14-16-11zM899 827l16 4 10-10-4-18-24 3-2 9zM426 934l-19 19 13 13 18-2-9-28zM157 932l23 3 3-22-1-2-17 3-9 16zM531 987l-14-17-15 10-1 10 29 0zM512 941l-5-19 15-14 10 14-4 17zM691 987l-10-19-18 4 0 1 6 17 19 0zM784 955l-4 23-16 4-10-24 18-9zM518 967l-10-13 0-9 4-4 16-2 6 6-2 14zM785 981l-5-3-16 4-5 7 0 1 27 0zM60 390l-13 3 4 22 21-6 2-3zM699 986l9-8-9-19-14 3-4 6 10 19zM947 829l2-1 3-23-6-5-24 1-1 2 4 18zM699 986l-8 1-3 3 13 0zM1 432l0 14 4-12-3-2zM935 849l-18-8-2-10 10-10 22 8zM157 932l-1 18 22 6 10-10-8-11zM199 946l5 11-7 22-6 0-14-15 1-8 10-10zM921 787l13-13 11 7 1 19-24 1zM912 866l7 3 16-20-18-8-10 11zM517 970l-15 10-12-9 1-8 17-9 10 13zM311 987l-13-16 16-10 10 10-3 12zM549 977l-18 10-14-17 1-3 14-8 16 11 1 4zM287 949l10 21-16 11-10-15 6-16 5-2zM948 862l7-1 13-18-1-6-18-9-2 1-12 20zM548 970l6-18-8-9-12 2-2 14zM79 909l3-16-8-10-19 7 0 1 8 17zM111 862l13 11-12 24-1 0-11-8-2-14zM79 909l3-16 18-4 11 8-21 19-7-1zM83 915l7 1 13 13 1 5-13 16-2 0-15-16zM759 989l-17-6-7 7 24 0zM112 897l3 2 2 18-14 12-13-13 21-19zM117 917l17 10-5 13-7 2-18-8-1-5zM248 968l-1 0-18 16 2 6 27 0zM858 897l-17-2 2 26 1 2 20-13zM663 973l-21 7-1 10 28 0zM29 842l-13 11 5 20 5 3 18-10-1-14zM115 899l18 0 8 10-2 16-5 2-17-10zM156 930l-17-5 2-16 14-6 10 11zM79 909l-16-1-11 13 5 15 17-2 9-19zM701 990l22 0-9-12-6 0-9 8zM549 977l-18 10-1 3 27 0zM125 977l-1-5-11-11-14 0-2 6 27 11zM311 987l-13-16-1-1-16 11-1 3 3 6 27 0zM280 984l1-3-10-15-20 0-3 2 10 22 4 0zM36 916l-8 20 23 11 6-11-5-15zM55 891l0-1-8-21-3-3-18 10 0 17 6 6zM280 984l-18 6 21 0zM66 865l-19 4 8 21 19-7 1-5zM63 908l-8-17-23 8 0 12 4 5 16 5zM880 896l-6 17-10-3-6-13 11-16zM478 978l-12-4-7 16 22 0zM331 990l1 0 15-10-10-12-13 3-3 12zM87 870l-12 8-1 5 8 10 18-4-2-14z"/>
<path fill="#8a2be2" d="M618 468l11-23-12-12-12 3-6 19 17 14zM435 394l-4-8 10-17 11-4 8 24-7 10zM657 496l-12 19-17-17 15-18zM454 345l-18-5-10 5-1 13 16 11 11-4 4-5zM602 576l3 24-3 6-11 1-15-9-1-3 4-19 19-2zM631 582l3 12-1 1-28 5-3-24 10-3zM602 606l3-6 28-5-8 30-12-2zM585 636l12 5 16-18-11-17-11 1-8 23zM385 399l-19-14-5 4 1 19 16 11zM655 616l0 2-29 8-1-1 8-30 1-1 2 1zM597 641l2 4 13 7 20-6-6-20-1-1-12-2zM388 345l12 4 6 21-11 4-21-5-1-3zM657 622l-6 21-15 6-4-3-6-20 29-8zM731 377l11 14-8 12-23-11 4-13zM731 377l11 14 10-3 6-10-2-9-5-4-16 2zM638 660l15 12 15-17-1-3-16-9-15 6zM778 483l19 16-3 8-25 5-8-14 10-13zM323 622l8-11 11-2 6 13-12 18-4-2zM332 638l4 2 6 9-3 12-18 5-13-13 2-7zM790 465l17 5-6 27-4 2-19-16zM710 584l-15 9-13-15 3-11 5-3 19 7zM553 282l3-22-5-4-14 2-9 12 0 11 14 5zM779 405l9 2 2 2-1 26-16 1-11-9-2-7 8-10zM655 616l0 2 2 4 22 8 7-2 0-21-19-5zM338 345l13-24 14 18-6 17-9 0zM679 630l-12 22-16-9 6-21zM310 621l-6 16 6 9 22-8-9-16zM731 377l-16 2-4-9 14-18 10 15zM686 628l11 24-6 10-5 2-18-9-1-3 12-22zM686 607l0 21 25-4 5-10-22-15zM787 460l8-20 12 0 9 7-7 22-2 1-17-5zM310 646l-2 7-10 7-12-4-6-12 11-9 13 2zM516 242l-1 19-11 4-15-12 7-14zM679 711l12-16-11-15-18 5 7 26zM839 454l3 9-13 15-20-9 7-22 10-1zM556 710l7-3 3-12-16-17-16 11 0 9 2 3zM711 680l-5 15-15 0-11-15 6-16 5-2zM321 666l-7 19-2 0-14-5 0-20 10-7zM298 680l0-20-12-4-12 16 1 4 11 8zM782 586l14 11-10 13-11-2-5-18 0-1zM850 507l-24 11-5-18 10-13 18 8zM274 672l-18-15 15-15 9 2 6 12zM722 674l-7-25-18 3-6 10 20 18zM701 724l-8 3-14-16 12-16 15 0 4 6zM733 643l-14 1-4 5 7 25 15 2 4-5zM303 709l-21-4 4-21 12-4 14 5-7 23zM752 667l20 13 0 1-3 9-8 4-21-5-3-13 4-5zM551 256l-1-23-13-4-10 4-4 6 14 19zM822 600l6-22 3-3 16 8 4 19-4 4zM575 737l8 16 13 0 8-7-2-19-1-1-23 5zM721 705l14-6 5-10-3-13-15-2-11 6-5 15 4 6zM878 632l-7-6 0-22 5-5 5 1 18 15 0 4zM528 270l-13-9 1-19 7-3 14 19zM761 694l-21-5-5 10 12 18 11-6zM552 673l-2 5 16 17 10-6 1-20zM716 729l5 18-2 4-11 4-18-19 3-9 8-3zM189 585l-17-20 10-14 2 0 13 14-6 19zM531 724l5-23 20 9-4 17-9 4zM709 782l-6-18 5-9 11-4 14 13-9 16zM844 623l3-17-25-6-5 4 12 23zM716 729l5 18 24-14-2-7-18-5zM852 630l19-4 0-22-20-2-4 4-3 17zM554 753l10 16 10 1 9-17-8-16-6 1zM543 731l9-4 17 11-15 15-12-3zM591 781l15-6 1-1-11-21-13 0-9 17 4 6zM878 632l21-13 13 16-15 11-18-8zM767 773l9-12-22-17-12 20 5 6zM878 632l-7-6-19 4-1 17 8 10 11-2 9-17zM785 635l21 16 7-18-10-11-10 1zM830 649l-1 2-23 1 0-1 7-18 15-3zM516 733l-20 18 20 13 10-14zM852 630l-1 17-21 2-2-19 1-3 15-4zM770 719l-12-8-11 6-4 9 2 7 9 8 15-9zM769 732l-15 9 0 3 22 17 7-1 0-22zM547 780l0 10 19 9 2-1 10-22-4-6-10-1zM921 607l10 17-4 5-15 6-13-16 0-4 12-11zM770 719l-12-8 3-17 8-4 16 19zM829 627l-12-23-2 1-12 17 10 11 15-3zM791 733l-8 5-14-6 1-13 15-10 4 0zM657 821l-4 24 25-5 3-7-3-7zM806 736l7 14-1 2-24 10-5-2 0-22 8-5zM643 847l-15-17-21 11 2 11 20 9zM4 506l6 3 16-5-2-19-23 1 0 10zM760 833l-8-4-1 1-10 15 9 12 16-3 1-2zM650 848l3-3 25-5 4 11-6 12-16 5zM10 528l0-19-6-3-3 2 0 23zM780 825l-20 8-8-4 5-24 18 4zM542 750l12 3 10 16-17 11-9-7 2-22zM827 774l-5 0-10-22 1-2 23-9 8 24zM641 883l-10-9-2-13 14-14 7 1 10 20-3 9zM587 804l-19-6 10-22 13 5 2 18zM767 852l-1 2 3 8 20 9 1 0 6-21-10-5zM806 846l-10 4-6 21 24 7 5-7zM753 882l-8-14-19-1-5 5 6 21 24-7zM832 672l21-3 6 15-3 8-17 6-12-20zM30 528l20 2 7-15-8-10-20 1zM782 888l-21-9-8 3-2 4 7 18 17-1 8-8zM879 638l-9 17 19 15 7-5 1-19zM790 871l24 7-12 22-2 1-17-6-1-7 7-17zM789 871l-20-9-8 17 21 9zM30 528l-1-22-3-2-16 5 0 19 12 7zM799 820l-18 5-1 0-5-16 13-15 2-1 8 8zM859 769l1 15-15 15-3-2-15-23 17-9 14 3zM30 528l20 2 2 7-8 17-20-4-1-1-1-14zM783 895l-8 8 3 20 17 4 5-26zM23 549l-1-14-12-7-9 3 0 22zM827 774l-5 0-5 4 0 22 3 4 22-7zM758 904l-3 4 3 20 10 3 10-8-3-20zM859 769l21-4 9-18-1-2-22-8-4 3-4 28zM859 769l21-4 12 17-4 12-11 1-17-11zM751 886l7 18-3 4-16 2-12-16 0-1zM860 784l17 11-11 17-17-2-4-11zM725 721l18 5 4-9-12-18-14 6zM753 882l8-3 8-17-3-8-16 3-5 11zM372 955l4-11 10-8 21 17-14 17-1 0zM372 955l4-11-25-16-2 1-5 22 21 9zM438 985l3-19-3-2-18 2-8 21 1 0 5 3 10 0zM741 936l11 21-17 11-7-2-6-16zM721 950l1 0 6 16-14 12-6 0-9-19 3-4zM412 987l-19-17 14-17 13 13zM742 983l-7-15-7-2-14 12 9 12 12 0zM372 955l20 15-11 16-22-5 6-21zM413 987l-1 0-19-17-1 0-11 16 2 4 26 0zM754 958l-2-1-17 11 7 15 17 6 5-7zM324 971l13-3 3-15-15-6-10 8-1 6zM907 852l10-11-2-10-16-4-10 17 1 2zM438 985l-10 5 18 0zM359 982l-12-2-15 10 26 0zM359 982l-1 8 25 0-2-4-22-5zM919 869l16-20 13 13-6 12-19 3zM409 990l9 0-5-3zM968 843l-13 18 3 4 10-14 0-7zM947 882l11-17-3-4-7 1-6 12zM310 990l21 0-10-7-10 4z"/>
<path fill="#ffd700" d="M457 411l-4-12 7-10 13-2 8 6 0 12-14 11zM545 455l1 5-17 15-3 0-3-3-3-18 11-7zM499 474l24-2-3-18-11-4-8 3zM412 414l-6-11-15-6-6 2-7 20 0 2 3 3 14 3zM605 436l12-3 7-17-6-13-19-3-8 15 6 15zM609 374l-16 17 6 9 19 3 11-17 0-1zM474 335l12 13-13 16-17-4-2-15 5-6zM658 401l10 5 16-22-1-5-13-8-12 4zM685 416l-15-6-10 21 15 11 15-17zM526 475l-10 25 10 4 16-10 2-5-15-14zM547 401l20 9 8-20-11-8-15 4zM566 363l-2 19 11 8 12-2-2-28zM391 397l4-23 11-4 1 1 9 11-10 21zM655 374l-11-18 18-14 12 5-4 24-12 4zM694 346l-9-3-11 4-4 24 13 8 16-13zM339 584l5 21 21-4-3-21-9-4zM562 336l23 9 3 12-3 3-19 3-8-7 0-17zM370 606l18-4 9 17-2 4-14 8-13-7zM685 416l15-20 5 0 7 24-9 10-13-5zM674 347l-12-5-7-14 14-14 15 8 1 21zM416 382l-9-11 18-13 16 11-10 17zM342 649l15-2 10-22-19-3-12 18zM354 551l20-4-5-23-14 1-8 11zM650 280l-3 4 3 14 17 6 11-13-7-15-3-1zM395 427l-14-3-7 27 9 7 12-1 7-9zM378 421l0-2-16-11-15 7 7 19zM413 338l13 7-1 13-18 13-1-1-6-21zM558 339l-12-6-18 11 0 8 16 10 14-6zM381 424l-7 27-13 0-7-16 0-1 24-13zM715 379l-4 13-6 4-5 0-16-12-1-5 16-13 12 4zM558 356l-14 6-3 17 8 7 15-4 2-19zM468 312l-16 4 7 23 15-4 5-10zM605 313l-3-8 19-16 1 0 11 19-12 9zM771 485l-10 13-13-1-9-19 0-2 22-6zM533 634l18-12 9 23-13 12-6-2zM585 636l-14 11-11-2-9-23 1 0 12-3 19 11zM562 336l11-18-2-7-6-4-23 4-2 3 6 19 12 6zM625 336l-4-19-16-4-9 15 18 15zM410 642l-15-19 2-4 21-7 4 5 1 16zM329 535l2-22-12-5-16 15 9 16 14-1zM583 630l-19-11 12-21 15 9zM585 636l-14 11 6 22 13 0 9-24-2-4zM478 276l-6 22-19-7-1-17 24-2zM628 284l-6 5-1 0-16-14 8-21 15 11zM727 526l17-2 0-22-19 3-5 15zM339 661l7 14 25-8 3-10-17-10-15 2zM729 306l17-7 6 5 1 16-1 2-15 2-9-9zM497 284l-6 19-19-4 0-1 6-22zM600 277l-9 21 11 7 19-16-16-14zM594 329l2-1 9-15-3-8-11-7-4 0-16 13 2 7zM794 530l5-6-5-17-25 5-2 13 4 6zM746 299l0-9 14-12 12 10-3 11-17 5zM734 281l2-13 11-9 5 1 7 8 1 10-14 12zM580 270l4-2 16 9-9 21-4 0-11-16zM463 245l18 12-5 15-24 2-3-3-1-5zM752 260l13-16 12 3 3 15-21 6zM421 285l28-14 3 3 1 17-7 8-23-9zM630 363l-1 22-20-11-2-15 3-3zM772 288l8-2 7-20-7-4-21 6 1 10zM804 250l-15-14-12 11 3 15 7 4 4 0zM412 689l-4-10-10-3-15 7 4 19 19-4zM769 299l7 10 13 0 8-13-17-10-8 2zM752 260l13-16-5-14-20 9-2 4 9 16zM807 470l-6 27 20 3 10-13-2-9-20-9zM562 336l11-18 21 11-9 16zM553 282l6 4 17-4 4-12-16-11-8 1zM859 469l0 16-10 10-18-8-2-9 13-15zM420 284l1 1 28-14-1-5-20-16-12 21zM564 259l11-17 19 6-10 20-4 2zM807 282l-10 14-17-10 7-20 4 0zM804 250l-13 16 16 16 10-2 0-25-8-6zM882 568l4-18-13-9-5 2-10 17 5 13 7 2zM467 227l-7 9 3 9 18 12 8-4 7-14-1-1-18-14zM584 268l16 9 5-2 8-21-12-9-7 3zM244 521l-21 9 14 21 3 1 11-14zM333 692l13-14 16 15 0 11-1 1-24 2zM477 224l18 14 11-25-15-10-8 5zM679 137l-9-8-19 4-1 1 4 16 9 5 16-12zM442 234l18 2 3 9-15 21-20-16 0-3zM339 661l7 14 0 3-13 14-19-7 7-19zM464 198l19 10-6 16-10 3-11-17zM754 642l5 12-7 13-11 4-8-28 8-6zM576 689l20 11 4-3-3-22-7-6-13 0zM670 129l1-23-18 2-5 7 3 18zM538 210l-16-8-11 10 16 21 10-4zM771 631l12 5-6 21-18-3-5-12zM437 214l5 20-14 13-12-7-4-12 11-14zM225 599l-15-10 10-18 20 8-1 8zM869 370l10-9 0-14-12-5-11 11 3 13zM612 652l-13-7-9 24 7 6 16-6zM839 454l3 9 17 6 14-9-3-17-11-8-1 1zM553 282l6 4 6 21-23 4 0-25zM896 587l-15 13-5-1-6-24 12-7 12 8zM809 249l8-22 18 5 4 11-6 9-16 3zM782 555l-11-10 0-14 23-1 1 20zM858 560l-14-4-14 18 1 1 16 8 16-10zM775 167l-18 5 3 20 21-6 1-14zM876 504l-19 10-7-7-1-12 10-10 17 8zM817 255l16-3 10 18-10 11-10 2-6-3zM362 693l14-13 7 3 4 19-2 2-23 0zM873 460l7 3 13-4 10-17-12-12-21 13zM511 212l-5 1-11 25 1 1 20 3 7-3 4-6zM511 212l-5 1-15-10 2-14 17-6 11 8 1 11zM830 574l-14-22 4-7 21 1 3 10zM464 198l-2-7 3-7 16-7 12 12-2 14-8 5zM191 584l6-19 17-5 4 3 2 8-10 18-6 1zM876 599l-5 5-20-2-4-19 16-10 7 2zM876 504l13 11 11-8 2-19-16-3-10 8zM782 172l-1 14 7 7 17-4 2-15-9-9zM439 211l17-1 8-12-2-7-23-1zM893 459l13 12-1 15-3 2-16-3-6-22zM386 231l0 15-18 7-7-21 4-8 10-2zM950 500l-11-20-7-1-12 10 7 18 13 4zM511 166l-1 17 11 8 18-11 0-1-19-20zM561 211l-8 20-3 2-13-4 1-19 15-10zM558 158l10 5-2 24-12 8-15-15 0-1 16-20zM654 150l-15 9-11-5 5-18 17-2zM901 340l-4-1-18 8 0 14 16 10 6-1 3-4zM561 211l17 3 2 6-7 16-20-5zM164 535l18 16 2 0 11-12-6-17-3-2-22 13zM889 316l8 23-18 8-12-5-4-13 3-10 18-6zM669 803l14 8 6-4 0-17-6-5-14 4zM556 260l8-1 11-17-2-6-20-5-3 2 1 23zM553 200l1-5-15-15-18 11 1 11 16 8zM251 272l8 7 0 19-5 4-23-10 0-3zM322 229l-8 10-12 2-6-27 1 0 19-1zM783 636l2-1 21 16 0 1-3 12-1 0-24-5-1-2zM199 635l-4 14-15 5-8-7-2-10 10-12zM705 99l1 3-13 16-21-12 4-11 21-4zM433 183l12-21 3 0 17 22-3 7-23-1zM752 150l11-4 10 6 2 15-18 5-4-3-3-14zM380 206l-14-7-14 10 13 15 10-2zM491 142l-4-1-22 11-1 1 18 18 11-10zM160 634l10 3 10-12 0-11-24-3-3 7zM223 716l13-16-5-13-20 0-11 10 7 14zM856 214l8-25 0-1-27-6-4 8 2 16 10 9zM226 723l25 5 7-23-1-1-21-4-13 16zM860 219l0 25-21-1-4-11 10-17 11-1zM365 184l-19-3-3 6 1 21 8 1 14-10zM249 261l-28 3-4 5 14 20 20-17zM772 681l0-1 6-21 24 5-11 18zM500 138l-1-21 5-4 20 4-13 23zM380 206l-14-7-1-15 7-5 16 7-5 19zM874 531l-16-16-1-1 19-10 13 11 0 1zM951 361l4 0 11-23-8-6-20 5-1 2zM966 338l-11 23 9 7 4-2 0-28zM189 585l-17-20-8 1-7 11 6 13 17 3zM372 179l0-16 5-3 21 5-8 20-2 1zM95 503l2 5-11 20-3 1-17-15 10-12zM128 538l-14-10 1-11 9-7 19 9-9 17zM80 539l3-10-17-15-9 1-7 15 2 7 21 7zM860 219l22 0 6-6-6-17-18-7-8 25zM650 848l3-3 4-24-6-8-2-1-19 10-2 8 15 17zM957 315l1 17 8 6 2 0 0-31zM553 106l4 3 10 0 7-11-9-18-7-2-9 9zM181 673l-1-19-8-7-22 16 21 13zM864 188l7-19-11-13-10 1-14 22 1 3zM911 604l-12 11-18-15 15-13 13 6zM180 614l-24-3-2-8 9-13 17 3zM524 117l15 15 9-3 9-20-4-3-24 1zM909 593l-13-6-2-11 14-7 6 2 3 12zM702 832l5 13 19 0-1-25-20 6zM522 152l12-5 21 12-16 20-19-20zM860 219l22 0 3 23-3 6-18 0-4-4zM791 682l11-18 1 0 18 14-13 19-6 2zM486 84l4 9-13 17-10-4-6-14 5-8zM599 836l-3-8 17-23 1-1 16 18-2 8-21 11zM512 90l0-18 0-1 20 5 4 8-10 14zM702 832l-21 1-3 7 4 11 19 4 6-10zM840 132l-2 14 12 11 10-1 6-13-9-16zM29 506l20-1 3-14-10-16-12 0-6 10 2 19zM699 876l-9 1-14-14 6-12 19 4 4 15zM893 292l21 1 2 1-3 15-24 7-5-3 0-8zM823 152l15-6 12 11-14 22-11-9zM142 643l18-9-7-16-16 4-3 16zM154 721l-13 9-14-5-1-5 9-17 14 5 5 10zM812 723l-13-18-10 4 2 24 15 3zM512 63l0 8 20 5 11-15-7-11-7-2zM866 143l-6 13 11 13 15-4 3-5-5-20zM812 723l10-2 5-14-19-10-6 2-3 6zM721 872l-16-2-4-15 6-10 19 0 1 2-1 20zM885 242l23-6-6-23-14 0-6 6zM154 721l14 15 7 0 9-10-10-16-20 8zM144 747l-23 3-4-14 10-11 14 5zM134 638l-13 3-10-22 18-8 8 11zM104 555l2-21-20-6-3 1-3 10 18 19 2 0zM231 289l0 3-6 7-22-5 0-19 6-5 8-1zM502 97l-12-4-4-9 3-7 23-5 0 18zM109 711l0-8 14-13 7 3 5 10-9 17zM502 97l-12-4-13 17 2 4 20 3 5-4zM74 482l-4-13-18-3-10 9 10 16 20-5zM721 872l-16-2-6 6 6 24 7 3 15-9 0-1zM529 107l24-1-4-19-13-3-10 14zM91 482l4-24-13-5-12 16 4 13zM812 723l10-2 14 12 0 7 0 1-23 9-7-14zM799 160l17-12 7 4 2 18-18 4-9-9zM925 235l-13 3-2 26 22-1 6-5-7-20zM80 539l18 19-26 13-1-1-2-4 4-22zM163 590l-6-13-19 0-2 20 18 6zM106 575l-18 14-16-18 26-13 2 0zM781 825l5 20-19 7-7-19 20-8zM882 248l1 1 25 16 2-1 2-26-4-2-23 6zM111 619l10 22-6 8-23-5 5-24 6-4zM914 293l-7-26 1-2 2-1 22-1 1 27-17 4zM836 733l0 7 26 0 4-3-1-18-19-1zM52 450l0 16-10 9-12 0-8-12 3-10 14-9zM669 891l-12-14 3-9 16-5 14 14-11 14zM845 799l4 11-7 16-22-4 0-18 22-7zM690 903l15-3-6-24-9 1-11 14zM4 506l-3-10 0 12zM46 558l23 8 4-22-21-7-8 17zM154 718l-5-10 9-16 5-1 13 12-2 7zM52 450l0 16 18 3 12-16-22-9zM812 828l-1 13-5 5-10 4-10-5-5-20 18-5zM106 534l-20-6 11-20 18 9-1 11zM62 433l-2 11-8 6-13-6-2-20 10-4zM897 182l-11-17 3-5 23-6 5 10-2 9zM863 117l-6 10 9 16 18-3 2-4-8-22zM23 549l-22 4 0 18 12 4 6-3 5-22zM46 558l-9 23-18-9 5-22 20 4zM674 920l-12-9 7-20 10 0 11 12-5 13zM752 667l20 13 6-21-1-2-18-3zM39 444l-14 9-12-19 15-14 9 4zM40 616l-19-15 17-18 13 7zM52 621l9 20-6 7-29-11 0-3 14-17zM925 216l-17-7 2-9 17-11 3 1 3 20zM947 228l15 9-18 21-6 0-7-20zM202 201l-3-4-29 1-1 4 10 18 18-7zM72 409l-21 6-4 5 15 13 12-7zM878 114l8 22 21-2 3-13-14-8-12-5zM890 872l-21 9-11-12 5-10 22-4zM944 185l11 22 13-10 0-8-5-9zM148 222l0-7 21-13 10 18-1 3-12 6zM910 121l1-1-15-7zM287 949l13-7 4-15-8-6-17 8 3 19zM12 593l1-18-12-4 0 23zM6 404l20 12 9-25-14-6zM1 408l0 16 1 8 3 2 8 0 15-14-2-4-20-12zM907 134l6 11-1 9-23 6-5-20 2-4zM968 189l0-14-3 1-2 4zM927 189l-12-16-18 9 0 2 13 16zM45 367l-12-8-14 20 2 6 14 6 6-1zM37 581l1 2-17 18-2 0-7-8 1-18 6-3zM52 621l18-12 0-3-15-16-4 0-11 26 0 1zM2 432l-1-8 0 8zM797 955l12 21 18-13 0-1-13-13zM934 140l9 19 13-2-18-24zM6 404l15-19-2-6-16-7-2 0 0 25zM291 905l5 16-17 8-8-4-2-14 9-7zM912 866l-18 8-4-2-5-17 5-9 17 6zM827 963l-18 13-1 5 2 4 29-10zM857 961l-9 10 11-8zM869 941l-12 16 0 4 2 2 19-14zM324 928l1 19-10 8-15-13 4-15 16-3zM910 121l4 0-3-1zM6 404l-5-7 0 11zM18 332l0-1-17-8 0 25 9 3 5-3zM880 896l15-1 3-4-4-17-4-2-21 9zM912 866l7 3 4 8-2 12-4 3-19-1-4-17zM282 948l-3-19-8-4-17 12 4 7 19 6zM921 889l15 9 11-16-5-8-19 3zM895 895l3-4 19 1-3 20-16 2zM880 896l15-1 3 19-8 9-9 0-7-10zM967 837l1 6 0 1 0-8zM890 923l-9 0-12 18 9 8 22-15zM914 912l6 5 3 0 13-19-15-9-4 3zM920 917l-6-5-16 2-8 9 10 11 20-14zM965 176l3-1 0-2-11-15zM920 917l0 3 2-2 1-1z"/>
<path fill="#0000ff" d="M575 500l3 3 24 7 3-2-4-23-15-3zM421 417l1-1 25 5-1 17-20 6zM578 503l-1 24 3 2 17-4 5-15zM573 500l-20 10-4 12 3 5 25 0 1-24-3-3zM580 529l-3-2-25 0-1 18 2 2 21 5 6-7zM624 416l16 0 11 17-9 13-13-1-12-12zM660 431l15 11 1 9-7 13-16 0-11-18 9-13zM651 403l-11 13 11 17 9-2 10-21-2-4-10-5zM628 498l-16-19-11 6 4 23 8 1zM433 467l13 27 13-6 0-19-8-6zM449 514l4 4 1 13-9 7-20-2-2-16 0-1zM449 514l-26 5 0-21 22-3zM612 541l0-1-15-15-17 4 0 16 18 4zM419 475l-1 20 5 3 22-3 1-1-13-27-2 0zM403 518l20 2 2 16-9 11-6 0-12-10-1-15zM645 516l-18 14 14 17 12-1 6-19zM613 509l-8-1-3 2-5 15 15 15 11-9zM428 564l16-3 1-23-20-2-9 11zM428 564l16-3 3 1 3 22-10 9-7-2-10-18zM403 498l0 20 20 2 0-1 0-21-5-3zM657 496l11-1 5-7-3-21-1-3-16 0-10 11 0 5zM620 556l-8-15 0-1 11-9 4-1 14 17-7 11zM402 448l-7 9 7 14 17 4 12-8-6-20zM402 471l-10 18-17-14 8-17 12-1zM598 549l-18-4-6 7 2 20 3 4 19-2zM402 471l-10 18 0 2 11 7 15-3 1-20zM612 573l-10 3-4-2 0-25 14-8 8 15zM392 595l11-5 15 13 0 9-21 7-9-17zM397 522l1 15-23 10-1 0-5-23 7-8zM375 505l1 11-7 8-14 1-13-16 4-9 19-1zM396 565l14-18 6 0 12 17-5 9-16 5zM366 478l-11-6-14 10-1 4 6 14 19-1zM638 660l-14 15-11-6-1-17 20-6 4 3zM483 582l-11 0-5 5 1 20 5 2 24-9zM468 607l-1-20-17-3-10 9 8 20 4 3zM424 316l-12 17 1 5 13 7 10-5-1-21zM639 570l-5-12-14-2-8 17 19 9zM419 309l5 7-12 17-19-12 5-12zM383 333l2-7 8-5 19 12 1 5-13 11-12-4zM484 632l-11-23-5-2-16 9 0 15 15 10zM468 312l-16 4-6-3 0-14 7-8 19 7 0 1zM312 491l-2-2 2-23 13-5 16 21-1 4zM319 508l-16 15-13-4 0-2 11-25 9-3 2 2zM423 633l-1-16 26-4 4 3 0 15-14 9zM484 632l9 1 6 19-19 12-13-9 0-14zM286 486l-14 15 18 16 11-25zM525 660l-1 21 10 8 16-11 2-5-5-16-6-2zM392 489l-17-14-9 3-1 21 10 6 17-14zM284 525l6-6 13 4 9 16-2 3-22 10-2-2zM286 486l-4-11-13-5-12 15 4 16 11 0zM547 657l5 16 25-4-6-22-11-2zM408 647l-17 7-7-2-3-21 14-8 15 19zM257 485l-19-7 5-18 14-6 7 2 5 14zM419 309l5 7 11 3 11-6 0-14-23-9zM524 632l-8-8-12-2-11 11 6 19 5 3 11-2zM270 527l-16-17-5 2-5 9 7 17 12 3zM533 634l8 21-16 5-10-7 9-21zM423 663l-3 0-12-16 2-5 13-9 15 7 0 12zM823 395l-27 15-6-1-2-2 11-24 8-3 16 14zM284 525l2 25-20-5-3-4 7-14zM497 600l-24 9 11 23 9 1 11-11-5-21zM517 730l-6-6 0-18 23-8 2 3-5 23zM266 545l-6 14 3 6 24 1 1-14-2-2zM383 683l15-7-7-22-7-2-10 5-3 10 5 13zM261 501l-4-16-19-7-10 4 0 1 0 14 21 15 5-2zM213 455l15 27 10-4 5-18-14-11-15 5zM516 733l10 17 14 1 2-1 1-19-12-7-14 6zM779 405l9 2 11-24-17-7-7 6zM482 681l23 0-1-26-5-3-19 12 2 16zM402 289l18-5 1 1 2 5-4 19-21 0-2-3zM638 660l-14 15 1 5 15 12 15-10-2-10zM453 664l14-9 0-14-15-10-14 9 0 12zM420 663l-12-16-17 7 7 22 10 3zM430 693l7-15-14-15-3 0-12 16 4 10zM823 395l-27 15 15 13 10-4zM387 277l11-13 18 7 4 13-18 5zM651 403l-19-16 23-13 3 1 0 26zM266 545l-6 14-15-1-5-6 11-14 12 3zM451 673l8 12 23-5-2-16-13-9-14 9zM433 698l-3-5-18-4-6 9 6 22 1 0 15-7zM525 660l-1 21-19 0-1-26 11-2zM716 729l9-8-4-16-11-4-9 23zM681 742l-2 21-20 2-3-6 8-22zM488 705l16-4 1-20-23 0 0 21zM455 702l4-17 23-5 0 1 0 21-11 5zM893 548l11 6 19-9 3-4-12-12-14 3zM516 733l-20 18-2 0-7-4-4-13 10-11 18 1 6 6zM703 764l5-9-18-19-9 6-2 21 5 4zM334 712l3-5 24-2 3 20-14 6zM471 728l12 6 10-11-5-18-6-3-11 5zM455 702l-22-4-3-5 7-15 14-5 8 12zM447 730l8-28 16 5 0 21-20 6-4-3zM447 730l-19-17-15 7 13 21 21-10zM708 785l-19 5-6-5 1-18 19-3 6 18zM253 312l-18 8-10-6 0-15 6-7 23 10zM646 798l-17-6 3-18 23 2 1 5zM451 673l-14 5-14-15 15-11 15 12zM350 731l14-6 10 5 1 4-7 17-7 1-15-11zM337 746l9-5 4-10-16-19-5 4-8 18zM493 723l18 1 0-18-7-5-16 4zM151 516l1-3 24-9 6 3 4 13-22 13zM655 776l4-11-3-6-21-9-7 2-3 13 7 9zM629 792l-12 6-11-23 1-1 18-9 7 9zM708 785l4 16 15 8 11-11-14-18-15 2zM152 513l24-9-8-21-20 4-1 2zM417 767l-22 7-8-10 10-19 23 8 2 5zM651 813l18-10 0-14-13-8-10 17 3 14zM447 730l-19-17 5-15 22 4zM962 570l4 11 2 0 0-23zM394 785l1-11-8-10-7-1-18 18 9 10 17 1zM137 622l-8-11 2-10 5-4 18 6 2 8-3 7zM447 731l-21 10-6 12 2 5 18 7 15-13-4-18zM164 535l18 16-10 14-8 1-12-18zM150 391l-6-15 5-11 19-2 5 3-2 18-20 8zM306 159l12 0 6-12-5-18-21 7-1 16zM586 821l10 7 3 8-21 12-9-7 0-16zM417 767l-22 7-1 11 21 7 6-5zM443 776l20 6 6-3 1-1-2-20-13-6-15 13zM599 836l-21 12 1 8 11 9 14-5 5-8-2-11zM304 803l3-19 3-3 24 10 0 1-9 13zM439 809l-15 3-10-10 1-10 6-5 14 2 7 17zM417 767l4 20 14 2 8-13-3-11-18-7zM334 792l9 3 19-14-10-13-15-2-3 25zM414 802l1-10-21-7-6 7 4 19 5 1zM362 781l18-18-12-12-7 1-9 16zM333 762l4 4-3 25-24-10 4-17zM203 275l0 19-8 7-17-14 3-13zM368 132l-6-11-16 8-2 18 9 8 3-1zM512 810l-24-2-1 22 2 3 21-3zM604 860l7 19-1 3-15 5-9-5 4-17zM859 657l-6 12 6 15 25 0 1 0 4-14-19-15zM364 810l7-19-9-10-19 14 7 13zM328 819l14 2 8-13-7-13-9-3-9 13zM582 884l4-2 9 5 2 18-8 9-18-11zM964 451l-14 4 1 15 17 10 0-27zM963 587l4 14 1 0 0-20-2 0zM964 497l4 3 0-17zM462 826l25 4 2 3-3 14-14 6-15-4-4-9zM442 806l-7-17 8-13 20 6-9 24zM181 274l-3 13-14 9-2-1-11-16 1-7 7-7 20 5zM439 809l1 26 13 5 9-14-2-16-6-4-12 0zM304 818l-14 13 1 8 12 10 17-7 1-15zM568 875l-13 9 11 20 5-1 11-19zM115 594l-14 10 2 12 8 3 18-8 2-10zM414 802l-17 10 12 19 7-2 8-17zM546 821l2 25 4 3 17-8 0-16-7-6zM859 840l4 19-5 10-13 1-9-5-1-16 11-14zM243 873l-11-5-2 1-9 11 3 18 6 2 20-9 1-1zM392 811l-15 10-6-2-7-9 7-19 17 1zM846 718l19 1 3-5-12-22-17 6-2 5zM102 676l20 11 6-20-12-11zM324 147l20 0 2-18-16-7-11 6 0 1zM460 810l25-6 0-1-16-24-6 3-9 24zM141 309l-3-2-5-18 18-10 11 16zM397 812l-5-1-15 10 5 18 1 0 23-4 3-4zM109 711l0-8-17-9-4 2-5 21 1 2 14 3zM195 889l0 5 20 10 9-6-3-18-16-3zM621 903l-11-21-15 5 2 18 19 1zM820 822l22 4 4 9-11 14-24-8 1-13zM866 812l7 11-2 10-12 7-13-5-4-9 7-16zM942 652l-3 3-3 19 16 7 7-12-11-17zM139 349l10 16-5 11-17 0-11-17zM102 676l-10 18-4 2-15-10-3-12 15-9zM371 73l11 11-13 16-16-11 0-8zM616 906l-19-1-8 9 1 12 2 3 1 0 20-4zM416 829l16 9-6 19-17-2-3-20 3-4zM645 921l4 15 23 3 2-19-12-9-9 1zM371 57l26 2-6 25-9 0-11-11zM61 641l11-2 16 7-3 19-15 9-15-24 0-2zM922 682l-1 5 6 10 17 4 12-9-4-11-16-7zM342 821l8-13 14 2 7 9-21 17zM102 676l-17-11 3-19 4-2 23 5 1 7zM447 19l4 2 12-2 5-15-23-1zM328 819l14 2 8 15 0 2-27 5-3-1 1-15zM967 601l-4 8 2 9 3 2 0-19zM325 875l-4 1-19-17 1-10 17-7 3 1 9 21zM440 835l-8 3-6 19 6 8 18-5 7-11-4-9zM452 41l-1-20-4-2-17 5-5 15 1 1zM567 866l12-10-1-8-9-7-17 8 0 10zM709 927l4-5-1-19-7-3-15 3-5 13 17 12zM48 678l22-4 3 12-12 14-8-1-9-14zM885 684l16 10 20-7 1-5-11-15-15-2-7 5zM407 33l-10 8-18-9 0-13 24-5zM350 836l0 2 1 3 17 6 14-8-5-18-6-2zM351 841l-1-3-27 5 9 21 14-2zM354 887l1-1-2-19-7-5-14 2-7 11 14 17zM409 855l-8 8 1 12 7 6 21-7 2-9-6-8zM18 674l6 16 20-5 4-7-7-14-16-2zM406 835l-23 4 7 19 11 5 8-8zM916 721l11-24-6-10-20 7-1 24zM859 684l25 0-8 27-8 3-12-22zM383 887l19-12-1-12-11-5-15 8 2 16zM439 890l-9-16 2-9 18-5 7 15-12 15zM637 920l-15 13-9-8 3-19 5-3zM390 858l-7-19-1 0-14 8 1 15 6 4zM244 921l14-13-8-17-20 9 10 20zM302 859l19 17-16 17-2 0-16-19zM866 812l7 11 22-8 2-9-9-12-11 1zM26 637l-5 9 4 16 16 2 14-14 0-2zM69 717l-8-17-8-1-13 14 2 13 15 2zM457 849l15 4 2 23-2 1-15-2-7-15zM183 759l4 14-15 12-17-11 9-14zM445 3l-15-2-10 5 10 18 17-5zM637 920l-15 13 1 10 19 5 7-12-4-15zM47 393l4 22-4 5-10 4-9-4-2-4 9-25 6-1zM172 797l20 11 0 10-18 8-11-8 1-15zM243 873l16-10 14 6 3 5-5 9-20 7zM405 908l-20-10-2-11 19-12 7 6 3 18zM430 24l-10-18-10-3-7 11 4 19 18 6zM144 748l-1 21-16 2-8-16 2-5 23-3zM122 311l16-4-5-18-8-4-10 3-4 16zM622 933l1 10-6 6-11 0-13-20 20-4zM366 911l6 0 13-13-2-11-6-5-22 4-1 1zM885 684l16 10-1 24-2 1-22-8 8-27zM108 352l6-21-16-9-13 11 3 11zM145 792l-17-1-5 12 11 15 2 0 13-18zM20 731l-9-9 11-24 18 15 2 13-2 2zM338 102l-8 20 16 7 16-8 0-1zM18 674l7-12-4-16-20 0 0 27zM410 3l10 3 10-5-15-1-6 0zM337 42l14-9 17 10 0 10-25 9zM571 903l18 11 1 12-25 4-9-7-1 0 3-11 8-8zM205 877l16 3 9-11-19-17-12 11zM890 846l-1-2-18-11-12 7 4 19 22-4zM48 678l22-4-15-24-14 14zM406 917l-19 16-15-22 13-13 20 10zM916 721l11-24 17 4 3 18-5 5-25-2zM959 669l-7 12 4 11 6 1 6-5 0-20zM46 777l-10-15 4-6 26-7 6 24-1 1zM377 882l-2-16-6-4-16 5 2 19zM74 310l21-4 4 2-1 14-13 11-6-3zM74 799l25-1 3-16-9-12-21 3-1 1zM368 847l1 15-16 5-7-5 5-21zM244 921l14-13 11 3 2 14-17 12-2-1zM526 901l10-3 22 14-3 11-23-1-10-14 0-2zM42 819l-1-2 12-16 19 1 1 20-18 4zM568 875l-1-9 12-10 11 9-4 17-4 2zM101 824l2-19 20-2 11 15-8 8zM164 803l-1 15-14 9-13-9 13-18zM44 685l9 14-13 14-18-15 0-1 2-7zM508 945l-20-6-1-16 4-4 16 3 5 19zM73 850l-20-5 2-19 18-4 3 3 0 24zM178 109l18-18 11 5 2 6-9 25-3 2zM649 936l23 3 2 3 0 1-14 16-17-6-1-5zM74 310l21-4-6-19-17 0-1 0 2 23zM663 972l0 1-21 7-7-9 8-18 17 6zM72 802l1 20 3 3 25-1 2-19-4-7-25 1zM366 911l6 0 15 22-1 3-10 8-25-16 2-7zM236 67l-14-3-3 2-2 21 19 1 4-13zM128 791l-5 12-20 2-4-7 3-16 20-2zM339 892l-14-17-4 1-16 17 18 16 13-8zM366 911l-12-24-15 5-3 9 17 20zM145 792l-17-1-6-11 5-9 16-2 8 6zM353 921l-2 7-2 1-25-1-4-4 3-15 13-8zM606 949l-11 13-16-7 13-26 1 0zM9 722l-8-6 0 13zM288 62l22-9 2-7-15-18-18 9 0 19zM349 929l-5 22-4 2-15-6-1-19zM195 889l0 5-12 12-20-22 19-6zM10 818l13-13-1-7-4-4-17-2 0 23zM606 949l-11 13 2 7 19 5 5-4-4-21zM554 952l14-2-3-20-9-7-10 20zM257 33l-9 13-13-6-5-16 15-8zM66 865l-19 4-3-3-1-14 10-7 20 5zM16 748l4-17-9-9-2 0-8 7 0 22zM22 697l2-7-6-16-17-1 0 24zM110 854l17-9-1-19-25-2 2 24zM9 722l2 0 11-24 0-1-21 0 0 19zM172 842l-20-2-3-13 14-9 11 8zM365 960l-21-9-4 2-3 15 10 12 12 2 0-1zM549 974l21-3 7-16-9-5-14 2-6 18zM579 955l16 7 2 7-9 18-8-1-10-15 7-16zM42 819l-14 21 1 2 14 10 10-7 2-19zM557 990l17 0 6-4-10-15-21 3 0 3zM590 990l25 0 1-16-19-5-9 18zM1 815l0 24 11-13-2-8zM574 990l16 0-2-3-8-1zM642 948l1 5-8 18-14-1-4-21 6-6zM149 99l-9-7-13 11 5 15 16-1 0-1zM615 990l26 0 1-10-7-9-14-1-5 4zM279 56l0-19-10-6-12 2-9 13 1 4 17 11zM173 109l-9-14-15 4-1 17 19 0zM149 99l-9-7-2-14 12-8 18 11-4 14zM218 6l8 17 4 1 15-8 3-11-1 0-28 1zM296 15l2 6-1 7-18 9-10-6 2-24 7-1zM113 98l14 5 13-11-2-14-13-4-15 20zM271 7l-6-3-16 1-1 0-3 11 12 17 12-2zM150 70l2-16-18-9-9 5-4 17 4 7 13 4zM113 98l14 5 5 15-7 8-19-10zM110 94l15-20-4-7-24-2-1 2 4 23zM579 955l13-26-2-3-25 4 3 20 9 5zM12 826l-11 13 0 11 1 1 14 2 13-11-1-2zM83 107l-2 2-23-3-2-6 15-20 16 16zM125 21l9 10 21-9 1 0-7-14-2 0-21 5zM125 50l-4 17-24-2-3-17 1-2 11-6zM134 31l0 14 18 9 7-5-4-27zM2 112l11-13 11-1 8 18-2 5-22 6-2-2zM62 65l9 10 25-8 1-2-3-17-28 5-5 8zM681 968l-18 4-3-13 14-16 11 19zM2 851l-1-1 0 3zM125 21l-15 8-4 11 19 10 9-5 0-14zM3 875l18-2-5-20-14-2-1 2 0 19zM62 65l9 10 0 5-15 20-20-15zM13 99l11-1 11-13-10-16-13 1-2 2-5 16zM103 20l-19 5-3 2 14 19 11-6 4-11zM2 112l11-13-8-11-4 9 0 15zM110 29l15-8 1-8-23 7zM12 70l-1 0-1 2zM65 33l7-5-12 3zM39 37l1 0-9 2zM12 70l13-1 2-5-8-15-8 21zM39 37l-8 2-9 2-3 8 8 15 16-11z"/>
<path fill="#ff8c00" d="M685 416l-15-6-2-4 16-22 16 12zM690 425l-15 17 1 9 22 1 6-20-1-2zM734 403l2 12-3 2-21 3-7-24 6-4zM384 139l9-19-5-8-18-2-8 10 0 1 6 11zM397 99l-9 13-18-2-1-10 13-16 9 0 2 1zM419 74l-8-13-14-2-6 25 2 1 24-3zM343 62l-3 5 13 14 18-8 0-16-3-4zM147 223l-30 3-2-19 4-5 22 3 7 10 0 7zM115 207l-21-2-7 20 11 12 17-7 2-4zM130 167l-10-5-12 5-3 12 13 12 12-10zM90 185l-9-18 2-9 13-3 12 12-3 12zM74 225l-9-22-13 6-2 15 13 12zM130 167l-10-5-1-21 6-4 16 7-2 19zM120 162l-12 5-12-12 7-14 16 0zM113 98l-7 18-4 2-19-11 4-11 13-6 10 4zM100 90l-4-23-25 8 0 5 16 16z"/>
<path fill="#32cd32" d="M573 162l-5 1-2 24 17 6 10-17zM561 211l17 3 7-15-2-6-17-6-12 8-1 5zM296 214l-13 2-9 18 24 11 4-4zM651 133l-3-18-19 0-7 7 0 3 11 11 17-2zM491 142l2 19 18 5 9-7 2-7-11-12-11-2zM493 161l-11 10-1 6 12 12 17-6 1-17zM482 171l-1 6-16 7-17-22 16-9zM297 214l0-23-22 1-2 16 10 8 13-2zM487 141l-11-16-16 8 5 19zM670 83l6 12-4 11-1 0-18 2-10-18 1-3 18-8zM465 152l-5-19-6-3-20 10-2 9 13 13 3 0 16-9zM643 90l-16 6 2 19 19 0 5-7zM343 209l1-1-1-21-25 0 0 1 4 19zM622 122l-18-14 12-17 11 5 2 19zM343 187l3-6-2-10-23-6-3 22zM643 90l-16 6-11-5-3-9 13-18 7 1 11 22zM594 77l-7 16 14 15 3 0 12-17-3-9zM773 152l2 15 7 5 16-7 1-5-11-17zM558 158l10 5 5-1 10-11-7-22-16 10zM591 72l-9-3-17 11 9 18 13-5 7-16zM626 64l-13 18-19-5-3-5 10-19 19 4zM589 122l-11 1-11-14 7-11 13-5 14 15zM534 147l21 12 3-1 2-19-12-10-9 3zM558 78l-5-14 15-14 2 1 12 18-17 11zM477 110l-10-4-15 12 2 12 6 3 16-8 3-11zM599 50l2 3-10 19-9-3-12-18 12-9zM560 139l16-10 2-6-11-14-10 0-9 20zM436 98l1 12-11 14-14-2-1-18 12-10zM662 79l-18 8-11-22 10-7 16 6zM423 94l-12 10-14-5-4-14 24-3zM814 109l15-18-6-12-5-2-16 10-1 12zM491 142l-4-1-11-16 3-11 20 3 1 21zM791 130l-3 13 11 17 17-12-6-20zM524 117l-20-4-2-16 10-7 14 8 3 9zM599 50l2 3 19 4 3-19-5-7-13 3zM543 61l10 3 5 14-9 9-13-3-4-8zM659 64l-16-6 3-21 3-3 15 1 10 15zM543 61l10 3 15-14-12-15-4 0-16 15zM818 77l-1-1-28-13-5 3 2 12 16 9zM452 118l2 12-20 10-8-16 11-14zM810 128l6 20 7 4 15-6 2-14-10-9-14-1zM511 140l13-23 15 15-5 15-12 5zM539 18l13 17 4 0 15-17-6-5-16-2zM436 98l-13-4-6-12 2-8 22-7 2 25zM436 98l1 12 15 8 15-12-6-14-18 0zM620 18l-2 13 5 7 23-1 3-3-5-14-21-2zM496 49l16 14 0 8 0 1-23 5-9-21 13-7zM464 71l-16-7-7 3 2 25 18 0 5-8zM401 146l-2 19 13 4 14-18-20-8zM479 56l-13-12-11 1-7 19 16 7zM448 64l7-19-3-4-26-1-1 6 16 21zM480 56l9 21-3 7-20 0-2-13 15-15zM496 49l17-20-5-9-22 3-2 2 9 24zM496 49l16 14 17-15-8-16-8-3zM455 45l11-1 7-16-10-9-12 2 1 20zM823 79l6 12 3 1 11-4zM493 49l-13 7-1 0-13-12 7-16 11-3zM816 122l14 1 10-16-8-15-3-1-15 18zM425 46l-14 15-14-2 0-18 10-8 18 6 1 1zM863 117l-6 10-17 5-10-9 10-16 15 1zM368 53l3 4 26 2 0-18-18-9-11 11zM368 43l11-11 0-13-4-4-5-2-19 9 0 11zM340 67l13 14 0 8-15 13-13-9zM375 15l4 4 24-5 7-11-1-3-27 1zM316 63l-6-10 2-7 15-8 10 4 6 20-3 5zM878 114l6-6-28-13-1 13 8 9zM370 13l-7-12-18 1 0 14 6 6zM322 16l3 3 20-3 0-14-23 1zM61 350l-6-14 24-6 6 3 3 11-12 12zM327 38l-15 8-15-18 1-7 24-5 3 3zM337 42l-10-4-2-19 20-3 6 6 0 11zM73 310l-2-23-15 0-9 10 13 16zM463 19l10 9 11-3 2-2-4-17-14-2zM74 310l5 20-24 6-5-3 10-20 13-3zM832 92l8 15 15 1 1-13-13-7zM441 67l-22 7-8-13 14-15zM298 21l24-5 0-13-21 0-5 12zM370 13l5 2 7-14-19 0zM16 255l2 0 16 15-7 15-14 0-8-11zM3 303l2-1 8-17-8-11-4 0 0 28zM47 333l-14-27-8 4-7 21 0 1zM271 7l7-1 1-2-14 0zM301 3l-22 1-1 2 18 9zM14 164l-13-10 0 25 10 0 3-3zM12 139l-4-12-2-2-5 3 0 25zM6 125l-4-13-1 0 0 16zM62 65l-26 20-1 0-10-16 2-5 16-11 18 8zM66 53l-1-20-5-2-20 6-1 0 4 16 18 8zM65 33l1 20 28-5 1-2-14-19-2-1-7 2zM84 25l-5 1 2 1z"/>
<path fill="#a9a9a9" d="M158 253l1 12-7 7-24-10-1-3 2-9 15-7zM119 202l-1-11 12-10 16 8-5 16z"/>
<path fill="#8b4513" d="M48 267l-2-19 17-10 13 20-2 2z"/>
</g>
<text x="0" y="2100.7" font-size="65" font-weight="bold">e</text>
<text x="51" y="2093.5" font-size="36.5">Non-responder (patient 14)</text>
<rect x="505" y="2264" width="54.3" height="58.7" fill="#ff69b4"/>
<text x="532" y="2309" font-size="43.5" text-anchor="middle" stroke="#000" stroke-width="4.4" stroke-linejoin="round">10</text><text x="532" y="2309" font-size="43.5" text-anchor="middle" fill="#fff" stroke="#fff" stroke-width="0.9" stroke-linejoin="round">10</text>
<path d="M503 2298.8L264.5 2359.5" stroke="#000" stroke-width="3.6"/><path d="M248 2363.7L264.9 2353L267.9 2365z"/>
<text x="642" y="1553.5" font-size="64" font-weight="bold">f</text>
<path d="M686.6 1579.3V1953M671.4 1953H1060.4M671.4 1580.3H686.6M671.4 1673.4H686.6M671.4 1766.2H686.6M671.4 1859.3H686.6M671.4 1953H686.6M743.7 1953v13.4M829 1953v13.4M915.3 1953v13.4M1001.5 1953v13.4" stroke="#000" stroke-width="1.9" fill="none"/>
<text x="668.1" y="1590.6" font-size="29" text-anchor="end">80</text>
<text x="668.1" y="1683.7" font-size="29" text-anchor="end">60</text>
<text x="668.1" y="1776.5" font-size="29" text-anchor="end">40</text>
<text x="668.1" y="1869.6" font-size="29" text-anchor="end">20</text>
<text x="668.1" y="1963.3" font-size="29" text-anchor="end">0</text>
<text x="745.2" y="1992.3" font-size="29" text-anchor="middle">R</text>
<text x="830.5" y="1992.3" font-size="29" text-anchor="middle">NR</text>
<text x="916.8" y="1992.3" font-size="29" text-anchor="middle">R</text>
<text x="1003" y="1992.3" font-size="29" text-anchor="middle">NR</text>
<path d="M719.9 2001.5H860.9M894.5 2001.5H1035.8" stroke="#000" stroke-width="1.9"/>
<text x="788" y="2028" font-size="29" text-anchor="middle">Pre</text>
<text x="962.3" y="2028" font-size="29" text-anchor="middle">Post</text>
<text x="820.7" y="1559.5" font-size="23.3" text-anchor="middle">p=0.0029</text>
<text x="828.4" y="1582.1" font-size="20" text-anchor="middle">**</text>
<path d="M743.7 1582.7H912.9" stroke="#666" stroke-width="1.4"/>
<text x="743.7" y="1871.8" font-size="23" text-anchor="middle"><tspan font-style="italic">n</tspan>=14</text>
<text x="829" y="1773.6" font-size="23" text-anchor="middle"><tspan font-style="italic">n</tspan>=15</text>
<text x="918.3" y="1639.8" font-size="23" text-anchor="middle"><tspan font-style="italic">n</tspan>=17</text>
<text x="1003" y="1732.6" font-size="23" text-anchor="middle"><tspan font-style="italic">n</tspan>=23</text>
<path d="M743.7 1886.7h0M743.7 1898h0M743.7 1911.7h0M747.2 1936h0M719 1944.4h0M739.8 1943.2h0M725.8 1949.7h0M719 1953.3h0M733 1953.3h0M747.2 1953.3h0M754.7 1953.3h0M761.5 1953.3h0M768.6 1953.3h0M740.1 1953.3h0" stroke="#0000cd" stroke-width="6.7" stroke-linecap="round" fill="none"/>
<path d="M829.6 1789.4h0M829.6 1853.1h0M829.6 1876.3h0M825.2 1903.9h0M834.1 1905.4h0M829.6 1915.8h0M846.3 1939h0M838 1942h0M813 1945.3h0M829.6 1947.1h0M805.2 1952.7h0M821.6 1952.1h0M838 1953.3h0M846.3 1952.1h0M854.3 1953.3h0" stroke="#000000" stroke-width="6.7" stroke-linecap="round" fill="none"/>
<path d="M915.6 1654.7h0M915.6 1723.7h0M915.6 1747.8h0M915.6 1755.8h0M915.6 1769.2h0M915.6 1789.4h0M908.4 1839.1h0M923.3 1835.5h0M915.6 1857.8h0M915.6 1914h0M901 1937.8h0M930.8 1937.2h0M915.6 1945.3h0M930.8 1945.3h0M901 1953.3h0M915.6 1953.3h0M930.8 1953.3h0" stroke="#8ec3ff" stroke-width="6.7" stroke-linecap="round" fill="none"/>
<path d="M1001.5 1747.8h0M998.6 1823h0M1003.9 1829.3h0M1001.5 1868.8h0M1001.5 1892.6h0M999.5 1913.4h0M1003.9 1912.3h0M1001.5 1929.8h0M993.5 1937.8h0M987.6 1940.2h0M981.6 1943.8h0M1015.5 1939.6h0M1026.5 1940.2h0M1009.6 1945.3h0M987.6 1950.6h0M993.5 1949.1h0M1004.5 1949.7h0M976.9 1953.3h0M998.6 1953.3h0M1010.5 1953.3h0M1015.5 1953.3h0M1020.9 1953.3h0M1026.5 1952.1h0" stroke="#9a9a9a" stroke-width="6.7" stroke-linecap="round" fill="none"/>
<path d="M715.4 1938.4H772.5M801.4 1918.5H858.2M887 1853.7H944.1M973.3 1919.1H1030.1" stroke="#ff0000" stroke-width="3.4"/>
<g transform="translate(626.6 1890) rotate(-90)"><rect x="46.4" y="-26" width="20.5" height="31" fill="#8a2be2"/><text font-size="27.6" xml:space="preserve">CN-<tspan fill="#fff" stroke="#222" stroke-width="1.5" paint-order="stroke">5</tspan> frequency (%)</text></g>
<text x="1103" y="1547.6" font-size="64" font-weight="bold">g</text>
<path d="M1153.7 1578.7V1953.3M1138.8 1953.3H1527M1138.8 1579.7H1153.7M1138.8 1672.8H1153.7M1138.8 1766.8H1153.7M1138.8 1859.9H1153.7M1138.8 1953.3H1153.7M1210.2 1953.3v13.4M1296.5 1953.3v13.4M1382.7 1953.3v13.4M1468.4 1953.3v13.4" stroke="#000" stroke-width="1.9" fill="none"/>
<text x="1135.5" y="1590" font-size="29" text-anchor="end">40</text>
<text x="1135.5" y="1683.1" font-size="29" text-anchor="end">30</text>
<text x="1135.5" y="1777.1" font-size="29" text-anchor="end">20</text>
<text x="1135.5" y="1870.2" font-size="29" text-anchor="end">10</text>
<text x="1135.5" y="1963.6" font-size="29" text-anchor="end">0</text>
<text x="1211.7" y="1992.3" font-size="29" text-anchor="middle">R</text>
<text x="1298" y="1992.3" font-size="29" text-anchor="middle">NR</text>
<text x="1384.2" y="1992.3" font-size="29" text-anchor="middle">R</text>
<text x="1469.9" y="1992.3" font-size="29" text-anchor="middle">NR</text>
<path d="M1186.4 2001.2H1327.7M1361.3 2001.2H1502.6" stroke="#000" stroke-width="1.9"/>
<text x="1254.8" y="2028" font-size="29" text-anchor="middle">Pre</text>
<text x="1429.4" y="2028" font-size="29" text-anchor="middle">Post</text>
<text x="1284.6" y="1559.5" font-size="23.3" text-anchor="middle">p=0.0050</text>
<text x="1289.9" y="1582.1" font-size="20" text-anchor="middle">**</text>
<path d="M1207.8 1582.7H1377.1" stroke="#666" stroke-width="1.4"/>
<text x="1211.7" y="1757.3" font-size="23" text-anchor="middle"><tspan font-style="italic">n</tspan>=14</text>
<text x="1297.1" y="1723.7" font-size="23" text-anchor="middle"><tspan font-style="italic">n</tspan>=15</text>
<text x="1383.3" y="1659.1" font-size="23" text-anchor="middle"><tspan font-style="italic">n</tspan>=17</text>
<text x="1469" y="1719.2" font-size="23" text-anchor="middle"><tspan font-style="italic">n</tspan>=23</text>
<path d="M1210.2 1772.2h0M1210.2 1794.5h0M1210.2 1802.8h0M1210.2 1813.2h0M1202.8 1849.5h0M1217.6 1845.9h0M1217.6 1874.8h0M1202.8 1879.8h0M1210.2 1895.6h0M1202.8 1929.5h0M1217.6 1932.2h0M1210.2 1944.4h0M1202.8 1953.6h0M1217.6 1953.6h0" stroke="#0000cd" stroke-width="6.7" stroke-linecap="round" fill="none"/>
<path d="M1296.5 1738h0M1296.5 1765.6h0M1296.5 1787.9h0M1311.3 1839.1h0M1281.6 1845.9h0M1296.5 1842.7h0M1296.5 1852.5h0M1289 1859.9h0M1303.9 1859.9h0M1311.3 1868.2h0M1296.5 1874.2h0M1296.5 1882.2h0M1296.5 1902.7h0M1289 1953.6h0M1303.9 1953.6h0" stroke="#000000" stroke-width="6.7" stroke-linecap="round" fill="none"/>
<path d="M1382.7 1674.9h0M1367.9 1693.6h0M1382.7 1691.9h0M1397.6 1697.2h0M1382.7 1702h0M1367.9 1708.5h0M1382.7 1711.5h0M1382.7 1735.9h0M1382.7 1745.7h0M1382.7 1766.8h0M1382.7 1786.4h0M1382.7 1809.6h0M1382.7 1837h0M1382.7 1851.6h0M1382.7 1912h0M1382.7 1930.1h0M1382.7 1947.4h0" stroke="#8ec3ff" stroke-width="6.7" stroke-linecap="round" fill="none"/>
<path d="M1468.4 1735.6h0M1468.4 1761.2h0M1468.4 1787h0M1468.4 1802.5h0M1477 1819.5h0M1460.1 1826.6h0M1444.3 1829h0M1493.7 1827.2h0M1477 1830.2h0M1460.1 1834.6h0M1477 1840.9h0M1460.1 1848.9h0M1460.1 1858.1h0M1477 1856.9h0M1468.4 1868.2h0M1452 1881.3h0M1485.3 1879.5h0M1468.4 1885.8h0M1468.4 1902.4h0M1477 1914h0M1460.1 1918.2h0M1468.4 1939h0M1468.4 1953.6h0" stroke="#9a9a9a" stroke-width="6.7" stroke-linecap="round" fill="none"/>
<path d="M1182 1874.2H1238.5M1268.2 1854.6H1324.7M1354.5 1776.6H1411M1440.7 1851.9H1496.6" stroke="#ff0000" stroke-width="3.4"/>
<g transform="translate(1094.6 1890) rotate(-90)"><rect x="46.4" y="-26" width="20.5" height="31" fill="#ffdf00"/><text font-size="27.6" xml:space="preserve">CN-<tspan fill="#fff" stroke="#222" stroke-width="1.5" paint-order="stroke">8</tspan> frequency (%)</text></g>
<text x="1572" y="1554.4" font-size="64" font-weight="bold">h</text>
<path d="M1624 1578.7V1953.3M1609.1 1953.3H1997M1609.1 1579.7H1624M1609.1 1654.4H1624M1609.1 1729H1624M1609.1 1804H1624M1609.1 1878.6H1624M1609.1 1953.3H1624M1679.6 1953.3v13.4M1766.2 1953.3v13.4M1852.4 1953.3v13.4M1938.7 1953.3v13.4" stroke="#000" stroke-width="1.9" fill="none"/>
<text x="1605.8" y="1590" font-size="29" text-anchor="end">50</text>
<text x="1605.8" y="1664.7" font-size="29" text-anchor="end">40</text>
<text x="1605.8" y="1739.3" font-size="29" text-anchor="end">30</text>
<text x="1605.8" y="1814.3" font-size="29" text-anchor="end">20</text>
<text x="1605.8" y="1888.9" font-size="29" text-anchor="end">10</text>
<text x="1605.8" y="1963.6" font-size="29" text-anchor="end">0</text>
<text x="1681.1" y="1992.9" font-size="29" text-anchor="middle">R</text>
<text x="1767.7" y="1992.9" font-size="29" text-anchor="middle">NR</text>
<text x="1853.9" y="1992.9" font-size="29" text-anchor="middle">R</text>
<text x="1940.2" y="1992.9" font-size="29" text-anchor="middle">NR</text>
<path d="M1654.6 2002.1H1795.9M1829.5 2002.1H1970.8" stroke="#000" stroke-width="1.9"/>
<text x="1723.1" y="2028.6" font-size="29" text-anchor="middle">Pre</text>
<text x="1897.7" y="2028.6" font-size="29" text-anchor="middle">Post</text>
<text x="1717.7" y="1559.5" font-size="23.3" text-anchor="middle">p=0.0165</text>
<text x="1723.1" y="1582.1" font-size="20" text-anchor="middle">*</text>
<path d="M1677.8 1582.7H1762.6" stroke="#666" stroke-width="1.4"/>
<text x="1888.1" y="1559.5" font-size="23.3" text-anchor="middle">p=0.0085</text>
<text x="1895.6" y="1582.1" font-size="20" text-anchor="middle">**</text>
<path d="M1850.4 1582.7H1935.7" stroke="#666" stroke-width="1.4"/>
<text x="1680.8" y="1859" font-size="23" text-anchor="middle"><tspan font-style="italic">n</tspan>=14</text>
<text x="1767.7" y="1634.4" font-size="23" text-anchor="middle"><tspan font-style="italic">n</tspan>=15</text>
<text x="1853.9" y="1832.5" font-size="23" text-anchor="middle"><tspan font-style="italic">n</tspan>=17</text>
<text x="1939.6" y="1611.5" font-size="23" text-anchor="middle"><tspan font-style="italic">n</tspan>=23</text>
<path d="M1680.2 1872.1h0M1680.2 1880.7h0M1680.2 1906.3h0M1667.7 1918.8h0M1680.2 1916.4h0M1692.4 1915.2h0M1667.7 1941.4h0M1680.2 1943.5h0M1692.4 1942.6h0M1655.5 1953.6h0M1667.7 1953.6h0M1680.2 1953.6h0M1692.4 1953.6h0M1704.9 1953.6h0" stroke="#0000cd" stroke-width="6.7" stroke-linecap="round" fill="none"/>
<path d="M1766.2 1649.6h0M1766.2 1672.5h0M1766.2 1756.4h0M1758.7 1811.1h0M1773.6 1807.6h0M1766.2 1819.8h0M1766.2 1854.8h0M1751.3 1861.4h0M1766.2 1865.3h0M1766.2 1892.9h0M1751.3 1901.8h0M1766.2 1904.2h0M1781.7 1901.8h0M1766.2 1927.1h0M1766.2 1941.1h0" stroke="#000000" stroke-width="6.7" stroke-linecap="round" fill="none"/>
<path d="M1846.5 1848.3h0M1858.4 1848.3h0M1864.9 1869.7h0M1852.4 1874.2h0M1852.4 1892.9h0M1840 1908.4h0M1864.9 1909.9h0M1852.4 1913.4h0M1852.4 1939.3h0M1864.9 1938.7h0M1827.8 1945.3h0M1840 1947.1h0M1852.4 1949.1h0M1864.9 1948.5h0M1877.4 1945.6h0M1827.8 1953.6h0M1877.4 1953.6h0" stroke="#8ec3ff" stroke-width="6.7" stroke-linecap="round" fill="none"/>
<path d="M1938.7 1625.5h0M1938.7 1644h0M1938.7 1703.2h0M1938.7 1728.1h0M1926.2 1744.8h0M1951.2 1744.2h0M1938.7 1750.4h0M1938.7 1768.6h0M1926.2 1770.4h0M1951.2 1776.6h0M1938.7 1797.1h0M1963.7 1809h0M1926.2 1817.1h0M1938.7 1814.4h0M1913.7 1821.5h0M1951.2 1820.6h0M1963.7 1820h0M1938.7 1826.9h0M1926.2 1834.3h0M1938.7 1838.5h0M1938.7 1848.6h0M1944.7 1862.6h0M1932.2 1867.3h0" stroke="#9a9a9a" stroke-width="6.7" stroke-linecap="round" fill="none"/>
<path d="M1651.7 1928.6H1708.8M1737.9 1837.6H1794.4M1824.2 1916.7H1881.3M1909.8 1783.5H1967" stroke="#ff0000" stroke-width="3.4"/>
<g transform="translate(1560.4 1907.5) rotate(-90)"><rect x="46.4" y="-26" width="35.9" height="31" fill="#ff69b4"/><text font-size="27.6" xml:space="preserve">CN-<tspan fill="#fff" stroke="#222" stroke-width="1.5" paint-order="stroke">10</tspan> frequency (%)</text></g>
<text x="648" y="2107.8" font-size="64" font-weight="bold">i</text>
<path d="M686.6 2141V2515M671.4 2515H1061M671.4 2142H686.6M671.4 2235.1H686.6M671.4 2328.2H686.6M671.4 2421.3H686.6M671.4 2515H686.6M743.7 2515v13.4M829.6 2515v13.4M915.9 2515v13.4M1001.5 2515v13.4" stroke="#000" stroke-width="1.9" fill="none"/>
<text x="668.1" y="2152.3" font-size="29" text-anchor="end">4</text>
<text x="668.1" y="2245.4" font-size="29" text-anchor="end">3</text>
<text x="668.1" y="2338.5" font-size="29" text-anchor="end">2</text>
<text x="668.1" y="2431.6" font-size="29" text-anchor="end">1</text>
<text x="668.1" y="2525.3" font-size="29" text-anchor="end">0</text>
<text x="745.2" y="2552.2" font-size="29" text-anchor="middle">R</text>
<text x="831.1" y="2552.2" font-size="29" text-anchor="middle">NR</text>
<text x="917.4" y="2552.2" font-size="29" text-anchor="middle">R</text>
<text x="1003" y="2552.2" font-size="29" text-anchor="middle">NR</text>
<path d="M736.2 2562H846.9M911.7 2562H1022.4" stroke="#000" stroke-width="1.9"/>
<text x="790.4" y="2590.3" font-size="29" text-anchor="middle">Pre</text>
<text x="964.4" y="2590.3" font-size="29" text-anchor="middle">Post</text>
<text x="825.2" y="2119.7" font-size="23.3" text-anchor="middle">p=0.0004</text>
<text x="825.2" y="2142.6" font-size="20" text-anchor="middle">***</text>
<path d="M743.7 2143.5H912.9" stroke="#666" stroke-width="1.4"/>
<text x="959.9" y="2119.7" font-size="23.3" text-anchor="middle">p=0.0460</text>
<text x="963.5" y="2142.6" font-size="20" text-anchor="middle">*</text>
<path d="M920.3 2143.5H1006" stroke="#666" stroke-width="1.4"/>
<text x="744.9" y="2281.5" font-size="23" text-anchor="middle"><tspan font-style="italic">n</tspan>=14</text>
<text x="831.4" y="2397.8" font-size="23" text-anchor="middle"><tspan font-style="italic">n</tspan>=15</text>
<text x="917.7" y="2174.4" font-size="23" text-anchor="middle"><tspan font-style="italic">n</tspan>=17</text>
<text x="1003.9" y="2414.8" font-size="23" text-anchor="middle"><tspan font-style="italic">n</tspan>=23</text>
<path d="M739.5 2295.8h0M747.8 2295.8h0M744 2338h0M744 2385.9h0M739.5 2473.4h0M747.8 2473.4h0M744 2485h0M719 2515h0M727.3 2515h0M735.6 2515h0M744 2515h0M752.3 2515h0M760.6 2515h0M768.9 2515h0" stroke="#0000cd" stroke-width="6.7" stroke-linecap="round" fill="none"/>
<path d="M829.9 2411.8h0M829.9 2451.1h0M829.9 2466.5h0M826.7 2480.8h0M833.5 2482h0M829.9 2499.5h0M805.2 2515h0M812.4 2515h0M819.5 2515h0M826.7 2515h0M833.5 2515h0M840.6 2515h0M847.8 2515h0M854.9 2515h0M829.9 2515h0" stroke="#000000" stroke-width="6.7" stroke-linecap="round" fill="none"/>
<path d="M915.9 2187.8h0M908.7 2214.3h0M923.6 2219.7h0M915.9 2245.2h0M915.9 2266.1h0M915.9 2286.3h0M915.9 2304.1h0M923.6 2332.4h0M908.7 2338h0M923.6 2339.8h0M915.9 2351.4h0M915.9 2390.4h0M915.9 2405h0M915.9 2428.5h0M915.9 2462.7h0M908.7 2515h0M923.6 2515h0" stroke="#8ec3ff" stroke-width="6.7" stroke-linecap="round" fill="none"/>
<path d="M1002.1 2430.8h0M1008.7 2453.4h0M1002.1 2457h0M995.6 2482.6h0M1002.1 2485.3h0M1008.7 2485.3h0M1002.1 2499.5h0M1008.7 2499.5h0M1015.2 2499.5h0M1027.1 2504h0M989.6 2502.5h0M983.7 2507.6h0M989.6 2508.5h0M995.6 2509.4h0M1020.9 2507h0M977.2 2515h0M989.6 2515h0M1002.1 2515h0M1008.7 2515h0M1015.2 2515h0M1020.9 2515h0M1027.1 2515h0M995.6 2504h0" stroke="#9a9a9a" stroke-width="6.7" stroke-linecap="round" fill="none"/>
<path d="M715.4 2453.4H772.5M801.4 2494.5H858.8M887.6 2341H944.4M973.9 2496.6H1030.7" stroke="#ff0000" stroke-width="3.4"/>
<text transform="translate(635.6 2516) rotate(-90)" font-size="26.8">ICOS<tspan dy="-9.4" font-size="17.1">+</tspan><tspan dy="9.4"> CD4</tspan><tspan dy="-9.4" font-size="17.1">+</tspan><tspan dy="9.4"> T cell frequency (%)</tspan></text>
<text x="1112.5" y="2107.8" font-size="64" font-weight="bold">j</text>
<path d="M1153.7 2141V2515M1138.8 2515H1527M1138.8 2142H1153.7M1138.8 2266.1H1153.7M1138.8 2390.4H1153.7M1138.8 2515H1153.7M1210.2 2515v13.4M1296.5 2515v13.4M1382.7 2515v13.4M1468.4 2515v13.4" stroke="#000" stroke-width="1.9" fill="none"/>
<text x="1135.5" y="2152.3" font-size="29" text-anchor="end">3</text>
<text x="1135.5" y="2276.4" font-size="29" text-anchor="end">2</text>
<text x="1135.5" y="2400.7" font-size="29" text-anchor="end">1</text>
<text x="1135.5" y="2525.3" font-size="29" text-anchor="end">0</text>
<text x="1211.7" y="2552.2" font-size="29" text-anchor="middle">R</text>
<text x="1298" y="2552.2" font-size="29" text-anchor="middle">NR</text>
<text x="1384.2" y="2552.2" font-size="29" text-anchor="middle">R</text>
<text x="1469.9" y="2552.2" font-size="29" text-anchor="middle">NR</text>
<path d="M1201.3 2562H1312.2M1376.8 2562H1487.7" stroke="#000" stroke-width="1.9"/>
<text x="1255.4" y="2590.3" font-size="29" text-anchor="middle">Pre</text>
<text x="1429.7" y="2590.3" font-size="29" text-anchor="middle">Post</text>
<text x="1298" y="2119.7" font-size="23.3" text-anchor="middle">p=0.0001</text>
<text x="1299.4" y="2142.6" font-size="20" text-anchor="middle">***</text>
<path d="M1207.8 2143.5H1377.1" stroke="#666" stroke-width="1.4"/>
<text x="1433.3" y="2119.7" font-size="23.3" text-anchor="middle">p=0.0108</text>
<text x="1429.7" y="2142.6" font-size="20" text-anchor="middle">*</text>
<path d="M1384.2 2143.5H1469.9" stroke="#666" stroke-width="1.4"/>
<text x="1211.7" y="2431.1" font-size="23" text-anchor="middle"><tspan font-style="italic">n</tspan>=14</text>
<text x="1297.1" y="2337.4" font-size="23" text-anchor="middle"><tspan font-style="italic">n</tspan>=15</text>
<text x="1383.3" y="2224.4" font-size="23" text-anchor="middle"><tspan font-style="italic">n</tspan>=17</text>
<text x="1469" y="2421.6" font-size="23" text-anchor="middle"><tspan font-style="italic">n</tspan>=23</text>
<path d="M1210.8 2446.3h0M1210.8 2457.3h0M1204.3 2477.5h0M1210.8 2475.5h0M1217 2484.7h0M1184.9 2515h0M1191.5 2515h0M1197.7 2515h0M1204.3 2515h0M1210.8 2515h0M1217 2515h0M1223.6 2515h0M1230.1 2515h0M1236.4 2515h0" stroke="#0000cd" stroke-width="6.7" stroke-linecap="round" fill="none"/>
<path d="M1296.5 2354.1h0M1296.5 2380.9h0M1296.5 2417.5h0M1296.5 2429.1h0M1296.5 2454.6h0M1300.3 2492.4h0M1292.9 2499h0M1271.2 2515h0M1278.3 2515h0M1285.5 2515h0M1292.9 2515h0M1300.3 2515h0M1307.5 2515h0M1314.6 2515h0M1321.7 2515h0" stroke="#000000" stroke-width="6.7" stroke-linecap="round" fill="none"/>
<path d="M1382.7 2239.9h0M1382.7 2304.1h0M1382.7 2340.4h0M1382.7 2348.7h0M1382.7 2400.5h0M1374.4 2418.3h0M1391.1 2417.8h0M1374.4 2435h0M1391.1 2438.6h0M1374.4 2443.6h0M1358 2460h0M1374.4 2460.3h0M1391.1 2463h0M1407.7 2462.7h0M1374.4 2473.4h0M1391.1 2475.5h0M1382.7 2485.3h0" stroke="#8ec3ff" stroke-width="6.7" stroke-linecap="round" fill="none"/>
<path d="M1469 2437.4h0M1469 2452.8h0M1469 2469.8h0M1477 2478.7h0M1461 2483.2h0M1464.5 2485.3h0M1469 2486.2h0M1472.6 2490.6h0M1464.5 2498.1h0M1456.2 2504h0M1448.2 2509.4h0M1443.7 2515h0M1449.6 2515h0M1455.6 2515h0M1461.5 2515h0M1467.5 2515h0M1473.4 2515h0M1479.4 2515h0M1485.3 2515h0M1489.8 2515h0M1494.3 2515h0M1446.7 2512.9h0M1452.6 2515h0" stroke="#9a9a9a" stroke-width="6.7" stroke-linecap="round" fill="none"/>
<path d="M1182 2498.1H1239.1M1268.2 2476.3H1324.7M1354.5 2416H1411M1440.7 2498.4H1497.2" stroke="#ff0000" stroke-width="3.4"/>
<text transform="translate(1105.5 2516) rotate(-90)" font-size="26.9">Ki-67<tspan dy="-9.4" font-size="17.1">+</tspan><tspan dy="9.4"> CD4</tspan><tspan dy="-9.4" font-size="17.1">+</tspan><tspan dy="9.4"> T cell frequency (%)</tspan></text>
<text x="1572" y="2107.8" font-size="64" font-weight="bold">k</text>
<path d="M1623.4 2141V2515M1608.5 2515H1997M1608.5 2142H1623.4M1608.5 2216.7H1623.4M1608.5 2291.3H1623.4M1608.5 2365.7H1623.4M1608.5 2440.4H1623.4M1608.5 2515H1623.4M1679.6 2515v13.4M1766.2 2515v13.4M1852.4 2515v13.4M1938.1 2515v13.4" stroke="#000" stroke-width="1.9" fill="none"/>
<text x="1605.2" y="2152.3" font-size="29" text-anchor="end">25</text>
<text x="1605.2" y="2227" font-size="29" text-anchor="end">20</text>
<text x="1605.2" y="2301.6" font-size="29" text-anchor="end">15</text>
<text x="1605.2" y="2376" font-size="29" text-anchor="end">10</text>
<text x="1605.2" y="2450.7" font-size="29" text-anchor="end">5</text>
<text x="1605.2" y="2525.3" font-size="29" text-anchor="end">0</text>
<text x="1681.1" y="2552.2" font-size="29" text-anchor="middle">R</text>
<text x="1767.7" y="2552.2" font-size="29" text-anchor="middle">NR</text>
<text x="1853.9" y="2552.2" font-size="29" text-anchor="middle">R</text>
<text x="1939.6" y="2552.2" font-size="29" text-anchor="middle">NR</text>
<path d="M1671 2562H1781.1M1845.6 2562H1956" stroke="#000" stroke-width="1.9"/>
<text x="1724.5" y="2590.3" font-size="29" text-anchor="middle">Pre</text>
<text x="1902.1" y="2590.3" font-size="29" text-anchor="middle">Post</text>
<text x="1723.7" y="2119.7" font-size="23.3" text-anchor="middle">p=0.0414</text>
<text x="1723.1" y="2142.6" font-size="20" text-anchor="middle">*</text>
<path d="M1677.8 2143.5H1762.6" stroke="#666" stroke-width="1.4"/>
<text x="1897.1" y="2119.7" font-size="23.3" text-anchor="middle">p=0.0122</text>
<text x="1896.5" y="2142.6" font-size="20" text-anchor="middle">*</text>
<path d="M1850.4 2143.5H1935.7" stroke="#666" stroke-width="1.4"/>
<text x="1679" y="2437.7" font-size="23" text-anchor="middle"><tspan font-style="italic">n</tspan>=14</text>
<text x="1766.2" y="2386.5" font-size="23" text-anchor="middle"><tspan font-style="italic">n</tspan>=15</text>
<text x="1851.8" y="2424.3" font-size="23" text-anchor="middle"><tspan font-style="italic">n</tspan>=17</text>
<text x="1937.2" y="2182.8" font-size="23" text-anchor="middle"><tspan font-style="italic">n</tspan>=23</text>
<path d="M1679.6 2452.8h0M1679.6 2477.2h0M1679.6 2486.8h0M1665.1 2495.1h0M1674.9 2494.2h0M1654.6 2498.1h0M1704.6 2496.6h0M1665.1 2504h0M1685 2502.5h0M1694.8 2501.6h0M1665.1 2515h0M1674.9 2515h0M1685 2515h0M1694.8 2515h0" stroke="#0000cd" stroke-width="6.7" stroke-linecap="round" fill="none"/>
<path d="M1765.6 2402h0M1765.6 2410.6h0M1773.6 2425.2h0M1757.3 2430.2h0M1773.6 2435.6h0M1740.9 2452h0M1757.3 2453.4h0M1773.6 2452.8h0M1790.6 2452h0M1740.9 2466.8h0M1790.6 2465.3h0M1757.3 2471.3h0M1773.6 2470.4h0M1790.6 2473.7h0M1765.6 2482.3h0" stroke="#000000" stroke-width="6.7" stroke-linecap="round" fill="none"/>
<path d="M1851.8 2439.2h0M1859.9 2477.2h0M1851.8 2482.3h0M1843.5 2487.1h0M1859.9 2489.1h0M1843.5 2495.1h0M1859.9 2496.6h0M1835.5 2501h0M1851.8 2501h0M1859.9 2505.5h0M1835.5 2509.1h0M1843.5 2510.9h0M1851.8 2510.9h0M1868.2 2510.9h0M1827.2 2513.8h0M1859.9 2515h0M1877.1 2515h0" stroke="#8ec3ff" stroke-width="6.7" stroke-linecap="round" fill="none"/>
<path d="M1937.5 2199.7h0M1937.5 2309.8h0M1937.5 2337.7h0M1937.5 2375.2h0M1937.5 2394h0M1929.8 2408.8h0M1913.4 2414.8h0M1946.1 2415.7h0M1963.4 2415.7h0M1946.1 2431.1h0M1963.4 2432h0M1929.8 2435.6h0M1946.1 2442.4h0M1929.8 2445.1h0M1946.1 2455.5h0M1929.8 2460.9h0M1913.4 2468.3h0M1929.8 2468.3h0M1963.4 2473.7h0M1913.4 2478.7h0M1946.1 2485.3h0M1963.4 2485.3h0M1913.4 2488.5h0" stroke="#9a9a9a" stroke-width="6.7" stroke-linecap="round" fill="none"/>
<path d="M1651.7 2498.1H1708.8M1737.9 2449.6H1794.4M1823.6 2498.1H1881.3M1909.8 2422.5H1967" stroke="#ff0000" stroke-width="3.4"/>
<text transform="translate(1561.5 2481.5) rotate(-90)" font-size="28.1">ICOS<tspan dy="-9.4" font-size="17.1">+</tspan><tspan dy="9.4"> Treg fequency (%)</tspan></text>
</svg></body></html>
